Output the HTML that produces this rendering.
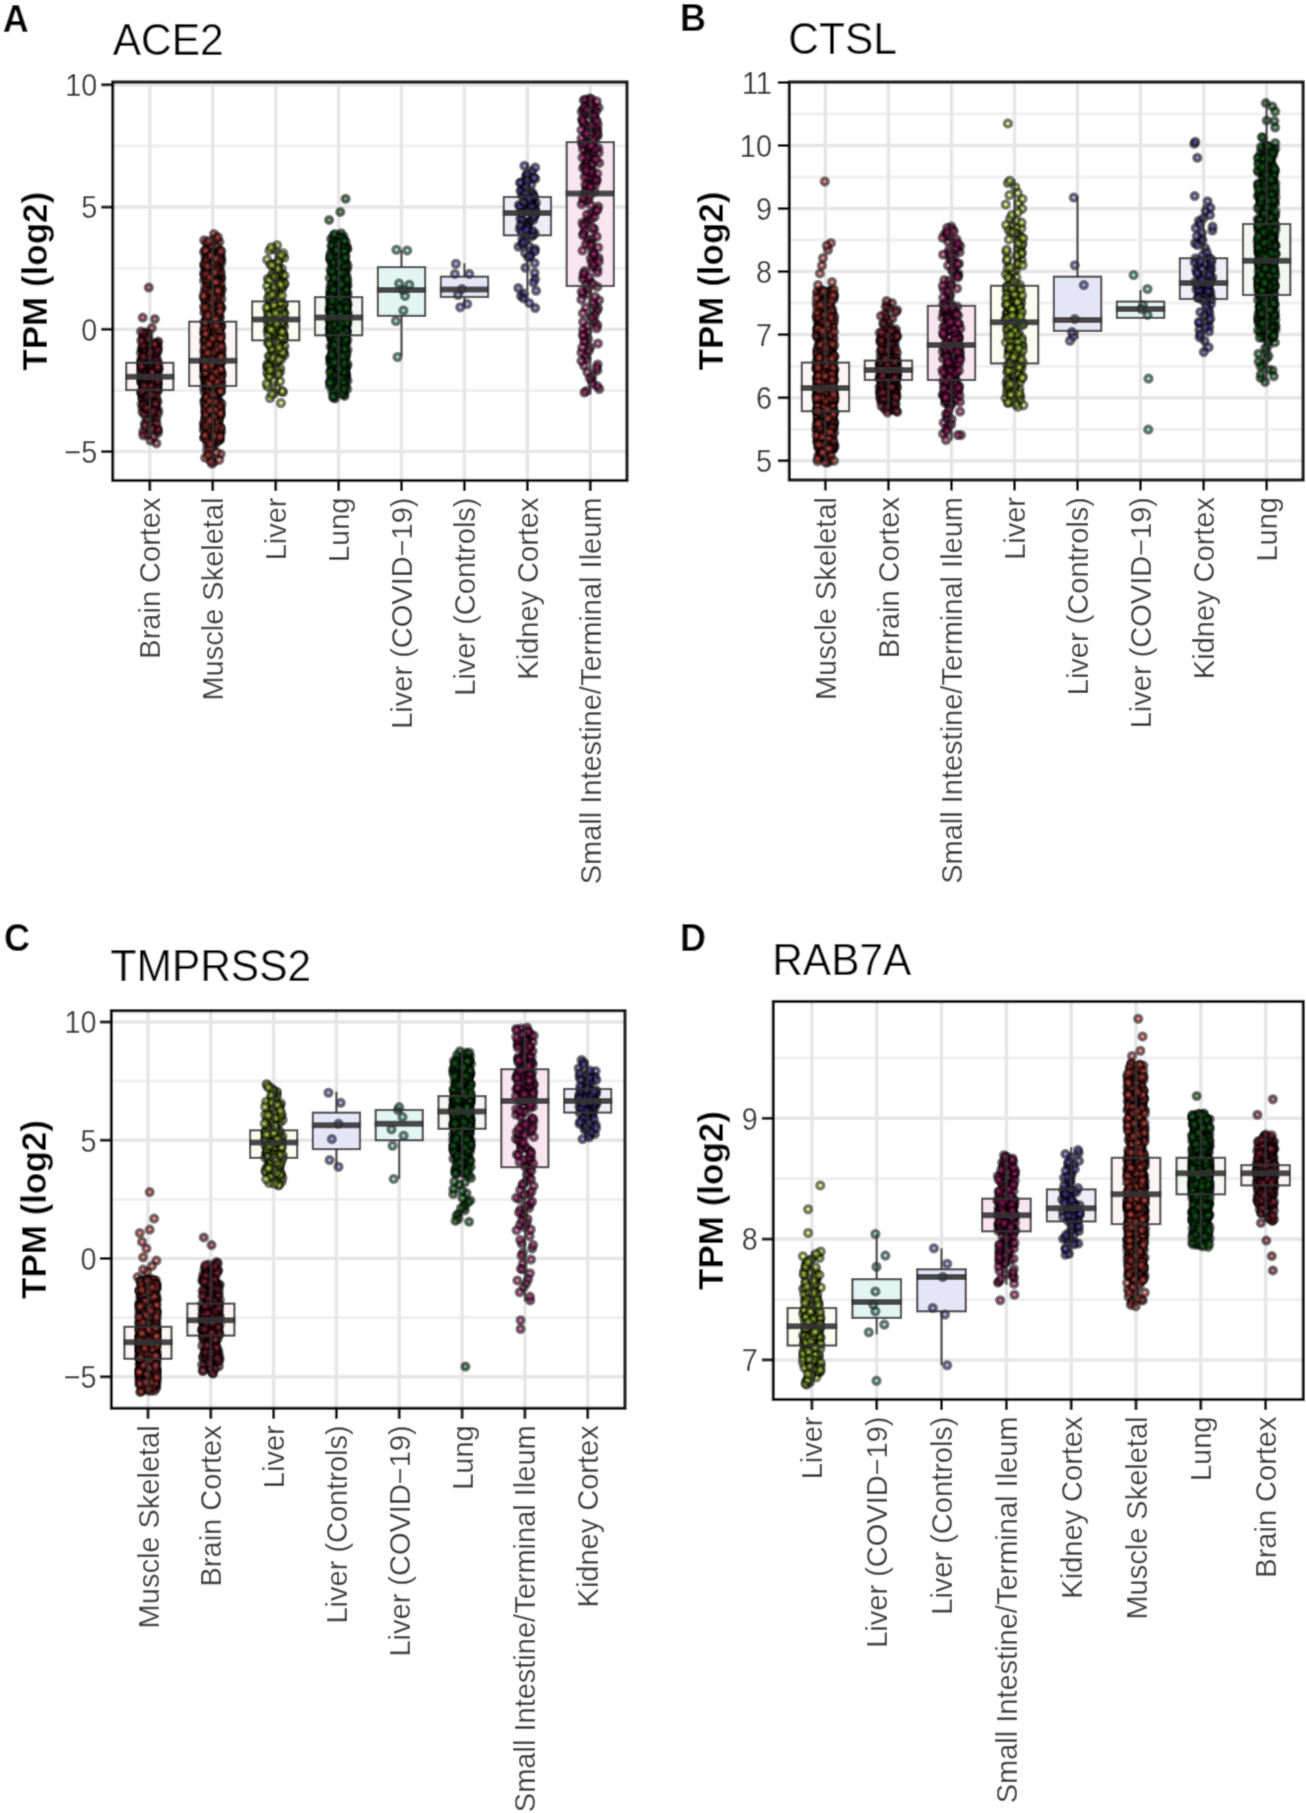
<!DOCTYPE html><html><head><meta charset="utf-8"><style>html,body{margin:0;padding:0;background:#fff;overflow:hidden}svg{display:block}text{font-family:"Liberation Sans",sans-serif}.p circle{r:3.50px;stroke:#000;stroke-width:3.50px;fill-opacity:0.62;stroke-opacity:0.50}</style></head><body><svg width="1306" height="1813" viewBox="0 0 1306 1813"><defs><filter id="bl" x="0" y="0" width="1306" height="1813" filterUnits="userSpaceOnUse"><feConvolveMatrix order="3" kernelMatrix="0.0277 0.1110 0.0277 0.1110 0.4452 0.1110 0.0277 0.1110 0.0277" edgeMode="duplicate" preserveAlpha="true"/></filter></defs><g filter="url(#bl)"><rect width="1306" height="1813" fill="#fff"/><text transform="translate(2.8 31.6) scale(0.95 1)" font-size="38" font-weight="bold" fill="#000">A</text><text transform="translate(112.8 54.5) scale(0.965 1)" font-size="44" fill="#000">ACE2</text><g stroke="#e6e6e6" stroke-width="3.5"><line x1="112.7" x2="627" y1="145.9" y2="145.9" stroke-width="3" stroke="#f0f0f0"/><line x1="112.7" x2="627" y1="268.2" y2="268.2" stroke-width="3" stroke="#f0f0f0"/><line x1="112.7" x2="627" y1="390.4" y2="390.4" stroke-width="3" stroke="#f0f0f0"/><line x1="112.7" x2="627" y1="84.8" y2="84.8"/><line x1="112.7" x2="627" y1="207.1" y2="207.1"/><line x1="112.7" x2="627" y1="329.3" y2="329.3"/><line x1="112.7" x2="627" y1="451.6" y2="451.6"/><line x1="149.8" x2="149.8" y1="82" y2="480.5"/><line x1="212.7" x2="212.7" y1="82" y2="480.5"/><line x1="275.7" x2="275.7" y1="82" y2="480.5"/><line x1="338.6" x2="338.6" y1="82" y2="480.5"/><line x1="401.5" x2="401.5" y1="82" y2="480.5"/><line x1="464.4" x2="464.4" y1="82" y2="480.5"/><line x1="527.4" x2="527.4" y1="82" y2="480.5"/><line x1="590.3" x2="590.3" y1="82" y2="480.5"/></g><rect x="126.2" y="362.8" width="47.2" height="27.2" fill="#fbf4f5"/><rect x="189.1" y="321.7" width="47.2" height="64.3" fill="#fdf4f4"/><rect x="252.1" y="301.4" width="47.2" height="38.9" fill="#fbfdf0"/><rect x="315" y="297.1" width="47.2" height="38.2" fill="#f3f7f3"/><rect x="377.9" y="267.1" width="47.2" height="48.8" fill="#e2f5f2"/><rect x="440.9" y="276.7" width="47.2" height="20.3" fill="#e5e5f8"/><rect x="503.8" y="197" width="47.2" height="38.3" fill="#eeecf6"/><rect x="566.7" y="142.1" width="47.2" height="143.9" fill="#f8e5f0"/><g class="p" fill="#9a2a3c"><circle cx="147.2" cy="411"/><circle cx="154.6" cy="351.1"/><circle cx="151.1" cy="363.9"/><circle cx="146.6" cy="355.8"/><circle cx="150.5" cy="357.1"/><circle cx="147.4" cy="402.5"/><circle cx="146.7" cy="373.8"/><circle cx="144.8" cy="392.6"/><circle cx="144.7" cy="346.7"/><circle cx="157" cy="378.4"/><circle cx="147.9" cy="374.2"/><circle cx="143.4" cy="395.4"/><circle cx="152.3" cy="387.6"/><circle cx="155.1" cy="421.7"/><circle cx="146.6" cy="434.5"/><circle cx="144.2" cy="361.2"/><circle cx="141.4" cy="361"/><circle cx="149.4" cy="359.9"/><circle cx="157.6" cy="384"/><circle cx="141.2" cy="365.5"/><circle cx="146.9" cy="419.6"/><circle cx="145.6" cy="369.3"/><circle cx="150.4" cy="409"/><circle cx="145" cy="382.6"/><circle cx="154.9" cy="369"/><circle cx="149" cy="377.8"/><circle cx="152.1" cy="360.7"/><circle cx="151.4" cy="365.2"/><circle cx="155.6" cy="346.1"/><circle cx="141.5" cy="363.6"/><circle cx="145" cy="381.5"/><circle cx="141.6" cy="404"/><circle cx="142.6" cy="393.3"/><circle cx="145.7" cy="401.2"/><circle cx="147.5" cy="388.3"/><circle cx="142.4" cy="407.5"/><circle cx="142.5" cy="412"/><circle cx="153.4" cy="375.3"/><circle cx="153.5" cy="375.6"/><circle cx="142.7" cy="383.6"/><circle cx="142.3" cy="362.7"/><circle cx="143.9" cy="335.7"/><circle cx="141.6" cy="382.3"/><circle cx="149.5" cy="350.2"/><circle cx="152.5" cy="398.7"/><circle cx="144" cy="355"/><circle cx="158.5" cy="369.5"/><circle cx="144.1" cy="353.1"/><circle cx="153" cy="414.8"/><circle cx="151" cy="405.1"/><circle cx="143.7" cy="375.5"/><circle cx="141.3" cy="393"/><circle cx="156" cy="362.1"/><circle cx="149.9" cy="389.3"/><circle cx="152.1" cy="371.9"/><circle cx="155" cy="373.6"/><circle cx="143.2" cy="378.6"/><circle cx="151.8" cy="350.6"/><circle cx="153.5" cy="379.8"/><circle cx="156.6" cy="354.4"/><circle cx="149.8" cy="381.8"/><circle cx="146.7" cy="354.6"/><circle cx="152" cy="356.2"/><circle cx="148" cy="359.3"/><circle cx="147.1" cy="412"/><circle cx="151.5" cy="379.4"/><circle cx="148" cy="372.7"/><circle cx="146.7" cy="357"/><circle cx="154.7" cy="349.7"/><circle cx="143.6" cy="394"/><circle cx="154.1" cy="427.6"/><circle cx="150.1" cy="363.2"/><circle cx="154.1" cy="376.5"/><circle cx="149.9" cy="353.5"/><circle cx="157.4" cy="386.1"/><circle cx="155.5" cy="365.8"/><circle cx="144.9" cy="423.5"/><circle cx="157.9" cy="432.9"/><circle cx="140.9" cy="352.7"/><circle cx="146.8" cy="384.3"/><circle cx="152.4" cy="390.2"/><circle cx="142.2" cy="349.1"/><circle cx="143.6" cy="376.8"/><circle cx="156.2" cy="382.1"/><circle cx="151.8" cy="373.9"/><circle cx="144.2" cy="340.1"/><circle cx="156.5" cy="443.2"/><circle cx="146.9" cy="380.4"/><circle cx="158.2" cy="341.5"/><circle cx="154.9" cy="406.6"/><circle cx="157.2" cy="382.5"/><circle cx="144.8" cy="367.4"/><circle cx="150.9" cy="369.2"/><circle cx="147.4" cy="357.9"/><circle cx="158.1" cy="430.3"/><circle cx="151.2" cy="383"/><circle cx="146.6" cy="406.3"/><circle cx="153.8" cy="372.1"/><circle cx="152.5" cy="370.1"/><circle cx="142" cy="358.5"/><circle cx="141.7" cy="348.7"/><circle cx="146.4" cy="381"/><circle cx="148" cy="370.7"/><circle cx="141.1" cy="368.9"/><circle cx="151.9" cy="328"/><circle cx="152.4" cy="417.6"/><circle cx="152.6" cy="364.7"/><circle cx="144.1" cy="361.4"/><circle cx="156.2" cy="409.5"/><circle cx="150.1" cy="383.4"/><circle cx="148.6" cy="403.8"/><circle cx="155" cy="353.9"/><circle cx="143.4" cy="384.9"/><circle cx="157.2" cy="370.6"/><circle cx="147.4" cy="397.4"/><circle cx="152.9" cy="357.5"/><circle cx="153.9" cy="371.3"/><circle cx="146.6" cy="398.3"/><circle cx="157.4" cy="368.3"/><circle cx="151" cy="371.2"/><circle cx="142.7" cy="389"/><circle cx="148.7" cy="381.2"/><circle cx="154" cy="368.6"/><circle cx="154.1" cy="383.8"/><circle cx="142.5" cy="373"/><circle cx="142.7" cy="317.6"/><circle cx="146.5" cy="375.9"/><circle cx="149.4" cy="397.1"/><circle cx="157.8" cy="390.9"/><circle cx="151" cy="366.4"/><circle cx="144.1" cy="401.6"/><circle cx="148.6" cy="334.5"/><circle cx="145.8" cy="387.7"/><circle cx="147.8" cy="376.2"/><circle cx="142.2" cy="397.7"/><circle cx="156.7" cy="345.2"/><circle cx="157.8" cy="428.9"/><circle cx="154" cy="407.1"/><circle cx="144.6" cy="384.2"/><circle cx="154.6" cy="402.5"/><circle cx="155.7" cy="375.8"/><circle cx="143.8" cy="347.6"/><circle cx="150.4" cy="440.5"/><circle cx="143.2" cy="431.4"/><circle cx="151.4" cy="347.1"/><circle cx="155.3" cy="383.8"/><circle cx="147.7" cy="371.6"/><circle cx="154.6" cy="378"/><circle cx="143.6" cy="348.5"/><circle cx="153.9" cy="374.6"/><circle cx="148.9" cy="388.9"/><circle cx="150.8" cy="388.1"/><circle cx="144.6" cy="390.1"/><circle cx="144.7" cy="367.1"/><circle cx="151.3" cy="413.5"/><circle cx="144.1" cy="386.5"/><circle cx="150.3" cy="364.4"/><circle cx="143" cy="399.3"/><circle cx="142.4" cy="337.8"/><circle cx="143.2" cy="387.2"/><circle cx="151.4" cy="389.2"/><circle cx="155.1" cy="408.7"/><circle cx="151.1" cy="410.4"/><circle cx="145.6" cy="399"/><circle cx="158.1" cy="347.4"/><circle cx="152.3" cy="368.6"/><circle cx="145" cy="425.8"/><circle cx="145" cy="363"/><circle cx="147.2" cy="336.6"/><circle cx="146.9" cy="409.3"/><circle cx="141.3" cy="360"/><circle cx="143.9" cy="386.3"/><circle cx="150.2" cy="364.8"/><circle cx="146.5" cy="377.4"/><circle cx="157.9" cy="350.9"/><circle cx="151.4" cy="400.4"/><circle cx="153.1" cy="381.6"/><circle cx="141.4" cy="382.8"/><circle cx="151.1" cy="374.8"/><circle cx="147.9" cy="376.1"/><circle cx="158" cy="410"/><circle cx="150.1" cy="355.3"/><circle cx="157.8" cy="389.6"/><circle cx="151.4" cy="386.6"/><circle cx="141" cy="378.7"/><circle cx="143.7" cy="384.4"/><circle cx="156.5" cy="417.9"/><circle cx="148.3" cy="354.3"/><circle cx="157.7" cy="342.9"/><circle cx="146.1" cy="388.5"/><circle cx="143.8" cy="351.6"/><circle cx="143.2" cy="435.2"/><circle cx="143.5" cy="339.1"/><circle cx="145" cy="352.1"/><circle cx="155.5" cy="411.4"/><circle cx="149.6" cy="379.2"/><circle cx="152.9" cy="388"/><circle cx="147.9" cy="377.9"/><circle cx="150.2" cy="345.7"/><circle cx="153.6" cy="436.7"/><circle cx="158.2" cy="413"/><circle cx="141.1" cy="373.4"/><circle cx="145.3" cy="373.3"/><circle cx="144.9" cy="348.1"/><circle cx="147.4" cy="385.8"/><circle cx="143.7" cy="365.4"/><circle cx="156.2" cy="364.3"/><circle cx="145" cy="346.4"/><circle cx="148" cy="374.5"/><circle cx="155.4" cy="382.8"/><circle cx="147.2" cy="395.9"/><circle cx="150.8" cy="347"/><circle cx="148.8" cy="287.5"/><circle cx="148.4" cy="370.9"/><circle cx="155.2" cy="366.3"/><circle cx="157" cy="361.7"/><circle cx="142.7" cy="397.9"/><circle cx="145.5" cy="391.6"/><circle cx="150.8" cy="351.5"/><circle cx="153" cy="349.8"/><circle cx="143.5" cy="365"/><circle cx="146.6" cy="379.6"/><circle cx="157.6" cy="402.1"/><circle cx="146.2" cy="391.9"/><circle cx="158" cy="383.2"/><circle cx="146.2" cy="332.5"/><circle cx="144.9" cy="379.1"/><circle cx="153.3" cy="372.5"/><circle cx="146.8" cy="400.9"/><circle cx="141.2" cy="381.1"/><circle cx="142.1" cy="393.6"/><circle cx="148.7" cy="412.6"/><circle cx="146.5" cy="405.1"/><circle cx="155.3" cy="387.4"/><circle cx="155.8" cy="348.1"/><circle cx="147.5" cy="369.7"/><circle cx="151.1" cy="358.2"/><circle cx="149.8" cy="367.3"/><circle cx="146.2" cy="362.1"/><circle cx="144.3" cy="414.2"/><circle cx="143.7" cy="334"/><circle cx="147" cy="408.3"/><circle cx="157" cy="399.8"/><circle cx="143.1" cy="380.2"/><circle cx="146.9" cy="363.5"/><circle cx="152.6" cy="375.1"/><circle cx="144.3" cy="333"/><circle cx="145.3" cy="371"/><circle cx="150.6" cy="403.1"/><circle cx="150.6" cy="406"/><circle cx="157.7" cy="372.2"/><circle cx="156.7" cy="423.4"/><circle cx="155.4" cy="389.9"/><circle cx="156.1" cy="395.1"/><circle cx="142.8" cy="366.6"/><circle cx="157.3" cy="370.3"/><circle cx="146" cy="352.2"/><circle cx="153.4" cy="385.6"/><circle cx="141.3" cy="370.3"/><circle cx="148.1" cy="400.1"/><circle cx="141" cy="392.3"/><circle cx="157.7" cy="385.5"/><circle cx="153.7" cy="387"/><circle cx="150.8" cy="368.4"/><circle cx="144.1" cy="379.6"/><circle cx="153.6" cy="358.7"/><circle cx="152.5" cy="380.7"/><circle cx="150.7" cy="384.7"/><circle cx="141" cy="363.1"/><circle cx="151.9" cy="429"/><circle cx="153.6" cy="388.8"/><circle cx="156.4" cy="365.7"/><circle cx="143.2" cy="384.9"/><circle cx="154.2" cy="358.9"/><circle cx="145.6" cy="359.5"/><circle cx="149.8" cy="375"/><circle cx="141.6" cy="366.2"/><circle cx="148.2" cy="355.5"/><circle cx="148.2" cy="338.6"/><circle cx="147.8" cy="396.3"/><circle cx="143.7" cy="376.9"/><circle cx="143.3" cy="385.2"/><circle cx="154.2" cy="367.6"/><circle cx="152" cy="376.6"/><circle cx="155.2" cy="353.4"/><circle cx="152.1" cy="350.3"/><circle cx="147" cy="396.4"/><circle cx="154.1" cy="345.6"/><circle cx="142.6" cy="344.7"/><circle cx="151.4" cy="388.3"/><circle cx="143" cy="387.1"/><circle cx="145.9" cy="374.1"/><circle cx="154.4" cy="380"/><circle cx="151.4" cy="367.8"/><circle cx="143.5" cy="363.7"/><circle cx="157.4" cy="349.4"/><circle cx="141.2" cy="340.6"/><circle cx="152.7" cy="369.9"/><circle cx="152.7" cy="380.3"/><circle cx="154.2" cy="342.9"/><circle cx="143.6" cy="404.4"/><circle cx="152.8" cy="413.3"/><circle cx="157.2" cy="377.1"/><circle cx="141" cy="331.4"/><circle cx="154.9" cy="319.1"/><circle cx="142.6" cy="390.8"/><circle cx="150.9" cy="372.9"/><circle cx="152.3" cy="371.7"/><circle cx="154.7" cy="344.5"/><circle cx="157.2" cy="389.6"/><circle cx="155.8" cy="405.6"/><circle cx="149.3" cy="394.3"/><circle cx="158.7" cy="368"/><circle cx="153.2" cy="378.2"/><circle cx="157.4" cy="360.3"/><circle cx="152.1" cy="372.5"/><circle cx="145.5" cy="357.8"/><circle cx="149.1" cy="355.9"/><circle cx="157.9" cy="380.8"/><circle cx="155.4" cy="403.5"/><circle cx="158.4" cy="364.1"/><circle cx="141.5" cy="362.6"/><circle cx="143.2" cy="356.5"/><circle cx="142.5" cy="366.9"/><circle cx="148.2" cy="386.8"/><circle cx="141.1" cy="366"/><circle cx="150.8" cy="385.4"/><circle cx="150.2" cy="352.6"/><circle cx="144.3" cy="381.9"/><circle cx="157.7" cy="367"/><circle cx="145" cy="378.9"/><circle cx="152.2" cy="394.8"/><circle cx="145.2" cy="377.5"/><circle cx="146.6" cy="407.7"/><circle cx="144.4" cy="386"/><circle cx="153.2" cy="410.7"/><circle cx="146.4" cy="377.2"/></g><g class="p" fill="#d44a46"><circle cx="221.4" cy="278.1"/><circle cx="217.9" cy="316.4"/><circle cx="212.5" cy="330.1"/><circle cx="206.3" cy="260.6"/><circle cx="203.9" cy="375.9"/><circle cx="213.3" cy="337"/><circle cx="206.9" cy="348.2"/><circle cx="219.1" cy="317.7"/><circle cx="213.5" cy="280.2"/><circle cx="207.2" cy="243.7"/><circle cx="203.8" cy="430"/><circle cx="221.2" cy="372.3"/><circle cx="213.7" cy="301.5"/><circle cx="204.2" cy="388.5"/><circle cx="213.7" cy="338.6"/><circle cx="218.1" cy="387.6"/><circle cx="221.2" cy="431.7"/><circle cx="216.7" cy="317.4"/><circle cx="209.8" cy="390.8"/><circle cx="221.3" cy="357"/><circle cx="212.8" cy="345.8"/><circle cx="216.9" cy="344.8"/><circle cx="208.9" cy="365.6"/><circle cx="216.6" cy="345.8"/><circle cx="212.5" cy="404.4"/><circle cx="206.7" cy="347.9"/><circle cx="217.3" cy="363.4"/><circle cx="206.7" cy="378.4"/><circle cx="210.8" cy="433.1"/><circle cx="212" cy="311.8"/><circle cx="206.1" cy="320"/><circle cx="218.1" cy="330.6"/><circle cx="221.2" cy="324.9"/><circle cx="204.5" cy="400.3"/><circle cx="205.8" cy="412.5"/><circle cx="220.4" cy="342.7"/><circle cx="208.9" cy="333.2"/><circle cx="211.4" cy="389.5"/><circle cx="209.1" cy="340.2"/><circle cx="215.1" cy="380.6"/><circle cx="209.3" cy="440"/><circle cx="209.5" cy="252"/><circle cx="209.3" cy="331.9"/><circle cx="204.6" cy="291.7"/><circle cx="204.6" cy="275.2"/><circle cx="213.2" cy="342"/><circle cx="211.8" cy="365.5"/><circle cx="209.6" cy="343.1"/><circle cx="213.5" cy="284.6"/><circle cx="211.7" cy="247.2"/><circle cx="216.4" cy="301.7"/><circle cx="214.2" cy="446.2"/><circle cx="211.9" cy="349.7"/><circle cx="210.7" cy="430.4"/><circle cx="218.5" cy="326.3"/><circle cx="208.1" cy="394.9"/><circle cx="205" cy="332.8"/><circle cx="209.1" cy="305.4"/><circle cx="219.7" cy="391.9"/><circle cx="215.2" cy="352.6"/><circle cx="220.2" cy="250.5"/><circle cx="208.4" cy="398.5"/><circle cx="211.1" cy="395.6"/><circle cx="204" cy="306.8"/><circle cx="207.2" cy="326.8"/><circle cx="216.1" cy="377.1"/><circle cx="219.3" cy="384.3"/><circle cx="218.9" cy="404.4"/><circle cx="213" cy="251.4"/><circle cx="218.2" cy="413.8"/><circle cx="206.1" cy="379.7"/><circle cx="217.2" cy="434.4"/><circle cx="215" cy="410.5"/><circle cx="206.9" cy="264.6"/><circle cx="206.9" cy="389.9"/><circle cx="212.6" cy="324.3"/><circle cx="208.4" cy="270.1"/><circle cx="213.4" cy="361.9"/><circle cx="206.8" cy="408.8"/><circle cx="209.3" cy="364.4"/><circle cx="216.7" cy="294.2"/><circle cx="219.2" cy="278.5"/><circle cx="207.2" cy="403.6"/><circle cx="212.7" cy="314.6"/><circle cx="215.9" cy="434.7"/><circle cx="220.6" cy="415.9"/><circle cx="217.1" cy="406.1"/><circle cx="207.4" cy="257.1"/><circle cx="204.4" cy="351.6"/><circle cx="209.5" cy="374.4"/><circle cx="205.2" cy="269.1"/><circle cx="204.6" cy="328.6"/><circle cx="212.1" cy="364.6"/><circle cx="212.8" cy="392.6"/><circle cx="205" cy="412"/><circle cx="215.4" cy="362.4"/><circle cx="209.3" cy="376.5"/><circle cx="208.8" cy="385.7"/><circle cx="214.9" cy="430.1"/><circle cx="207.1" cy="348.8"/><circle cx="221.2" cy="258.5"/><circle cx="215.5" cy="261.9"/><circle cx="216.3" cy="423.7"/><circle cx="208.5" cy="289.9"/><circle cx="216.2" cy="397"/><circle cx="219.8" cy="383.7"/><circle cx="209.8" cy="361.5"/><circle cx="215.7" cy="318.4"/><circle cx="215.1" cy="393.2"/><circle cx="207.4" cy="316.6"/><circle cx="206.1" cy="346.8"/><circle cx="206.4" cy="331.7"/><circle cx="207.6" cy="433.8"/><circle cx="206.4" cy="266.9"/><circle cx="211.8" cy="447.8"/><circle cx="216.2" cy="376.1"/><circle cx="208.2" cy="347.8"/><circle cx="212.2" cy="366.1"/><circle cx="220.9" cy="277.6"/><circle cx="220.4" cy="373.7"/><circle cx="214.1" cy="341"/><circle cx="221.6" cy="373.5"/><circle cx="211.1" cy="421.8"/><circle cx="208.5" cy="305.1"/><circle cx="217.5" cy="337.9"/><circle cx="210.3" cy="276.3"/><circle cx="221.5" cy="362.3"/><circle cx="206.8" cy="327.6"/><circle cx="209.4" cy="376.8"/><circle cx="212.8" cy="398.1"/><circle cx="207.5" cy="313.6"/><circle cx="219.1" cy="370.9"/><circle cx="218.4" cy="322.5"/><circle cx="211.8" cy="362.5"/><circle cx="207.4" cy="286.1"/><circle cx="207.5" cy="270.7"/><circle cx="208.4" cy="376.8"/><circle cx="218.7" cy="383.1"/><circle cx="220.3" cy="405.5"/><circle cx="215.1" cy="360.4"/><circle cx="206.5" cy="319.3"/><circle cx="205.4" cy="258"/><circle cx="217.1" cy="356.4"/><circle cx="218.9" cy="382.5"/><circle cx="218.9" cy="326.5"/><circle cx="208.2" cy="385.3"/><circle cx="211.6" cy="337.3"/><circle cx="207.6" cy="412.7"/><circle cx="208.3" cy="359.9"/><circle cx="211.2" cy="303.7"/><circle cx="216.3" cy="349.9"/><circle cx="206.9" cy="390.2"/><circle cx="220.7" cy="454.1"/><circle cx="216.2" cy="401.3"/><circle cx="205.8" cy="371.4"/><circle cx="207.6" cy="288.6"/><circle cx="217.3" cy="407.8"/><circle cx="211.1" cy="358.1"/><circle cx="204.2" cy="366.6"/><circle cx="211.1" cy="369.8"/><circle cx="215.7" cy="361.8"/><circle cx="208" cy="389.2"/><circle cx="206" cy="253.5"/><circle cx="219" cy="327.9"/><circle cx="208.4" cy="265.2"/><circle cx="211.7" cy="314.2"/><circle cx="204.9" cy="332.1"/><circle cx="220.2" cy="292.7"/><circle cx="211.2" cy="271.7"/><circle cx="204.8" cy="383.5"/><circle cx="209.3" cy="360.3"/><circle cx="216.8" cy="402.9"/><circle cx="210.6" cy="377.2"/><circle cx="211.1" cy="456.4"/><circle cx="211" cy="359.7"/><circle cx="216.8" cy="404.9"/><circle cx="205.6" cy="275.5"/><circle cx="204.8" cy="339.6"/><circle cx="215.2" cy="411.3"/><circle cx="212.4" cy="345.2"/><circle cx="217.3" cy="385.2"/><circle cx="206.3" cy="425.2"/><circle cx="214.1" cy="323.9"/><circle cx="209.4" cy="383.3"/><circle cx="209.1" cy="354.4"/><circle cx="207.2" cy="444.7"/><circle cx="219.8" cy="402.2"/><circle cx="208.8" cy="296.9"/><circle cx="215.7" cy="378.1"/><circle cx="204.2" cy="240.3"/><circle cx="209.5" cy="328.3"/><circle cx="215.4" cy="378.2"/><circle cx="213.1" cy="320.4"/><circle cx="206.3" cy="360.6"/><circle cx="215.9" cy="253.9"/><circle cx="210.7" cy="420.6"/><circle cx="221.3" cy="288.2"/><circle cx="205.8" cy="379.5"/><circle cx="214.4" cy="382"/><circle cx="204" cy="423.9"/><circle cx="209.2" cy="356.1"/><circle cx="209.6" cy="373.6"/><circle cx="204" cy="437.9"/><circle cx="219.7" cy="356.8"/><circle cx="206.1" cy="327.1"/><circle cx="211.4" cy="333.9"/><circle cx="211.7" cy="289.1"/><circle cx="208" cy="382.8"/><circle cx="213.5" cy="368.2"/><circle cx="215.8" cy="267.1"/><circle cx="207.1" cy="296.2"/><circle cx="211.3" cy="287.3"/><circle cx="213.4" cy="462.4"/><circle cx="205.3" cy="346.8"/><circle cx="204.7" cy="371.2"/><circle cx="210.2" cy="288.3"/><circle cx="205.4" cy="365.4"/><circle cx="214" cy="441.9"/><circle cx="217.4" cy="391.1"/><circle cx="207.7" cy="417.8"/><circle cx="213.3" cy="362.1"/><circle cx="213.6" cy="379.3"/><circle cx="219.5" cy="439.4"/><circle cx="215.1" cy="371.6"/><circle cx="206.2" cy="371.3"/><circle cx="207.7" cy="408.7"/><circle cx="207.7" cy="382.8"/><circle cx="209.1" cy="252.6"/><circle cx="219.4" cy="270.8"/><circle cx="218.4" cy="376.3"/><circle cx="212.7" cy="265.5"/><circle cx="214" cy="324.1"/><circle cx="208" cy="437.4"/><circle cx="214.6" cy="414.5"/><circle cx="220.8" cy="345.4"/><circle cx="214.1" cy="416"/><circle cx="213.1" cy="293.4"/><circle cx="209.4" cy="328.5"/><circle cx="204.4" cy="312.8"/><circle cx="208" cy="284.4"/><circle cx="216.1" cy="422.3"/><circle cx="204.8" cy="400.9"/><circle cx="219.4" cy="363.7"/><circle cx="206.3" cy="263"/><circle cx="214.2" cy="355.8"/><circle cx="210.9" cy="409.3"/><circle cx="219.6" cy="365.1"/><circle cx="214.1" cy="341.8"/><circle cx="204" cy="252.1"/><circle cx="207.8" cy="396.7"/><circle cx="204.3" cy="339.8"/><circle cx="213.9" cy="276"/><circle cx="214.2" cy="377"/><circle cx="211.9" cy="369.3"/><circle cx="214.2" cy="322"/><circle cx="209.2" cy="319"/><circle cx="211" cy="331.2"/><circle cx="207.4" cy="369.5"/><circle cx="215.9" cy="311"/><circle cx="217.9" cy="303.3"/><circle cx="217" cy="427.4"/><circle cx="218.6" cy="368.8"/><circle cx="209.1" cy="346.1"/><circle cx="214.8" cy="394"/><circle cx="208.7" cy="413.6"/><circle cx="208.8" cy="429.2"/><circle cx="214.8" cy="432.3"/><circle cx="208.6" cy="379.8"/><circle cx="217.4" cy="249.5"/><circle cx="208.2" cy="358.8"/><circle cx="209.1" cy="325.1"/><circle cx="220" cy="317.1"/><circle cx="209" cy="323.4"/><circle cx="204.5" cy="350.5"/><circle cx="206.3" cy="382.2"/><circle cx="211.7" cy="268.5"/><circle cx="208.9" cy="361.1"/><circle cx="207.5" cy="432.7"/><circle cx="210.6" cy="295.3"/><circle cx="205.7" cy="333.8"/><circle cx="215.6" cy="356.3"/><circle cx="204.3" cy="370.7"/><circle cx="204.2" cy="370.1"/><circle cx="215.9" cy="348.1"/><circle cx="208.9" cy="341.6"/><circle cx="208" cy="344.9"/><circle cx="212.3" cy="381.2"/><circle cx="211.5" cy="297.8"/><circle cx="209.2" cy="454.6"/><circle cx="215" cy="360.6"/><circle cx="210.1" cy="381.7"/><circle cx="216.1" cy="411.6"/><circle cx="212.2" cy="392.9"/><circle cx="215.4" cy="370.2"/><circle cx="208.2" cy="308.3"/><circle cx="213.2" cy="440.1"/><circle cx="219" cy="354.1"/><circle cx="216.5" cy="377.3"/><circle cx="219.3" cy="433.5"/><circle cx="217.6" cy="286.4"/><circle cx="212.7" cy="432"/><circle cx="211.5" cy="280.7"/><circle cx="206.4" cy="278.8"/><circle cx="217" cy="245.6"/><circle cx="213.1" cy="321.6"/><circle cx="216.2" cy="357.9"/><circle cx="221" cy="376.2"/><circle cx="206.1" cy="342.3"/><circle cx="209.2" cy="246.2"/><circle cx="211.3" cy="286"/><circle cx="218.6" cy="422.9"/><circle cx="216.3" cy="441"/><circle cx="216.7" cy="358.2"/><circle cx="212.4" cy="380.9"/><circle cx="210.7" cy="336.2"/><circle cx="215.1" cy="383.6"/><circle cx="221.7" cy="289.8"/><circle cx="205.1" cy="417.4"/><circle cx="217.5" cy="367.6"/><circle cx="217.5" cy="314.6"/><circle cx="219.4" cy="241.7"/><circle cx="212.9" cy="430.7"/><circle cx="219" cy="404.1"/><circle cx="207.7" cy="375.5"/><circle cx="215.9" cy="369.9"/><circle cx="214.6" cy="326.1"/><circle cx="213.3" cy="372.9"/><circle cx="209.9" cy="375.6"/><circle cx="211.7" cy="368.2"/><circle cx="212.1" cy="350.3"/><circle cx="207.2" cy="384.8"/><circle cx="205.9" cy="353.1"/><circle cx="220.6" cy="293.7"/><circle cx="209.7" cy="377.6"/><circle cx="204" cy="426"/><circle cx="218.2" cy="378.7"/><circle cx="211.1" cy="395.3"/><circle cx="215.6" cy="334.7"/><circle cx="219.6" cy="432.9"/><circle cx="217.3" cy="344"/><circle cx="221.3" cy="381.6"/><circle cx="211.1" cy="281.2"/><circle cx="216.4" cy="374.2"/><circle cx="205.1" cy="405.8"/><circle cx="209.5" cy="388.4"/><circle cx="213.8" cy="286.7"/><circle cx="207.6" cy="428.3"/><circle cx="219.4" cy="368"/><circle cx="214.9" cy="405.3"/><circle cx="204.8" cy="392.4"/><circle cx="212.1" cy="344.5"/><circle cx="204.8" cy="378.5"/><circle cx="214.3" cy="285.2"/><circle cx="207.1" cy="450.1"/><circle cx="212.2" cy="367.4"/><circle cx="218.4" cy="275.8"/><circle cx="206.6" cy="242.7"/><circle cx="218.1" cy="399.5"/><circle cx="219.8" cy="376.7"/><circle cx="214.2" cy="358.3"/><circle cx="204.8" cy="377.7"/><circle cx="209.3" cy="305.8"/><circle cx="213.5" cy="257.7"/><circle cx="218.9" cy="419.9"/><circle cx="210.9" cy="337.7"/><circle cx="220.4" cy="382.3"/><circle cx="204.1" cy="333.6"/><circle cx="215.3" cy="256.2"/><circle cx="211.2" cy="279.5"/><circle cx="212.6" cy="342.5"/><circle cx="213.5" cy="327.4"/><circle cx="218.5" cy="355.6"/><circle cx="211.4" cy="434.1"/><circle cx="210.2" cy="294.6"/><circle cx="207.6" cy="382.4"/><circle cx="218.8" cy="380"/><circle cx="206.9" cy="296.4"/><circle cx="209.2" cy="366.2"/><circle cx="219.1" cy="336.5"/><circle cx="217.9" cy="387.1"/><circle cx="219.3" cy="329.4"/><circle cx="205" cy="341.2"/><circle cx="205.1" cy="323.1"/><circle cx="208.2" cy="422.7"/><circle cx="205.9" cy="366.3"/><circle cx="216" cy="413.2"/><circle cx="205.3" cy="436.2"/><circle cx="214" cy="378.9"/><circle cx="213.9" cy="282.8"/><circle cx="220.7" cy="428"/><circle cx="218.1" cy="382.7"/><circle cx="204" cy="280.6"/><circle cx="220.5" cy="273.9"/><circle cx="208.5" cy="393.8"/><circle cx="215.1" cy="381"/><circle cx="217.1" cy="281.9"/><circle cx="207.8" cy="379.2"/><circle cx="219.5" cy="251.6"/><circle cx="206.2" cy="332.5"/><circle cx="206.7" cy="374.8"/><circle cx="216.4" cy="353"/><circle cx="208.9" cy="327"/><circle cx="204.9" cy="380.1"/><circle cx="209.4" cy="353.6"/><circle cx="207" cy="419.2"/><circle cx="204.6" cy="298.5"/><circle cx="208.5" cy="360.9"/><circle cx="221" cy="307.4"/><circle cx="212.5" cy="403.2"/><circle cx="213.3" cy="339.5"/><circle cx="216.9" cy="294.4"/><circle cx="216.4" cy="398.2"/><circle cx="209.7" cy="332.5"/><circle cx="217.1" cy="362.7"/><circle cx="217.6" cy="375.4"/><circle cx="210.1" cy="333.1"/><circle cx="213.3" cy="352.3"/><circle cx="212.4" cy="309.1"/><circle cx="220.8" cy="255.1"/><circle cx="213.6" cy="400.6"/><circle cx="215.4" cy="339.4"/><circle cx="216.6" cy="319.7"/><circle cx="211.4" cy="256.6"/><circle cx="205.4" cy="359.4"/><circle cx="209.7" cy="348.5"/><circle cx="209.9" cy="353.4"/><circle cx="208.3" cy="424.7"/><circle cx="216.3" cy="350.9"/><circle cx="211.5" cy="378.5"/><circle cx="207.5" cy="304.9"/><circle cx="214.8" cy="367.2"/><circle cx="208.3" cy="399.1"/><circle cx="218.4" cy="281.4"/><circle cx="217.6" cy="433.3"/><circle cx="218.8" cy="283"/><circle cx="216.3" cy="254.6"/><circle cx="216.3" cy="353.7"/><circle cx="215.1" cy="310.2"/><circle cx="209.4" cy="362.9"/><circle cx="206.2" cy="372.4"/><circle cx="211.4" cy="370.6"/><circle cx="210.3" cy="289.3"/><circle cx="219.7" cy="287.4"/><circle cx="208.1" cy="364.7"/><circle cx="205.5" cy="372.2"/><circle cx="218.4" cy="255.9"/><circle cx="210.8" cy="276.6"/><circle cx="204.5" cy="367"/><circle cx="215.2" cy="237.8"/><circle cx="207.4" cy="342.6"/><circle cx="217.9" cy="347.1"/><circle cx="204.3" cy="361.4"/><circle cx="220.6" cy="354"/><circle cx="204.1" cy="264.5"/><circle cx="221" cy="413.1"/><circle cx="214.2" cy="388.8"/><circle cx="207.2" cy="263.7"/><circle cx="209.7" cy="323.6"/><circle cx="208.8" cy="292.4"/><circle cx="219.8" cy="372.8"/><circle cx="213.6" cy="284.9"/><circle cx="211.5" cy="426.8"/><circle cx="215.2" cy="370.8"/><circle cx="214" cy="234"/><circle cx="219.9" cy="439"/><circle cx="217.7" cy="323.1"/><circle cx="211.8" cy="300.6"/><circle cx="207.7" cy="352.4"/><circle cx="216.6" cy="374.9"/><circle cx="217.7" cy="385.5"/><circle cx="215" cy="436.6"/><circle cx="207.4" cy="372.6"/><circle cx="204.4" cy="343"/><circle cx="206.7" cy="268.6"/><circle cx="205" cy="401.9"/><circle cx="204.7" cy="359.6"/><circle cx="215.1" cy="276.9"/><circle cx="217.5" cy="285.7"/><circle cx="204" cy="273.2"/><circle cx="206.3" cy="424.2"/><circle cx="210.8" cy="330.3"/><circle cx="215.2" cy="364.3"/><circle cx="221.3" cy="262.8"/><circle cx="217.9" cy="364.9"/><circle cx="215.8" cy="352"/><circle cx="212.1" cy="399.8"/><circle cx="208.6" cy="389"/><circle cx="212" cy="463.5"/><circle cx="214.7" cy="268.1"/><circle cx="211" cy="440.7"/><circle cx="211.5" cy="351.1"/><circle cx="218.9" cy="369.3"/><circle cx="211" cy="269.8"/><circle cx="213.6" cy="373.1"/><circle cx="215.4" cy="368.1"/><circle cx="213.3" cy="396.3"/><circle cx="216.6" cy="380.4"/><circle cx="207.5" cy="435.7"/><circle cx="205.7" cy="301"/><circle cx="219" cy="435.9"/><circle cx="212.1" cy="335.7"/><circle cx="207.5" cy="383.2"/><circle cx="213" cy="384"/><circle cx="219.6" cy="360.1"/><circle cx="209" cy="343.4"/><circle cx="220" cy="415.2"/><circle cx="208.1" cy="340.4"/><circle cx="208.6" cy="322.9"/><circle cx="218.5" cy="261.9"/><circle cx="206.5" cy="362"/><circle cx="207.5" cy="283.6"/><circle cx="213.7" cy="324.2"/><circle cx="204.5" cy="266.1"/><circle cx="219.1" cy="407.4"/><circle cx="208.3" cy="348.4"/><circle cx="220" cy="267.7"/><circle cx="212.3" cy="341.5"/><circle cx="220.3" cy="324.6"/><circle cx="206.8" cy="380.8"/><circle cx="210.5" cy="439.3"/><circle cx="204.9" cy="369"/><circle cx="217.2" cy="408.1"/><circle cx="208" cy="355.4"/><circle cx="209.4" cy="336.4"/><circle cx="208.8" cy="347.2"/><circle cx="208.7" cy="371"/><circle cx="218.5" cy="273.4"/><circle cx="220" cy="370"/><circle cx="207.2" cy="269.4"/><circle cx="218.3" cy="272.1"/><circle cx="219.7" cy="368.5"/><circle cx="211" cy="264.9"/><circle cx="214.2" cy="338.2"/><circle cx="217.5" cy="306.3"/><circle cx="213.9" cy="373"/><circle cx="213.7" cy="417"/><circle cx="212.7" cy="259.3"/><circle cx="207.9" cy="324.5"/><circle cx="210" cy="441.4"/><circle cx="207.4" cy="377.4"/><circle cx="219.6" cy="376.6"/><circle cx="215.4" cy="377.7"/><circle cx="219.7" cy="354.8"/><circle cx="211.4" cy="315.8"/><circle cx="210.9" cy="399.4"/><circle cx="216.2" cy="389.7"/><circle cx="205" cy="287.9"/><circle cx="210.6" cy="385.8"/><circle cx="216.4" cy="368.9"/><circle cx="208.3" cy="358.9"/><circle cx="219" cy="339.9"/><circle cx="207" cy="381.1"/><circle cx="216.3" cy="314.9"/><circle cx="209" cy="371.5"/><circle cx="205" cy="365.5"/><circle cx="205.2" cy="278.2"/><circle cx="219.8" cy="365.8"/><circle cx="220.7" cy="407.6"/><circle cx="215.5" cy="394.6"/><circle cx="211" cy="376.3"/><circle cx="221.6" cy="403.8"/><circle cx="215.4" cy="328.8"/><circle cx="213.9" cy="272.7"/><circle cx="215.7" cy="421.6"/><circle cx="209.7" cy="290.8"/><circle cx="206.5" cy="420.3"/><circle cx="219.2" cy="374.4"/><circle cx="210.3" cy="425.4"/><circle cx="217.6" cy="313"/><circle cx="206" cy="415.6"/><circle cx="205.7" cy="339.1"/><circle cx="221.3" cy="259.9"/><circle cx="207.2" cy="290.8"/><circle cx="217" cy="401.5"/><circle cx="209.2" cy="420.9"/><circle cx="205.1" cy="250.2"/><circle cx="214.8" cy="346.2"/><circle cx="220.2" cy="385.9"/><circle cx="216.4" cy="361.6"/><circle cx="208.3" cy="383.1"/><circle cx="204.6" cy="403.4"/><circle cx="210.8" cy="359.1"/><circle cx="218.5" cy="316.9"/><circle cx="219.4" cy="426.5"/><circle cx="213.3" cy="419.6"/><circle cx="219.9" cy="439.6"/><circle cx="211.3" cy="291.7"/><circle cx="209.4" cy="329.1"/><circle cx="213.7" cy="263.4"/><circle cx="218.8" cy="297.6"/><circle cx="208.2" cy="304.6"/><circle cx="216.8" cy="333.4"/><circle cx="219" cy="418"/><circle cx="210.4" cy="279.7"/><circle cx="210.9" cy="350"/><circle cx="208.1" cy="351.2"/><circle cx="207.2" cy="426.6"/><circle cx="211.2" cy="418.4"/><circle cx="209.7" cy="363.2"/><circle cx="215.4" cy="351.3"/><circle cx="206.6" cy="364.8"/><circle cx="206.9" cy="365.9"/><circle cx="218.8" cy="431.3"/><circle cx="217.5" cy="303.9"/><circle cx="205" cy="300.1"/><circle cx="206.3" cy="387.8"/><circle cx="207.5" cy="261.1"/><circle cx="214.6" cy="416.4"/><circle cx="217.8" cy="266.7"/><circle cx="203.8" cy="297.2"/><circle cx="215.7" cy="437.6"/><circle cx="218.6" cy="311.6"/><circle cx="207.1" cy="347.5"/><circle cx="212.5" cy="353.5"/><circle cx="216.5" cy="238.9"/><circle cx="216.1" cy="341.3"/><circle cx="210" cy="375.2"/><circle cx="210.2" cy="303"/><circle cx="217.4" cy="334.8"/><circle cx="214.1" cy="385"/><circle cx="210.9" cy="312.2"/><circle cx="214" cy="417"/><circle cx="219.7" cy="432.5"/><circle cx="210.7" cy="430.8"/><circle cx="210.1" cy="384.5"/><circle cx="206.2" cy="384.6"/><circle cx="215.8" cy="357.3"/><circle cx="214.1" cy="340.7"/><circle cx="218.9" cy="384.5"/><circle cx="208.3" cy="381.9"/><circle cx="217.8" cy="340.8"/><circle cx="218.9" cy="372"/><circle cx="217.1" cy="315.5"/><circle cx="208.7" cy="304.3"/><circle cx="218.1" cy="381.8"/><circle cx="210.3" cy="320.9"/><circle cx="214.7" cy="331"/><circle cx="207.7" cy="279.4"/><circle cx="220.9" cy="390.6"/><circle cx="216.6" cy="380"/><circle cx="205.6" cy="407.2"/><circle cx="216.4" cy="452.6"/><circle cx="216.4" cy="406.9"/><circle cx="212.3" cy="417.7"/><circle cx="209.7" cy="335.4"/><circle cx="209" cy="274.9"/><circle cx="213.5" cy="377.9"/><circle cx="214.8" cy="434.8"/><circle cx="208" cy="421.3"/><circle cx="204.6" cy="264"/><circle cx="221.3" cy="326.6"/><circle cx="212.1" cy="322.6"/><circle cx="214.6" cy="326.2"/><circle cx="215.4" cy="260"/><circle cx="220.7" cy="272.3"/><circle cx="212.3" cy="400.1"/><circle cx="204.8" cy="367.8"/><circle cx="209.7" cy="323.5"/><circle cx="219.6" cy="336"/><circle cx="219.3" cy="325.4"/><circle cx="218.5" cy="328.9"/><circle cx="209.3" cy="384.7"/><circle cx="218.5" cy="367.5"/><circle cx="205.1" cy="379.2"/><circle cx="218.8" cy="409.2"/><circle cx="214.1" cy="402.4"/><circle cx="220.9" cy="388"/><circle cx="213.5" cy="296.6"/><circle cx="209.1" cy="334.6"/><circle cx="221.6" cy="375.7"/><circle cx="209.5" cy="336.7"/><circle cx="208.8" cy="335.2"/><circle cx="220.8" cy="327.3"/><circle cx="211.9" cy="299.2"/><circle cx="216" cy="337.9"/><circle cx="208.7" cy="325"/><circle cx="207" cy="322.2"/><circle cx="211.1" cy="438.1"/><circle cx="214.1" cy="380.2"/><circle cx="217" cy="368.7"/><circle cx="210.5" cy="386.3"/><circle cx="217.3" cy="363.5"/><circle cx="218" cy="261.5"/><circle cx="209" cy="241"/><circle cx="206.4" cy="396.4"/><circle cx="209.2" cy="327.8"/><circle cx="207.8" cy="363.1"/><circle cx="221.7" cy="349.6"/><circle cx="214.8" cy="299.7"/><circle cx="207.4" cy="329.8"/><circle cx="204.5" cy="364.1"/><circle cx="210.1" cy="367.4"/><circle cx="204.8" cy="429"/><circle cx="218" cy="342.1"/><circle cx="213.5" cy="321.2"/><circle cx="217.1" cy="343.8"/><circle cx="211.1" cy="366.8"/><circle cx="217.7" cy="441.3"/><circle cx="204.2" cy="364.3"/><circle cx="208.7" cy="385.5"/><circle cx="210.5" cy="460.9"/><circle cx="207.5" cy="411.2"/><circle cx="217.8" cy="348.8"/><circle cx="215.7" cy="375.9"/><circle cx="210" cy="378.7"/><circle cx="206.5" cy="380.7"/><circle cx="206.9" cy="363.6"/><circle cx="214.8" cy="396.1"/><circle cx="210" cy="368.4"/><circle cx="221.5" cy="307.8"/><circle cx="213.7" cy="318.2"/><circle cx="217.8" cy="387.2"/><circle cx="208.5" cy="381.3"/><circle cx="207.7" cy="418.7"/><circle cx="216" cy="283.9"/><circle cx="216.9" cy="267.5"/><circle cx="218.5" cy="372.2"/><circle cx="217.9" cy="411.7"/><circle cx="205.2" cy="419.3"/><circle cx="214.9" cy="349.3"/><circle cx="219" cy="253.2"/><circle cx="209.7" cy="308"/><circle cx="216.2" cy="330.7"/><circle cx="214.8" cy="329.9"/><circle cx="210.5" cy="292.3"/><circle cx="219.6" cy="340.2"/><circle cx="213.2" cy="441.7"/><circle cx="216.5" cy="429.7"/><circle cx="217.1" cy="343.3"/><circle cx="221.2" cy="350.2"/><circle cx="214.5" cy="373.8"/><circle cx="207.1" cy="384.1"/><circle cx="205.2" cy="457.7"/><circle cx="204.4" cy="437.2"/><circle cx="206.8" cy="332.8"/><circle cx="204.8" cy="356.6"/><circle cx="208.8" cy="330.4"/><circle cx="206.9" cy="397.6"/><circle cx="209.3" cy="252.8"/><circle cx="204.1" cy="362.7"/><circle cx="208.2" cy="374.1"/><circle cx="219.9" cy="260.8"/><circle cx="216.8" cy="350.7"/><circle cx="216" cy="437"/><circle cx="215.8" cy="309.5"/><circle cx="212.8" cy="293.1"/><circle cx="218.1" cy="438.6"/><circle cx="207.3" cy="397.7"/><circle cx="214.9" cy="355"/><circle cx="204.4" cy="332.2"/><circle cx="219.9" cy="254.2"/><circle cx="217.3" cy="335.9"/><circle cx="206.5" cy="259.7"/><circle cx="217.5" cy="271.4"/><circle cx="219.8" cy="302.4"/><circle cx="214.1" cy="379"/><circle cx="211.6" cy="429.3"/><circle cx="205.4" cy="410.1"/><circle cx="221.4" cy="298.8"/><circle cx="220.6" cy="427.7"/><circle cx="210.7" cy="254.4"/><circle cx="216.6" cy="299.4"/><circle cx="216.6" cy="415.2"/><circle cx="204.7" cy="361"/><circle cx="204.4" cy="321.8"/><circle cx="208.8" cy="364.9"/><circle cx="204.8" cy="357.7"/><circle cx="218.9" cy="345.2"/><circle cx="220.8" cy="409.8"/><circle cx="219.8" cy="357.3"/><circle cx="211.1" cy="386.5"/><circle cx="220.6" cy="344.3"/><circle cx="207.4" cy="371.7"/><circle cx="221.5" cy="354.3"/><circle cx="212.7" cy="370.4"/><circle cx="218.7" cy="418.7"/><circle cx="208.3" cy="369.6"/><circle cx="204.6" cy="328.2"/><circle cx="220.1" cy="355.9"/><circle cx="214.4" cy="308.8"/><circle cx="214.3" cy="331.2"/><circle cx="204.9" cy="354.9"/><circle cx="218" cy="295.2"/><circle cx="213.9" cy="335.5"/><circle cx="217.9" cy="343.7"/><circle cx="217.9" cy="237.1"/><circle cx="209.3" cy="375.1"/><circle cx="219.3" cy="365.7"/><circle cx="219" cy="291.4"/><circle cx="204.6" cy="274.5"/><circle cx="215.7" cy="319.3"/><circle cx="211.9" cy="358.5"/><circle cx="203.9" cy="423.2"/><circle cx="212.5" cy="406.4"/><circle cx="218" cy="259"/><circle cx="206.6" cy="367.2"/><circle cx="206" cy="250.8"/><circle cx="211.4" cy="355.5"/><circle cx="206.1" cy="414.5"/><circle cx="221.3" cy="251.1"/><circle cx="217" cy="325.6"/><circle cx="210.7" cy="428.2"/><circle cx="210" cy="448.5"/><circle cx="208" cy="385.4"/><circle cx="208.8" cy="373.9"/><circle cx="215.7" cy="372.9"/><circle cx="220.9" cy="283.5"/><circle cx="218.3" cy="383.6"/><circle cx="216.8" cy="367.9"/><circle cx="207.1" cy="274.2"/><circle cx="208.3" cy="393.6"/><circle cx="207.2" cy="351.5"/><circle cx="210.8" cy="380.4"/><circle cx="208.5" cy="386.9"/><circle cx="211.9" cy="359.3"/><circle cx="214.1" cy="374.2"/><circle cx="217" cy="282.4"/><circle cx="212.1" cy="424.3"/><circle cx="213.4" cy="366"/><circle cx="218.6" cy="414.9"/><circle cx="213.8" cy="366.5"/><circle cx="213.2" cy="363.3"/><circle cx="212.4" cy="312.5"/><circle cx="209" cy="363.9"/><circle cx="220.7" cy="363"/><circle cx="214.4" cy="391.4"/><circle cx="209.8" cy="300.5"/><circle cx="211.3" cy="374.5"/><circle cx="207.1" cy="440.4"/><circle cx="207.5" cy="266"/><circle cx="203.7" cy="295.6"/><circle cx="205.3" cy="310.5"/><circle cx="219.6" cy="338.8"/><circle cx="216.1" cy="334.3"/><circle cx="215.4" cy="281.9"/><circle cx="216.7" cy="363.9"/><circle cx="209.4" cy="393.1"/><circle cx="210.1" cy="309.8"/><circle cx="212.5" cy="338.4"/><circle cx="205.7" cy="334"/><circle cx="213.5" cy="337.2"/><circle cx="216.4" cy="410.8"/><circle cx="205.5" cy="425.6"/><circle cx="213.9" cy="262.3"/><circle cx="210.3" cy="302.2"/><circle cx="209" cy="378.1"/><circle cx="209.7" cy="374.8"/><circle cx="208.9" cy="431.1"/><circle cx="215.6" cy="331.4"/><circle cx="221" cy="337.5"/><circle cx="213.8" cy="438.4"/><circle cx="220.4" cy="379.6"/><circle cx="210.1" cy="277.3"/><circle cx="212.7" cy="384.9"/><circle cx="221.2" cy="334.4"/><circle cx="210.8" cy="346.5"/><circle cx="211.9" cy="302.6"/><circle cx="208.5" cy="427.2"/><circle cx="211.9" cy="349.4"/><circle cx="207" cy="405.2"/><circle cx="207.9" cy="313.6"/><circle cx="208.2" cy="361.7"/><circle cx="219.1" cy="406.6"/><circle cx="208.6" cy="379.5"/><circle cx="204.8" cy="347.4"/><circle cx="216.7" cy="344.4"/><circle cx="213.7" cy="371.9"/><circle cx="220" cy="370.3"/><circle cx="204" cy="361.1"/><circle cx="215.6" cy="428.8"/><circle cx="219.6" cy="362.2"/><circle cx="205.1" cy="435.2"/><circle cx="208.5" cy="257.3"/><circle cx="208" cy="455"/><circle cx="216.9" cy="425"/><circle cx="206" cy="320.7"/><circle cx="212.2" cy="352.1"/><circle cx="211.2" cy="255.3"/><circle cx="215.7" cy="270.2"/><circle cx="216.4" cy="375.3"/><circle cx="211.2" cy="255.7"/><circle cx="210.7" cy="364.1"/><circle cx="221.1" cy="391.7"/><circle cx="219.9" cy="357.5"/><circle cx="207" cy="382.9"/><circle cx="214.5" cy="435.5"/><circle cx="214.4" cy="335.1"/><circle cx="213" cy="361.2"/><circle cx="219.8" cy="331.7"/><circle cx="215.2" cy="329.2"/><circle cx="220.5" cy="414.1"/><circle cx="221.6" cy="386.1"/><circle cx="215.4" cy="421.1"/><circle cx="213.7" cy="395.9"/><circle cx="207.6" cy="373.3"/><circle cx="215.9" cy="336.9"/><circle cx="210.7" cy="374.7"/><circle cx="211.3" cy="354.7"/><circle cx="214.1" cy="351.8"/><circle cx="213.1" cy="325.5"/><circle cx="217.8" cy="290.2"/><circle cx="211" cy="422.1"/><circle cx="217.4" cy="345.5"/><circle cx="215.6" cy="258.3"/><circle cx="214.5" cy="398.7"/><circle cx="210.3" cy="383.9"/><circle cx="212.4" cy="408.3"/><circle cx="207.8" cy="352.8"/><circle cx="207.9" cy="382.1"/><circle cx="221.4" cy="357"/><circle cx="219.3" cy="369.1"/><circle cx="205.3" cy="322.4"/><circle cx="216.9" cy="381.4"/><circle cx="211.6" cy="373.3"/><circle cx="209.4" cy="384.2"/><circle cx="214.8" cy="394.7"/><circle cx="220.2" cy="412.8"/><circle cx="206" cy="426"/><circle cx="210.2" cy="443.7"/><circle cx="207.1" cy="370.6"/><circle cx="220.8" cy="369.5"/><circle cx="213.6" cy="416.6"/><circle cx="205.3" cy="372.5"/><circle cx="214.4" cy="272.7"/><circle cx="219.9" cy="309.4"/><circle cx="220" cy="306.4"/><circle cx="205.2" cy="307.1"/><circle cx="220.5" cy="338.3"/><circle cx="215.2" cy="409.7"/><circle cx="219.2" cy="459.9"/><circle cx="215.5" cy="371.8"/><circle cx="212.1" cy="377.9"/><circle cx="215" cy="402.1"/><circle cx="206.6" cy="397.3"/><circle cx="217.7" cy="349"/><circle cx="213" cy="298.2"/><circle cx="207.7" cy="423.3"/><circle cx="205.5" cy="366.9"/><circle cx="218.7" cy="329.5"/><circle cx="212.1" cy="338.9"/><circle cx="209.9" cy="401"/><circle cx="220.1" cy="311.3"/><circle cx="210.5" cy="368.6"/><circle cx="220.3" cy="391.3"/><circle cx="211.1" cy="365.2"/><circle cx="209.9" cy="420.2"/><circle cx="220.3" cy="436.4"/><circle cx="209" cy="344.1"/><circle cx="205.5" cy="366.7"/><circle cx="216.6" cy="325.9"/><circle cx="210.1" cy="410.3"/><circle cx="212.6" cy="394.3"/><circle cx="207.8" cy="315.9"/><circle cx="221.5" cy="346.4"/></g><g class="p" fill="#c4ec48"><circle cx="271.9" cy="364.4"/><circle cx="279.2" cy="323.3"/><circle cx="283" cy="392"/><circle cx="270.7" cy="346.7"/><circle cx="279.1" cy="279.3"/><circle cx="267.6" cy="364"/><circle cx="279.8" cy="300.5"/><circle cx="281.5" cy="359"/><circle cx="277.9" cy="322.3"/><circle cx="282.6" cy="278"/><circle cx="274.7" cy="249.4"/><circle cx="281.7" cy="268.8"/><circle cx="276.2" cy="350.7"/><circle cx="280.3" cy="332.4"/><circle cx="274.9" cy="328.6"/><circle cx="267.9" cy="342.7"/><circle cx="272.3" cy="353.9"/><circle cx="272.4" cy="337.5"/><circle cx="274.2" cy="362.9"/><circle cx="275.5" cy="291.8"/><circle cx="267.8" cy="278.7"/><circle cx="268.7" cy="329.2"/><circle cx="276.6" cy="363.4"/><circle cx="279.4" cy="308.9"/><circle cx="277" cy="311.3"/><circle cx="267.6" cy="386.4"/><circle cx="272.2" cy="293.1"/><circle cx="267.9" cy="317.7"/><circle cx="274.3" cy="348.3"/><circle cx="271.1" cy="345.1"/><circle cx="282.1" cy="288.4"/><circle cx="274.4" cy="334.2"/><circle cx="274.8" cy="392.9"/><circle cx="270" cy="398"/><circle cx="277.1" cy="245.3"/><circle cx="284.5" cy="346.1"/><circle cx="267.9" cy="310.1"/><circle cx="269.7" cy="302.4"/><circle cx="272.7" cy="332.9"/><circle cx="279.6" cy="301.9"/><circle cx="278.1" cy="270.8"/><circle cx="280.1" cy="371.8"/><circle cx="269.2" cy="366.2"/><circle cx="275.2" cy="263.4"/><circle cx="267.9" cy="313"/><circle cx="270.5" cy="301.6"/><circle cx="276.3" cy="328.5"/><circle cx="278" cy="330.2"/><circle cx="279" cy="318.5"/><circle cx="267.2" cy="367.7"/><circle cx="266.8" cy="320"/><circle cx="279.8" cy="258.7"/><circle cx="281.4" cy="303.4"/><circle cx="281.1" cy="320.9"/><circle cx="279.1" cy="317.3"/><circle cx="280.1" cy="351.5"/><circle cx="274.2" cy="310.4"/><circle cx="276.1" cy="330.4"/><circle cx="271.2" cy="324"/><circle cx="283.6" cy="311.8"/><circle cx="268.4" cy="375"/><circle cx="272.2" cy="335.7"/><circle cx="276.2" cy="266.5"/><circle cx="273.6" cy="332.1"/><circle cx="269.5" cy="250.4"/><circle cx="271.2" cy="247.3"/><circle cx="284.2" cy="284.3"/><circle cx="281.9" cy="304.2"/><circle cx="270.7" cy="371.4"/><circle cx="282.5" cy="324.7"/><circle cx="280" cy="327.4"/><circle cx="281.9" cy="336.6"/><circle cx="284.1" cy="326.4"/><circle cx="271.4" cy="301.5"/><circle cx="284.5" cy="354.7"/><circle cx="277.2" cy="321.9"/><circle cx="279.3" cy="308.5"/><circle cx="282.3" cy="339.7"/><circle cx="276" cy="306.8"/><circle cx="275.5" cy="304.4"/><circle cx="271" cy="327.6"/><circle cx="280.1" cy="381.2"/><circle cx="282.5" cy="312.1"/><circle cx="273.9" cy="379.7"/><circle cx="275.4" cy="318.2"/><circle cx="267.2" cy="259.8"/><circle cx="275.1" cy="357.2"/><circle cx="270.2" cy="264.2"/><circle cx="276.7" cy="308"/><circle cx="275.9" cy="305.9"/><circle cx="277.7" cy="307.4"/><circle cx="282.2" cy="323.6"/><circle cx="274.5" cy="309.5"/><circle cx="268.8" cy="356.1"/><circle cx="278.3" cy="274.8"/><circle cx="274.4" cy="361"/><circle cx="278.6" cy="333.5"/><circle cx="282.5" cy="336.2"/><circle cx="277.5" cy="315.5"/><circle cx="284.2" cy="257.6"/><circle cx="271.8" cy="349.1"/><circle cx="272.7" cy="314.2"/><circle cx="282" cy="274"/><circle cx="282.6" cy="286.4"/><circle cx="267.2" cy="365.7"/><circle cx="283.2" cy="253.3"/><circle cx="270.8" cy="324.9"/><circle cx="271.2" cy="334.8"/><circle cx="269.2" cy="340.8"/><circle cx="283.7" cy="334.5"/><circle cx="271.8" cy="275.8"/><circle cx="283.5" cy="305.2"/><circle cx="278.2" cy="264.9"/><circle cx="277.5" cy="308.4"/><circle cx="275" cy="316.1"/><circle cx="270.1" cy="356.9"/><circle cx="276.9" cy="310.7"/><circle cx="280.1" cy="368.3"/><circle cx="274.9" cy="304.8"/><circle cx="282.7" cy="324.3"/><circle cx="283.2" cy="338.5"/><circle cx="272.7" cy="288.9"/><circle cx="275.7" cy="267.3"/><circle cx="284.6" cy="313.6"/><circle cx="276.2" cy="337.2"/><circle cx="274.6" cy="306.3"/><circle cx="272.6" cy="360.3"/><circle cx="272.6" cy="299.4"/><circle cx="272.9" cy="320.8"/><circle cx="278.4" cy="340.3"/><circle cx="269.2" cy="343.9"/><circle cx="280.4" cy="340"/><circle cx="282.9" cy="306.1"/><circle cx="274.5" cy="355.6"/><circle cx="279" cy="339.1"/><circle cx="271.5" cy="316.6"/><circle cx="278" cy="293.8"/><circle cx="273.1" cy="272.3"/><circle cx="284.5" cy="275.6"/><circle cx="273.6" cy="372.7"/><circle cx="279.2" cy="317.9"/><circle cx="279.1" cy="316.9"/><circle cx="268.3" cy="325.7"/><circle cx="281.1" cy="281.3"/><circle cx="284.4" cy="283.4"/><circle cx="268.6" cy="307"/><circle cx="278.4" cy="282.1"/><circle cx="279" cy="326.7"/><circle cx="276.6" cy="312.4"/><circle cx="273.9" cy="369.1"/><circle cx="281.5" cy="319.2"/><circle cx="281" cy="403"/><circle cx="276.3" cy="361.5"/><circle cx="274.3" cy="292.8"/><circle cx="284.2" cy="319.4"/><circle cx="283.9" cy="338.7"/><circle cx="276.2" cy="313.8"/><circle cx="273" cy="317.1"/><circle cx="275.3" cy="320.2"/><circle cx="280.1" cy="303.6"/><circle cx="267.6" cy="331"/><circle cx="279.9" cy="283"/><circle cx="282.4" cy="333.9"/><circle cx="283" cy="332.7"/><circle cx="283.5" cy="352.9"/><circle cx="283.7" cy="304.1"/><circle cx="283.2" cy="349.9"/><circle cx="278.8" cy="350.9"/><circle cx="279.8" cy="342.9"/><circle cx="281.1" cy="309.3"/><circle cx="273.2" cy="357.9"/><circle cx="270.1" cy="298.8"/><circle cx="277.4" cy="325.3"/><circle cx="269.3" cy="280.5"/><circle cx="275" cy="309.8"/><circle cx="283.7" cy="335.9"/><circle cx="269.2" cy="329.5"/><circle cx="266.7" cy="307.5"/><circle cx="283.5" cy="338.2"/><circle cx="282" cy="391.1"/><circle cx="278.9" cy="272.8"/><circle cx="276.2" cy="388.2"/><circle cx="276.2" cy="271.5"/><circle cx="281.4" cy="322.3"/><circle cx="275.6" cy="312.5"/><circle cx="273.7" cy="302.6"/><circle cx="282.4" cy="352.4"/><circle cx="268.2" cy="335"/><circle cx="266.7" cy="383.7"/><circle cx="277.8" cy="318.9"/><circle cx="274.4" cy="290.3"/><circle cx="280.5" cy="337.7"/><circle cx="267.1" cy="286.1"/><circle cx="273" cy="331.2"/><circle cx="269.2" cy="291"/><circle cx="276.5" cy="344.8"/><circle cx="280.9" cy="255.5"/><circle cx="267.3" cy="373.1"/><circle cx="276.4" cy="341.9"/><circle cx="275.1" cy="326.2"/><circle cx="280.6" cy="285.1"/><circle cx="268.1" cy="298"/><circle cx="278.3" cy="269.9"/><circle cx="269.3" cy="366.5"/><circle cx="269.6" cy="328"/><circle cx="279" cy="347.6"/><circle cx="271.1" cy="329.7"/><circle cx="277.5" cy="315.1"/><circle cx="275.2" cy="276.8"/><circle cx="282.8" cy="314.5"/><circle cx="277.9" cy="261.8"/><circle cx="276.6" cy="370"/><circle cx="280.2" cy="303"/><circle cx="274" cy="305.4"/><circle cx="274.5" cy="287.2"/><circle cx="278.2" cy="311.1"/><circle cx="269.7" cy="315"/><circle cx="270.9" cy="321.3"/><circle cx="269.4" cy="376.4"/><circle cx="277.3" cy="268.2"/><circle cx="282.1" cy="331.7"/><circle cx="269.5" cy="296.3"/><circle cx="278.1" cy="374"/><circle cx="279.5" cy="297.7"/><circle cx="276.9" cy="323"/><circle cx="272.2" cy="265.2"/><circle cx="282" cy="295.7"/><circle cx="271.9" cy="394"/><circle cx="278.9" cy="315.7"/><circle cx="278.8" cy="359.6"/><circle cx="272.4" cy="294.6"/><circle cx="275.4" cy="313.3"/><circle cx="270.2" cy="370.3"/></g><g class="p" fill="#167020"><circle cx="339.7" cy="315.1"/><circle cx="332.8" cy="307.6"/><circle cx="331.7" cy="299.2"/><circle cx="335.4" cy="317.2"/><circle cx="342.7" cy="272.2"/><circle cx="340.1" cy="347.8"/><circle cx="344.1" cy="359"/><circle cx="340.9" cy="299.8"/><circle cx="340.2" cy="282.9"/><circle cx="340.6" cy="340.8"/><circle cx="333.3" cy="257"/><circle cx="341.9" cy="308.9"/><circle cx="332.8" cy="366.3"/><circle cx="335.8" cy="277.5"/><circle cx="331" cy="356.5"/><circle cx="343.2" cy="256"/><circle cx="335.5" cy="312.7"/><circle cx="343.8" cy="240"/><circle cx="343.4" cy="319.7"/><circle cx="343.3" cy="343.5"/><circle cx="340.5" cy="320.8"/><circle cx="334.6" cy="252.1"/><circle cx="345.7" cy="311.5"/><circle cx="332.1" cy="378.3"/><circle cx="341.2" cy="367"/><circle cx="332.4" cy="314.6"/><circle cx="331.1" cy="238.9"/><circle cx="341.4" cy="266.8"/><circle cx="344.6" cy="395.9"/><circle cx="340.8" cy="325.9"/><circle cx="335.8" cy="279.6"/><circle cx="333.2" cy="255"/><circle cx="332.3" cy="391.4"/><circle cx="336.8" cy="332.1"/><circle cx="339.4" cy="330.7"/><circle cx="346.8" cy="320.1"/><circle cx="342.5" cy="313.8"/><circle cx="346.4" cy="320.3"/><circle cx="336.3" cy="262.3"/><circle cx="345.7" cy="312.9"/><circle cx="335.2" cy="280.2"/><circle cx="341.1" cy="350.9"/><circle cx="339.9" cy="384.1"/><circle cx="334.1" cy="326.2"/><circle cx="335.2" cy="311.9"/><circle cx="335.1" cy="398.3"/><circle cx="334.1" cy="270.6"/><circle cx="345.7" cy="303.1"/><circle cx="330.5" cy="309.8"/><circle cx="339.9" cy="318"/><circle cx="339.3" cy="366.5"/><circle cx="344.8" cy="263.4"/><circle cx="342.1" cy="370.7"/><circle cx="332.7" cy="261.2"/><circle cx="341.2" cy="331.4"/><circle cx="334.4" cy="309.3"/><circle cx="339.1" cy="373.8"/><circle cx="345.8" cy="357.8"/><circle cx="343.4" cy="310.3"/><circle cx="339.9" cy="343"/><circle cx="334.7" cy="295.7"/><circle cx="345" cy="285.2"/><circle cx="337.2" cy="362.4"/><circle cx="340.8" cy="313.5"/><circle cx="340.8" cy="253"/><circle cx="338" cy="319.5"/><circle cx="332.7" cy="329.3"/><circle cx="343.6" cy="236.5"/><circle cx="344" cy="316"/><circle cx="337.5" cy="334.7"/><circle cx="341" cy="313.3"/><circle cx="337.4" cy="317.8"/><circle cx="341.7" cy="299.7"/><circle cx="335.5" cy="367.7"/><circle cx="331.1" cy="339.3"/><circle cx="330.8" cy="321.7"/><circle cx="336.6" cy="284.3"/><circle cx="334.4" cy="276.5"/><circle cx="345.8" cy="303"/><circle cx="336.3" cy="253.5"/><circle cx="346.9" cy="246.7"/><circle cx="330" cy="381.8"/><circle cx="344.5" cy="282.1"/><circle cx="342.7" cy="321.6"/><circle cx="331.2" cy="271.7"/><circle cx="341.5" cy="303.5"/><circle cx="337.2" cy="330.7"/><circle cx="339.5" cy="333"/><circle cx="334.4" cy="316"/><circle cx="336.3" cy="300.4"/><circle cx="341.1" cy="370.9"/><circle cx="338.5" cy="355.3"/><circle cx="333.5" cy="276.1"/><circle cx="341.3" cy="382.6"/><circle cx="335.6" cy="260.4"/><circle cx="339.2" cy="319.1"/><circle cx="333.6" cy="279.3"/><circle cx="340.9" cy="333.9"/><circle cx="331.2" cy="318.9"/><circle cx="341" cy="335.3"/><circle cx="331.7" cy="308.4"/><circle cx="330.9" cy="370.1"/><circle cx="334.9" cy="322"/><circle cx="345.7" cy="266.3"/><circle cx="334.6" cy="314.7"/><circle cx="334.4" cy="316.4"/><circle cx="343.9" cy="281.2"/><circle cx="334.8" cy="287.5"/><circle cx="346.3" cy="325.9"/><circle cx="330" cy="334.1"/><circle cx="341.5" cy="363.4"/><circle cx="334.1" cy="299"/><circle cx="342.2" cy="330.3"/><circle cx="337.6" cy="309.6"/><circle cx="335.4" cy="356.7"/><circle cx="346.5" cy="322.2"/><circle cx="339.5" cy="249.6"/><circle cx="333" cy="323.2"/><circle cx="338.9" cy="374.3"/><circle cx="337.6" cy="371.6"/><circle cx="337.3" cy="329.9"/><circle cx="332.9" cy="327.1"/><circle cx="342.1" cy="369.8"/><circle cx="345.6" cy="367.2"/><circle cx="329.9" cy="258.7"/><circle cx="342.8" cy="326.8"/><circle cx="343.1" cy="292.4"/><circle cx="329.6" cy="278.1"/><circle cx="341.5" cy="269.9"/><circle cx="332.6" cy="303.7"/><circle cx="333.2" cy="361.9"/><circle cx="337.1" cy="327.9"/><circle cx="334.8" cy="319.3"/><circle cx="338.2" cy="368.2"/><circle cx="342.4" cy="328.8"/><circle cx="338" cy="348.6"/><circle cx="333.8" cy="331.5"/><circle cx="346" cy="368"/><circle cx="335.6" cy="320.7"/><circle cx="338.6" cy="300.1"/><circle cx="338.1" cy="334.8"/><circle cx="337.5" cy="331.7"/><circle cx="344.2" cy="392.1"/><circle cx="345.4" cy="315.4"/><circle cx="340.8" cy="342.6"/><circle cx="342" cy="305.1"/><circle cx="339.6" cy="312.3"/><circle cx="342.1" cy="304.4"/><circle cx="343.5" cy="328.2"/><circle cx="343.8" cy="394.4"/><circle cx="339" cy="319.8"/><circle cx="346.3" cy="325.5"/><circle cx="343.8" cy="309"/><circle cx="341.1" cy="341.2"/><circle cx="338.4" cy="278.3"/><circle cx="335.9" cy="304"/><circle cx="339.8" cy="312.6"/><circle cx="347.2" cy="365.7"/><circle cx="336.9" cy="270.4"/><circle cx="338.1" cy="311.7"/><circle cx="347.5" cy="292.7"/><circle cx="334.2" cy="319.2"/><circle cx="339.6" cy="351.5"/><circle cx="338.7" cy="306.6"/><circle cx="338.8" cy="353.5"/><circle cx="336.8" cy="337.9"/><circle cx="333.9" cy="306.6"/><circle cx="329.6" cy="310.5"/><circle cx="330.5" cy="319.9"/><circle cx="330.5" cy="324.3"/><circle cx="346.3" cy="262.9"/><circle cx="338.5" cy="247.4"/><circle cx="335.6" cy="308.5"/><circle cx="334" cy="341.9"/><circle cx="346.8" cy="315.9"/><circle cx="330.8" cy="293.1"/><circle cx="332" cy="331.2"/><circle cx="335.4" cy="328.5"/><circle cx="347.4" cy="248.9"/><circle cx="341.9" cy="309.1"/><circle cx="343.4" cy="284.8"/><circle cx="342.8" cy="258.2"/><circle cx="331.9" cy="319.4"/><circle cx="334.8" cy="306.2"/><circle cx="342.1" cy="334.6"/><circle cx="341.2" cy="320"/><circle cx="336.4" cy="305.8"/><circle cx="341.1" cy="301.8"/><circle cx="341.2" cy="352.5"/><circle cx="347" cy="306.8"/><circle cx="337.2" cy="328.9"/><circle cx="336.7" cy="351.7"/><circle cx="345.8" cy="286.5"/><circle cx="340" cy="247.1"/><circle cx="342.4" cy="315.2"/><circle cx="330.1" cy="293.3"/><circle cx="345.8" cy="289.3"/><circle cx="330.6" cy="285.6"/><circle cx="346.5" cy="330"/><circle cx="337.1" cy="251.1"/><circle cx="341.7" cy="306.3"/><circle cx="344.4" cy="325.6"/><circle cx="340.1" cy="374.7"/><circle cx="332.6" cy="321.3"/><circle cx="344.6" cy="315.6"/><circle cx="343.4" cy="379.6"/><circle cx="347.1" cy="331.6"/><circle cx="344.2" cy="245.2"/><circle cx="342.1" cy="307.3"/><circle cx="342.5" cy="373.4"/><circle cx="346" cy="355.4"/><circle cx="346.4" cy="332.7"/><circle cx="340.4" cy="380.7"/><circle cx="339.2" cy="246.3"/><circle cx="347.3" cy="313.8"/><circle cx="334.4" cy="332.9"/><circle cx="339.2" cy="337.1"/><circle cx="334.1" cy="252.6"/><circle cx="339.4" cy="317.4"/><circle cx="339" cy="301"/><circle cx="346" cy="268"/><circle cx="331" cy="294.2"/><circle cx="338.6" cy="335"/><circle cx="344.5" cy="282.4"/><circle cx="330" cy="297.9"/><circle cx="339.5" cy="330.2"/><circle cx="334.3" cy="332"/><circle cx="342.7" cy="298.2"/><circle cx="343.6" cy="333.2"/><circle cx="346.1" cy="374"/><circle cx="347.3" cy="319"/><circle cx="338.1" cy="330.5"/><circle cx="331.3" cy="261"/><circle cx="330.1" cy="314"/><circle cx="347.1" cy="286.2"/><circle cx="334.6" cy="297.2"/><circle cx="341.6" cy="326"/><circle cx="344.2" cy="356.2"/><circle cx="344.5" cy="326.5"/><circle cx="333.1" cy="318.3"/><circle cx="339.8" cy="318.1"/><circle cx="347.1" cy="268.8"/><circle cx="336.1" cy="327"/><circle cx="333.4" cy="377.6"/><circle cx="347.1" cy="302"/><circle cx="338.1" cy="310"/><circle cx="347.4" cy="364"/><circle cx="336.2" cy="322"/><circle cx="345.2" cy="375.4"/><circle cx="332.9" cy="376.7"/><circle cx="340.2" cy="328.1"/><circle cx="337" cy="324.6"/><circle cx="340.4" cy="291.9"/><circle cx="334.6" cy="332.5"/><circle cx="341.7" cy="298.8"/><circle cx="331.1" cy="321.4"/><circle cx="334.5" cy="329.3"/><circle cx="332.3" cy="376.1"/><circle cx="346.1" cy="323.9"/><circle cx="331.6" cy="360.1"/><circle cx="334.5" cy="345.2"/><circle cx="343.2" cy="295"/><circle cx="346.6" cy="376.6"/><circle cx="345.3" cy="343.7"/><circle cx="341.1" cy="299.3"/><circle cx="341.2" cy="233.2"/><circle cx="342.1" cy="322.9"/><circle cx="333" cy="264.4"/><circle cx="333.2" cy="239.8"/><circle cx="346.4" cy="343.3"/><circle cx="339.6" cy="302.4"/><circle cx="336" cy="274"/><circle cx="342.5" cy="248.8"/><circle cx="343.6" cy="348.2"/><circle cx="334.4" cy="325.4"/><circle cx="336.1" cy="316.2"/><circle cx="331.8" cy="283.4"/><circle cx="336.5" cy="267.2"/><circle cx="343.2" cy="327.3"/><circle cx="330.4" cy="309.2"/><circle cx="343.3" cy="350.2"/><circle cx="333.4" cy="334.2"/><circle cx="331.6" cy="251.4"/><circle cx="343.1" cy="259.6"/><circle cx="334.9" cy="255"/><circle cx="337.2" cy="336.1"/><circle cx="332" cy="302.8"/><circle cx="334.9" cy="391"/><circle cx="339.2" cy="253.8"/><circle cx="334.9" cy="328.6"/><circle cx="342.2" cy="302.3"/><circle cx="334.9" cy="352.8"/><circle cx="338.5" cy="277"/><circle cx="332.4" cy="381.2"/><circle cx="338" cy="331.8"/><circle cx="332" cy="317"/><circle cx="345.6" cy="324.1"/><circle cx="338.9" cy="290.9"/><circle cx="345.1" cy="265.3"/><circle cx="345.3" cy="323.4"/><circle cx="331.4" cy="246"/><circle cx="338.9" cy="326.4"/><circle cx="335.9" cy="275"/><circle cx="336.9" cy="329.1"/><circle cx="341.7" cy="393.2"/><circle cx="331.5" cy="369.5"/><circle cx="331.7" cy="314"/><circle cx="333.5" cy="325.7"/><circle cx="345.5" cy="326.2"/><circle cx="347.5" cy="349.8"/><circle cx="340" cy="327.4"/><circle cx="341.6" cy="303.5"/><circle cx="345" cy="310.4"/><circle cx="332.8" cy="312.1"/><circle cx="340.3" cy="355"/><circle cx="338.7" cy="298.6"/><circle cx="341.6" cy="348.5"/><circle cx="343.3" cy="325.7"/><circle cx="334.9" cy="324.5"/><circle cx="343.3" cy="263.4"/><circle cx="329.9" cy="309.5"/><circle cx="343.5" cy="302.2"/><circle cx="341" cy="369.2"/><circle cx="330.6" cy="333.6"/><circle cx="342.9" cy="264.4"/><circle cx="330.1" cy="289.5"/><circle cx="329.7" cy="306.5"/><circle cx="338.5" cy="236.2"/><circle cx="330.4" cy="332.6"/><circle cx="340" cy="301.5"/><circle cx="331.3" cy="318.3"/><circle cx="331.3" cy="336.7"/><circle cx="339.7" cy="330.9"/><circle cx="332.5" cy="327.2"/><circle cx="334.3" cy="352.9"/><circle cx="333.9" cy="378.7"/><circle cx="331.3" cy="325"/><circle cx="342.9" cy="297.7"/><circle cx="334.9" cy="298.1"/><circle cx="335.4" cy="312.8"/><circle cx="345.5" cy="341.1"/><circle cx="344.3" cy="365.2"/><circle cx="346" cy="335.2"/><circle cx="338.7" cy="267.4"/><circle cx="331.3" cy="360.8"/><circle cx="347.2" cy="280.9"/><circle cx="342.7" cy="310.1"/><circle cx="338.9" cy="371.8"/><circle cx="337.2" cy="325"/><circle cx="339.3" cy="288.4"/><circle cx="347.3" cy="311.5"/><circle cx="335.1" cy="345.6"/><circle cx="341.9" cy="330.5"/><circle cx="331.9" cy="346.9"/><circle cx="338" cy="301.2"/><circle cx="346.5" cy="307.9"/><circle cx="341.5" cy="238"/><circle cx="334.5" cy="326.9"/><circle cx="335.8" cy="364.9"/><circle cx="340.3" cy="272.9"/><circle cx="342.9" cy="346.2"/><circle cx="343.2" cy="333.3"/><circle cx="345.9" cy="374.9"/><circle cx="341.2" cy="259"/><circle cx="329.7" cy="329.1"/><circle cx="345.4" cy="323.1"/><circle cx="333.9" cy="269.2"/><circle cx="340.2" cy="357.1"/><circle cx="339.9" cy="354"/><circle cx="334.4" cy="299.5"/><circle cx="334.4" cy="364.4"/><circle cx="332.2" cy="337.7"/><circle cx="335.6" cy="307.8"/><circle cx="330.1" cy="361.7"/><circle cx="340.3" cy="317.6"/><circle cx="345" cy="308.7"/><circle cx="347" cy="305.3"/><circle cx="343.4" cy="383.7"/><circle cx="344.8" cy="304.2"/><circle cx="346.5" cy="298.3"/><circle cx="346.1" cy="313.5"/><circle cx="343.3" cy="337.3"/><circle cx="340.6" cy="244.2"/><circle cx="329.8" cy="297.4"/><circle cx="344.5" cy="301.9"/><circle cx="345.6" cy="372.8"/><circle cx="342.3" cy="381.4"/><circle cx="346.5" cy="275.5"/><circle cx="347.3" cy="295.3"/><circle cx="345.4" cy="255.4"/><circle cx="341.8" cy="333.5"/><circle cx="335.4" cy="307.2"/><circle cx="344.9" cy="272.5"/><circle cx="337.9" cy="305.6"/><circle cx="343.9" cy="318"/><circle cx="331.2" cy="318.7"/><circle cx="338.6" cy="334.4"/><circle cx="344.3" cy="320.4"/><circle cx="346" cy="283.8"/><circle cx="330.5" cy="346.4"/><circle cx="337.9" cy="289"/><circle cx="346.9" cy="248.5"/><circle cx="336.2" cy="359.2"/><circle cx="336.9" cy="270.9"/><circle cx="347.3" cy="321.2"/><circle cx="336.5" cy="314.5"/><circle cx="346.1" cy="351.3"/><circle cx="333.5" cy="397.7"/><circle cx="334.8" cy="358.6"/><circle cx="347.5" cy="265.5"/><circle cx="332.1" cy="353.5"/><circle cx="338.5" cy="298.4"/><circle cx="339.9" cy="250.6"/><circle cx="342.2" cy="249.4"/><circle cx="334" cy="315.7"/><circle cx="339.1" cy="341.6"/><circle cx="330.8" cy="377.1"/><circle cx="342.1" cy="317.5"/><circle cx="343.3" cy="258.3"/><circle cx="335.2" cy="242.5"/><circle cx="334.3" cy="313.7"/><circle cx="336.8" cy="359.8"/><circle cx="338.2" cy="244"/><circle cx="339.6" cy="372.5"/><circle cx="334.1" cy="321.2"/><circle cx="329.1" cy="219.9"/><circle cx="345.3" cy="339.6"/><circle cx="333.2" cy="302.8"/><circle cx="331.3" cy="331.9"/><circle cx="339.6" cy="287"/><circle cx="332.9" cy="396.2"/><circle cx="334.6" cy="316.8"/><circle cx="332.6" cy="344.8"/><circle cx="331.9" cy="311.2"/><circle cx="335.8" cy="298.6"/><circle cx="347.5" cy="285"/><circle cx="342.2" cy="376"/><circle cx="338.6" cy="322.7"/><circle cx="339.9" cy="335.8"/><circle cx="344.8" cy="384.4"/><circle cx="337" cy="299.6"/><circle cx="336" cy="324.3"/><circle cx="331.4" cy="307.4"/><circle cx="342.3" cy="312"/><circle cx="342.1" cy="311.1"/><circle cx="339.9" cy="267.7"/><circle cx="346.3" cy="304.1"/><circle cx="336.8" cy="335.1"/><circle cx="345.3" cy="311.3"/><circle cx="334.2" cy="320.6"/><circle cx="333.5" cy="235.4"/><circle cx="330.2" cy="358.2"/><circle cx="347.4" cy="339.9"/><circle cx="337.5" cy="323.7"/><circle cx="329.9" cy="358.1"/><circle cx="331.1" cy="305.5"/><circle cx="339.1" cy="383.9"/><circle cx="343.1" cy="305.3"/><circle cx="346.4" cy="354.2"/><circle cx="334.1" cy="247.7"/><circle cx="341.8" cy="296.3"/><circle cx="330.7" cy="320.3"/><circle cx="334.7" cy="314.9"/><circle cx="330.5" cy="269.5"/><circle cx="347.1" cy="316.7"/><circle cx="345.7" cy="241.7"/><circle cx="343.7" cy="370.4"/><circle cx="341.6" cy="323.7"/><circle cx="335.5" cy="268.5"/><circle cx="347.5" cy="380.9"/><circle cx="347.2" cy="389"/><circle cx="344.8" cy="259.3"/><circle cx="338.6" cy="344.2"/><circle cx="345.6" cy="371.1"/><circle cx="329.8" cy="327.7"/><circle cx="337.4" cy="362.8"/><circle cx="345.8" cy="334.6"/><circle cx="338.2" cy="332.4"/><circle cx="335.6" cy="255.8"/><circle cx="332.5" cy="340.1"/><circle cx="343.6" cy="274.5"/><circle cx="330.3" cy="301.7"/><circle cx="342.2" cy="335.2"/><circle cx="337.4" cy="296.7"/><circle cx="344.2" cy="240.8"/><circle cx="331.7" cy="300.5"/><circle cx="346" cy="338.2"/><circle cx="346.1" cy="291.9"/><circle cx="337.5" cy="262.7"/><circle cx="331.8" cy="264"/><circle cx="332.3" cy="245.6"/><circle cx="333.5" cy="313.1"/><circle cx="339.2" cy="281.3"/><circle cx="344.4" cy="368.5"/><circle cx="337.5" cy="303.4"/><circle cx="332" cy="360.3"/><circle cx="336.4" cy="365.9"/><circle cx="339.1" cy="332.8"/><circle cx="342.8" cy="365.4"/><circle cx="335.9" cy="305"/><circle cx="336.3" cy="315.5"/><circle cx="335.5" cy="314.8"/><circle cx="341.6" cy="299.4"/><circle cx="334.5" cy="264.9"/><circle cx="341.7" cy="309.7"/><circle cx="345.9" cy="380.3"/><circle cx="339.7" cy="329.5"/><circle cx="334.8" cy="309.9"/><circle cx="344.1" cy="293.6"/><circle cx="342.5" cy="279.7"/><circle cx="330.1" cy="327.6"/><circle cx="336.5" cy="304.8"/><circle cx="332.9" cy="308.1"/><circle cx="336.9" cy="378.1"/><circle cx="330.6" cy="364.1"/><circle cx="336.8" cy="303.7"/><circle cx="336.4" cy="321.5"/><circle cx="342.5" cy="306.9"/><circle cx="332.3" cy="336.4"/><circle cx="346.5" cy="324.4"/><circle cx="347.2" cy="315.1"/><circle cx="343.4" cy="373.1"/><circle cx="345.5" cy="386.1"/><circle cx="335.5" cy="346"/><circle cx="339.2" cy="295.9"/><circle cx="345.6" cy="198.8"/><circle cx="332.9" cy="291.6"/><circle cx="334.2" cy="308.2"/><circle cx="333.4" cy="332.3"/><circle cx="340.3" cy="211.9"/><circle cx="344.5" cy="318.8"/><circle cx="338.2" cy="308.8"/><circle cx="339" cy="368.7"/><circle cx="337.3" cy="245.7"/><circle cx="335.9" cy="323.6"/><circle cx="335.1" cy="257.9"/><circle cx="340.9" cy="325.2"/><circle cx="342.5" cy="298.9"/><circle cx="333.9" cy="266.5"/><circle cx="342.2" cy="329.7"/><circle cx="330.3" cy="254.5"/><circle cx="341.8" cy="332"/><circle cx="338.8" cy="328.3"/><circle cx="330" cy="372.3"/><circle cx="347.3" cy="314.2"/><circle cx="341" cy="321"/><circle cx="338.6" cy="327.2"/><circle cx="334.4" cy="338.6"/><circle cx="344.8" cy="342.3"/><circle cx="346" cy="288.2"/><circle cx="336.6" cy="275.3"/><circle cx="336.8" cy="300.8"/><circle cx="338.3" cy="317.7"/><circle cx="346.5" cy="302.6"/><circle cx="343.7" cy="266"/><circle cx="343.5" cy="359.7"/><circle cx="332.5" cy="328.8"/><circle cx="341.7" cy="254.3"/><circle cx="345.6" cy="282.7"/><circle cx="336.4" cy="250.4"/><circle cx="341.9" cy="331"/><circle cx="344.2" cy="300.6"/><circle cx="338.6" cy="297.5"/><circle cx="329.8" cy="385.9"/><circle cx="336.1" cy="375.6"/><circle cx="330.6" cy="259.9"/><circle cx="336.7" cy="310.9"/><circle cx="341.8" cy="253.2"/><circle cx="343.9" cy="248"/><circle cx="347.3" cy="305"/><circle cx="334.4" cy="297"/><circle cx="342.5" cy="323.2"/><circle cx="340.6" cy="275.9"/><circle cx="333.9" cy="319.6"/><circle cx="338.8" cy="352.2"/><circle cx="333.7" cy="261.8"/><circle cx="336" cy="361.1"/><circle cx="333.9" cy="329.6"/><circle cx="335.8" cy="304.7"/><circle cx="340.2" cy="334"/><circle cx="341.5" cy="291.3"/><circle cx="332" cy="333.1"/><circle cx="346.5" cy="318.5"/><circle cx="339.5" cy="287.3"/><circle cx="343" cy="317.7"/><circle cx="343.3" cy="322.4"/><circle cx="346.5" cy="322.5"/><circle cx="330.5" cy="311.8"/><circle cx="333.5" cy="357.2"/><circle cx="339.6" cy="329.9"/><circle cx="334.7" cy="234"/><circle cx="338.5" cy="312.4"/><circle cx="338.9" cy="384.8"/><circle cx="336.4" cy="306"/><circle cx="333.4" cy="347.5"/><circle cx="335.6" cy="382.1"/><circle cx="344.4" cy="348.9"/><circle cx="343.5" cy="306.1"/><circle cx="337.2" cy="333.8"/><circle cx="341.2" cy="314.3"/><circle cx="333.8" cy="310.9"/><circle cx="331.7" cy="293.9"/><circle cx="345.8" cy="338.9"/><circle cx="344.2" cy="363.1"/><circle cx="334.5" cy="326.5"/><circle cx="329.9" cy="321.1"/><circle cx="333.8" cy="316.3"/><circle cx="345" cy="281.6"/><circle cx="341.8" cy="273.7"/><circle cx="333.8" cy="318.6"/><circle cx="340.3" cy="379.2"/><circle cx="342.3" cy="260.7"/><circle cx="339.5" cy="377.5"/><circle cx="329.7" cy="320.5"/><circle cx="334.9" cy="349.9"/><circle cx="346.6" cy="330.3"/><circle cx="336.1" cy="344.3"/><circle cx="339.9" cy="290.3"/><circle cx="329.7" cy="334.4"/><circle cx="344.4" cy="273.3"/><circle cx="330.7" cy="316.5"/><circle cx="334.3" cy="304.4"/><circle cx="347.1" cy="278.9"/><circle cx="332.7" cy="310.6"/><circle cx="343.7" cy="379.8"/><circle cx="337.3" cy="340.3"/><circle cx="333.5" cy="316.9"/><circle cx="344.1" cy="300"/><circle cx="343.2" cy="321.8"/><circle cx="340.5" cy="312.4"/><circle cx="331.6" cy="310.8"/><circle cx="330.8" cy="297.2"/><circle cx="345.9" cy="290"/><circle cx="337" cy="250"/><circle cx="339.5" cy="280.5"/><circle cx="340.7" cy="285.8"/><circle cx="344.3" cy="256.5"/><circle cx="333" cy="325.2"/><circle cx="346.6" cy="317.1"/><circle cx="340" cy="300.2"/><circle cx="340.3" cy="297.6"/><circle cx="332.8" cy="361.2"/><circle cx="337.6" cy="322.9"/><circle cx="347.3" cy="323.5"/><circle cx="345.5" cy="333.4"/><circle cx="336.1" cy="322.5"/><circle cx="332" cy="307.1"/><circle cx="342.4" cy="251.9"/><circle cx="339.7" cy="262"/><circle cx="332" cy="288"/><circle cx="337.4" cy="387.6"/><circle cx="345.5" cy="307.4"/><circle cx="347.4" cy="303.9"/><circle cx="332.2" cy="349.4"/><circle cx="341.5" cy="378.9"/><circle cx="330.5" cy="322.3"/><circle cx="330.9" cy="328"/><circle cx="342.6" cy="301.3"/><circle cx="344.7" cy="301.6"/><circle cx="334.9" cy="277.1"/><circle cx="336.8" cy="270"/><circle cx="337.3" cy="350.7"/><circle cx="334.6" cy="362.6"/><circle cx="341.1" cy="300.3"/><circle cx="334.7" cy="274.2"/><circle cx="330.8" cy="302.5"/><circle cx="330.2" cy="330.8"/><circle cx="330.8" cy="383.4"/><circle cx="337.3" cy="347.3"/><circle cx="331.6" cy="305.9"/><circle cx="330.9" cy="326.7"/><circle cx="330.9" cy="324.8"/><circle cx="341.2" cy="284"/><circle cx="331" cy="327.8"/><circle cx="343.3" cy="383.1"/><circle cx="341.1" cy="294.6"/><circle cx="343.6" cy="389"/><circle cx="345.7" cy="331.2"/><circle cx="335.4" cy="329.7"/><circle cx="331.6" cy="354.6"/><circle cx="333.5" cy="289.8"/><circle cx="336.5" cy="303"/><circle cx="331.7" cy="271.4"/><circle cx="334.5" cy="345.1"/><circle cx="335.2" cy="324.8"/><circle cx="334.2" cy="278"/><circle cx="336.2" cy="304.5"/><circle cx="344.5" cy="251.5"/><circle cx="337" cy="301.1"/><circle cx="346.2" cy="322.7"/><circle cx="341.2" cy="324"/><circle cx="340.2" cy="297.9"/><circle cx="339.3" cy="328.4"/><circle cx="330.2" cy="256.9"/><circle cx="332.2" cy="300.8"/><circle cx="345.4" cy="257.4"/><circle cx="342.8" cy="355.9"/><circle cx="329.8" cy="382.3"/><circle cx="346.4" cy="308.3"/><circle cx="339.4" cy="307.8"/><circle cx="340.7" cy="272.7"/><circle cx="332.1" cy="313"/><circle cx="342" cy="333.7"/></g><g class="p" fill="#62bcaa"><circle cx="407.2" cy="250.4"/><circle cx="402.9" cy="290"/><circle cx="403.4" cy="310.4"/><circle cx="405" cy="295.9"/><circle cx="396.4" cy="249.8"/><circle cx="409.3" cy="284.7"/><circle cx="395.9" cy="321.1"/><circle cx="399.1" cy="283.6"/><circle cx="397.5" cy="357"/></g><g class="p" fill="#7474d0"><circle cx="455.9" cy="263.8"/><circle cx="462" cy="289"/><circle cx="467.2" cy="304"/><circle cx="454.9" cy="273.9"/><circle cx="458" cy="295"/><circle cx="469.3" cy="273.9"/><circle cx="460.2" cy="307.2"/></g><g class="p" fill="#5446a8"><circle cx="532.6" cy="193"/><circle cx="526.5" cy="200.1"/><circle cx="534.4" cy="210.2"/><circle cx="522.8" cy="207.5"/><circle cx="536" cy="202.7"/><circle cx="535.1" cy="214.8"/><circle cx="532.4" cy="216.6"/><circle cx="518.9" cy="204.9"/><circle cx="527.3" cy="222.7"/><circle cx="534.4" cy="205.5"/><circle cx="522.3" cy="239.2"/><circle cx="520.3" cy="218.7"/><circle cx="534.9" cy="214.4"/><circle cx="524.4" cy="165.7"/><circle cx="529.9" cy="221.3"/><circle cx="531" cy="208.6"/><circle cx="526.2" cy="184"/><circle cx="522.1" cy="195.8"/><circle cx="521" cy="296"/><circle cx="533.6" cy="197.6"/><circle cx="519.7" cy="229"/><circle cx="524.3" cy="293.4"/><circle cx="534.6" cy="272.8"/><circle cx="535.2" cy="308"/><circle cx="526.1" cy="176.9"/><circle cx="531.6" cy="204.2"/><circle cx="523.9" cy="188.2"/><circle cx="526.1" cy="224.1"/><circle cx="523.8" cy="223.4"/><circle cx="523.6" cy="298.3"/><circle cx="527.6" cy="226.5"/><circle cx="521.2" cy="182.4"/><circle cx="528.8" cy="245.8"/><circle cx="518.5" cy="246.8"/><circle cx="518.3" cy="288"/><circle cx="533.4" cy="235.1"/><circle cx="532.5" cy="194.2"/><circle cx="520.1" cy="206.7"/><circle cx="533.3" cy="219.7"/><circle cx="528.2" cy="257.4"/><circle cx="525.4" cy="240.7"/><circle cx="525.5" cy="211.2"/><circle cx="521.5" cy="190"/><circle cx="535.1" cy="209"/><circle cx="535" cy="249"/><circle cx="534.7" cy="263.1"/><circle cx="528.6" cy="210.8"/><circle cx="521.9" cy="231.7"/><circle cx="530.5" cy="199.5"/><circle cx="521.7" cy="213.3"/><circle cx="525.1" cy="253.1"/><circle cx="531.7" cy="233.5"/><circle cx="529.3" cy="303"/><circle cx="522.2" cy="244.3"/><circle cx="531.2" cy="185.1"/><circle cx="526.3" cy="175.1"/><circle cx="532.1" cy="170.9"/><circle cx="527.4" cy="173.9"/><circle cx="530.5" cy="255.1"/><circle cx="530.4" cy="203.3"/><circle cx="531.6" cy="206.3"/><circle cx="525.4" cy="267.8"/><circle cx="523.5" cy="242.5"/><circle cx="529.3" cy="200.9"/><circle cx="535.2" cy="167.4"/><circle cx="534.7" cy="233.2"/><circle cx="531.6" cy="236.2"/><circle cx="526.9" cy="180.9"/><circle cx="520.6" cy="191.1"/><circle cx="522.2" cy="220"/><circle cx="532.4" cy="230.6"/><circle cx="535.3" cy="178.7"/><circle cx="536.1" cy="290.8"/><circle cx="524.1" cy="201.9"/><circle cx="536" cy="212.4"/><circle cx="520.5" cy="225.2"/><circle cx="524.9" cy="192.4"/><circle cx="520" cy="182.8"/><circle cx="534" cy="216.7"/><circle cx="535.1" cy="279.1"/><circle cx="527.6" cy="228.2"/><circle cx="525.7" cy="186.9"/><circle cx="534.1" cy="177.4"/><circle cx="526.2" cy="230"/><circle cx="534.9" cy="251.2"/><circle cx="534.2" cy="196.8"/><circle cx="529.2" cy="198.5"/><circle cx="529.8" cy="256.2"/><circle cx="533.5" cy="282.5"/></g><g class="p" fill="#b02070"><circle cx="583.7" cy="276"/><circle cx="593.4" cy="117.7"/><circle cx="589.9" cy="281.8"/><circle cx="592.7" cy="251.8"/><circle cx="586.3" cy="193.6"/><circle cx="590.7" cy="258.3"/><circle cx="592.3" cy="375.9"/><circle cx="588.1" cy="338.7"/><circle cx="592" cy="105.3"/><circle cx="583.7" cy="100.3"/><circle cx="592.5" cy="267.1"/><circle cx="591.8" cy="128.9"/><circle cx="583" cy="149.2"/><circle cx="583.6" cy="201"/><circle cx="586.5" cy="358.9"/><circle cx="592.3" cy="238.6"/><circle cx="587.6" cy="294.3"/><circle cx="583.1" cy="322"/><circle cx="598.1" cy="308.3"/><circle cx="591" cy="166.1"/><circle cx="582.2" cy="143"/><circle cx="585.5" cy="192.7"/><circle cx="598.3" cy="206.6"/><circle cx="589.3" cy="189.2"/><circle cx="593.5" cy="159.1"/><circle cx="585.4" cy="355.5"/><circle cx="586.6" cy="186.1"/><circle cx="583.2" cy="122.5"/><circle cx="581.7" cy="204.2"/><circle cx="598.6" cy="107.6"/><circle cx="583.5" cy="233.7"/><circle cx="594.2" cy="229.2"/><circle cx="596.8" cy="236.6"/><circle cx="587.6" cy="331.5"/><circle cx="592.8" cy="175.3"/><circle cx="589.5" cy="156.1"/><circle cx="599.3" cy="389"/><circle cx="594.2" cy="116.4"/><circle cx="596.8" cy="180.2"/><circle cx="584.3" cy="165.7"/><circle cx="585.3" cy="340.9"/><circle cx="589.3" cy="151"/><circle cx="598.4" cy="148.1"/><circle cx="586.3" cy="390.9"/><circle cx="597.4" cy="386.1"/><circle cx="597.1" cy="131.3"/><circle cx="591.6" cy="262.2"/><circle cx="585.5" cy="132.1"/><circle cx="597.4" cy="269.1"/><circle cx="586.4" cy="161.2"/><circle cx="588.8" cy="153.7"/><circle cx="586.9" cy="162.5"/><circle cx="583" cy="293.7"/><circle cx="583.2" cy="329.6"/><circle cx="587.1" cy="113.5"/><circle cx="585.6" cy="154.9"/><circle cx="588.2" cy="114.2"/><circle cx="581.4" cy="352.5"/><circle cx="591" cy="213.7"/><circle cx="590.6" cy="139.4"/><circle cx="588.1" cy="219.4"/><circle cx="587.1" cy="157.3"/><circle cx="584.3" cy="123.8"/><circle cx="597.5" cy="129.3"/><circle cx="584.1" cy="365.8"/><circle cx="599.2" cy="162.9"/><circle cx="582.5" cy="222.7"/><circle cx="594.5" cy="321.2"/><circle cx="593.6" cy="151.7"/><circle cx="593.9" cy="264.4"/><circle cx="596.8" cy="310.9"/><circle cx="586.2" cy="223.3"/><circle cx="582.6" cy="250.6"/><circle cx="590.1" cy="347.6"/><circle cx="598.2" cy="247.5"/><circle cx="590.6" cy="204.9"/><circle cx="598.7" cy="152.6"/><circle cx="588.2" cy="240.4"/><circle cx="581.6" cy="291.8"/><circle cx="593" cy="181.5"/><circle cx="583.5" cy="225.6"/><circle cx="591.9" cy="380.5"/><circle cx="581.7" cy="111.5"/><circle cx="596.2" cy="111.2"/><circle cx="594.6" cy="127.5"/><circle cx="589.1" cy="183"/><circle cx="586.9" cy="174.4"/><circle cx="596" cy="210.6"/><circle cx="584.5" cy="392.5"/><circle cx="591.6" cy="102.9"/><circle cx="593.7" cy="178.5"/><circle cx="589.8" cy="378.3"/><circle cx="590.9" cy="315.9"/><circle cx="588.7" cy="190.1"/><circle cx="589.1" cy="109.4"/><circle cx="591.8" cy="164.3"/><circle cx="599.1" cy="300.2"/><circle cx="582.5" cy="144.9"/><circle cx="583" cy="278.9"/><circle cx="587.3" cy="372.2"/><circle cx="594.9" cy="119.9"/><circle cx="594.5" cy="107.9"/><circle cx="591.8" cy="106.2"/><circle cx="598.6" cy="258"/><circle cx="593.1" cy="141"/><circle cx="585.7" cy="307.5"/><circle cx="594.7" cy="191.9"/><circle cx="591.4" cy="218.7"/><circle cx="597.4" cy="370.4"/><circle cx="588.4" cy="177.6"/><circle cx="582" cy="118.9"/><circle cx="582.6" cy="121.1"/><circle cx="595.4" cy="184.2"/><circle cx="594.2" cy="305.5"/><circle cx="597.7" cy="364.4"/><circle cx="589" cy="103.1"/><circle cx="597.4" cy="272.4"/><circle cx="597.6" cy="136"/><circle cx="594.8" cy="315.1"/><circle cx="591.3" cy="243.4"/><circle cx="588.9" cy="188.1"/><circle cx="583.6" cy="335.4"/><circle cx="582.8" cy="313.2"/><circle cx="584.8" cy="270.9"/><circle cx="585.7" cy="191"/><circle cx="586" cy="244"/><circle cx="586.6" cy="135.7"/><circle cx="584.6" cy="176.9"/><circle cx="588.2" cy="199.8"/><circle cx="583.1" cy="168"/><circle cx="583.2" cy="109.1"/><circle cx="597.7" cy="134.3"/><circle cx="581.4" cy="130.1"/><circle cx="589.6" cy="98.6"/><circle cx="588.9" cy="350.6"/><circle cx="588.3" cy="103.7"/><circle cx="587.3" cy="169.1"/><circle cx="592.4" cy="384"/><circle cx="588.6" cy="101.8"/><circle cx="589.4" cy="277.3"/><circle cx="596.3" cy="179.9"/><circle cx="581.4" cy="138.5"/><circle cx="584.1" cy="341.2"/><circle cx="585" cy="112"/><circle cx="595.1" cy="137.8"/><circle cx="590.6" cy="245.5"/><circle cx="596.6" cy="367.8"/><circle cx="587.8" cy="326.3"/><circle cx="589.7" cy="195.9"/><circle cx="597.7" cy="124.4"/><circle cx="586" cy="144"/><circle cx="594.1" cy="254.9"/><circle cx="583.1" cy="198.1"/><circle cx="582.5" cy="157.5"/><circle cx="592.9" cy="140.1"/><circle cx="589" cy="126.9"/><circle cx="597.9" cy="343.5"/><circle cx="596.3" cy="159.6"/><circle cx="597.4" cy="324.9"/><circle cx="589.9" cy="146.8"/><circle cx="582.8" cy="335"/><circle cx="585.5" cy="99.4"/><circle cx="594.5" cy="216.9"/><circle cx="581.4" cy="299.5"/><circle cx="591.4" cy="98.9"/><circle cx="596.7" cy="328.3"/><circle cx="586.9" cy="214.6"/><circle cx="586.6" cy="133.3"/><circle cx="592.7" cy="227.7"/><circle cx="593.6" cy="253.9"/><circle cx="584.8" cy="231.1"/><circle cx="592.6" cy="302.5"/><circle cx="597.3" cy="286.7"/><circle cx="597.4" cy="210.1"/><circle cx="581.4" cy="360.9"/><circle cx="590.8" cy="104.5"/><circle cx="597.3" cy="173.6"/><circle cx="591.8" cy="317.8"/><circle cx="584.9" cy="106.9"/><circle cx="588.1" cy="288.6"/><circle cx="594.5" cy="116"/><circle cx="587.4" cy="110.1"/><circle cx="582.2" cy="347.4"/><circle cx="595.1" cy="148.7"/><circle cx="592.4" cy="171.1"/><circle cx="583" cy="235"/><circle cx="585.4" cy="184.5"/><circle cx="591.7" cy="125.1"/><circle cx="583.7" cy="273.4"/><circle cx="586.4" cy="167.3"/><circle cx="596.9" cy="120.7"/><circle cx="595.1" cy="296.8"/><circle cx="592.7" cy="283.9"/><circle cx="590.6" cy="172.1"/><circle cx="591.3" cy="145.5"/><circle cx="596.7" cy="101.3"/><circle cx="590.5" cy="186.7"/><circle cx="586.2" cy="170.6"/><circle cx="598.8" cy="261.4"/><circle cx="586.2" cy="284.9"/></g><g stroke="#333" stroke-width="2.2" fill="none" stroke-opacity="0.9"><line x1="149.8" x2="149.8" y1="331" y2="362.8"/><line x1="149.8" x2="149.8" y1="390" y2="437"/><rect x="126.2" y="362.8" width="47.2" height="27.2"/><line x1="212.7" x2="212.7" y1="237" y2="321.7"/><line x1="212.7" x2="212.7" y1="386" y2="462"/><rect x="189.1" y="321.7" width="47.2" height="64.3"/><line x1="275.7" x2="275.7" y1="244" y2="301.4"/><line x1="275.7" x2="275.7" y1="340.3" y2="396"/><rect x="252.1" y="301.4" width="47.2" height="38.9"/><line x1="338.6" x2="338.6" y1="240" y2="297.1"/><line x1="338.6" x2="338.6" y1="335.3" y2="392"/><rect x="315" y="297.1" width="47.2" height="38.2"/><line x1="401.5" x2="401.5" y1="250.2" y2="267.1"/><line x1="401.5" x2="401.5" y1="315.9" y2="355.7"/><rect x="377.9" y="267.1" width="47.2" height="48.8"/><line x1="464.4" x2="464.4" y1="263.2" y2="276.7"/><line x1="464.4" x2="464.4" y1="297" y2="306"/><rect x="440.9" y="276.7" width="47.2" height="20.3"/><line x1="527.4" x2="527.4" y1="162.6" y2="197"/><line x1="527.4" x2="527.4" y1="235.3" y2="290"/><rect x="503.8" y="197" width="47.2" height="38.3"/><line x1="590.3" x2="590.3" y1="98.9" y2="142.1"/><line x1="590.3" x2="590.3" y1="286" y2="394.6"/><rect x="566.7" y="142.1" width="47.2" height="143.9"/></g><g stroke="#333" stroke-width="6" stroke-opacity="0.9"><line x1="125.1" x2="174.5" y1="376.7" y2="376.7"/><line x1="188" x2="237.4" y1="360.8" y2="360.8"/><line x1="251" x2="300.4" y1="319.4" y2="319.4"/><line x1="313.9" x2="363.3" y1="317.4" y2="317.4"/><line x1="376.8" x2="426.2" y1="290" y2="290"/><line x1="439.8" x2="489.1" y1="289.5" y2="289.5"/><line x1="502.7" x2="552.1" y1="213" y2="213"/><line x1="565.6" x2="615" y1="193.5" y2="193.5"/></g><rect x="112.7" y="82" width="514.3" height="398.5" fill="none" stroke="#111" stroke-width="3.2"/><g stroke="#111" stroke-width="3"><line x1="101.2" x2="112.7" y1="84.8" y2="84.8"/><line x1="101.2" x2="112.7" y1="207.1" y2="207.1"/><line x1="101.2" x2="112.7" y1="329.3" y2="329.3"/><line x1="101.2" x2="112.7" y1="451.6" y2="451.6"/><line x1="149.8" x2="149.8" y1="480.5" y2="491"/><line x1="212.7" x2="212.7" y1="480.5" y2="491"/><line x1="275.7" x2="275.7" y1="480.5" y2="491"/><line x1="338.6" x2="338.6" y1="480.5" y2="491"/><line x1="401.5" x2="401.5" y1="480.5" y2="491"/><line x1="464.4" x2="464.4" y1="480.5" y2="491"/><line x1="527.4" x2="527.4" y1="480.5" y2="491"/><line x1="590.3" x2="590.3" y1="480.5" y2="491"/></g><g font-size="32" fill="#363636" text-anchor="end"><text transform="translate(97.2 96) scale(0.9 1)">10</text><text transform="translate(97.2 218.2) scale(0.9 1)">5</text><text transform="translate(97.2 340.5) scale(0.9 1)">0</text><text transform="translate(97.2 462.8) scale(0.9 1)">−5</text></g><g font-size="29" fill="#363636" text-anchor="end"><text transform="translate(160.3 497.5) rotate(-90)">Brain Cortex</text><text transform="translate(223.2 497.5) rotate(-90)">Muscle Skeletal</text><text transform="translate(286.2 497.5) rotate(-90)">Liver</text><text transform="translate(349.1 497.5) rotate(-90)">Lung</text><text transform="translate(412 497.5) rotate(-90)">Liver (COVID−19)</text><text transform="translate(474.9 497.5) rotate(-90)">Liver (Controls)</text><text transform="translate(537.9 497.5) rotate(-90)">Kidney Cortex</text><text transform="translate(600.8 497.5) rotate(-90)">Small Intestine/Terminal Ileum</text></g><text transform="translate(46.5 281.2) rotate(-90)" font-size="35" font-weight="bold" text-anchor="middle" fill="#000">TPM (log2)</text><text transform="translate(680 31.3) scale(0.95 1)" font-size="38" font-weight="bold" fill="#000">B</text><text transform="translate(788.3 54.3) scale(0.965 1)" font-size="44" fill="#000">CTSL</text><g stroke="#e6e6e6" stroke-width="3.5"><line x1="789.3" x2="1303.1" y1="114" y2="114" stroke-width="3" stroke="#f0f0f0"/><line x1="789.3" x2="1303.1" y1="177" y2="177" stroke-width="3" stroke="#f0f0f0"/><line x1="789.3" x2="1303.1" y1="240.1" y2="240.1" stroke-width="3" stroke="#f0f0f0"/><line x1="789.3" x2="1303.1" y1="303.1" y2="303.1" stroke-width="3" stroke="#f0f0f0"/><line x1="789.3" x2="1303.1" y1="366.2" y2="366.2" stroke-width="3" stroke="#f0f0f0"/><line x1="789.3" x2="1303.1" y1="429.2" y2="429.2" stroke-width="3" stroke="#f0f0f0"/><line x1="789.3" x2="1303.1" y1="82.5" y2="82.5"/><line x1="789.3" x2="1303.1" y1="145.5" y2="145.5"/><line x1="789.3" x2="1303.1" y1="208.6" y2="208.6"/><line x1="789.3" x2="1303.1" y1="271.6" y2="271.6"/><line x1="789.3" x2="1303.1" y1="334.6" y2="334.6"/><line x1="789.3" x2="1303.1" y1="397.7" y2="397.7"/><line x1="789.3" x2="1303.1" y1="460.7" y2="460.7"/><line x1="825.4" x2="825.4" y1="82" y2="480"/><line x1="888.4" x2="888.4" y1="82" y2="480"/><line x1="951.5" x2="951.5" y1="82" y2="480"/><line x1="1014.5" x2="1014.5" y1="82" y2="480"/><line x1="1077.5" x2="1077.5" y1="82" y2="480"/><line x1="1140.5" x2="1140.5" y1="82" y2="480"/><line x1="1203.6" x2="1203.6" y1="82" y2="480"/><line x1="1266.6" x2="1266.6" y1="82" y2="480"/></g><rect x="801.8" y="362.6" width="47.3" height="48.6" fill="#fdf4f4"/><rect x="864.8" y="360.6" width="47.3" height="19.4" fill="#fbf4f5"/><rect x="927.8" y="305.9" width="47.3" height="74.1" fill="#f8e5f0"/><rect x="990.9" y="285.8" width="47.3" height="77.6" fill="#fbfdf0"/><rect x="1053.9" y="276.7" width="47.3" height="54.2" fill="#e5e5f8"/><rect x="1116.9" y="301.6" width="47.3" height="16.3" fill="#e2f5f2"/><rect x="1179.9" y="258.2" width="47.3" height="40.8" fill="#eeecf6"/><rect x="1243" y="224" width="47.3" height="71" fill="#f3f7f3"/><g class="p" fill="#d44a46"><circle cx="823.8" cy="439.7"/><circle cx="824.5" cy="362.9"/><circle cx="823.8" cy="410.3"/><circle cx="832.2" cy="350.2"/><circle cx="834.2" cy="296.6"/><circle cx="828.9" cy="363"/><circle cx="830.8" cy="309.5"/><circle cx="827.8" cy="429.1"/><circle cx="827.6" cy="429.5"/><circle cx="832.6" cy="379.2"/><circle cx="821.1" cy="372.2"/><circle cx="821.4" cy="307.1"/><circle cx="823.6" cy="301.9"/><circle cx="833.6" cy="401.8"/><circle cx="829.3" cy="396.6"/><circle cx="831.7" cy="446.3"/><circle cx="818.6" cy="366.6"/><circle cx="827.3" cy="325.9"/><circle cx="829.9" cy="290.4"/><circle cx="832.7" cy="428.3"/><circle cx="821.1" cy="425"/><circle cx="832.1" cy="313.4"/><circle cx="832" cy="426.2"/><circle cx="824.2" cy="325.5"/><circle cx="832.2" cy="403.4"/><circle cx="817.7" cy="441.1"/><circle cx="820.5" cy="316.1"/><circle cx="829.3" cy="335.7"/><circle cx="818.1" cy="430.9"/><circle cx="831.9" cy="367"/><circle cx="825.1" cy="312.9"/><circle cx="824.5" cy="390"/><circle cx="822.4" cy="434.5"/><circle cx="823.3" cy="364.5"/><circle cx="820.8" cy="392.5"/><circle cx="826.2" cy="379.6"/><circle cx="828.7" cy="389"/><circle cx="831" cy="393.8"/><circle cx="819" cy="364"/><circle cx="829.5" cy="326.5"/><circle cx="828.8" cy="440.5"/><circle cx="821.9" cy="448"/><circle cx="826.6" cy="405.3"/><circle cx="822.8" cy="342"/><circle cx="824.3" cy="410.4"/><circle cx="829.4" cy="386.2"/><circle cx="825" cy="357.9"/><circle cx="832.6" cy="403.9"/><circle cx="819.9" cy="273.4"/><circle cx="818.6" cy="420.6"/><circle cx="817.2" cy="396.2"/><circle cx="817.6" cy="421.4"/><circle cx="822.2" cy="361.6"/><circle cx="829.9" cy="441.3"/><circle cx="831.8" cy="416.3"/><circle cx="831.2" cy="445.1"/><circle cx="830.7" cy="407.9"/><circle cx="831.3" cy="443"/><circle cx="816.8" cy="411.6"/><circle cx="822.1" cy="444.1"/><circle cx="832.9" cy="409.6"/><circle cx="820.2" cy="390.7"/><circle cx="818.8" cy="417.2"/><circle cx="818.1" cy="368"/><circle cx="834.1" cy="294.8"/><circle cx="823.1" cy="412.7"/><circle cx="832.4" cy="339.6"/><circle cx="825.2" cy="295.6"/><circle cx="829.5" cy="387.1"/><circle cx="829.2" cy="377"/><circle cx="831.8" cy="343.1"/><circle cx="832.9" cy="375.1"/><circle cx="821.4" cy="388.5"/><circle cx="830.2" cy="387.7"/><circle cx="827.1" cy="397.2"/><circle cx="831.8" cy="387.6"/><circle cx="817.3" cy="293.8"/><circle cx="823.5" cy="399.9"/><circle cx="817.9" cy="358.9"/><circle cx="822.8" cy="403.4"/><circle cx="832.1" cy="346.1"/><circle cx="822.7" cy="344.2"/><circle cx="821.2" cy="440.8"/><circle cx="819.1" cy="387.9"/><circle cx="829.9" cy="385.3"/><circle cx="817.5" cy="392.7"/><circle cx="820.3" cy="332.2"/><circle cx="826.2" cy="372.9"/><circle cx="823.5" cy="316.6"/><circle cx="821.6" cy="405.1"/><circle cx="830.2" cy="293.6"/><circle cx="822.9" cy="433.4"/><circle cx="826.9" cy="418.2"/><circle cx="826.3" cy="313.6"/><circle cx="824.1" cy="420.5"/><circle cx="831.3" cy="354"/><circle cx="830.4" cy="330.3"/><circle cx="824.2" cy="391.7"/><circle cx="823.8" cy="298.1"/><circle cx="827.3" cy="363.6"/><circle cx="829.2" cy="434.8"/><circle cx="831.8" cy="433.5"/><circle cx="821" cy="396.5"/><circle cx="830.5" cy="396.7"/><circle cx="831.5" cy="353.5"/><circle cx="824.4" cy="310.2"/><circle cx="820.3" cy="383"/><circle cx="834.1" cy="394.5"/><circle cx="827.7" cy="462.6"/><circle cx="819" cy="336"/><circle cx="832.4" cy="437.3"/><circle cx="820.3" cy="365.7"/><circle cx="829.6" cy="404.4"/><circle cx="820.4" cy="396"/><circle cx="827.2" cy="365.5"/><circle cx="833.4" cy="374.4"/><circle cx="833.6" cy="414.5"/><circle cx="817.7" cy="412.8"/><circle cx="829.3" cy="404.1"/><circle cx="820.6" cy="343.8"/><circle cx="828.4" cy="382.7"/><circle cx="831.9" cy="363.7"/><circle cx="823" cy="396.8"/><circle cx="832.6" cy="383.5"/><circle cx="824.4" cy="386.4"/><circle cx="831.1" cy="392"/><circle cx="824.5" cy="384.7"/><circle cx="832.2" cy="366.2"/><circle cx="820.1" cy="369.4"/><circle cx="823.9" cy="410.8"/><circle cx="820.2" cy="379.1"/><circle cx="816.8" cy="336.5"/><circle cx="825" cy="380"/><circle cx="828.8" cy="395.6"/><circle cx="818.3" cy="373.4"/><circle cx="825.7" cy="302.4"/><circle cx="833.4" cy="387.7"/><circle cx="819.5" cy="318.8"/><circle cx="818.5" cy="406.6"/><circle cx="823.7" cy="364.3"/><circle cx="830.5" cy="363.8"/><circle cx="822.1" cy="401.3"/><circle cx="832.6" cy="327.4"/><circle cx="831" cy="298.8"/><circle cx="832.9" cy="417"/><circle cx="825" cy="372.5"/><circle cx="826.7" cy="389.6"/><circle cx="827.5" cy="458.9"/><circle cx="833.6" cy="363.4"/><circle cx="832.2" cy="333.2"/><circle cx="829.3" cy="415.5"/><circle cx="822.4" cy="385.9"/><circle cx="827.4" cy="300.7"/><circle cx="824.9" cy="405.2"/><circle cx="826.6" cy="407.7"/><circle cx="823" cy="364.1"/><circle cx="818.2" cy="440.1"/><circle cx="820.2" cy="376"/><circle cx="821" cy="449.4"/><circle cx="821.3" cy="420.3"/><circle cx="818" cy="394.3"/><circle cx="833.6" cy="448.8"/><circle cx="820.9" cy="323.1"/><circle cx="833.1" cy="347.4"/><circle cx="822.7" cy="421.8"/><circle cx="817.5" cy="362.8"/><circle cx="830.7" cy="386.7"/><circle cx="817.6" cy="438.2"/><circle cx="819.2" cy="366"/><circle cx="817.6" cy="318.4"/><circle cx="827.3" cy="372"/><circle cx="817.8" cy="393.1"/><circle cx="827.3" cy="382.4"/><circle cx="830.2" cy="317.9"/><circle cx="826.1" cy="370.2"/><circle cx="817.3" cy="355.4"/><circle cx="819.8" cy="421.7"/><circle cx="829.2" cy="298.4"/><circle cx="822.6" cy="383.7"/><circle cx="833.1" cy="381.1"/><circle cx="819.2" cy="441.1"/><circle cx="818.9" cy="387.4"/><circle cx="818.5" cy="433"/><circle cx="818.5" cy="432.6"/><circle cx="823.1" cy="299.2"/><circle cx="824.7" cy="324"/><circle cx="825.4" cy="387.2"/><circle cx="826.2" cy="374.2"/><circle cx="824.9" cy="378.2"/><circle cx="826.7" cy="426.9"/><circle cx="830.1" cy="388.8"/><circle cx="824.7" cy="350.9"/><circle cx="825.1" cy="395.4"/><circle cx="817.4" cy="392.3"/><circle cx="830.3" cy="408.2"/><circle cx="820.6" cy="352.9"/><circle cx="827.5" cy="399.5"/><circle cx="817.6" cy="378.6"/><circle cx="834.1" cy="412.3"/><circle cx="825.8" cy="411.2"/><circle cx="821" cy="408.5"/><circle cx="820.5" cy="430.3"/><circle cx="831.4" cy="442.3"/><circle cx="831.1" cy="320.8"/><circle cx="818.2" cy="338.8"/><circle cx="834.2" cy="369.9"/><circle cx="830.8" cy="406.8"/><circle cx="825.8" cy="394.1"/><circle cx="830.1" cy="401.1"/><circle cx="824.6" cy="400.1"/><circle cx="821.1" cy="436.1"/><circle cx="819.4" cy="403.6"/><circle cx="830.2" cy="395.9"/><circle cx="824.7" cy="414.9"/><circle cx="826.5" cy="373.9"/><circle cx="819.6" cy="372.6"/><circle cx="822.1" cy="435.7"/><circle cx="827.5" cy="373.6"/><circle cx="828.8" cy="410.5"/><circle cx="832.9" cy="403.9"/><circle cx="818" cy="332.2"/><circle cx="831.2" cy="415.7"/><circle cx="819.5" cy="388.7"/><circle cx="828.8" cy="449.1"/><circle cx="819.8" cy="403"/><circle cx="823.3" cy="385"/><circle cx="831.9" cy="380.9"/><circle cx="830.2" cy="341.6"/><circle cx="831.6" cy="418.9"/><circle cx="830" cy="407.6"/><circle cx="825.4" cy="300.8"/><circle cx="833" cy="417.4"/><circle cx="817.7" cy="402.1"/><circle cx="832.4" cy="353.6"/><circle cx="817.3" cy="351.8"/><circle cx="826.2" cy="420.8"/><circle cx="830.2" cy="460.2"/><circle cx="823.6" cy="399.3"/><circle cx="824.6" cy="367"/><circle cx="818.5" cy="431.5"/><circle cx="822.9" cy="415.8"/><circle cx="819.7" cy="384.1"/><circle cx="830.7" cy="417.8"/><circle cx="819.6" cy="381.9"/><circle cx="828.1" cy="386.4"/><circle cx="817.9" cy="422.9"/><circle cx="816.5" cy="428.7"/><circle cx="820.7" cy="403.8"/><circle cx="830.1" cy="426.9"/><circle cx="826.4" cy="305.9"/><circle cx="833.4" cy="400.8"/><circle cx="831.6" cy="383.9"/><circle cx="831.6" cy="297.5"/><circle cx="823" cy="375.7"/><circle cx="824.6" cy="373.5"/><circle cx="822.9" cy="403.1"/><circle cx="830.3" cy="384.2"/><circle cx="828.5" cy="378.1"/><circle cx="817.3" cy="329"/><circle cx="824.9" cy="365.8"/><circle cx="823.5" cy="340.3"/><circle cx="823.2" cy="411.1"/><circle cx="828.6" cy="346.7"/><circle cx="818.6" cy="383"/><circle cx="830.1" cy="378"/><circle cx="827.9" cy="359.7"/><circle cx="827.3" cy="354.9"/><circle cx="821.1" cy="315.5"/><circle cx="827.9" cy="447.5"/><circle cx="831.7" cy="380.1"/><circle cx="827.9" cy="296.1"/><circle cx="828" cy="388.1"/><circle cx="830.7" cy="389.4"/><circle cx="827" cy="424.4"/><circle cx="830.3" cy="411.3"/><circle cx="833.9" cy="321.9"/><circle cx="821.9" cy="398.8"/><circle cx="828.2" cy="357.5"/><circle cx="829" cy="369.5"/><circle cx="822" cy="395.1"/><circle cx="826.9" cy="319.3"/><circle cx="821.9" cy="304.1"/><circle cx="817.9" cy="402"/><circle cx="828.5" cy="337.8"/><circle cx="826.4" cy="323"/><circle cx="822.8" cy="443.6"/><circle cx="834" cy="423.4"/><circle cx="820.1" cy="348.2"/><circle cx="823.9" cy="408.9"/><circle cx="827.9" cy="380.4"/><circle cx="828" cy="405.8"/><circle cx="833.7" cy="389.2"/><circle cx="823" cy="404.7"/><circle cx="829.7" cy="297.3"/><circle cx="828.1" cy="318.4"/><circle cx="823.4" cy="314.1"/><circle cx="832.6" cy="368.7"/><circle cx="821.9" cy="384.8"/><circle cx="824.5" cy="410"/><circle cx="829.3" cy="350.1"/><circle cx="829.3" cy="333.6"/><circle cx="832.2" cy="337.4"/><circle cx="817.1" cy="442"/><circle cx="830.6" cy="436.4"/><circle cx="830.1" cy="450.5"/><circle cx="816.5" cy="369.3"/><circle cx="834.3" cy="422.7"/><circle cx="830.2" cy="365.4"/><circle cx="833.2" cy="445.6"/><circle cx="818.4" cy="384.5"/><circle cx="818.8" cy="430.6"/><circle cx="825.4" cy="307"/><circle cx="820.6" cy="410.6"/><circle cx="822.3" cy="346.5"/><circle cx="828.5" cy="400.5"/><circle cx="818.8" cy="369.5"/><circle cx="820.7" cy="310"/><circle cx="820.9" cy="302.7"/><circle cx="817.6" cy="403.3"/><circle cx="831.7" cy="378.9"/><circle cx="817.9" cy="405.9"/><circle cx="828" cy="439.1"/><circle cx="831.5" cy="348.7"/><circle cx="832.5" cy="372"/><circle cx="823.3" cy="382.6"/><circle cx="826.9" cy="362.3"/><circle cx="827.4" cy="376.4"/><circle cx="821.1" cy="308.7"/><circle cx="831.4" cy="333.9"/><circle cx="817.9" cy="447.1"/><circle cx="817.8" cy="399"/><circle cx="832.2" cy="405.6"/><circle cx="819.7" cy="307.9"/><circle cx="825.7" cy="377.6"/><circle cx="816.5" cy="368.5"/><circle cx="817.3" cy="419.2"/><circle cx="817.2" cy="291.5"/><circle cx="820" cy="324.6"/><circle cx="829.8" cy="437.4"/><circle cx="828.8" cy="438"/><circle cx="816.6" cy="424.5"/><circle cx="821.4" cy="371.4"/><circle cx="822.4" cy="370.9"/><circle cx="820.6" cy="404.8"/><circle cx="829.1" cy="436.3"/><circle cx="818.5" cy="386.8"/><circle cx="822.9" cy="378"/><circle cx="828" cy="250"/><circle cx="824.9" cy="435.5"/><circle cx="826.7" cy="329.7"/><circle cx="825" cy="433.8"/><circle cx="833" cy="385.5"/><circle cx="817.7" cy="321.4"/><circle cx="833.9" cy="378.4"/><circle cx="817.3" cy="349.1"/><circle cx="827.6" cy="380.7"/><circle cx="822.6" cy="370.5"/><circle cx="828.8" cy="377.4"/><circle cx="826.8" cy="380.5"/><circle cx="816.9" cy="389.1"/><circle cx="819.4" cy="326.9"/><circle cx="829.5" cy="432.1"/><circle cx="826.1" cy="412"/><circle cx="819.9" cy="394.6"/><circle cx="832.9" cy="374.6"/><circle cx="833.5" cy="426.5"/><circle cx="819.6" cy="391.6"/><circle cx="818.1" cy="418.6"/><circle cx="822.9" cy="373.7"/><circle cx="820.3" cy="361.8"/><circle cx="825.3" cy="402.3"/><circle cx="820.8" cy="449.2"/><circle cx="827.9" cy="426.1"/><circle cx="822.5" cy="371.3"/><circle cx="818.5" cy="423.9"/><circle cx="822.8" cy="368.5"/><circle cx="826.8" cy="386"/><circle cx="822.4" cy="366.7"/><circle cx="821.9" cy="430.1"/><circle cx="821.1" cy="347.7"/><circle cx="818.3" cy="402.9"/><circle cx="828.1" cy="407"/><circle cx="819.3" cy="312"/><circle cx="816.7" cy="366.1"/><circle cx="831.3" cy="374"/><circle cx="820.8" cy="392.9"/><circle cx="829.1" cy="407.2"/><circle cx="830.3" cy="397.1"/><circle cx="823.2" cy="353"/><circle cx="819" cy="397.4"/><circle cx="821.5" cy="367.5"/><circle cx="828.9" cy="349"/><circle cx="821" cy="409"/><circle cx="817" cy="383.8"/><circle cx="834.2" cy="380.3"/><circle cx="826.4" cy="387.3"/><circle cx="822.4" cy="362.6"/><circle cx="824.1" cy="303.5"/><circle cx="826.8" cy="301.2"/><circle cx="819.2" cy="324.9"/><circle cx="823" cy="337.2"/><circle cx="827.3" cy="401.2"/><circle cx="824.8" cy="181.5"/><circle cx="825.4" cy="299.9"/><circle cx="834.4" cy="446.8"/><circle cx="832.9" cy="314.3"/><circle cx="823.2" cy="439.7"/><circle cx="820.9" cy="418.2"/><circle cx="824.6" cy="442.7"/><circle cx="832.9" cy="370.4"/><circle cx="818.1" cy="354.6"/><circle cx="823.6" cy="374.8"/><circle cx="826.7" cy="379.3"/><circle cx="829.2" cy="395.3"/><circle cx="830.5" cy="413"/><circle cx="828.9" cy="420"/><circle cx="833.6" cy="427.4"/><circle cx="820.4" cy="340.6"/><circle cx="818.6" cy="390.9"/><circle cx="823" cy="441.6"/><circle cx="820.1" cy="383.3"/><circle cx="819.4" cy="428.1"/><circle cx="827.5" cy="381.6"/><circle cx="824.7" cy="403.1"/><circle cx="823.8" cy="438.8"/><circle cx="834.2" cy="394.4"/><circle cx="816.6" cy="390.1"/><circle cx="828.4" cy="314.5"/><circle cx="826.4" cy="368.3"/><circle cx="827.2" cy="393.3"/><circle cx="817.4" cy="414.1"/><circle cx="823" cy="425.1"/><circle cx="824" cy="366.7"/><circle cx="830.9" cy="292.3"/><circle cx="820.2" cy="370.1"/><circle cx="820.4" cy="371"/><circle cx="816.8" cy="396.3"/><circle cx="834.3" cy="444.7"/><circle cx="824" cy="447.2"/><circle cx="817.9" cy="382.4"/><circle cx="822.6" cy="393.3"/><circle cx="822.2" cy="434.9"/><circle cx="824.3" cy="322.5"/><circle cx="826.6" cy="389.5"/><circle cx="817.5" cy="376.8"/><circle cx="821.3" cy="416.3"/><circle cx="828.4" cy="392.1"/><circle cx="827.6" cy="399.5"/><circle cx="824.2" cy="398.5"/><circle cx="824.5" cy="405"/><circle cx="820.8" cy="408.2"/><circle cx="833" cy="448.7"/><circle cx="821.2" cy="339.5"/><circle cx="833.8" cy="338.6"/><circle cx="827" cy="402.7"/><circle cx="829.9" cy="390.5"/><circle cx="825.4" cy="379.4"/><circle cx="824.6" cy="324.5"/><circle cx="829.9" cy="407.1"/><circle cx="831.4" cy="445.4"/><circle cx="819.6" cy="400.2"/><circle cx="818.1" cy="314.9"/><circle cx="819.5" cy="431.1"/><circle cx="818.9" cy="436.5"/><circle cx="825.7" cy="446.6"/><circle cx="823.5" cy="305.8"/><circle cx="821.6" cy="290"/><circle cx="816.7" cy="378.4"/><circle cx="822.5" cy="402.6"/><circle cx="828.3" cy="376.6"/><circle cx="829" cy="340.9"/><circle cx="827.2" cy="398.9"/><circle cx="826" cy="399.8"/><circle cx="824.4" cy="415"/><circle cx="820.7" cy="394"/><circle cx="833.4" cy="419.6"/><circle cx="825.5" cy="394.8"/><circle cx="831.2" cy="421.5"/><circle cx="831.5" cy="425.4"/><circle cx="823.6" cy="450.8"/><circle cx="816.5" cy="335"/><circle cx="822.1" cy="395.8"/><circle cx="832.5" cy="401.6"/><circle cx="831.2" cy="364.2"/><circle cx="822.8" cy="371.9"/><circle cx="826.4" cy="409.7"/><circle cx="828.6" cy="350.7"/><circle cx="829.5" cy="398.8"/><circle cx="817.2" cy="402.2"/><circle cx="833.4" cy="407.4"/><circle cx="820" cy="383.6"/><circle cx="829.1" cy="444.1"/><circle cx="832.4" cy="370.2"/><circle cx="829" cy="375.8"/><circle cx="820.6" cy="329.1"/><circle cx="816.7" cy="317.5"/><circle cx="834.4" cy="356.6"/><circle cx="825.9" cy="305.2"/><circle cx="831" cy="449.7"/><circle cx="824.7" cy="323.3"/><circle cx="831.5" cy="290.8"/><circle cx="824.1" cy="338"/><circle cx="831.3" cy="392.9"/><circle cx="829.6" cy="382.5"/><circle cx="829.9" cy="396"/><circle cx="830.4" cy="378.8"/><circle cx="818" cy="325.5"/><circle cx="820.5" cy="374.3"/><circle cx="827.4" cy="355.1"/><circle cx="832" cy="282"/><circle cx="823" cy="424.1"/><circle cx="831.9" cy="401"/><circle cx="824.2" cy="377.8"/><circle cx="832.9" cy="418.5"/><circle cx="826" cy="409.8"/><circle cx="816.7" cy="315.9"/><circle cx="819" cy="366.5"/><circle cx="818.2" cy="327"/><circle cx="817.7" cy="396.4"/><circle cx="832.7" cy="375.5"/><circle cx="830.3" cy="431.6"/><circle cx="820.2" cy="416.8"/><circle cx="825.1" cy="339.1"/><circle cx="824.7" cy="346.9"/><circle cx="820.7" cy="437.8"/><circle cx="823.6" cy="352.6"/><circle cx="825.3" cy="381.3"/><circle cx="834.3" cy="368.9"/><circle cx="817.1" cy="387"/><circle cx="824" cy="390.2"/><circle cx="834.3" cy="316.7"/><circle cx="820.7" cy="421"/><circle cx="832.3" cy="423.9"/><circle cx="832.2" cy="360.8"/><circle cx="819.4" cy="317.5"/><circle cx="821.4" cy="413.8"/><circle cx="817.9" cy="439.9"/><circle cx="820.7" cy="389.8"/><circle cx="818.6" cy="419.7"/><circle cx="822.7" cy="388.4"/><circle cx="827.7" cy="400.7"/><circle cx="823.1" cy="291.4"/><circle cx="827.1" cy="349.4"/><circle cx="824.9" cy="409.3"/><circle cx="832.3" cy="388.2"/><circle cx="819.3" cy="405.5"/><circle cx="825.4" cy="396.9"/><circle cx="818.5" cy="345"/><circle cx="818" cy="362.7"/><circle cx="834.1" cy="356.1"/><circle cx="831.6" cy="363.9"/><circle cx="827.8" cy="299.6"/><circle cx="824.1" cy="376.6"/><circle cx="826.9" cy="358.3"/><circle cx="821.6" cy="376.9"/><circle cx="819.5" cy="311.6"/><circle cx="833.6" cy="445.9"/><circle cx="827.7" cy="367.4"/><circle cx="818.3" cy="367.8"/><circle cx="832.1" cy="439.3"/><circle cx="829.7" cy="366.9"/><circle cx="827.1" cy="397.7"/><circle cx="833.4" cy="424.7"/><circle cx="821.7" cy="351.7"/><circle cx="824" cy="389.3"/><circle cx="829.4" cy="398.1"/><circle cx="822.8" cy="383.1"/><circle cx="823.4" cy="402.5"/><circle cx="820.3" cy="408.3"/><circle cx="833.6" cy="397.6"/><circle cx="818.2" cy="374.7"/><circle cx="833.6" cy="372.2"/><circle cx="820.7" cy="370.7"/><circle cx="831.6" cy="401.9"/><circle cx="825.6" cy="457.6"/><circle cx="821.4" cy="406.9"/><circle cx="829.3" cy="457.4"/><circle cx="820.5" cy="395.5"/><circle cx="830.8" cy="382.1"/><circle cx="821.1" cy="448.1"/><circle cx="830.5" cy="401.4"/><circle cx="825.4" cy="462.3"/><circle cx="827.6" cy="332.5"/><circle cx="827.7" cy="364.5"/><circle cx="825.1" cy="402.4"/><circle cx="826.2" cy="381.7"/><circle cx="829.1" cy="363.2"/><circle cx="820.1" cy="429.2"/><circle cx="821.8" cy="427.2"/><circle cx="821.3" cy="367.2"/><circle cx="822.2" cy="417.6"/><circle cx="817.4" cy="369"/><circle cx="830.5" cy="363.2"/><circle cx="824.4" cy="335.5"/><circle cx="830.5" cy="305.5"/><circle cx="833.2" cy="359.3"/><circle cx="818.4" cy="455.1"/><circle cx="826.9" cy="385.4"/><circle cx="821.3" cy="308.3"/><circle cx="823.4" cy="441.8"/><circle cx="828.2" cy="376.3"/><circle cx="820.4" cy="309.1"/><circle cx="823" cy="413.7"/><circle cx="827.5" cy="292.7"/><circle cx="832.3" cy="406.5"/><circle cx="825.9" cy="413.5"/><circle cx="827.5" cy="407.1"/><circle cx="818.8" cy="422.3"/><circle cx="833.7" cy="390.4"/><circle cx="827.7" cy="405.4"/><circle cx="830" cy="392"/><circle cx="822.5" cy="331.4"/><circle cx="830.8" cy="320.3"/><circle cx="820.8" cy="414.3"/><circle cx="822" cy="301.5"/><circle cx="818.1" cy="374.1"/><circle cx="819.6" cy="307.7"/><circle cx="823.3" cy="407.9"/><circle cx="820.8" cy="308.5"/><circle cx="820" cy="428.4"/><circle cx="826.6" cy="394.9"/><circle cx="821.4" cy="373.2"/><circle cx="818.1" cy="381"/><circle cx="832.3" cy="365.1"/><circle cx="829" cy="369"/><circle cx="830.6" cy="388.8"/><circle cx="816.6" cy="361.1"/><circle cx="831.5" cy="310.9"/><circle cx="826.3" cy="377.5"/><circle cx="829" cy="393.9"/><circle cx="825.1" cy="408.5"/><circle cx="827" cy="426"/><circle cx="834.3" cy="398.2"/><circle cx="830.6" cy="388.9"/><circle cx="825.8" cy="400.6"/><circle cx="822.7" cy="408.7"/><circle cx="825.9" cy="319.7"/><circle cx="827.1" cy="330.9"/><circle cx="826.8" cy="373"/><circle cx="828.9" cy="443.8"/><circle cx="832.4" cy="309.6"/><circle cx="828.4" cy="304.1"/><circle cx="828.9" cy="342.7"/><circle cx="817.5" cy="351.3"/><circle cx="820.3" cy="294.3"/><circle cx="820.1" cy="404.6"/><circle cx="827.8" cy="365.2"/><circle cx="816.5" cy="429.8"/><circle cx="818.4" cy="363.4"/><circle cx="818.6" cy="394.8"/><circle cx="833.1" cy="388"/><circle cx="816.8" cy="409.2"/><circle cx="831.5" cy="384.8"/><circle cx="823.1" cy="386.2"/><circle cx="820.3" cy="384"/><circle cx="822" cy="391.3"/><circle cx="830" cy="377.7"/><circle cx="818.9" cy="329.6"/><circle cx="818.9" cy="345.5"/><circle cx="823.8" cy="455.9"/><circle cx="833" cy="370.6"/><circle cx="823.7" cy="357.1"/><circle cx="818.9" cy="446.7"/><circle cx="823.8" cy="438.6"/><circle cx="827.4" cy="369.7"/><circle cx="824.5" cy="392.6"/><circle cx="827.7" cy="392.6"/><circle cx="826.6" cy="386.6"/><circle cx="832.3" cy="296.9"/><circle cx="817.7" cy="354.5"/><circle cx="821" cy="423.2"/><circle cx="829.9" cy="397.4"/><circle cx="816.6" cy="395.2"/><circle cx="822.5" cy="391.5"/><circle cx="829.7" cy="416.5"/><circle cx="821" cy="404.2"/><circle cx="834" cy="422.1"/><circle cx="823.2" cy="406.3"/><circle cx="825" cy="389.8"/><circle cx="830.6" cy="386"/><circle cx="820.4" cy="404.9"/><circle cx="825.2" cy="409.9"/><circle cx="821.8" cy="426.7"/><circle cx="823.8" cy="397.3"/><circle cx="825.7" cy="442.7"/><circle cx="829.9" cy="304.6"/><circle cx="821.8" cy="443.2"/><circle cx="825.2" cy="430"/><circle cx="821.9" cy="265.5"/><circle cx="818.4" cy="361.3"/><circle cx="829.5" cy="340"/><circle cx="817.6" cy="461.3"/><circle cx="816.8" cy="388.5"/><circle cx="826.4" cy="447.8"/><circle cx="823.3" cy="379.6"/><circle cx="826.5" cy="380.1"/><circle cx="826.6" cy="365.6"/><circle cx="821.4" cy="420.1"/><circle cx="827.8" cy="319.4"/><circle cx="820.1" cy="452"/><circle cx="831.9" cy="410.3"/><circle cx="820.6" cy="434.1"/><circle cx="833.1" cy="326.4"/><circle cx="829.9" cy="293"/><circle cx="830.3" cy="435.9"/><circle cx="831" cy="425.5"/><circle cx="832.9" cy="393.4"/><circle cx="825.2" cy="391.3"/><circle cx="827.9" cy="379"/><circle cx="821.8" cy="416"/><circle cx="832.9" cy="375.4"/><circle cx="831.6" cy="369.6"/><circle cx="829.7" cy="429.6"/><circle cx="832.2" cy="391"/><circle cx="823.5" cy="401.5"/><circle cx="828.6" cy="371.2"/><circle cx="831.1" cy="454.6"/><circle cx="819.6" cy="398.3"/><circle cx="826.5" cy="312"/><circle cx="830.3" cy="440.7"/><circle cx="831.3" cy="367.6"/><circle cx="824.2" cy="334.2"/><circle cx="823.1" cy="336.9"/><circle cx="823" cy="258"/><circle cx="817.7" cy="404"/><circle cx="828.8" cy="374.9"/><circle cx="826.3" cy="429"/><circle cx="823.9" cy="427.8"/><circle cx="819.7" cy="425.8"/><circle cx="821.4" cy="364.9"/><circle cx="829.5" cy="404.6"/><circle cx="825.7" cy="294.9"/><circle cx="821.2" cy="410.1"/><circle cx="826.8" cy="382"/><circle cx="816.6" cy="303.1"/><circle cx="824.5" cy="378.6"/><circle cx="819.1" cy="381.7"/><circle cx="826.1" cy="372.4"/><circle cx="823.8" cy="359.7"/><circle cx="820.5" cy="456.5"/><circle cx="826.4" cy="430.8"/><circle cx="819.2" cy="369.8"/><circle cx="821.6" cy="410.7"/><circle cx="825.6" cy="445.3"/><circle cx="831" cy="385.7"/><circle cx="821.2" cy="345.7"/><circle cx="831.3" cy="421.1"/><circle cx="834.2" cy="400.9"/><circle cx="833.3" cy="443.4"/><circle cx="826.1" cy="391.1"/><circle cx="832.1" cy="416.7"/><circle cx="832" cy="427.6"/><circle cx="832.3" cy="371.6"/><circle cx="822.6" cy="446.1"/><circle cx="818.6" cy="442.2"/><circle cx="817" cy="312.3"/><circle cx="828.4" cy="328.2"/><circle cx="818.4" cy="367.7"/><circle cx="830.7" cy="291.9"/><circle cx="829.5" cy="383.2"/><circle cx="820.6" cy="393"/><circle cx="832.4" cy="375.2"/><circle cx="817.1" cy="331.1"/><circle cx="833.6" cy="320.1"/><circle cx="823.5" cy="341.3"/><circle cx="834.1" cy="356"/><circle cx="818.4" cy="390.8"/><circle cx="824" cy="422.6"/><circle cx="822.6" cy="349.7"/><circle cx="819.9" cy="444.4"/><circle cx="825.9" cy="365.9"/><circle cx="825.3" cy="433.3"/><circle cx="832.1" cy="443.9"/><circle cx="822.4" cy="453.2"/><circle cx="826.7" cy="419.3"/><circle cx="816.9" cy="393.7"/><circle cx="826.1" cy="342.4"/><circle cx="826.8" cy="311.3"/><circle cx="822.2" cy="293.1"/><circle cx="830.9" cy="439.4"/><circle cx="826.4" cy="371.7"/><circle cx="820.8" cy="377.1"/><circle cx="821.4" cy="408.8"/><circle cx="827.2" cy="399.6"/><circle cx="830.7" cy="310.7"/><circle cx="832.7" cy="400"/><circle cx="830.5" cy="334.7"/><circle cx="834.2" cy="432.4"/><circle cx="822.6" cy="370.9"/><circle cx="829.7" cy="434"/><circle cx="828.6" cy="442.4"/><circle cx="825.5" cy="404.3"/><circle cx="830" cy="395.7"/><circle cx="832.8" cy="406.2"/><circle cx="821.7" cy="396.9"/><circle cx="832.8" cy="385"/><circle cx="819.9" cy="356.8"/><circle cx="823.1" cy="301.6"/><circle cx="829.4" cy="390.6"/><circle cx="822.6" cy="321.5"/><circle cx="822" cy="446.2"/><circle cx="826.7" cy="419.1"/><circle cx="816.9" cy="328.6"/><circle cx="819" cy="372.9"/><circle cx="827.5" cy="377.3"/><circle cx="833.7" cy="399.2"/><circle cx="827.6" cy="367.3"/><circle cx="831.3" cy="364.7"/><circle cx="822" cy="371.2"/><circle cx="831.2" cy="447.7"/><circle cx="832.5" cy="405.7"/><circle cx="833.7" cy="392.3"/><circle cx="830.6" cy="321"/><circle cx="826.7" cy="449.9"/><circle cx="819.8" cy="432.9"/><circle cx="824.2" cy="388.1"/><circle cx="830.9" cy="413.3"/><circle cx="827.5" cy="402.7"/><circle cx="818.8" cy="366.4"/><circle cx="821.8" cy="423.2"/><circle cx="828.7" cy="382.8"/><circle cx="820.6" cy="379.8"/><circle cx="817.3" cy="415.4"/><circle cx="833.7" cy="299.1"/><circle cx="834.3" cy="345.3"/><circle cx="823.9" cy="291.2"/><circle cx="824.2" cy="368.3"/><circle cx="827.3" cy="313"/><circle cx="826.5" cy="409.6"/><circle cx="831.2" cy="296.4"/><circle cx="827.9" cy="398.4"/><circle cx="832.8" cy="294.3"/><circle cx="818.4" cy="327.7"/><circle cx="818.5" cy="434.6"/><circle cx="826.2" cy="393.6"/><circle cx="831.9" cy="428.8"/><circle cx="830.7" cy="317.1"/><circle cx="833.4" cy="440.4"/><circle cx="819.4" cy="431.4"/><circle cx="824.4" cy="373.2"/><circle cx="822.3" cy="406"/><circle cx="818.6" cy="328.4"/><circle cx="830.5" cy="432.7"/><circle cx="834.3" cy="412.4"/><circle cx="832.6" cy="399.1"/><circle cx="823.6" cy="336.4"/><circle cx="818.3" cy="393.6"/><circle cx="819.4" cy="422.3"/><circle cx="831.7" cy="300.2"/><circle cx="823.4" cy="414.8"/><circle cx="821.3" cy="376.2"/><circle cx="825.3" cy="371.5"/><circle cx="822.3" cy="409.3"/><circle cx="825" cy="407.5"/><circle cx="819.3" cy="395"/><circle cx="828.3" cy="343.3"/><circle cx="824.5" cy="322.3"/><circle cx="819.8" cy="401.6"/><circle cx="820.9" cy="449.6"/><circle cx="832.4" cy="411.6"/><circle cx="816.7" cy="411"/><circle cx="823.2" cy="438.7"/><circle cx="834.1" cy="331.8"/><circle cx="832.8" cy="390.3"/><circle cx="819" cy="368.6"/><circle cx="824.2" cy="436.9"/><circle cx="826.7" cy="365.1"/><circle cx="816.4" cy="398.6"/><circle cx="818" cy="285"/><circle cx="817.5" cy="425.3"/><circle cx="821.6" cy="400.3"/><circle cx="825.7" cy="352.3"/><circle cx="829.4" cy="375.9"/><circle cx="821.9" cy="406.6"/><circle cx="829.8" cy="372.7"/><circle cx="817.7" cy="458.6"/><circle cx="817.1" cy="306.6"/><circle cx="820.1" cy="391.7"/><circle cx="833.3" cy="414.5"/><circle cx="829.5" cy="380.6"/><circle cx="818.5" cy="360.6"/><circle cx="832.8" cy="434.2"/><circle cx="824.7" cy="315.1"/><circle cx="824.3" cy="342"/><circle cx="828.2" cy="417.9"/><circle cx="823.2" cy="373.6"/><circle cx="832" cy="399.8"/><circle cx="826.7" cy="384.3"/><circle cx="830.4" cy="448.4"/><circle cx="829.7" cy="438.4"/><circle cx="817.6" cy="408"/><circle cx="819.8" cy="427.6"/><circle cx="822.1" cy="453.8"/><circle cx="823" cy="334.4"/><circle cx="825.1" cy="403.6"/><circle cx="828.1" cy="437.6"/><circle cx="832.5" cy="344.1"/><circle cx="823.5" cy="406.4"/><circle cx="820.2" cy="435.4"/><circle cx="816.7" cy="297.9"/><circle cx="831" cy="243"/><circle cx="818.1" cy="437.2"/><circle cx="820.6" cy="413.2"/><circle cx="820.5" cy="344.7"/><circle cx="834.4" cy="398"/><circle cx="833.8" cy="289.4"/><circle cx="817.4" cy="408.8"/><circle cx="826.4" cy="360.1"/><circle cx="817.7" cy="406.1"/><circle cx="816.5" cy="435.2"/><circle cx="824.5" cy="384.4"/><circle cx="831.7" cy="358.7"/><circle cx="817" cy="365"/><circle cx="817.3" cy="381.3"/><circle cx="824.5" cy="407.7"/><circle cx="822.6" cy="303.3"/><circle cx="817.3" cy="377.2"/><circle cx="823" cy="332.8"/><circle cx="833.3" cy="368.2"/><circle cx="829.9" cy="398.1"/><circle cx="822.4" cy="436.7"/><circle cx="829.8" cy="386.9"/><circle cx="821.2" cy="382.2"/><circle cx="827.2" cy="323.9"/><circle cx="821.8" cy="445"/><circle cx="822.6" cy="452.3"/><circle cx="827.1" cy="431.8"/><circle cx="818.4" cy="380.8"/><circle cx="827.5" cy="409.5"/><circle cx="817.8" cy="364.6"/><circle cx="828" cy="375.2"/><circle cx="828.8" cy="385.7"/><circle cx="818.6" cy="375.6"/><circle cx="831" cy="381.4"/><circle cx="818.3" cy="444.6"/><circle cx="823.5" cy="306.5"/><circle cx="832.2" cy="391.8"/><circle cx="826.8" cy="245.6"/><circle cx="832.8" cy="385.2"/><circle cx="830" cy="432"/><circle cx="819.1" cy="412"/><circle cx="833.3" cy="295.3"/><circle cx="833.8" cy="394.4"/><circle cx="821.9" cy="391.2"/><circle cx="825.2" cy="400.4"/><circle cx="818.3" cy="423.6"/><circle cx="828.5" cy="448.5"/><circle cx="821.3" cy="397.7"/><circle cx="817.9" cy="368.1"/><circle cx="817.3" cy="410.9"/><circle cx="832.2" cy="374.6"/><circle cx="820.2" cy="304.7"/><circle cx="818.6" cy="389.9"/><circle cx="834" cy="460.8"/><circle cx="825.7" cy="347.9"/><circle cx="822.3" cy="330.5"/><circle cx="824.9" cy="376.2"/><circle cx="832.5" cy="379.8"/><circle cx="819.2" cy="357.7"/><circle cx="817.3" cy="397.9"/></g><g class="p" fill="#9a2a3c"><circle cx="887.7" cy="334.5"/><circle cx="890.3" cy="362.6"/><circle cx="894.4" cy="372.1"/><circle cx="880.5" cy="364.5"/><circle cx="879.8" cy="375.3"/><circle cx="886.9" cy="399"/><circle cx="890.4" cy="374.8"/><circle cx="891.6" cy="381.1"/><circle cx="892.8" cy="370.6"/><circle cx="885.1" cy="313.7"/><circle cx="884.6" cy="395.4"/><circle cx="879.7" cy="367.6"/><circle cx="885.9" cy="394.7"/><circle cx="895.8" cy="329.3"/><circle cx="884.6" cy="361.6"/><circle cx="896.8" cy="366.4"/><circle cx="891.9" cy="346.8"/><circle cx="886.6" cy="371.4"/><circle cx="880.9" cy="370.3"/><circle cx="896.2" cy="379.1"/><circle cx="897.2" cy="411.9"/><circle cx="883.9" cy="350.6"/><circle cx="895.2" cy="354.7"/><circle cx="894.4" cy="381.4"/><circle cx="891.5" cy="374.4"/><circle cx="880.3" cy="370.2"/><circle cx="891.1" cy="380.7"/><circle cx="881.2" cy="372.2"/><circle cx="895.3" cy="388.9"/><circle cx="887.2" cy="375.5"/><circle cx="880.1" cy="378.2"/><circle cx="885.4" cy="355.4"/><circle cx="881.7" cy="365.9"/><circle cx="882.6" cy="391.2"/><circle cx="879.7" cy="378.7"/><circle cx="895.9" cy="332.1"/><circle cx="895.2" cy="377.7"/><circle cx="890.7" cy="347.5"/><circle cx="885.6" cy="399.5"/><circle cx="891" cy="376"/><circle cx="885.9" cy="317.3"/><circle cx="891" cy="409.9"/><circle cx="892.2" cy="382.2"/><circle cx="886.1" cy="395.2"/><circle cx="896.8" cy="386.7"/><circle cx="879.9" cy="363.5"/><circle cx="882.8" cy="366.1"/><circle cx="887.1" cy="371.2"/><circle cx="894.5" cy="371.3"/><circle cx="883.9" cy="379.7"/><circle cx="889.3" cy="398.8"/><circle cx="881.4" cy="400"/><circle cx="892.2" cy="400.7"/><circle cx="886.2" cy="381.8"/><circle cx="889.3" cy="407.3"/><circle cx="887.7" cy="372"/><circle cx="880" cy="397.7"/><circle cx="887.4" cy="374.4"/><circle cx="893.3" cy="409.6"/><circle cx="885.4" cy="343.1"/><circle cx="889.1" cy="365.1"/><circle cx="896.6" cy="361.2"/><circle cx="891" cy="347.1"/><circle cx="896.2" cy="361.8"/><circle cx="888.7" cy="359.7"/><circle cx="895.4" cy="334.1"/><circle cx="885.3" cy="368.5"/><circle cx="887.5" cy="305.4"/><circle cx="890.9" cy="373.3"/><circle cx="893.2" cy="396"/><circle cx="884" cy="368.5"/><circle cx="896.3" cy="394.6"/><circle cx="890.4" cy="390.8"/><circle cx="880.3" cy="339.9"/><circle cx="887.2" cy="353.9"/><circle cx="892.2" cy="396.9"/><circle cx="887.5" cy="344.9"/><circle cx="880.9" cy="316"/><circle cx="888.5" cy="376.4"/><circle cx="881.5" cy="372.9"/><circle cx="888.6" cy="375.9"/><circle cx="882.9" cy="365.7"/><circle cx="883.8" cy="366.8"/><circle cx="879.4" cy="386.9"/><circle cx="884.8" cy="376.7"/><circle cx="896.8" cy="387.7"/><circle cx="880.8" cy="362.1"/><circle cx="887.2" cy="349.4"/><circle cx="883.2" cy="384.5"/><circle cx="890.7" cy="357.5"/><circle cx="888.4" cy="390.7"/><circle cx="888.1" cy="371.6"/><circle cx="888" cy="382.9"/><circle cx="888.2" cy="363"/><circle cx="888.4" cy="333.1"/><circle cx="890.7" cy="360.9"/><circle cx="892.8" cy="379.5"/><circle cx="891.9" cy="383.2"/><circle cx="887" cy="360.6"/><circle cx="882.6" cy="360.9"/><circle cx="884.7" cy="369.4"/><circle cx="890.5" cy="331.4"/><circle cx="890.4" cy="366.4"/><circle cx="895.7" cy="382.6"/><circle cx="896.1" cy="374.8"/><circle cx="894.7" cy="405.9"/><circle cx="894.8" cy="367.1"/><circle cx="893.2" cy="383.9"/><circle cx="886.5" cy="371.9"/><circle cx="887.2" cy="388.8"/><circle cx="881.1" cy="388.2"/><circle cx="885.3" cy="365.2"/><circle cx="896.1" cy="384.3"/><circle cx="885" cy="374.7"/><circle cx="882.9" cy="366.6"/><circle cx="891.1" cy="355"/><circle cx="890.2" cy="360.7"/><circle cx="887.4" cy="362.9"/><circle cx="882.1" cy="366.9"/><circle cx="892" cy="302.9"/><circle cx="896.5" cy="362.2"/><circle cx="883.5" cy="341"/><circle cx="895.5" cy="392.9"/><circle cx="879.7" cy="332.6"/><circle cx="891.9" cy="353.5"/><circle cx="882.7" cy="350.8"/><circle cx="883.8" cy="345.9"/><circle cx="895.8" cy="377"/><circle cx="896.1" cy="377.9"/><circle cx="886.5" cy="365"/><circle cx="891.3" cy="356.9"/><circle cx="894.8" cy="343.5"/><circle cx="881.2" cy="401.5"/><circle cx="894.6" cy="364.7"/><circle cx="883.6" cy="390"/><circle cx="889.6" cy="370.9"/><circle cx="885" cy="379.1"/><circle cx="889.4" cy="380.2"/><circle cx="894.4" cy="338.3"/><circle cx="889.5" cy="376.2"/><circle cx="880.9" cy="367.8"/><circle cx="887.1" cy="339.2"/><circle cx="890.2" cy="378.6"/><circle cx="888.5" cy="379.3"/><circle cx="894.1" cy="374.1"/><circle cx="880.6" cy="370.6"/><circle cx="887.9" cy="375.6"/><circle cx="879.8" cy="392"/><circle cx="896.3" cy="378.6"/><circle cx="885.4" cy="403"/><circle cx="893.8" cy="385.3"/><circle cx="889.4" cy="373.7"/><circle cx="880.8" cy="377.3"/><circle cx="896.6" cy="410.8"/><circle cx="896" cy="337.8"/><circle cx="889" cy="321"/><circle cx="883.8" cy="370.4"/><circle cx="888.2" cy="405"/><circle cx="880.2" cy="367.6"/><circle cx="893" cy="343.8"/><circle cx="890.1" cy="367.9"/><circle cx="885.8" cy="363.3"/><circle cx="882" cy="362.6"/><circle cx="883.8" cy="389.7"/><circle cx="888.7" cy="352.2"/><circle cx="889.8" cy="381"/><circle cx="896.6" cy="362.8"/><circle cx="889" cy="393.6"/><circle cx="888.7" cy="308.6"/><circle cx="885.2" cy="387.8"/><circle cx="886.6" cy="377.4"/><circle cx="897" cy="375.7"/><circle cx="886.4" cy="361.5"/><circle cx="883.1" cy="361.1"/><circle cx="890.9" cy="373.5"/><circle cx="881.1" cy="337.4"/><circle cx="892.3" cy="364.5"/><circle cx="888" cy="338.7"/><circle cx="893.6" cy="348"/><circle cx="879.6" cy="364.1"/><circle cx="884.7" cy="409"/><circle cx="880.1" cy="368.8"/><circle cx="897.1" cy="374.1"/><circle cx="892.4" cy="369.4"/><circle cx="887.6" cy="393.8"/><circle cx="891.3" cy="368.2"/><circle cx="887.8" cy="379.4"/><circle cx="894.3" cy="372.7"/><circle cx="887.1" cy="356.1"/><circle cx="883.3" cy="323.4"/><circle cx="897.2" cy="365.9"/><circle cx="886.1" cy="346.4"/><circle cx="881.5" cy="368.2"/><circle cx="889.5" cy="341.7"/><circle cx="881" cy="391.4"/><circle cx="891" cy="328.1"/><circle cx="892.6" cy="373.6"/><circle cx="881.1" cy="385.3"/><circle cx="886.5" cy="373"/><circle cx="892.4" cy="318.6"/><circle cx="891.6" cy="368.9"/><circle cx="883" cy="369.6"/><circle cx="886.8" cy="365.3"/><circle cx="890.3" cy="368"/><circle cx="882.7" cy="340.4"/><circle cx="886.9" cy="367.4"/><circle cx="887.7" cy="361.1"/><circle cx="882.7" cy="386.4"/><circle cx="883.9" cy="324.2"/><circle cx="880.6" cy="356.5"/><circle cx="885.7" cy="306.4"/><circle cx="889.5" cy="373.1"/><circle cx="884" cy="335.7"/><circle cx="892.3" cy="388.3"/><circle cx="893.1" cy="377.4"/><circle cx="894.2" cy="369"/><circle cx="881.1" cy="360.1"/><circle cx="894" cy="365.6"/><circle cx="880.9" cy="395.7"/><circle cx="882.1" cy="376.6"/><circle cx="892.5" cy="333.8"/><circle cx="882.8" cy="366.2"/><circle cx="894.9" cy="361.4"/><circle cx="881.5" cy="406"/><circle cx="896.1" cy="392.9"/><circle cx="895.7" cy="348.7"/><circle cx="885.3" cy="366.5"/><circle cx="896.6" cy="371"/><circle cx="886.7" cy="327.2"/><circle cx="894.1" cy="364.8"/><circle cx="888" cy="330.4"/><circle cx="880.3" cy="364.3"/><circle cx="891.6" cy="344.2"/><circle cx="883.2" cy="369.9"/><circle cx="880.5" cy="351.5"/><circle cx="889.6" cy="359.1"/><circle cx="895.7" cy="404.1"/><circle cx="891.1" cy="399.7"/><circle cx="882.8" cy="369.8"/><circle cx="881.6" cy="384.8"/><circle cx="897.2" cy="310.2"/><circle cx="884.4" cy="353.2"/><circle cx="884.2" cy="363.4"/><circle cx="880.3" cy="364.2"/><circle cx="895.3" cy="396.3"/><circle cx="891.5" cy="363.2"/><circle cx="889.9" cy="378.9"/><circle cx="893.4" cy="389.3"/><circle cx="891.8" cy="386.2"/><circle cx="882.8" cy="370.1"/><circle cx="880.1" cy="391.7"/><circle cx="887.9" cy="382.9"/><circle cx="893" cy="369.1"/><circle cx="892.1" cy="378.1"/><circle cx="882" cy="363.9"/><circle cx="895.4" cy="373.8"/><circle cx="894.7" cy="363.1"/><circle cx="882" cy="369.7"/><circle cx="886.1" cy="365.5"/><circle cx="897" cy="352.8"/><circle cx="888.6" cy="345.2"/><circle cx="880.2" cy="342"/><circle cx="896" cy="397.8"/><circle cx="884.9" cy="373.3"/><circle cx="887.6" cy="398.2"/><circle cx="892.7" cy="367.3"/><circle cx="882.1" cy="379.9"/><circle cx="881.9" cy="390.3"/><circle cx="897.3" cy="375.1"/><circle cx="887.6" cy="376.4"/><circle cx="885.2" cy="368.7"/><circle cx="883.5" cy="398.6"/><circle cx="892.2" cy="367.3"/><circle cx="888.7" cy="362.3"/><circle cx="886.6" cy="408.1"/><circle cx="881.2" cy="374.5"/><circle cx="882.3" cy="351.9"/><circle cx="892.5" cy="362.5"/><circle cx="880.1" cy="393.2"/><circle cx="888.4" cy="363.6"/><circle cx="891.6" cy="383.7"/><circle cx="893.3" cy="368.4"/><circle cx="896.6" cy="377.6"/><circle cx="891" cy="377.8"/><circle cx="886.5" cy="300.9"/><circle cx="897.1" cy="371.7"/><circle cx="895.5" cy="394.2"/><circle cx="881.3" cy="349.2"/><circle cx="887.5" cy="412.5"/><circle cx="881.8" cy="342.4"/><circle cx="887.9" cy="372.8"/><circle cx="891.9" cy="336.7"/><circle cx="886" cy="335.2"/><circle cx="894" cy="380"/><circle cx="890.9" cy="363.8"/><circle cx="890.6" cy="385.8"/><circle cx="890.1" cy="365.3"/><circle cx="896.9" cy="372.5"/><circle cx="887.6" cy="350"/><circle cx="894.7" cy="370.8"/><circle cx="894.4" cy="396.6"/><circle cx="896.3" cy="358.2"/><circle cx="884.7" cy="357.8"/><circle cx="879.7" cy="378.4"/><circle cx="895.2" cy="367"/><circle cx="891.2" cy="330.8"/><circle cx="892.5" cy="375"/><circle cx="888.4" cy="379.7"/><circle cx="883" cy="392.5"/><circle cx="895.2" cy="361.7"/><circle cx="896.7" cy="336.9"/><circle cx="881.4" cy="376.1"/><circle cx="891.9" cy="387.3"/><circle cx="892.9" cy="371.7"/><circle cx="890.3" cy="372.4"/><circle cx="894.8" cy="402"/><circle cx="892.4" cy="376.9"/><circle cx="881.1" cy="340"/><circle cx="895" cy="374"/><circle cx="887.2" cy="364"/><circle cx="897.3" cy="336"/><circle cx="895.9" cy="377"/><circle cx="881.8" cy="332.5"/><circle cx="880.9" cy="369.2"/><circle cx="896.4" cy="397.2"/><circle cx="885.4" cy="358.8"/><circle cx="882.8" cy="375.4"/><circle cx="895.8" cy="312"/><circle cx="894.5" cy="362"/><circle cx="894.5" cy="378.3"/></g><g class="p" fill="#b02070"><circle cx="945.4" cy="401"/><circle cx="954.5" cy="267.5"/><circle cx="953.3" cy="327.2"/><circle cx="943" cy="433.8"/><circle cx="957.1" cy="288.4"/><circle cx="953.4" cy="271.9"/><circle cx="950.4" cy="302.5"/><circle cx="959.3" cy="386.1"/><circle cx="949.8" cy="258.4"/><circle cx="948" cy="241.5"/><circle cx="948.1" cy="265.5"/><circle cx="947" cy="343.1"/><circle cx="949" cy="296.1"/><circle cx="951.3" cy="226.5"/><circle cx="943.6" cy="334.7"/><circle cx="949" cy="376.2"/><circle cx="946.4" cy="367.5"/><circle cx="949.2" cy="331"/><circle cx="942.8" cy="351.4"/><circle cx="951.4" cy="366.5"/><circle cx="948.1" cy="352.8"/><circle cx="942.7" cy="395"/><circle cx="944.3" cy="280"/><circle cx="947.5" cy="374.6"/><circle cx="959.7" cy="252.1"/><circle cx="944.6" cy="233.9"/><circle cx="946.1" cy="355"/><circle cx="949.4" cy="330.1"/><circle cx="958.1" cy="315.4"/><circle cx="946" cy="440"/><circle cx="955.4" cy="378.6"/><circle cx="948.1" cy="390.5"/><circle cx="947.3" cy="325.9"/><circle cx="959" cy="356.1"/><circle cx="943.6" cy="422.6"/><circle cx="949" cy="249.7"/><circle cx="946.1" cy="349.7"/><circle cx="950.5" cy="330.6"/><circle cx="947" cy="417.9"/><circle cx="942.6" cy="317.5"/><circle cx="955.5" cy="361.7"/><circle cx="956.5" cy="331.9"/><circle cx="949.1" cy="356.7"/><circle cx="956.7" cy="360.1"/><circle cx="945.9" cy="414"/><circle cx="948.8" cy="398.8"/><circle cx="960.3" cy="328.5"/><circle cx="959.8" cy="352.3"/><circle cx="944.2" cy="383.8"/><circle cx="954.8" cy="310.9"/><circle cx="957.3" cy="306.6"/><circle cx="957.2" cy="391.6"/><circle cx="953.8" cy="360.6"/><circle cx="948.1" cy="368.3"/><circle cx="948.1" cy="426.5"/><circle cx="943.9" cy="347"/><circle cx="956.4" cy="341.4"/><circle cx="959" cy="337.2"/><circle cx="953.5" cy="368.9"/><circle cx="948.4" cy="337.4"/><circle cx="951" cy="376.5"/><circle cx="953.6" cy="321.6"/><circle cx="958.3" cy="273.4"/><circle cx="943.4" cy="312.8"/><circle cx="947.3" cy="364.9"/><circle cx="952.3" cy="366"/><circle cx="943.8" cy="289.8"/><circle cx="953.9" cy="310.1"/><circle cx="958.8" cy="390.3"/><circle cx="958.5" cy="336.3"/><circle cx="959.2" cy="324"/><circle cx="952.4" cy="229.8"/><circle cx="945" cy="312.1"/><circle cx="950.3" cy="295.2"/><circle cx="946.1" cy="429.2"/><circle cx="946.4" cy="373.7"/><circle cx="955.8" cy="333.9"/><circle cx="943.8" cy="335"/><circle cx="948.3" cy="367"/><circle cx="942.5" cy="369.9"/><circle cx="951.4" cy="350.5"/><circle cx="949.3" cy="405.8"/><circle cx="954.6" cy="242.6"/><circle cx="956.4" cy="239.2"/><circle cx="960.1" cy="357.8"/><circle cx="954.3" cy="257"/><circle cx="959" cy="263.5"/><circle cx="943.2" cy="394.1"/><circle cx="956.7" cy="393.1"/><circle cx="960.2" cy="246.1"/><circle cx="956.4" cy="399.7"/><circle cx="948.6" cy="314.7"/><circle cx="958.4" cy="276.1"/><circle cx="943.4" cy="326.9"/><circle cx="947.8" cy="413.5"/><circle cx="942.8" cy="285.8"/><circle cx="952" cy="260.3"/><circle cx="961" cy="435"/><circle cx="949.3" cy="398.2"/><circle cx="947.1" cy="313.4"/><circle cx="946.8" cy="300.8"/><circle cx="960" cy="401.9"/><circle cx="947.4" cy="383.4"/><circle cx="949.1" cy="253"/><circle cx="951" cy="283.5"/><circle cx="948.7" cy="236.3"/><circle cx="942.7" cy="237.8"/><circle cx="949.1" cy="293.8"/><circle cx="947.9" cy="375.8"/><circle cx="946.2" cy="342.1"/><circle cx="947.2" cy="227.8"/><circle cx="947.4" cy="319.6"/><circle cx="954.8" cy="385.4"/><circle cx="946" cy="354.7"/><circle cx="951.7" cy="419.2"/><circle cx="943.2" cy="304.2"/><circle cx="951" cy="403.5"/><circle cx="950.2" cy="309.8"/><circle cx="944.2" cy="308.8"/><circle cx="954.2" cy="328.8"/><circle cx="957.6" cy="264.3"/><circle cx="956.4" cy="372"/><circle cx="954.2" cy="340.9"/><circle cx="946" cy="344.4"/><circle cx="946.1" cy="348.9"/><circle cx="959.8" cy="353.8"/><circle cx="950.8" cy="371"/><circle cx="956.4" cy="274.8"/><circle cx="955.5" cy="380.4"/><circle cx="956.1" cy="382.4"/><circle cx="948.9" cy="316.5"/><circle cx="947.5" cy="234.8"/><circle cx="953.9" cy="231.3"/><circle cx="956.8" cy="249"/><circle cx="951.6" cy="379.6"/><circle cx="953.7" cy="345.5"/><circle cx="942.9" cy="332.9"/><circle cx="944.6" cy="386.7"/><circle cx="951.1" cy="424.4"/><circle cx="960.1" cy="411.6"/><circle cx="959" cy="346.2"/><circle cx="951.3" cy="404.5"/><circle cx="957.9" cy="323"/><circle cx="950.4" cy="348.1"/><circle cx="949" cy="320.2"/><circle cx="949.4" cy="379.3"/><circle cx="943" cy="358.6"/><circle cx="945" cy="402.7"/><circle cx="958.6" cy="338.9"/><circle cx="952.1" cy="270.2"/><circle cx="956.6" cy="362.8"/><circle cx="949.4" cy="363.6"/><circle cx="947.5" cy="317.8"/><circle cx="943.1" cy="372.8"/><circle cx="955.7" cy="247.4"/><circle cx="945.1" cy="304"/><circle cx="959" cy="364.1"/><circle cx="955.8" cy="393.7"/><circle cx="952.7" cy="307"/><circle cx="949.1" cy="280.5"/><circle cx="955.9" cy="373.1"/><circle cx="949.4" cy="403.8"/><circle cx="948.6" cy="319.2"/><circle cx="943.3" cy="380.9"/><circle cx="946.1" cy="400.4"/><circle cx="951" cy="387.9"/><circle cx="944.4" cy="396.7"/><circle cx="958" cy="243.6"/><circle cx="946.7" cy="357.2"/><circle cx="943.1" cy="254.5"/><circle cx="959.8" cy="347.4"/><circle cx="949.1" cy="409.2"/><circle cx="959.6" cy="395.6"/><circle cx="957.7" cy="435.1"/><circle cx="950.9" cy="285.2"/><circle cx="945.3" cy="325.5"/><circle cx="958.7" cy="338.7"/><circle cx="958.1" cy="344.2"/><circle cx="948.1" cy="392.1"/><circle cx="948.5" cy="323.3"/><circle cx="957.6" cy="351.3"/><circle cx="945.9" cy="307.8"/><circle cx="948" cy="362"/><circle cx="960.2" cy="359.6"/><circle cx="946.5" cy="396.6"/><circle cx="950.6" cy="321.7"/><circle cx="955.8" cy="384.7"/><circle cx="945.6" cy="397.4"/><circle cx="954.9" cy="340"/><circle cx="946.7" cy="381.6"/><circle cx="957.8" cy="277.3"/><circle cx="943.8" cy="388.7"/><circle cx="955.8" cy="389.6"/><circle cx="947.2" cy="231.9"/><circle cx="947.9" cy="291.2"/><circle cx="943.2" cy="297.6"/><circle cx="950.6" cy="255.7"/><circle cx="956.6" cy="314.3"/><circle cx="959" cy="370.5"/><circle cx="947.1" cy="431.3"/><circle cx="958.7" cy="387.4"/><circle cx="949.5" cy="377.4"/></g><g class="p" fill="#c4ec48"><circle cx="1012.5" cy="292.8"/><circle cx="1011.8" cy="272.4"/><circle cx="1011.2" cy="279.6"/><circle cx="1005.8" cy="204.4"/><circle cx="1021.1" cy="321.4"/><circle cx="1018.5" cy="343.2"/><circle cx="1013.3" cy="297.3"/><circle cx="1005.6" cy="398.3"/><circle cx="1008.8" cy="351.6"/><circle cx="1010.3" cy="326.8"/><circle cx="1010" cy="218.6"/><circle cx="1006.8" cy="260.8"/><circle cx="1008" cy="403"/><circle cx="1006.5" cy="252.1"/><circle cx="1018.4" cy="307.8"/><circle cx="1009.4" cy="195.1"/><circle cx="1006.5" cy="383.2"/><circle cx="1015.3" cy="187.2"/><circle cx="1017.5" cy="369.3"/><circle cx="1006.6" cy="289.9"/><circle cx="1008.2" cy="331.3"/><circle cx="1018.3" cy="344.2"/><circle cx="1006.8" cy="312.8"/><circle cx="1011.6" cy="283"/><circle cx="1017" cy="355.4"/><circle cx="1013.7" cy="297.7"/><circle cx="1008.3" cy="328.1"/><circle cx="1019.3" cy="361.3"/><circle cx="1016.6" cy="381.4"/><circle cx="1020.4" cy="396"/><circle cx="1013.6" cy="379.3"/><circle cx="1012.7" cy="226.1"/><circle cx="1007.1" cy="393.1"/><circle cx="1009.6" cy="371.4"/><circle cx="1008.7" cy="349.7"/><circle cx="1015.6" cy="320.9"/><circle cx="1013.5" cy="391.3"/><circle cx="1015.6" cy="366.7"/><circle cx="1010.5" cy="391.2"/><circle cx="1016.7" cy="296.1"/><circle cx="1012.2" cy="301.8"/><circle cx="1018.8" cy="332.9"/><circle cx="1009.4" cy="336.9"/><circle cx="1008.6" cy="321.6"/><circle cx="1007.3" cy="379.9"/><circle cx="1019.8" cy="285"/><circle cx="1022.6" cy="345.4"/><circle cx="1010.7" cy="322.7"/><circle cx="1018.5" cy="203.3"/><circle cx="1019.3" cy="287.9"/><circle cx="1017.1" cy="357.4"/><circle cx="1017.9" cy="248.7"/><circle cx="1018.3" cy="362.1"/><circle cx="1021.2" cy="303"/><circle cx="1006.8" cy="313.7"/><circle cx="1010.6" cy="359.3"/><circle cx="1013.1" cy="327.4"/><circle cx="1007.9" cy="123.4"/><circle cx="1022.5" cy="198.9"/><circle cx="1014.4" cy="388.3"/><circle cx="1005.9" cy="304.6"/><circle cx="1006.1" cy="225"/><circle cx="1023" cy="324.8"/><circle cx="1020.8" cy="354.1"/><circle cx="1015.2" cy="346.1"/><circle cx="1010.9" cy="299.5"/><circle cx="1019.6" cy="236.4"/><circle cx="1014.7" cy="317"/><circle cx="1014.7" cy="301.1"/><circle cx="1023.4" cy="405.3"/><circle cx="1010.5" cy="293.3"/><circle cx="1009" cy="275.4"/><circle cx="1011" cy="360.4"/><circle cx="1016" cy="289"/><circle cx="1020.1" cy="399.4"/><circle cx="1012.5" cy="310.9"/><circle cx="1007" cy="318.2"/><circle cx="1015.6" cy="319.2"/><circle cx="1013.6" cy="380.8"/><circle cx="1020.3" cy="312.5"/><circle cx="1012.7" cy="391.9"/><circle cx="1020.3" cy="378.3"/><circle cx="1019.5" cy="389.3"/><circle cx="1020.1" cy="306.7"/><circle cx="1009" cy="333.1"/><circle cx="1008.7" cy="230.3"/><circle cx="1013.8" cy="291.6"/><circle cx="1007.8" cy="314.4"/><circle cx="1005.9" cy="274.3"/><circle cx="1021.8" cy="338.1"/><circle cx="1020.7" cy="299.3"/><circle cx="1007.5" cy="296.7"/><circle cx="1014.4" cy="290.6"/><circle cx="1006.9" cy="286.2"/><circle cx="1007.3" cy="365"/><circle cx="1012.2" cy="337.4"/><circle cx="1007.1" cy="372.2"/><circle cx="1021.8" cy="245.3"/><circle cx="1007.2" cy="293.8"/><circle cx="1017.9" cy="366"/><circle cx="1021.4" cy="228.3"/><circle cx="1020.3" cy="377.3"/><circle cx="1016.2" cy="375.7"/><circle cx="1021" cy="247"/><circle cx="1007.5" cy="325.8"/><circle cx="1021.7" cy="260.1"/><circle cx="1014.4" cy="386.9"/><circle cx="1017.8" cy="406.7"/><circle cx="1008.9" cy="239.4"/><circle cx="1022.1" cy="208.7"/><circle cx="1021.6" cy="368.2"/><circle cx="1010.2" cy="351.1"/><circle cx="1005.9" cy="318.4"/><circle cx="1007.6" cy="268.2"/><circle cx="1012" cy="394.5"/><circle cx="1008.3" cy="368.9"/><circle cx="1019.2" cy="364.3"/><circle cx="1019.6" cy="307.2"/><circle cx="1007" cy="329.8"/><circle cx="1011.5" cy="315"/><circle cx="1012.9" cy="323.7"/><circle cx="1016.6" cy="234.1"/><circle cx="1012.4" cy="291.9"/><circle cx="1007.2" cy="388.9"/><circle cx="1016.6" cy="227.5"/><circle cx="1009.4" cy="387.4"/><circle cx="1008.4" cy="384.9"/><circle cx="1006.6" cy="249.8"/><circle cx="1014.3" cy="375.1"/><circle cx="1014.4" cy="329.1"/><circle cx="1010.4" cy="303.4"/><circle cx="1007.4" cy="286.9"/><circle cx="1020.2" cy="365.5"/><circle cx="1015.8" cy="374"/><circle cx="1005.7" cy="319.9"/><circle cx="1010.7" cy="352.5"/><circle cx="1007.8" cy="183.1"/><circle cx="1021.3" cy="237.8"/><circle cx="1013.8" cy="374.3"/><circle cx="1022.7" cy="362.7"/><circle cx="1014.5" cy="335.9"/><circle cx="1005.9" cy="342.3"/><circle cx="1016.6" cy="221.1"/><circle cx="1021.8" cy="340.4"/><circle cx="1018.3" cy="373.2"/><circle cx="1012.7" cy="354.6"/><circle cx="1011.2" cy="344.4"/><circle cx="1007.6" cy="305.2"/><circle cx="1015.8" cy="270.4"/><circle cx="1013.3" cy="271.6"/><circle cx="1011.9" cy="308.3"/><circle cx="1011.9" cy="215"/><circle cx="1012.3" cy="370.6"/><circle cx="1014" cy="339.5"/><circle cx="1018.2" cy="396.6"/><circle cx="1020" cy="382.3"/><circle cx="1008.1" cy="355.9"/><circle cx="1012.1" cy="341.2"/><circle cx="1022.1" cy="346.6"/><circle cx="1018.2" cy="241"/><circle cx="1009.9" cy="347.7"/><circle cx="1022.1" cy="252.7"/><circle cx="1008.6" cy="370.7"/><circle cx="1017.5" cy="257.3"/><circle cx="1012.1" cy="400.8"/><circle cx="1017.9" cy="212.2"/><circle cx="1011.6" cy="310.5"/><circle cx="1014.7" cy="390.2"/><circle cx="1022.5" cy="243.9"/><circle cx="1011.3" cy="232.3"/><circle cx="1019.3" cy="393.3"/><circle cx="1020.8" cy="290"/><circle cx="1008.3" cy="306.3"/><circle cx="1018.4" cy="349.1"/><circle cx="1012.8" cy="358.1"/><circle cx="1013.5" cy="400.1"/><circle cx="1015.2" cy="331.8"/><circle cx="1017.9" cy="342"/><circle cx="1021.5" cy="222.6"/><circle cx="1015.4" cy="404.1"/><circle cx="1006.1" cy="298.4"/><circle cx="1010.7" cy="285.1"/><circle cx="1018" cy="263.4"/><circle cx="1018.3" cy="243.4"/><circle cx="1010.7" cy="394.7"/><circle cx="1022.7" cy="376.5"/><circle cx="1018.6" cy="264.1"/><circle cx="1011.8" cy="309.6"/><circle cx="1010.4" cy="267.4"/><circle cx="1015.9" cy="353"/><circle cx="1022.6" cy="265.2"/><circle cx="1016.4" cy="277.5"/><circle cx="1008.6" cy="382.1"/><circle cx="1009.1" cy="339.2"/><circle cx="1022.5" cy="378.1"/><circle cx="1017" cy="300.4"/><circle cx="1010.3" cy="363.4"/><circle cx="1021.9" cy="312"/><circle cx="1008.4" cy="386.1"/><circle cx="1016.6" cy="333.9"/><circle cx="1013.9" cy="357"/><circle cx="1023.2" cy="238.2"/><circle cx="1017.8" cy="192.9"/><circle cx="1021.5" cy="359.5"/><circle cx="1014.2" cy="330.4"/><circle cx="1022.1" cy="295.6"/><circle cx="1021" cy="253.6"/><circle cx="1022.7" cy="350.4"/><circle cx="1014.1" cy="385.3"/><circle cx="1007.7" cy="335.6"/><circle cx="1009.8" cy="180.8"/><circle cx="1011.1" cy="334.7"/><circle cx="1016.4" cy="255.4"/><circle cx="1023.2" cy="323.5"/><circle cx="1008.3" cy="278"/><circle cx="1014.3" cy="281.7"/><circle cx="1008.6" cy="317.4"/><circle cx="1008.3" cy="402"/><circle cx="1014.7" cy="294.4"/><circle cx="1010.3" cy="383.9"/><circle cx="1019.2" cy="367.6"/><circle cx="1006.7" cy="304.1"/><circle cx="1010.4" cy="325.9"/><circle cx="1020.5" cy="316.4"/><circle cx="1018.7" cy="348.2"/><circle cx="1012.3" cy="309.5"/><circle cx="1012.3" cy="315.6"/><circle cx="1013.7" cy="231.9"/><circle cx="1017.6" cy="302.3"/><circle cx="1012.1" cy="288.3"/><circle cx="1007.1" cy="259.2"/></g><g class="p" fill="#7474d0"><circle cx="1074.8" cy="265.2"/><circle cx="1073.8" cy="197.5"/><circle cx="1083.8" cy="285.1"/><circle cx="1072.8" cy="336.8"/><circle cx="1069.9" cy="340.8"/><circle cx="1071.9" cy="331.9"/><circle cx="1074.8" cy="318.9"/></g><g class="p" fill="#62bcaa"><circle cx="1147.5" cy="314.9"/><circle cx="1148.3" cy="429.6"/><circle cx="1148.5" cy="378.6"/><circle cx="1147.5" cy="289"/><circle cx="1133.6" cy="275.1"/><circle cx="1143" cy="305"/><circle cx="1141.5" cy="309"/></g><g class="p" fill="#5446a8"><circle cx="1208.2" cy="292.7"/><circle cx="1201.3" cy="238.3"/><circle cx="1204.7" cy="340.9"/><circle cx="1205.3" cy="265"/><circle cx="1206.4" cy="296.3"/><circle cx="1196.1" cy="270"/><circle cx="1199.5" cy="293.9"/><circle cx="1194.3" cy="143.7"/><circle cx="1212.4" cy="230.6"/><circle cx="1195" cy="243.2"/><circle cx="1209.5" cy="313.1"/><circle cx="1200.9" cy="287.4"/><circle cx="1210.9" cy="304.2"/><circle cx="1202.4" cy="240.3"/><circle cx="1208.7" cy="347.3"/><circle cx="1209.7" cy="267.1"/><circle cx="1201.8" cy="268.4"/><circle cx="1197.3" cy="157.7"/><circle cx="1208.9" cy="288.8"/><circle cx="1208.6" cy="310"/><circle cx="1195.7" cy="227.9"/><circle cx="1209.1" cy="326.8"/><circle cx="1198.8" cy="220.7"/><circle cx="1211.5" cy="299.2"/><circle cx="1196.5" cy="289.5"/><circle cx="1197.8" cy="297.3"/><circle cx="1207.5" cy="285.8"/><circle cx="1203.3" cy="276.3"/><circle cx="1194.7" cy="196.1"/><circle cx="1199.1" cy="323.1"/><circle cx="1197.5" cy="245.1"/><circle cx="1209" cy="331.6"/><circle cx="1198.3" cy="263.8"/><circle cx="1202.9" cy="300.3"/><circle cx="1209" cy="320.6"/><circle cx="1206.1" cy="302.8"/><circle cx="1199.6" cy="337.3"/><circle cx="1212.3" cy="277.4"/><circle cx="1202.1" cy="233.1"/><circle cx="1211.2" cy="269"/><circle cx="1207.2" cy="288.1"/><circle cx="1208.8" cy="257.4"/><circle cx="1211.1" cy="280.4"/><circle cx="1203.3" cy="218.2"/><circle cx="1203.8" cy="352"/><circle cx="1211.2" cy="262.8"/><circle cx="1200" cy="224"/><circle cx="1200.2" cy="312.1"/><circle cx="1206.5" cy="306.8"/><circle cx="1210" cy="271.7"/><circle cx="1199.1" cy="284"/><circle cx="1209.5" cy="283.5"/><circle cx="1210.4" cy="295"/><circle cx="1205.6" cy="210.9"/><circle cx="1200.2" cy="295.5"/><circle cx="1204.3" cy="315.6"/><circle cx="1207.6" cy="201.2"/><circle cx="1198.9" cy="321.9"/><circle cx="1199.4" cy="329.6"/><circle cx="1198.9" cy="290.2"/><circle cx="1206.8" cy="294.5"/><circle cx="1210.3" cy="291.8"/><circle cx="1209.3" cy="274.9"/><circle cx="1195.3" cy="141.7"/><circle cx="1197.7" cy="273.6"/><circle cx="1198.2" cy="298"/><circle cx="1195.6" cy="258.2"/><circle cx="1207.4" cy="287"/><circle cx="1208.1" cy="291"/><circle cx="1210" cy="215.1"/><circle cx="1200.2" cy="278.6"/><circle cx="1200.1" cy="334.3"/><circle cx="1210.4" cy="207.8"/><circle cx="1195" cy="282.1"/><circle cx="1194.7" cy="262.4"/><circle cx="1212.6" cy="226.6"/><circle cx="1210.3" cy="318.5"/><circle cx="1200.2" cy="261"/><circle cx="1202.5" cy="280.1"/><circle cx="1205.4" cy="327.3"/><circle cx="1196.8" cy="236.1"/><circle cx="1205.2" cy="248"/><circle cx="1202.9" cy="254.9"/><circle cx="1208.7" cy="284.8"/><circle cx="1197" cy="273.1"/><circle cx="1211.6" cy="259.6"/><circle cx="1206.9" cy="252.5"/><circle cx="1196.9" cy="285"/></g><g class="p" fill="#167020"><circle cx="1271.9" cy="312.3"/><circle cx="1262.5" cy="337.5"/><circle cx="1260.8" cy="234.1"/><circle cx="1264.2" cy="280.9"/><circle cx="1259.1" cy="279.1"/><circle cx="1260.2" cy="272.5"/><circle cx="1265.6" cy="154.2"/><circle cx="1269.8" cy="212.3"/><circle cx="1259.9" cy="280.6"/><circle cx="1271.6" cy="158.2"/><circle cx="1271.4" cy="227.5"/><circle cx="1259.9" cy="260.1"/><circle cx="1259.5" cy="324.5"/><circle cx="1268.9" cy="311.7"/><circle cx="1264.4" cy="190.1"/><circle cx="1259" cy="289.4"/><circle cx="1261.8" cy="287.5"/><circle cx="1262.1" cy="240.9"/><circle cx="1264.5" cy="164.1"/><circle cx="1272.8" cy="221.5"/><circle cx="1271.2" cy="252.2"/><circle cx="1264.6" cy="180.6"/><circle cx="1274.7" cy="304.7"/><circle cx="1266.4" cy="260.8"/><circle cx="1267.4" cy="233.4"/><circle cx="1261.8" cy="302.3"/><circle cx="1262.2" cy="329.3"/><circle cx="1271.4" cy="279.6"/><circle cx="1266.9" cy="249.2"/><circle cx="1274.5" cy="286.3"/><circle cx="1271.2" cy="291.6"/><circle cx="1263.4" cy="154.8"/><circle cx="1275.4" cy="253.2"/><circle cx="1266.4" cy="326"/><circle cx="1261.4" cy="227"/><circle cx="1267.9" cy="305.7"/><circle cx="1269.8" cy="300.5"/><circle cx="1266.1" cy="333"/><circle cx="1257.8" cy="196.2"/><circle cx="1268.6" cy="302.4"/><circle cx="1258.4" cy="238.4"/><circle cx="1268.1" cy="155.4"/><circle cx="1266.8" cy="235.7"/><circle cx="1270.6" cy="232.1"/><circle cx="1268.4" cy="151.5"/><circle cx="1275.1" cy="203.5"/><circle cx="1267.7" cy="293.5"/><circle cx="1259.9" cy="269.8"/><circle cx="1275.2" cy="326.4"/><circle cx="1258.4" cy="320.7"/><circle cx="1271.5" cy="316.4"/><circle cx="1273.3" cy="223.6"/><circle cx="1269.3" cy="267"/><circle cx="1274.9" cy="310.7"/><circle cx="1265.3" cy="289.9"/><circle cx="1267.5" cy="261.4"/><circle cx="1271.2" cy="308.7"/><circle cx="1259.9" cy="304.4"/><circle cx="1267" cy="333.5"/><circle cx="1275.4" cy="254.4"/><circle cx="1275.2" cy="142.9"/><circle cx="1272.3" cy="189.3"/><circle cx="1264" cy="271"/><circle cx="1258.6" cy="318.5"/><circle cx="1262.4" cy="288.4"/><circle cx="1268.3" cy="307.9"/><circle cx="1265.2" cy="241.4"/><circle cx="1271.9" cy="338"/><circle cx="1259.4" cy="193.7"/><circle cx="1268.1" cy="345.6"/><circle cx="1275.3" cy="183.1"/><circle cx="1261.4" cy="231.4"/><circle cx="1265.8" cy="228.1"/><circle cx="1273.6" cy="259.4"/><circle cx="1264.6" cy="159.8"/><circle cx="1262" cy="283.7"/><circle cx="1258.5" cy="281.2"/><circle cx="1258.8" cy="285.2"/><circle cx="1275.1" cy="214.3"/><circle cx="1262.3" cy="317.2"/><circle cx="1262.1" cy="269.1"/><circle cx="1259.3" cy="237.9"/><circle cx="1275.1" cy="127.5"/><circle cx="1272.5" cy="265.1"/><circle cx="1272.6" cy="256.1"/><circle cx="1272.5" cy="370.3"/><circle cx="1262.3" cy="321.4"/><circle cx="1273.1" cy="334.9"/><circle cx="1262.9" cy="215.5"/><circle cx="1261.7" cy="250.9"/><circle cx="1268.3" cy="287.3"/><circle cx="1272.4" cy="106.4"/><circle cx="1262.2" cy="363.9"/><circle cx="1259.7" cy="268"/><circle cx="1273.5" cy="179.6"/><circle cx="1269.3" cy="263.8"/><circle cx="1266.8" cy="331.7"/><circle cx="1263.3" cy="322.5"/><circle cx="1271.4" cy="298.9"/><circle cx="1273.7" cy="298.8"/><circle cx="1260.4" cy="262.2"/><circle cx="1263.4" cy="281.5"/><circle cx="1275.1" cy="315.2"/><circle cx="1274.1" cy="151"/><circle cx="1270.1" cy="274.5"/><circle cx="1265.4" cy="264.2"/><circle cx="1264.1" cy="186"/><circle cx="1271.4" cy="320.1"/><circle cx="1260.7" cy="240"/><circle cx="1265.7" cy="280.1"/><circle cx="1271" cy="198.7"/><circle cx="1263.1" cy="299.2"/><circle cx="1275.3" cy="148.4"/><circle cx="1268.5" cy="293.1"/><circle cx="1275.6" cy="197.3"/><circle cx="1265.1" cy="382"/><circle cx="1268.5" cy="328.2"/><circle cx="1262.9" cy="243.4"/><circle cx="1264" cy="225.6"/><circle cx="1260.3" cy="203.7"/><circle cx="1258.6" cy="245.9"/><circle cx="1262.3" cy="230.3"/><circle cx="1270.9" cy="330.6"/><circle cx="1265" cy="173.1"/><circle cx="1261.7" cy="267.5"/><circle cx="1270.9" cy="307.5"/><circle cx="1263.3" cy="152.4"/><circle cx="1274.3" cy="278.9"/><circle cx="1273.1" cy="272.1"/><circle cx="1271.3" cy="161.6"/><circle cx="1258.1" cy="284.9"/><circle cx="1259.2" cy="290.8"/><circle cx="1271.8" cy="331.1"/><circle cx="1263.9" cy="240.4"/><circle cx="1265.8" cy="213"/><circle cx="1269.4" cy="289.6"/><circle cx="1264" cy="205.9"/><circle cx="1272" cy="229.6"/><circle cx="1263.7" cy="301.5"/><circle cx="1273" cy="255.8"/><circle cx="1260.9" cy="297.6"/><circle cx="1270.9" cy="236.5"/><circle cx="1258.4" cy="172.1"/><circle cx="1262.8" cy="290.3"/><circle cx="1262.5" cy="178.3"/><circle cx="1259.3" cy="307.2"/><circle cx="1261.3" cy="322.6"/><circle cx="1260" cy="293.8"/><circle cx="1274" cy="173.5"/><circle cx="1258.4" cy="322.2"/><circle cx="1265.8" cy="294.2"/><circle cx="1259.7" cy="210.4"/><circle cx="1265.7" cy="311.4"/><circle cx="1268.6" cy="270.6"/><circle cx="1272.2" cy="288"/><circle cx="1270.1" cy="227.9"/><circle cx="1263.4" cy="232.7"/><circle cx="1260.1" cy="197.9"/><circle cx="1261.6" cy="275.2"/><circle cx="1258.9" cy="231.6"/><circle cx="1274.3" cy="315.9"/><circle cx="1270.6" cy="327.5"/><circle cx="1275.5" cy="245.4"/><circle cx="1270.9" cy="217.5"/><circle cx="1266" cy="301.6"/><circle cx="1264.8" cy="212"/><circle cx="1263.6" cy="235.3"/><circle cx="1260.8" cy="185.4"/><circle cx="1270.7" cy="173.9"/><circle cx="1267.9" cy="272.8"/><circle cx="1269.9" cy="254.2"/><circle cx="1273" cy="325.4"/><circle cx="1267" cy="249.5"/><circle cx="1271.7" cy="303.5"/><circle cx="1265.1" cy="327.2"/><circle cx="1272" cy="180.1"/><circle cx="1265.1" cy="214.8"/><circle cx="1268.3" cy="283.8"/><circle cx="1273.9" cy="231.2"/><circle cx="1261" cy="186.8"/><circle cx="1263.8" cy="261.8"/><circle cx="1265.8" cy="103.1"/><circle cx="1264.2" cy="176.5"/><circle cx="1265" cy="261.3"/><circle cx="1262.8" cy="276.6"/><circle cx="1262.5" cy="294"/><circle cx="1267.9" cy="286.7"/><circle cx="1269.6" cy="153.3"/><circle cx="1261.5" cy="195.4"/><circle cx="1260" cy="296.1"/><circle cx="1261.6" cy="171.5"/><circle cx="1257.7" cy="170.4"/><circle cx="1269.2" cy="210.1"/><circle cx="1265" cy="207.5"/><circle cx="1269.4" cy="291.4"/><circle cx="1273.8" cy="268.1"/><circle cx="1271.5" cy="285.6"/><circle cx="1265.6" cy="181.8"/><circle cx="1267.6" cy="296"/><circle cx="1258.6" cy="162.4"/><circle cx="1258.1" cy="183.7"/><circle cx="1273.8" cy="238.1"/><circle cx="1273.6" cy="184.1"/><circle cx="1265.4" cy="257.9"/><circle cx="1260" cy="306"/><circle cx="1262.5" cy="270.4"/><circle cx="1269.8" cy="332.9"/><circle cx="1273.3" cy="154.4"/><circle cx="1259" cy="277.2"/><circle cx="1259.9" cy="312.2"/><circle cx="1262.5" cy="257.8"/><circle cx="1269.9" cy="182.3"/><circle cx="1267.4" cy="165.4"/><circle cx="1260.6" cy="310.2"/><circle cx="1262.4" cy="295.7"/><circle cx="1266.4" cy="264.6"/><circle cx="1275" cy="171.3"/><circle cx="1259.1" cy="247.9"/><circle cx="1258.2" cy="251.2"/><circle cx="1261" cy="297.4"/><circle cx="1273.4" cy="292.5"/><circle cx="1274.4" cy="234.8"/><circle cx="1260.1" cy="332.2"/><circle cx="1263.8" cy="283.4"/><circle cx="1273.2" cy="193.3"/><circle cx="1270.2" cy="250.7"/><circle cx="1271.2" cy="163.5"/><circle cx="1267" cy="204.8"/><circle cx="1274.7" cy="201.7"/><circle cx="1262.6" cy="280.4"/><circle cx="1263.2" cy="313.5"/><circle cx="1265.6" cy="250.6"/><circle cx="1265.6" cy="290.9"/><circle cx="1263.3" cy="163.1"/><circle cx="1258" cy="317.4"/><circle cx="1263.9" cy="160.1"/><circle cx="1272.7" cy="179.2"/><circle cx="1271.3" cy="169.5"/><circle cx="1272.6" cy="150.1"/><circle cx="1267.2" cy="174.6"/><circle cx="1273.6" cy="218.6"/><circle cx="1271.2" cy="316.7"/><circle cx="1259.3" cy="228.3"/><circle cx="1261.7" cy="309.8"/><circle cx="1266.5" cy="323.9"/><circle cx="1260.3" cy="191.2"/><circle cx="1270.5" cy="166.7"/><circle cx="1273.6" cy="167.9"/><circle cx="1264.4" cy="269.3"/><circle cx="1270.9" cy="246.1"/><circle cx="1267.4" cy="160.9"/><circle cx="1265.3" cy="337.1"/><circle cx="1268.9" cy="244.5"/><circle cx="1258.9" cy="156.9"/><circle cx="1267.2" cy="320.9"/><circle cx="1264.5" cy="243.3"/><circle cx="1269.1" cy="323.8"/><circle cx="1269.7" cy="227.6"/><circle cx="1268.4" cy="334.1"/><circle cx="1272.3" cy="272.6"/><circle cx="1258.5" cy="229.9"/><circle cx="1263.7" cy="188.2"/><circle cx="1258" cy="299.8"/><circle cx="1266.9" cy="260.3"/><circle cx="1262.7" cy="232.4"/><circle cx="1266.7" cy="265.4"/><circle cx="1267.6" cy="192.8"/><circle cx="1272" cy="291.9"/><circle cx="1267.6" cy="239.2"/><circle cx="1268.9" cy="278.5"/><circle cx="1263.7" cy="287.1"/><circle cx="1265.5" cy="213.8"/><circle cx="1265.8" cy="249"/><circle cx="1268.5" cy="356.2"/><circle cx="1268.4" cy="236"/><circle cx="1269.8" cy="165.9"/><circle cx="1270.3" cy="156.4"/><circle cx="1263.9" cy="241.1"/><circle cx="1275.1" cy="192.4"/><circle cx="1274.2" cy="293.4"/><circle cx="1273.1" cy="265.1"/><circle cx="1264.4" cy="290.2"/><circle cx="1273" cy="264.8"/><circle cx="1273.4" cy="240"/><circle cx="1263.2" cy="224.7"/><circle cx="1272.7" cy="282.7"/><circle cx="1268" cy="288.8"/><circle cx="1265.6" cy="251.5"/><circle cx="1268.6" cy="255.6"/><circle cx="1261.7" cy="224.5"/><circle cx="1268.9" cy="297.9"/><circle cx="1262.2" cy="277.3"/><circle cx="1270.3" cy="225.9"/><circle cx="1274.6" cy="284.2"/><circle cx="1275.2" cy="246.2"/><circle cx="1271" cy="269.9"/><circle cx="1262.5" cy="316.9"/><circle cx="1261.7" cy="292.4"/><circle cx="1272.3" cy="259"/><circle cx="1267.3" cy="222.8"/><circle cx="1275.5" cy="329.9"/><circle cx="1269" cy="168.4"/><circle cx="1273.2" cy="331.4"/><circle cx="1260.7" cy="152.2"/><circle cx="1258.6" cy="263.2"/><circle cx="1260" cy="295"/><circle cx="1261.4" cy="320"/><circle cx="1267.6" cy="230.8"/><circle cx="1267.7" cy="150.8"/><circle cx="1262.9" cy="292.7"/><circle cx="1263.8" cy="208.8"/><circle cx="1270.2" cy="177"/><circle cx="1258.5" cy="291.9"/><circle cx="1266.3" cy="351.4"/><circle cx="1263.5" cy="294.5"/><circle cx="1257.8" cy="158"/><circle cx="1260.7" cy="366.4"/><circle cx="1266.5" cy="265.8"/><circle cx="1273.5" cy="269.6"/><circle cx="1265.2" cy="254"/><circle cx="1260.7" cy="332.6"/><circle cx="1259.3" cy="255.5"/><circle cx="1262.9" cy="256.6"/><circle cx="1272.1" cy="305.3"/><circle cx="1264" cy="177.9"/><circle cx="1267.5" cy="260.5"/><circle cx="1263.6" cy="274.8"/><circle cx="1266.4" cy="286.1"/><circle cx="1271.9" cy="300"/><circle cx="1271.3" cy="271.8"/><circle cx="1263.3" cy="242.8"/><circle cx="1259.1" cy="242"/><circle cx="1263.3" cy="211.1"/><circle cx="1273.9" cy="249.9"/><circle cx="1264.9" cy="162"/><circle cx="1264.6" cy="246.9"/><circle cx="1266.3" cy="204.5"/><circle cx="1258.9" cy="266.8"/><circle cx="1263.8" cy="271.4"/><circle cx="1272.8" cy="336"/><circle cx="1273.9" cy="244.2"/><circle cx="1268.1" cy="319.1"/><circle cx="1269" cy="228.8"/><circle cx="1271.3" cy="318.4"/><circle cx="1257.7" cy="278.7"/><circle cx="1265.3" cy="330.8"/><circle cx="1273.5" cy="237"/><circle cx="1262.3" cy="309.7"/><circle cx="1271.4" cy="249.8"/><circle cx="1274.4" cy="170.8"/><circle cx="1263.1" cy="137.9"/><circle cx="1258.4" cy="353.8"/><circle cx="1272.4" cy="195.9"/><circle cx="1261.6" cy="279.2"/><circle cx="1266.3" cy="285.3"/><circle cx="1264.3" cy="280.3"/><circle cx="1270.3" cy="263.6"/><circle cx="1272" cy="202.7"/><circle cx="1269.2" cy="181.9"/><circle cx="1266.1" cy="335.2"/><circle cx="1260.6" cy="312.5"/><circle cx="1258.6" cy="313"/><circle cx="1275.4" cy="226.5"/><circle cx="1264.4" cy="147.5"/><circle cx="1262.4" cy="324.9"/><circle cx="1275.1" cy="190.4"/><circle cx="1257.7" cy="219.3"/><circle cx="1261.1" cy="312.9"/><circle cx="1263.2" cy="323.2"/><circle cx="1268.6" cy="303.1"/><circle cx="1268" cy="226.1"/><circle cx="1275.1" cy="216.3"/><circle cx="1273.6" cy="258.8"/><circle cx="1264.4" cy="293.7"/><circle cx="1262.2" cy="291.2"/><circle cx="1268.4" cy="282.2"/><circle cx="1263.9" cy="334.7"/><circle cx="1268.3" cy="369.4"/><circle cx="1270.3" cy="320.5"/><circle cx="1272.4" cy="309"/><circle cx="1266.7" cy="219.7"/><circle cx="1264.5" cy="265.5"/><circle cx="1270.4" cy="191.6"/><circle cx="1269.3" cy="215.7"/><circle cx="1270.6" cy="273.9"/><circle cx="1273.9" cy="299.6"/><circle cx="1274.5" cy="287.9"/><circle cx="1272.9" cy="302.8"/><circle cx="1260.5" cy="248.1"/><circle cx="1265" cy="172.7"/><circle cx="1265.6" cy="286.5"/><circle cx="1258.1" cy="260.9"/><circle cx="1260.4" cy="308.3"/><circle cx="1258.3" cy="186.5"/><circle cx="1264.5" cy="253.2"/><circle cx="1268.4" cy="336.9"/><circle cx="1271.2" cy="235.9"/><circle cx="1260.1" cy="273.5"/><circle cx="1269.5" cy="229.3"/><circle cx="1260.7" cy="283"/><circle cx="1272.7" cy="264.1"/><circle cx="1273.3" cy="221.8"/><circle cx="1273" cy="175.4"/><circle cx="1267.9" cy="199.1"/><circle cx="1271.5" cy="321.8"/><circle cx="1266.6" cy="209.1"/><circle cx="1268.5" cy="247.5"/><circle cx="1270.5" cy="224.1"/><circle cx="1267.7" cy="294.7"/><circle cx="1271.3" cy="187.5"/><circle cx="1264.3" cy="157.3"/><circle cx="1271.8" cy="329"/><circle cx="1258.7" cy="263"/><circle cx="1272.1" cy="328.5"/><circle cx="1260.6" cy="267.2"/><circle cx="1271.8" cy="194.5"/><circle cx="1268.5" cy="255.1"/><circle cx="1267.1" cy="327.3"/><circle cx="1263.8" cy="272.9"/><circle cx="1259.9" cy="199.6"/><circle cx="1259.4" cy="224.9"/><circle cx="1263.6" cy="217.2"/><circle cx="1262.6" cy="238.9"/><circle cx="1262" cy="279.6"/><circle cx="1267" cy="225.3"/><circle cx="1268.9" cy="245.6"/><circle cx="1262.7" cy="247.8"/><circle cx="1270" cy="273.6"/><circle cx="1260.5" cy="221"/><circle cx="1275.2" cy="111.5"/><circle cx="1268.9" cy="230.5"/><circle cx="1269" cy="235.1"/><circle cx="1266.7" cy="120.6"/><circle cx="1262.3" cy="276"/><circle cx="1267.2" cy="206.2"/><circle cx="1263.3" cy="230.6"/><circle cx="1265.8" cy="256.3"/><circle cx="1272.2" cy="277.8"/><circle cx="1266.6" cy="314.3"/><circle cx="1263.6" cy="159.3"/><circle cx="1273.8" cy="376.2"/><circle cx="1267.1" cy="258.3"/><circle cx="1268.4" cy="237.2"/><circle cx="1261.8" cy="288.3"/><circle cx="1265.9" cy="318.2"/><circle cx="1267.5" cy="222.2"/><circle cx="1265.1" cy="296.6"/><circle cx="1261.7" cy="245.2"/><circle cx="1274.9" cy="272.2"/><circle cx="1263.3" cy="206.6"/><circle cx="1268.6" cy="177.3"/><circle cx="1270.8" cy="233.8"/><circle cx="1259.7" cy="254.8"/><circle cx="1265.3" cy="319.4"/><circle cx="1261.7" cy="267.3"/><circle cx="1260.8" cy="306.6"/><circle cx="1275.4" cy="325.8"/><circle cx="1263.4" cy="191.9"/><circle cx="1258.3" cy="252.7"/><circle cx="1271.3" cy="313.9"/><circle cx="1265.4" cy="304.9"/><circle cx="1273.1" cy="276.8"/><circle cx="1264.2" cy="292.2"/><circle cx="1260" cy="253.6"/><circle cx="1267.9" cy="146.6"/><circle cx="1262.4" cy="168.8"/><circle cx="1273.9" cy="243"/><circle cx="1273" cy="166.3"/><circle cx="1263.5" cy="266.3"/><circle cx="1261.6" cy="294.9"/><circle cx="1264.2" cy="298.1"/><circle cx="1271.8" cy="263.4"/><circle cx="1273" cy="237.4"/><circle cx="1258.2" cy="225.8"/><circle cx="1274" cy="175.6"/><circle cx="1258.1" cy="284"/><circle cx="1264.4" cy="317.8"/><circle cx="1267.8" cy="282.1"/><circle cx="1269.9" cy="267.7"/><circle cx="1272.5" cy="181"/><circle cx="1272.2" cy="201.8"/><circle cx="1274.5" cy="268.5"/><circle cx="1265.4" cy="323.5"/><circle cx="1267.5" cy="289.3"/><circle cx="1265.1" cy="296.5"/><circle cx="1259.1" cy="226.4"/><circle cx="1258.6" cy="220.2"/><circle cx="1264.9" cy="149.9"/><circle cx="1264.3" cy="315.4"/><circle cx="1262.2" cy="311.1"/><circle cx="1268.6" cy="161.1"/><circle cx="1271.5" cy="325.2"/><circle cx="1267.1" cy="305.4"/><circle cx="1271.7" cy="209.3"/><circle cx="1265" cy="229.2"/><circle cx="1263.3" cy="184.6"/><circle cx="1267.2" cy="270.9"/><circle cx="1264.5" cy="224.2"/><circle cx="1265.5" cy="314.5"/><circle cx="1265.4" cy="250.1"/><circle cx="1275.2" cy="187.3"/><circle cx="1269.7" cy="234.5"/><circle cx="1269.1" cy="216.5"/><circle cx="1274.2" cy="316.1"/><circle cx="1271.5" cy="327.8"/><circle cx="1268.6" cy="231.8"/><circle cx="1265.6" cy="234.3"/><circle cx="1263.2" cy="258.1"/><circle cx="1263.4" cy="281.7"/><circle cx="1260.5" cy="248.2"/><circle cx="1267.4" cy="148.7"/><circle cx="1259.3" cy="205.1"/><circle cx="1275.4" cy="319.8"/><circle cx="1269.5" cy="234.6"/><circle cx="1258" cy="184.7"/><circle cx="1268.6" cy="251.7"/><circle cx="1271.5" cy="297.1"/><circle cx="1265.7" cy="249.3"/><circle cx="1262.2" cy="241.6"/><circle cx="1260" cy="219.9"/><circle cx="1270.2" cy="266.1"/><circle cx="1270.6" cy="257.2"/><circle cx="1271.3" cy="218.1"/><circle cx="1265" cy="274.5"/><circle cx="1258.9" cy="262.8"/><circle cx="1274.8" cy="169.1"/><circle cx="1265.1" cy="348.1"/><circle cx="1267" cy="324.4"/><circle cx="1263.1" cy="188.9"/><circle cx="1274.2" cy="274.1"/><circle cx="1268.7" cy="335.8"/><circle cx="1260" cy="266"/><circle cx="1261.2" cy="307"/><circle cx="1262.8" cy="244.1"/><circle cx="1266.1" cy="336.3"/><circle cx="1265.6" cy="282.4"/><circle cx="1264.7" cy="300.2"/><circle cx="1269.5" cy="333.5"/><circle cx="1265.9" cy="326.1"/><circle cx="1259" cy="252.1"/><circle cx="1262.8" cy="302"/><circle cx="1271.4" cy="319"/><circle cx="1266.4" cy="233.5"/><circle cx="1268.7" cy="311.3"/><circle cx="1261.6" cy="252"/><circle cx="1264.9" cy="236.7"/><circle cx="1275" cy="285.9"/><circle cx="1260.1" cy="273.3"/><circle cx="1262.4" cy="306.4"/><circle cx="1258.8" cy="194.7"/><circle cx="1262.5" cy="284.6"/><circle cx="1267.7" cy="246.6"/><circle cx="1271.8" cy="237.5"/><circle cx="1260" cy="307.6"/><circle cx="1273.3" cy="262.7"/><circle cx="1263" cy="235.4"/><circle cx="1271.2" cy="286.9"/><circle cx="1258.2" cy="287.7"/><circle cx="1262" cy="196.8"/><circle cx="1271.7" cy="300.8"/><circle cx="1266.2" cy="358.9"/><circle cx="1274.6" cy="243.7"/><circle cx="1265" cy="308.4"/><circle cx="1268.4" cy="288.6"/><circle cx="1263.9" cy="268.8"/><circle cx="1273.1" cy="281.5"/><circle cx="1271.8" cy="237.7"/><circle cx="1270.6" cy="334.4"/><circle cx="1272.2" cy="250.4"/><circle cx="1267.6" cy="240.7"/><circle cx="1274.9" cy="223.5"/><circle cx="1265.3" cy="252.4"/><circle cx="1262.7" cy="147.9"/><circle cx="1264.2" cy="213.3"/><circle cx="1269.1" cy="333.9"/><circle cx="1266.5" cy="321.8"/><circle cx="1270.5" cy="258.5"/><circle cx="1271.7" cy="262"/><circle cx="1274.2" cy="314.9"/><circle cx="1268.2" cy="285.7"/><circle cx="1262.3" cy="329.4"/><circle cx="1263.1" cy="328.7"/><circle cx="1267" cy="259.8"/><circle cx="1257.7" cy="208.1"/><circle cx="1264.3" cy="289.1"/><circle cx="1265.3" cy="242.4"/><circle cx="1260.9" cy="146.9"/><circle cx="1260.6" cy="377.9"/><circle cx="1263" cy="293"/><circle cx="1264.4" cy="284.4"/><circle cx="1258" cy="246.9"/><circle cx="1264.9" cy="271.3"/><circle cx="1262.1" cy="330"/><circle cx="1264.9" cy="270.5"/><circle cx="1270.6" cy="178.9"/><circle cx="1270.7" cy="277.7"/><circle cx="1258" cy="226.9"/><circle cx="1267.3" cy="261.2"/><circle cx="1265.3" cy="257.6"/><circle cx="1265.4" cy="266.5"/><circle cx="1274.7" cy="304.2"/><circle cx="1264.8" cy="276.7"/><circle cx="1267.3" cy="207.1"/><circle cx="1265.4" cy="261.6"/><circle cx="1273.1" cy="303.4"/><circle cx="1262.1" cy="298.3"/><circle cx="1263" cy="295.4"/><circle cx="1271.6" cy="254.6"/><circle cx="1266.5" cy="174.8"/><circle cx="1267.1" cy="239.4"/><circle cx="1272.9" cy="228.9"/><circle cx="1257.8" cy="242.2"/><circle cx="1260.6" cy="275.5"/><circle cx="1258.6" cy="361.6"/><circle cx="1273.1" cy="264.4"/><circle cx="1267.2" cy="315.7"/><circle cx="1263.1" cy="278.2"/><circle cx="1260.9" cy="276.1"/><circle cx="1263.1" cy="282.5"/><circle cx="1273.9" cy="259.6"/><circle cx="1262.8" cy="290"/><circle cx="1275.4" cy="230"/><circle cx="1271.3" cy="273.9"/><circle cx="1258.4" cy="279.8"/><circle cx="1269.1" cy="332"/><circle cx="1271.7" cy="256.6"/><circle cx="1258.6" cy="189.5"/><circle cx="1258.5" cy="271.7"/><circle cx="1267.9" cy="341.3"/><circle cx="1263.5" cy="284.7"/><circle cx="1274.9" cy="342.4"/><circle cx="1258.5" cy="164.6"/><circle cx="1273.1" cy="336.7"/><circle cx="1261.5" cy="313.7"/><circle cx="1266.6" cy="278"/><circle cx="1271" cy="310.5"/><circle cx="1269.7" cy="155.7"/><circle cx="1268.1" cy="232.5"/><circle cx="1260.3" cy="239.1"/><circle cx="1275.4" cy="211.2"/><circle cx="1265.1" cy="277.4"/><circle cx="1270" cy="149.1"/><circle cx="1273.8" cy="262.4"/><circle cx="1266.6" cy="248.7"/><circle cx="1275.2" cy="275.4"/><circle cx="1264.3" cy="301.1"/><circle cx="1261" cy="200.6"/><circle cx="1269.4" cy="309.5"/><circle cx="1268.1" cy="228.4"/><circle cx="1263.6" cy="248.5"/><circle cx="1271.4" cy="243.8"/><circle cx="1266.6" cy="145.7"/><circle cx="1268.3" cy="240.5"/><circle cx="1274.4" cy="120.9"/><circle cx="1262.9" cy="259.2"/><circle cx="1260.8" cy="257.1"/><circle cx="1263.3" cy="255.3"/><circle cx="1273.2" cy="200.3"/><circle cx="1261.6" cy="227.2"/><circle cx="1265.4" cy="244.8"/><circle cx="1260.9" cy="374.3"/><circle cx="1272.5" cy="153.6"/><circle cx="1262.6" cy="326.7"/><circle cx="1265.4" cy="164.8"/><circle cx="1257.7" cy="239.7"/><circle cx="1270.9" cy="238.6"/><circle cx="1274.9" cy="246.3"/><circle cx="1265.3" cy="233.1"/><circle cx="1269.1" cy="268.9"/><circle cx="1264.3" cy="276.3"/><circle cx="1269.1" cy="244.9"/><circle cx="1264.8" cy="231"/><circle cx="1262.5" cy="323"/><circle cx="1258.7" cy="247.3"/><circle cx="1258" cy="330.4"/><circle cx="1261.4" cy="275"/><circle cx="1268.2" cy="201"/><circle cx="1262.1" cy="167.1"/><circle cx="1261" cy="202.2"/><circle cx="1261.8" cy="290.6"/><circle cx="1269.2" cy="275.7"/><circle cx="1273.9" cy="335.6"/><circle cx="1261.8" cy="136.9"/><circle cx="1275.5" cy="253.7"/><circle cx="1264" cy="281.1"/><circle cx="1269.7" cy="158.9"/><circle cx="1273.7" cy="270"/><circle cx="1270.9" cy="252.9"/><circle cx="1265.9" cy="256.9"/><circle cx="1265.1" cy="304"/><circle cx="1267.6" cy="241.8"/><circle cx="1262.4" cy="232.9"/><circle cx="1259.7" cy="337.8"/><circle cx="1264.8" cy="283.1"/><circle cx="1265.5" cy="268.3"/><circle cx="1268.3" cy="146"/><circle cx="1258.3" cy="236.3"/><circle cx="1264" cy="242.6"/><circle cx="1261.8" cy="198"/><circle cx="1258.8" cy="225.2"/></g><g stroke="#333" stroke-width="2.2" fill="none" stroke-opacity="0.9"><line x1="825.4" x2="825.4" y1="290" y2="362.6"/><line x1="825.4" x2="825.4" y1="411.2" y2="462"/><rect x="801.8" y="362.6" width="47.3" height="48.6"/><line x1="888.4" x2="888.4" y1="332" y2="360.6"/><line x1="888.4" x2="888.4" y1="380" y2="409"/><rect x="864.8" y="360.6" width="47.3" height="19.4"/><line x1="951.5" x2="951.5" y1="226" y2="305.9"/><line x1="951.5" x2="951.5" y1="380" y2="440.7"/><rect x="927.8" y="305.9" width="47.3" height="74.1"/><line x1="1014.5" x2="1014.5" y1="179" y2="285.8"/><line x1="1014.5" x2="1014.5" y1="363.4" y2="406.8"/><rect x="990.9" y="285.8" width="47.3" height="77.6"/><line x1="1077.5" x2="1077.5" y1="196.5" y2="276.7"/><line x1="1077.5" x2="1077.5" y1="330.9" y2="338.8"/><rect x="1053.9" y="276.7" width="47.3" height="54.2"/><line x1="1140.5" x2="1140.5" y1="290" y2="301.6"/><line x1="1140.5" x2="1140.5" y1="317.9" y2="318"/><rect x="1116.9" y="301.6" width="47.3" height="16.3"/><line x1="1203.6" x2="1203.6" y1="204.4" y2="258.2"/><line x1="1203.6" x2="1203.6" y1="299" y2="351.8"/><rect x="1179.9" y="258.2" width="47.3" height="40.8"/><line x1="1266.6" x2="1266.6" y1="98.9" y2="224"/><line x1="1266.6" x2="1266.6" y1="295" y2="382.6"/><rect x="1243" y="224" width="47.3" height="71"/></g><g stroke="#333" stroke-width="6" stroke-opacity="0.9"><line x1="800.7" x2="850.1" y1="387.9" y2="387.9"/><line x1="863.7" x2="913.2" y1="370" y2="370"/><line x1="926.7" x2="976.2" y1="345.1" y2="345.1"/><line x1="989.8" x2="1039.2" y1="322.2" y2="322.2"/><line x1="1052.8" x2="1102.3" y1="319.9" y2="319.9"/><line x1="1115.8" x2="1165.3" y1="309" y2="309"/><line x1="1178.8" x2="1228.3" y1="283.1" y2="283.1"/><line x1="1241.9" x2="1291.3" y1="260.8" y2="260.8"/></g><rect x="789.3" y="82" width="513.8" height="398" fill="none" stroke="#111" stroke-width="3.2"/><g stroke="#111" stroke-width="3"><line x1="777.8" x2="789.3" y1="82.5" y2="82.5"/><line x1="777.8" x2="789.3" y1="145.5" y2="145.5"/><line x1="777.8" x2="789.3" y1="208.6" y2="208.6"/><line x1="777.8" x2="789.3" y1="271.6" y2="271.6"/><line x1="777.8" x2="789.3" y1="334.6" y2="334.6"/><line x1="777.8" x2="789.3" y1="397.7" y2="397.7"/><line x1="777.8" x2="789.3" y1="460.7" y2="460.7"/><line x1="825.4" x2="825.4" y1="480" y2="490.5"/><line x1="888.4" x2="888.4" y1="480" y2="490.5"/><line x1="951.5" x2="951.5" y1="480" y2="490.5"/><line x1="1014.5" x2="1014.5" y1="480" y2="490.5"/><line x1="1077.5" x2="1077.5" y1="480" y2="490.5"/><line x1="1140.5" x2="1140.5" y1="480" y2="490.5"/><line x1="1203.6" x2="1203.6" y1="480" y2="490.5"/><line x1="1266.6" x2="1266.6" y1="480" y2="490.5"/></g><g font-size="32" fill="#363636" text-anchor="end"><text transform="translate(771.9 93.7) scale(0.9 1)">11</text><text transform="translate(771.9 156.7) scale(0.9 1)">10</text><text transform="translate(771.9 219.8) scale(0.9 1)">9</text><text transform="translate(771.9 282.8) scale(0.9 1)">8</text><text transform="translate(771.9 345.8) scale(0.9 1)">7</text><text transform="translate(771.9 408.9) scale(0.9 1)">6</text><text transform="translate(771.9 471.9) scale(0.9 1)">5</text></g><g font-size="29" fill="#363636" text-anchor="end"><text transform="translate(835.9 497) rotate(-90)">Muscle Skeletal</text><text transform="translate(898.9 497) rotate(-90)">Brain Cortex</text><text transform="translate(962 497) rotate(-90)">Small Intestine/Terminal Ileum</text><text transform="translate(1025 497) rotate(-90)">Liver</text><text transform="translate(1088 497) rotate(-90)">Liver (Controls)</text><text transform="translate(1151 497) rotate(-90)">Liver (COVID−19)</text><text transform="translate(1214.1 497) rotate(-90)">Kidney Cortex</text><text transform="translate(1277.1 497) rotate(-90)">Lung</text></g><text transform="translate(723.1 281) rotate(-90)" font-size="35" font-weight="bold" text-anchor="middle" fill="#000">TPM (log2)</text><text transform="translate(4 951) scale(0.95 1)" font-size="38" font-weight="bold" fill="#000">C</text><text transform="translate(110.6 980.5) scale(0.965 1)" font-size="44" fill="#000">TMPRSS2</text><g stroke="#e6e6e6" stroke-width="3.5"><line x1="111.4" x2="625" y1="1081.1" y2="1081.1" stroke-width="3" stroke="#f0f0f0"/><line x1="111.4" x2="625" y1="1199.4" y2="1199.4" stroke-width="3" stroke="#f0f0f0"/><line x1="111.4" x2="625" y1="1317.6" y2="1317.6" stroke-width="3" stroke="#f0f0f0"/><line x1="111.4" x2="625" y1="1022" y2="1022"/><line x1="111.4" x2="625" y1="1140.2" y2="1140.2"/><line x1="111.4" x2="625" y1="1258.5" y2="1258.5"/><line x1="111.4" x2="625" y1="1376.8" y2="1376.8"/><line x1="148" x2="148" y1="1010.7" y2="1408.3"/><line x1="210.8" x2="210.8" y1="1010.7" y2="1408.3"/><line x1="273.6" x2="273.6" y1="1010.7" y2="1408.3"/><line x1="336.4" x2="336.4" y1="1010.7" y2="1408.3"/><line x1="399.2" x2="399.2" y1="1010.7" y2="1408.3"/><line x1="462.1" x2="462.1" y1="1010.7" y2="1408.3"/><line x1="524.9" x2="524.9" y1="1010.7" y2="1408.3"/><line x1="587.7" x2="587.7" y1="1010.7" y2="1408.3"/></g><rect x="124.4" y="1326.8" width="47.1" height="32" fill="#fdf4f4"/><rect x="187.3" y="1303.6" width="47.1" height="32" fill="#fbf4f5"/><rect x="250.1" y="1130.3" width="47.1" height="27.6" fill="#fbfdf0"/><rect x="312.9" y="1112.7" width="47.1" height="36.4" fill="#e5e5f8"/><rect x="375.7" y="1110" width="47.1" height="30.2" fill="#e2f5f2"/><rect x="438.5" y="1096.1" width="47.1" height="32.7" fill="#f3f7f3"/><rect x="501.3" y="1069.2" width="47.1" height="98" fill="#f8e5f0"/><rect x="564.1" y="1089" width="47.1" height="23.6" fill="#eeecf6"/><g class="p" fill="#d44a46"><circle cx="149.5" cy="1349.4"/><circle cx="145.9" cy="1335"/><circle cx="148.9" cy="1342.9"/><circle cx="153.7" cy="1308.3"/><circle cx="147.3" cy="1334"/><circle cx="147.9" cy="1281.7"/><circle cx="154.9" cy="1371.5"/><circle cx="147.8" cy="1340.9"/><circle cx="143.4" cy="1370.5"/><circle cx="142.4" cy="1336.8"/><circle cx="145.9" cy="1331.9"/><circle cx="139.4" cy="1339.9"/><circle cx="149.9" cy="1325.5"/><circle cx="148.9" cy="1350.8"/><circle cx="139.4" cy="1330.6"/><circle cx="145" cy="1375.1"/><circle cx="150.3" cy="1375.6"/><circle cx="147.6" cy="1322.4"/><circle cx="144.8" cy="1353.2"/><circle cx="150.9" cy="1365"/><circle cx="145" cy="1293.3"/><circle cx="151.3" cy="1282.9"/><circle cx="147.8" cy="1342"/><circle cx="155.5" cy="1374.1"/><circle cx="139.2" cy="1357"/><circle cx="139.8" cy="1375.4"/><circle cx="145.1" cy="1335.9"/><circle cx="153.2" cy="1326.5"/><circle cx="146.1" cy="1362.2"/><circle cx="154.2" cy="1355.2"/><circle cx="149.5" cy="1279.1"/><circle cx="153.6" cy="1320.3"/><circle cx="152.4" cy="1376.8"/><circle cx="154.7" cy="1280.6"/><circle cx="140" cy="1328.3"/><circle cx="152.1" cy="1338.2"/><circle cx="155.9" cy="1388.2"/><circle cx="156.4" cy="1285.5"/><circle cx="154.4" cy="1345.2"/><circle cx="148.4" cy="1334.4"/><circle cx="152.1" cy="1310.3"/><circle cx="149.6" cy="1342.4"/><circle cx="153.1" cy="1288.9"/><circle cx="146.9" cy="1351.7"/><circle cx="150.8" cy="1291.2"/><circle cx="143.6" cy="1287.1"/><circle cx="141.6" cy="1329.1"/><circle cx="152.9" cy="1339.8"/><circle cx="140.4" cy="1329.6"/><circle cx="151" cy="1385"/><circle cx="147.8" cy="1309.1"/><circle cx="141.2" cy="1346.2"/><circle cx="142.8" cy="1300.7"/><circle cx="145.4" cy="1316"/><circle cx="149.4" cy="1331.6"/><circle cx="143.5" cy="1342.1"/><circle cx="144" cy="1374.5"/><circle cx="148.9" cy="1389.4"/><circle cx="143.6" cy="1361.2"/><circle cx="153.3" cy="1346.4"/><circle cx="152.4" cy="1308"/><circle cx="153.7" cy="1319.9"/><circle cx="144.8" cy="1373.3"/><circle cx="142.9" cy="1334.7"/><circle cx="151.4" cy="1336.4"/><circle cx="145.6" cy="1363.1"/><circle cx="139.4" cy="1384.4"/><circle cx="155.1" cy="1351.1"/><circle cx="148.9" cy="1360"/><circle cx="143.7" cy="1346.7"/><circle cx="152.6" cy="1333.2"/><circle cx="142.4" cy="1363.5"/><circle cx="145.9" cy="1362.9"/><circle cx="152.8" cy="1335.2"/><circle cx="150.9" cy="1382.2"/><circle cx="139.2" cy="1335.6"/><circle cx="137.6" cy="1277.1"/><circle cx="149.9" cy="1335.9"/><circle cx="146.9" cy="1346.9"/><circle cx="142.9" cy="1310.5"/><circle cx="146.7" cy="1333.1"/><circle cx="149" cy="1350.4"/><circle cx="147.3" cy="1356.1"/><circle cx="147.1" cy="1307.5"/><circle cx="147" cy="1330.9"/><circle cx="156.4" cy="1322.9"/><circle cx="146.2" cy="1375.5"/><circle cx="145.7" cy="1328.2"/><circle cx="155.6" cy="1344.3"/><circle cx="144.6" cy="1353"/><circle cx="146.5" cy="1328.7"/><circle cx="147.7" cy="1330.6"/><circle cx="142.7" cy="1332.8"/><circle cx="154.6" cy="1376.7"/><circle cx="152" cy="1378"/><circle cx="143" cy="1304.1"/><circle cx="148.2" cy="1327.5"/><circle cx="149.8" cy="1361.5"/><circle cx="146.9" cy="1335.6"/><circle cx="148.9" cy="1299.8"/><circle cx="143.8" cy="1352.8"/><circle cx="140.4" cy="1298.1"/><circle cx="156.2" cy="1377.2"/><circle cx="156.8" cy="1288.3"/><circle cx="144.8" cy="1353"/><circle cx="153.2" cy="1329.7"/><circle cx="140.3" cy="1377.3"/><circle cx="143.5" cy="1377.4"/><circle cx="146.6" cy="1366.3"/><circle cx="142.9" cy="1316.8"/><circle cx="145.8" cy="1284.9"/><circle cx="139.4" cy="1374.4"/><circle cx="148.1" cy="1338.9"/><circle cx="150.9" cy="1336.1"/><circle cx="156.4" cy="1359.8"/><circle cx="150.4" cy="1312.2"/><circle cx="141.4" cy="1361.7"/><circle cx="147.9" cy="1356.5"/><circle cx="152.9" cy="1289.2"/><circle cx="147" cy="1306.9"/><circle cx="154.6" cy="1331.5"/><circle cx="153.1" cy="1297"/><circle cx="149.7" cy="1358.7"/><circle cx="146.5" cy="1336.6"/><circle cx="143.2" cy="1358.2"/><circle cx="144" cy="1298.7"/><circle cx="155.8" cy="1340.1"/><circle cx="146.9" cy="1376.2"/><circle cx="154.4" cy="1349"/><circle cx="147.6" cy="1354.2"/><circle cx="152.9" cy="1337.5"/><circle cx="154.3" cy="1370.4"/><circle cx="145.4" cy="1363.2"/><circle cx="142.5" cy="1366"/><circle cx="140.4" cy="1329.4"/><circle cx="156" cy="1330"/><circle cx="144.7" cy="1381.4"/><circle cx="149" cy="1301.4"/><circle cx="147.8" cy="1313"/><circle cx="154.2" cy="1360.3"/><circle cx="153.9" cy="1346"/><circle cx="147.3" cy="1328.5"/><circle cx="141.3" cy="1375.6"/><circle cx="139.3" cy="1370.6"/><circle cx="142.3" cy="1353.1"/><circle cx="145.2" cy="1351.6"/><circle cx="143.1" cy="1302.2"/><circle cx="144.9" cy="1374.7"/><circle cx="147.8" cy="1374.2"/><circle cx="156.3" cy="1309.3"/><circle cx="140.9" cy="1350.1"/><circle cx="147.8" cy="1347.2"/><circle cx="156.4" cy="1355.5"/><circle cx="154.4" cy="1297.6"/><circle cx="153.5" cy="1381.5"/><circle cx="144.9" cy="1347.6"/><circle cx="155.8" cy="1347.1"/><circle cx="155.8" cy="1383.3"/><circle cx="146.2" cy="1346.1"/><circle cx="155" cy="1347.8"/><circle cx="149.7" cy="1326.4"/><circle cx="147.3" cy="1333.3"/><circle cx="146.9" cy="1333.4"/><circle cx="150.1" cy="1348"/><circle cx="147" cy="1319.2"/><circle cx="149.3" cy="1353"/><circle cx="151.3" cy="1373.2"/><circle cx="148" cy="1345.4"/><circle cx="156.6" cy="1330.2"/><circle cx="153.6" cy="1376.1"/><circle cx="139.3" cy="1337.9"/><circle cx="155.1" cy="1341"/><circle cx="148.2" cy="1348.6"/><circle cx="144" cy="1339.4"/><circle cx="143" cy="1301.8"/><circle cx="148.5" cy="1349.9"/><circle cx="152.6" cy="1378.5"/><circle cx="153.2" cy="1328.1"/><circle cx="142.5" cy="1341.2"/><circle cx="140.8" cy="1335.3"/><circle cx="147.5" cy="1369.8"/><circle cx="149.2" cy="1382.9"/><circle cx="153.8" cy="1334.3"/><circle cx="148.5" cy="1332"/><circle cx="146.8" cy="1340.7"/><circle cx="141.9" cy="1369.6"/><circle cx="153.6" cy="1351.4"/><circle cx="143" cy="1282"/><circle cx="141.7" cy="1358.4"/><circle cx="143.1" cy="1370.4"/><circle cx="142.1" cy="1353.3"/><circle cx="152.3" cy="1337.7"/><circle cx="145.4" cy="1341.2"/><circle cx="145.7" cy="1279.9"/><circle cx="146.8" cy="1360.2"/><circle cx="141.8" cy="1353.4"/><circle cx="142.2" cy="1314.4"/><circle cx="156.2" cy="1329.3"/><circle cx="144.4" cy="1292.8"/><circle cx="142" cy="1378.9"/><circle cx="150.9" cy="1298.5"/><circle cx="142" cy="1378.6"/><circle cx="139.7" cy="1322.8"/><circle cx="146.9" cy="1331.8"/><circle cx="141.6" cy="1378.2"/><circle cx="144" cy="1343.6"/><circle cx="142.9" cy="1382.5"/><circle cx="143.6" cy="1353.7"/><circle cx="145.6" cy="1331.6"/><circle cx="156.4" cy="1386.5"/><circle cx="150.5" cy="1321.7"/><circle cx="152.2" cy="1357.3"/><circle cx="143.4" cy="1331.3"/><circle cx="144.7" cy="1329"/><circle cx="139.4" cy="1349.7"/><circle cx="148" cy="1299.5"/><circle cx="147.2" cy="1360.6"/><circle cx="149.6" cy="1352.5"/><circle cx="149.9" cy="1350.9"/><circle cx="140.9" cy="1384"/><circle cx="151.1" cy="1320.6"/><circle cx="145.5" cy="1373.7"/><circle cx="154.8" cy="1340"/><circle cx="141.2" cy="1378.3"/><circle cx="141.4" cy="1280.1"/><circle cx="140.3" cy="1363.9"/><circle cx="152.6" cy="1355.2"/><circle cx="147.6" cy="1332.9"/><circle cx="149.9" cy="1342.8"/><circle cx="149.1" cy="1360.9"/><circle cx="142.6" cy="1360.7"/><circle cx="139.1" cy="1310.1"/><circle cx="151.9" cy="1294.5"/><circle cx="145.7" cy="1344.2"/><circle cx="150" cy="1375.8"/><circle cx="147.1" cy="1352"/><circle cx="143" cy="1387.3"/><circle cx="155.9" cy="1364.2"/><circle cx="144.5" cy="1326.9"/><circle cx="142.4" cy="1341.6"/><circle cx="155.7" cy="1342.9"/><circle cx="142.1" cy="1334.6"/><circle cx="147.1" cy="1293.8"/><circle cx="152.1" cy="1364.7"/><circle cx="143.3" cy="1390.4"/><circle cx="143" cy="1332.1"/><circle cx="148.1" cy="1369.1"/><circle cx="155.1" cy="1338.6"/><circle cx="155.4" cy="1335.2"/><circle cx="144.3" cy="1344.5"/><circle cx="141.7" cy="1321"/><circle cx="143.8" cy="1349.9"/><circle cx="143.7" cy="1285.3"/><circle cx="139" cy="1345.1"/><circle cx="139.6" cy="1341.1"/><circle cx="149.5" cy="1296.9"/><circle cx="147.1" cy="1336.5"/><circle cx="149.4" cy="1362.3"/><circle cx="142.6" cy="1331.7"/><circle cx="154" cy="1359.7"/><circle cx="155.9" cy="1325.3"/><circle cx="151.6" cy="1354.4"/><circle cx="143.1" cy="1386.6"/><circle cx="155.7" cy="1351"/><circle cx="145.7" cy="1341.7"/><circle cx="157" cy="1311.3"/><circle cx="142.7" cy="1352.7"/><circle cx="145.2" cy="1350.2"/><circle cx="145.7" cy="1337.2"/><circle cx="145.9" cy="1319.8"/><circle cx="150.1" cy="1286.9"/><circle cx="140.1" cy="1344.1"/><circle cx="146.4" cy="1248.4"/><circle cx="141.4" cy="1313.7"/><circle cx="150" cy="1355.5"/><circle cx="145.3" cy="1288.8"/><circle cx="156.9" cy="1334.9"/><circle cx="154.4" cy="1382.4"/><circle cx="150.1" cy="1316.4"/><circle cx="154.1" cy="1382"/><circle cx="139" cy="1322.7"/><circle cx="155.2" cy="1345.3"/><circle cx="148" cy="1331.4"/><circle cx="155.7" cy="1280.2"/><circle cx="147.8" cy="1294.9"/><circle cx="154.6" cy="1373.4"/><circle cx="155" cy="1328.3"/><circle cx="151.7" cy="1286.5"/><circle cx="156.8" cy="1298.5"/><circle cx="147.3" cy="1357.5"/><circle cx="155.3" cy="1338.7"/><circle cx="155.8" cy="1357.1"/><circle cx="148.3" cy="1297.8"/><circle cx="140.2" cy="1391.9"/><circle cx="149.4" cy="1350.8"/><circle cx="149.7" cy="1327.2"/><circle cx="140.2" cy="1332.3"/><circle cx="149.7" cy="1346.6"/><circle cx="150.7" cy="1285.2"/><circle cx="145.4" cy="1379.6"/><circle cx="152.3" cy="1389.5"/><circle cx="150.9" cy="1302.6"/><circle cx="140.1" cy="1352.8"/><circle cx="141.2" cy="1340.6"/><circle cx="141.6" cy="1356.7"/><circle cx="145" cy="1333"/><circle cx="139.2" cy="1303.2"/><circle cx="151.4" cy="1374.3"/><circle cx="139.3" cy="1338.6"/><circle cx="146.3" cy="1299"/><circle cx="154.2" cy="1218.6"/><circle cx="143.9" cy="1383.1"/><circle cx="153.2" cy="1323.4"/><circle cx="148.7" cy="1335.7"/><circle cx="140.7" cy="1295.7"/><circle cx="143.2" cy="1312.8"/><circle cx="156.8" cy="1371.8"/><circle cx="155.3" cy="1352.1"/><circle cx="150.2" cy="1327.8"/><circle cx="139.6" cy="1347.1"/><circle cx="139.9" cy="1305.6"/><circle cx="150.9" cy="1354.9"/><circle cx="152.3" cy="1279.7"/><circle cx="139.1" cy="1358.3"/><circle cx="139.1" cy="1305"/><circle cx="141.1" cy="1329.2"/><circle cx="155.4" cy="1355.3"/><circle cx="140.4" cy="1326.8"/><circle cx="144.9" cy="1345.5"/><circle cx="143.8" cy="1365.9"/><circle cx="152.9" cy="1380.3"/><circle cx="139.5" cy="1343.4"/><circle cx="155.4" cy="1349.5"/><circle cx="139.4" cy="1314.6"/><circle cx="139.7" cy="1359.1"/><circle cx="152" cy="1328.2"/><circle cx="144.9" cy="1319.3"/><circle cx="156.4" cy="1260.6"/><circle cx="152.3" cy="1327.6"/><circle cx="155.7" cy="1372.7"/><circle cx="149.6" cy="1294.5"/><circle cx="139.3" cy="1349.6"/><circle cx="154.1" cy="1283.1"/><circle cx="149.9" cy="1308.5"/><circle cx="141.5" cy="1376.3"/><circle cx="140.4" cy="1337.3"/><circle cx="147" cy="1342.3"/><circle cx="141.9" cy="1361"/><circle cx="152.4" cy="1379.5"/><circle cx="140.2" cy="1291.6"/><circle cx="141.3" cy="1376"/><circle cx="145.5" cy="1347.3"/><circle cx="151.6" cy="1375"/><circle cx="142.6" cy="1301.7"/><circle cx="151.2" cy="1381.2"/><circle cx="143.5" cy="1302.5"/><circle cx="143.7" cy="1347.4"/><circle cx="150.9" cy="1297.2"/><circle cx="155.6" cy="1325.8"/><circle cx="139.1" cy="1377.7"/><circle cx="146.9" cy="1364.9"/><circle cx="148.1" cy="1297.4"/><circle cx="146.2" cy="1308.7"/><circle cx="156" cy="1347.3"/><circle cx="146.2" cy="1327.2"/><circle cx="151.7" cy="1343.8"/><circle cx="156.1" cy="1328.6"/><circle cx="148.4" cy="1290"/><circle cx="154.3" cy="1328"/><circle cx="151.4" cy="1332.5"/><circle cx="144.1" cy="1324.9"/><circle cx="154.7" cy="1318.9"/><circle cx="145.9" cy="1367.5"/><circle cx="153.6" cy="1303.4"/><circle cx="151.7" cy="1317.4"/><circle cx="148.7" cy="1354.7"/><circle cx="151" cy="1347.9"/><circle cx="141.7" cy="1390"/><circle cx="145.2" cy="1347.6"/><circle cx="146.9" cy="1366.6"/><circle cx="142" cy="1314.7"/><circle cx="140.8" cy="1295.3"/><circle cx="155.5" cy="1342.8"/><circle cx="149.8" cy="1358.6"/><circle cx="141.4" cy="1335.8"/><circle cx="156.5" cy="1336.1"/><circle cx="147.3" cy="1336.9"/><circle cx="139.3" cy="1351.9"/><circle cx="147" cy="1306"/><circle cx="140" cy="1362.7"/><circle cx="153" cy="1328.8"/><circle cx="139.4" cy="1348.9"/><circle cx="151.5" cy="1341.6"/><circle cx="152.5" cy="1381"/><circle cx="156.2" cy="1331.9"/><circle cx="152.6" cy="1335.4"/><circle cx="145.1" cy="1358"/><circle cx="151" cy="1379.3"/><circle cx="151.4" cy="1340.2"/><circle cx="150.5" cy="1366.7"/><circle cx="153.7" cy="1347.7"/><circle cx="152" cy="1266"/><circle cx="142.1" cy="1376.6"/><circle cx="144.9" cy="1339"/><circle cx="149.8" cy="1318.8"/><circle cx="148.7" cy="1372.1"/><circle cx="141.7" cy="1337.1"/><circle cx="140.8" cy="1362"/><circle cx="154.9" cy="1291.9"/><circle cx="149.5" cy="1292.3"/><circle cx="143.4" cy="1287.5"/><circle cx="141.7" cy="1352.3"/><circle cx="140.9" cy="1348.1"/><circle cx="140.7" cy="1380.2"/><circle cx="142" cy="1332.6"/><circle cx="156.5" cy="1344.9"/><circle cx="142" cy="1340.5"/><circle cx="143.3" cy="1368.1"/><circle cx="153.6" cy="1372.9"/><circle cx="145.7" cy="1337"/><circle cx="149.4" cy="1341.4"/><circle cx="143.1" cy="1257.2"/><circle cx="141" cy="1281.3"/><circle cx="141.4" cy="1333.4"/><circle cx="143.4" cy="1371"/><circle cx="143.4" cy="1308.9"/><circle cx="145" cy="1286.1"/><circle cx="142.2" cy="1307.8"/><circle cx="141.6" cy="1310.9"/><circle cx="139.8" cy="1339.2"/><circle cx="151.1" cy="1342.6"/><circle cx="146.6" cy="1382.6"/><circle cx="152.4" cy="1358.9"/><circle cx="141.9" cy="1283.8"/><circle cx="156.4" cy="1380.7"/><circle cx="147.1" cy="1354"/><circle cx="146.8" cy="1296.3"/><circle cx="151.2" cy="1329.5"/><circle cx="140.1" cy="1348.2"/><circle cx="147" cy="1272"/><circle cx="142.3" cy="1293.5"/><circle cx="147.8" cy="1354.3"/><circle cx="155.8" cy="1347"/><circle cx="143" cy="1331.2"/><circle cx="146.5" cy="1372.3"/><circle cx="148.5" cy="1313.9"/><circle cx="140.4" cy="1381.1"/><circle cx="148.3" cy="1294.2"/><circle cx="143.9" cy="1351.5"/><circle cx="142.8" cy="1344.6"/><circle cx="144.2" cy="1343.5"/><circle cx="139.9" cy="1364.3"/><circle cx="157" cy="1330.1"/><circle cx="156.8" cy="1284.2"/><circle cx="149.6" cy="1358.2"/><circle cx="145.7" cy="1311.6"/><circle cx="152.6" cy="1366.3"/><circle cx="154.8" cy="1320.2"/><circle cx="150" cy="1304.7"/><circle cx="143" cy="1315.8"/><circle cx="143.2" cy="1335.5"/><circle cx="147.1" cy="1306.3"/><circle cx="148.3" cy="1289.3"/><circle cx="149.5" cy="1354.6"/><circle cx="142.4" cy="1360.8"/><circle cx="146.6" cy="1358.1"/><circle cx="139.8" cy="1319.5"/><circle cx="141.9" cy="1351.4"/><circle cx="156.1" cy="1328.4"/><circle cx="146.5" cy="1384.7"/><circle cx="141.4" cy="1350.6"/><circle cx="152.8" cy="1318.2"/><circle cx="143.2" cy="1317.9"/><circle cx="147.1" cy="1384.6"/><circle cx="148.2" cy="1340.6"/><circle cx="147.6" cy="1363.6"/><circle cx="153.3" cy="1286.8"/><circle cx="145.3" cy="1379.2"/><circle cx="142.2" cy="1368.6"/><circle cx="147.5" cy="1332.1"/><circle cx="146.2" cy="1361.9"/><circle cx="144.7" cy="1327.1"/><circle cx="145.9" cy="1354.1"/><circle cx="142.2" cy="1345.3"/><circle cx="156.4" cy="1379.8"/><circle cx="152.5" cy="1380.1"/><circle cx="149.3" cy="1328"/><circle cx="149.4" cy="1344"/><circle cx="151.8" cy="1332.5"/><circle cx="156.1" cy="1288.3"/><circle cx="139.4" cy="1290.8"/><circle cx="141.7" cy="1296.2"/><circle cx="154.5" cy="1354.8"/><circle cx="143.4" cy="1342.7"/><circle cx="146.4" cy="1333.5"/><circle cx="139.8" cy="1350.5"/><circle cx="141.6" cy="1355.9"/><circle cx="145.1" cy="1368.3"/><circle cx="156.9" cy="1372.6"/><circle cx="145.8" cy="1314.1"/><circle cx="154.6" cy="1353.4"/><circle cx="141.5" cy="1300.9"/><circle cx="143.2" cy="1369.3"/><circle cx="147.7" cy="1305.9"/><circle cx="140.2" cy="1333.7"/><circle cx="141.9" cy="1379.5"/><circle cx="146.9" cy="1293.3"/><circle cx="141.7" cy="1356"/><circle cx="148.2" cy="1352.7"/><circle cx="147.3" cy="1380.3"/><circle cx="156.6" cy="1332.9"/><circle cx="151.7" cy="1307.8"/><circle cx="154.1" cy="1363.7"/><circle cx="147.8" cy="1321.5"/><circle cx="139.7" cy="1364.6"/><circle cx="140.4" cy="1356.9"/><circle cx="142.4" cy="1382.8"/><circle cx="156.5" cy="1374.8"/><circle cx="144.7" cy="1309.5"/><circle cx="141.3" cy="1326"/><circle cx="157" cy="1352.6"/><circle cx="153.4" cy="1327.4"/><circle cx="152.7" cy="1346.5"/><circle cx="146.2" cy="1367.1"/><circle cx="143.1" cy="1269.4"/><circle cx="145.3" cy="1344.8"/><circle cx="152.2" cy="1346.8"/><circle cx="152.8" cy="1317.8"/><circle cx="147.3" cy="1357.9"/><circle cx="147" cy="1368.5"/><circle cx="147.7" cy="1385.3"/><circle cx="153.6" cy="1345"/><circle cx="142.2" cy="1355.8"/><circle cx="142.7" cy="1341.5"/><circle cx="139.2" cy="1372.2"/><circle cx="151.2" cy="1370.1"/><circle cx="141.1" cy="1294"/><circle cx="144.7" cy="1363"/><circle cx="156.5" cy="1383.2"/><circle cx="148.3" cy="1348.5"/><circle cx="144" cy="1345.6"/><circle cx="140.7" cy="1372.9"/><circle cx="150.4" cy="1363.9"/><circle cx="153.4" cy="1338.1"/><circle cx="144.5" cy="1334.1"/><circle cx="153.5" cy="1315.5"/><circle cx="156.6" cy="1327.4"/><circle cx="145.6" cy="1287.8"/><circle cx="140.8" cy="1327.1"/><circle cx="155.2" cy="1384.2"/><circle cx="156.7" cy="1300"/><circle cx="144.3" cy="1331.8"/><circle cx="149.3" cy="1334.8"/><circle cx="156.6" cy="1318.5"/><circle cx="145.4" cy="1366.5"/><circle cx="151.6" cy="1351"/><circle cx="143.6" cy="1299.6"/><circle cx="139.6" cy="1341.5"/><circle cx="142.9" cy="1380.6"/><circle cx="140.9" cy="1341.9"/><circle cx="149" cy="1332.3"/><circle cx="151" cy="1342.1"/><circle cx="149.9" cy="1351.7"/><circle cx="143.3" cy="1334.4"/><circle cx="149.7" cy="1192.1"/><circle cx="141.6" cy="1337.5"/><circle cx="149.8" cy="1322"/><circle cx="146.7" cy="1354.8"/><circle cx="154.6" cy="1332.4"/><circle cx="156" cy="1347.5"/><circle cx="148" cy="1370.9"/><circle cx="157" cy="1342"/><circle cx="154" cy="1339.8"/><circle cx="149.7" cy="1331.1"/><circle cx="149.6" cy="1290.6"/><circle cx="142" cy="1353.6"/><circle cx="153.9" cy="1332.9"/><circle cx="148.4" cy="1282.1"/><circle cx="147.1" cy="1330.7"/><circle cx="156" cy="1312.5"/><circle cx="156.6" cy="1312.4"/><circle cx="148.2" cy="1343.3"/><circle cx="142.3" cy="1354.4"/><circle cx="154.4" cy="1390.7"/><circle cx="141.9" cy="1337.5"/><circle cx="152.8" cy="1377.8"/><circle cx="150.5" cy="1378.1"/><circle cx="153" cy="1328.6"/><circle cx="150.3" cy="1384.4"/><circle cx="139.8" cy="1233"/><circle cx="156.3" cy="1288.5"/><circle cx="142.3" cy="1376.9"/><circle cx="140.9" cy="1334.5"/><circle cx="140.6" cy="1303.6"/><circle cx="143.3" cy="1324.7"/><circle cx="144.3" cy="1387.6"/><circle cx="148.1" cy="1357.7"/><circle cx="155.1" cy="1300.3"/><circle cx="142" cy="1375.2"/><circle cx="139.6" cy="1359.3"/><circle cx="144.7" cy="1336"/><circle cx="144.2" cy="1357.6"/><circle cx="146.7" cy="1352.4"/><circle cx="144" cy="1355"/><circle cx="148.4" cy="1346.7"/><circle cx="143.1" cy="1379"/><circle cx="150.3" cy="1301.1"/><circle cx="141" cy="1303.1"/><circle cx="140" cy="1292.4"/><circle cx="153.1" cy="1359.5"/><circle cx="153.6" cy="1377.9"/><circle cx="146.5" cy="1388.6"/><circle cx="152.7" cy="1299.2"/><circle cx="156.4" cy="1378.9"/><circle cx="143.9" cy="1314.9"/><circle cx="139.2" cy="1371.3"/><circle cx="146" cy="1292.6"/><circle cx="139.6" cy="1342.3"/><circle cx="149.3" cy="1336.3"/><circle cx="149.8" cy="1391"/><circle cx="139.7" cy="1371.1"/><circle cx="146.6" cy="1282.5"/><circle cx="155.9" cy="1348.8"/><circle cx="145.1" cy="1289.8"/><circle cx="151" cy="1353.9"/><circle cx="142.7" cy="1323.3"/><circle cx="148.2" cy="1326.8"/><circle cx="156.8" cy="1357.2"/><circle cx="139.1" cy="1337.2"/><circle cx="154.2" cy="1364.4"/><circle cx="151.4" cy="1327.7"/><circle cx="156.8" cy="1369.5"/><circle cx="154.6" cy="1302.9"/><circle cx="139.9" cy="1346.4"/><circle cx="146.2" cy="1333.8"/><circle cx="144" cy="1311.9"/><circle cx="148" cy="1351.2"/><circle cx="143.5" cy="1339.6"/><circle cx="142.4" cy="1303.8"/><circle cx="144.7" cy="1383.8"/><circle cx="155.6" cy="1320.7"/><circle cx="144.3" cy="1345.9"/><circle cx="142.9" cy="1318.4"/><circle cx="149" cy="1357.8"/><circle cx="152.7" cy="1304.4"/><circle cx="141.6" cy="1339"/><circle cx="154.2" cy="1349.3"/><circle cx="139.5" cy="1354.6"/><circle cx="147.7" cy="1279.2"/><circle cx="141.7" cy="1328.7"/><circle cx="150.7" cy="1329.2"/><circle cx="149.2" cy="1353.6"/><circle cx="145.3" cy="1291.4"/><circle cx="142.8" cy="1349.6"/><circle cx="152.3" cy="1341.8"/><circle cx="149" cy="1369.7"/><circle cx="153.1" cy="1348.3"/><circle cx="139.5" cy="1381.6"/><circle cx="156.2" cy="1295.2"/><circle cx="147.6" cy="1383.8"/><circle cx="149.8" cy="1370.8"/><circle cx="150.1" cy="1283.6"/><circle cx="141.6" cy="1332.2"/><circle cx="140.2" cy="1380.6"/><circle cx="155.4" cy="1337"/><circle cx="149.2" cy="1330.8"/><circle cx="139.6" cy="1357.5"/><circle cx="153.8" cy="1367.2"/><circle cx="145.2" cy="1334.7"/><circle cx="142" cy="1370.2"/><circle cx="148.8" cy="1349.2"/><circle cx="147.9" cy="1351.2"/><circle cx="147.4" cy="1330.8"/><circle cx="145.7" cy="1361.8"/><circle cx="148.6" cy="1367.5"/><circle cx="139.5" cy="1343.1"/><circle cx="142.2" cy="1330.3"/><circle cx="149.6" cy="1339.6"/><circle cx="150.9" cy="1361.4"/><circle cx="139.6" cy="1307.1"/><circle cx="144.9" cy="1302"/><circle cx="148.9" cy="1352.1"/><circle cx="140.4" cy="1349.1"/><circle cx="156" cy="1309.9"/><circle cx="150.4" cy="1358.5"/><circle cx="154.9" cy="1350.7"/><circle cx="144.5" cy="1379.9"/><circle cx="140.1" cy="1367.8"/><circle cx="151.1" cy="1356.8"/><circle cx="141.1" cy="1350"/><circle cx="152.6" cy="1385.8"/><circle cx="148.6" cy="1339.1"/><circle cx="143.9" cy="1321.3"/><circle cx="149.4" cy="1337.7"/><circle cx="153.9" cy="1285.9"/><circle cx="146.2" cy="1360.4"/><circle cx="145.6" cy="1356.4"/><circle cx="139.8" cy="1358.8"/><circle cx="141.2" cy="1340.9"/><circle cx="152.7" cy="1312.7"/><circle cx="142.2" cy="1333.9"/><circle cx="150.4" cy="1356.1"/><circle cx="140.8" cy="1326.1"/><circle cx="140.7" cy="1333.5"/><circle cx="145.1" cy="1364.8"/><circle cx="153.9" cy="1362.5"/><circle cx="144.4" cy="1351.3"/><circle cx="154.2" cy="1291.8"/><circle cx="145" cy="1350.3"/><circle cx="145.8" cy="1367.7"/><circle cx="141.8" cy="1343.9"/><circle cx="145" cy="1372.5"/><circle cx="150.3" cy="1343"/><circle cx="154.7" cy="1296.1"/><circle cx="148.6" cy="1333.7"/><circle cx="148.9" cy="1332.6"/><circle cx="154.6" cy="1368.7"/><circle cx="146.5" cy="1300.5"/><circle cx="146.5" cy="1336.7"/><circle cx="143.2" cy="1380.9"/><circle cx="150.8" cy="1323.7"/><circle cx="147" cy="1376.4"/><circle cx="142.6" cy="1343.3"/><circle cx="143.1" cy="1348.7"/><circle cx="155.5" cy="1284.5"/><circle cx="150" cy="1349.4"/><circle cx="139.6" cy="1340.8"/><circle cx="142.9" cy="1373.6"/><circle cx="150.7" cy="1281.6"/><circle cx="140.8" cy="1304.8"/><circle cx="155.9" cy="1324.3"/><circle cx="151.8" cy="1343.6"/><circle cx="148.1" cy="1336.6"/><circle cx="153.1" cy="1335.4"/><circle cx="142.7" cy="1338.3"/><circle cx="144" cy="1329.8"/><circle cx="142.2" cy="1294.7"/><circle cx="150.4" cy="1355.6"/><circle cx="147" cy="1340.7"/><circle cx="156.8" cy="1369"/><circle cx="144.2" cy="1371.7"/><circle cx="140.5" cy="1321.2"/><circle cx="145" cy="1338.8"/><circle cx="141.6" cy="1356.7"/><circle cx="144.6" cy="1309.8"/><circle cx="150.8" cy="1377.1"/><circle cx="148.3" cy="1348.9"/><circle cx="155.3" cy="1337.4"/><circle cx="144.3" cy="1315.3"/><circle cx="151" cy="1344.4"/><circle cx="152.6" cy="1279.6"/><circle cx="154.9" cy="1330.9"/><circle cx="145.2" cy="1334.2"/><circle cx="146.1" cy="1356.2"/><circle cx="152" cy="1358"/><circle cx="148.7" cy="1367"/><circle cx="144" cy="1385.4"/><circle cx="156.3" cy="1338"/><circle cx="155.5" cy="1335.1"/><circle cx="143.7" cy="1317.6"/><circle cx="153.7" cy="1365.6"/><circle cx="143.4" cy="1323.9"/><circle cx="149.9" cy="1338.6"/><circle cx="140.6" cy="1355"/><circle cx="142.2" cy="1371.4"/><circle cx="139.1" cy="1369.9"/><circle cx="144.4" cy="1331.2"/><circle cx="148.7" cy="1283.9"/><circle cx="154.1" cy="1349.2"/><circle cx="142.5" cy="1290.3"/><circle cx="144.6" cy="1325"/><circle cx="154.4" cy="1346.3"/><circle cx="139.5" cy="1340.1"/><circle cx="141.8" cy="1372"/><circle cx="148.8" cy="1341.1"/><circle cx="152.4" cy="1367.3"/><circle cx="150.8" cy="1283.3"/><circle cx="146.9" cy="1344.8"/><circle cx="146.4" cy="1354.5"/><circle cx="139.9" cy="1334.7"/><circle cx="149.6" cy="1328.8"/><circle cx="153.5" cy="1347.9"/><circle cx="143" cy="1348.4"/><circle cx="148.9" cy="1351.8"/><circle cx="144.9" cy="1301.2"/><circle cx="151.1" cy="1357.6"/><circle cx="151.8" cy="1346.2"/><circle cx="153.6" cy="1358.6"/><circle cx="141.7" cy="1311.1"/><circle cx="142" cy="1241.8"/><circle cx="144.9" cy="1329.6"/><circle cx="151.9" cy="1345.6"/><circle cx="156.1" cy="1365.2"/><circle cx="154.1" cy="1353.8"/><circle cx="155.2" cy="1383.6"/><circle cx="148" cy="1329.8"/><circle cx="147.5" cy="1374.6"/><circle cx="151.1" cy="1349.8"/><circle cx="150.6" cy="1381.9"/><circle cx="155.6" cy="1284.4"/><circle cx="147.4" cy="1325.3"/><circle cx="139.7" cy="1356.8"/><circle cx="156.2" cy="1304.3"/><circle cx="156.1" cy="1335"/><circle cx="143.1" cy="1359.9"/><circle cx="142.9" cy="1339.2"/><circle cx="148.8" cy="1330.5"/><circle cx="148" cy="1324.2"/><circle cx="141.9" cy="1331.3"/><circle cx="139.7" cy="1329"/><circle cx="144.5" cy="1311.5"/><circle cx="147.2" cy="1280.8"/><circle cx="155.1" cy="1368"/><circle cx="139.3" cy="1373.1"/><circle cx="146.2" cy="1338.2"/><circle cx="145.2" cy="1383.4"/><circle cx="139" cy="1343.2"/><circle cx="144.2" cy="1327"/><circle cx="155.1" cy="1352.2"/><circle cx="141" cy="1350.5"/><circle cx="152.2" cy="1378.7"/><circle cx="142" cy="1339.7"/><circle cx="142.5" cy="1305.5"/><circle cx="149.7" cy="1229.6"/><circle cx="153.7" cy="1357.4"/><circle cx="139.4" cy="1336.3"/><circle cx="142.4" cy="1327.8"/><circle cx="153.2" cy="1344.7"/><circle cx="156.7" cy="1362.7"/><circle cx="140.4" cy="1281"/><circle cx="143.7" cy="1316.1"/><circle cx="140.4" cy="1354"/><circle cx="149.8" cy="1365.3"/><circle cx="151.4" cy="1343.9"/><circle cx="139.1" cy="1290.1"/><circle cx="153.4" cy="1356.6"/><circle cx="140.6" cy="1282.4"/><circle cx="142.5" cy="1345.4"/><circle cx="141.8" cy="1329.1"/><circle cx="144.8" cy="1313.6"/><circle cx="140.4" cy="1335.7"/><circle cx="140.4" cy="1356.3"/><circle cx="150.3" cy="1341.8"/><circle cx="144" cy="1355.6"/><circle cx="156.4" cy="1330"/><circle cx="154.2" cy="1345"/><circle cx="143.1" cy="1338.5"/><circle cx="142.5" cy="1365.7"/><circle cx="156.9" cy="1313.4"/><circle cx="139.7" cy="1323.6"/><circle cx="156.7" cy="1355.9"/><circle cx="141.2" cy="1285.8"/><circle cx="144.2" cy="1357.1"/><circle cx="151.9" cy="1366.1"/><circle cx="154.1" cy="1369.2"/><circle cx="145.5" cy="1364.1"/><circle cx="144.1" cy="1327.6"/><circle cx="151.4" cy="1306.4"/><circle cx="148.2" cy="1330.4"/><circle cx="151.1" cy="1282.8"/><circle cx="156.8" cy="1339.5"/><circle cx="149.2" cy="1359"/><circle cx="144.4" cy="1343"/><circle cx="147" cy="1342.4"/><circle cx="153.8" cy="1336.5"/><circle cx="145.6" cy="1345.8"/><circle cx="149.2" cy="1329.5"/><circle cx="152.6" cy="1387.1"/><circle cx="153.3" cy="1342.5"/><circle cx="139.3" cy="1350.2"/><circle cx="149.9" cy="1339.5"/><circle cx="144.9" cy="1384.9"/><circle cx="156.2" cy="1373.8"/><circle cx="145.7" cy="1361.3"/><circle cx="148.4" cy="1388.8"/><circle cx="140.8" cy="1344.4"/><circle cx="148" cy="1286.4"/><circle cx="142.2" cy="1341.4"/><circle cx="147.2" cy="1346.8"/><circle cx="156.3" cy="1347.8"/><circle cx="149.7" cy="1338.4"/><circle cx="154" cy="1350"/><circle cx="156.5" cy="1305.3"/><circle cx="153.9" cy="1327.3"/><circle cx="152.5" cy="1295.8"/><circle cx="156.4" cy="1317"/><circle cx="151.6" cy="1352.4"/><circle cx="141" cy="1391.4"/><circle cx="146.7" cy="1359.4"/><circle cx="142.9" cy="1322.1"/><circle cx="140.7" cy="1352"/><circle cx="140.6" cy="1332.7"/><circle cx="152.3" cy="1340.2"/><circle cx="150.7" cy="1355.7"/><circle cx="139.3" cy="1371.9"/><circle cx="155.2" cy="1383.3"/><circle cx="149.9" cy="1366.8"/><circle cx="147.3" cy="1374"/><circle cx="152" cy="1368.9"/><circle cx="145.7" cy="1337.8"/><circle cx="155.3" cy="1337.6"/><circle cx="144.9" cy="1344.3"/><circle cx="147.5" cy="1280.9"/><circle cx="154.8" cy="1363.3"/><circle cx="149.9" cy="1360.4"/><circle cx="153.2" cy="1338"/><circle cx="156.2" cy="1284.7"/><circle cx="155.2" cy="1368.4"/><circle cx="155.8" cy="1333.8"/><circle cx="149.5" cy="1307.2"/><circle cx="147.4" cy="1348.5"/><circle cx="142.6" cy="1334.1"/><circle cx="141.4" cy="1353.9"/><circle cx="147.7" cy="1345.7"/><circle cx="141.2" cy="1356.3"/><circle cx="151.6" cy="1297.9"/><circle cx="155.8" cy="1340.4"/><circle cx="144.9" cy="1362.4"/><circle cx="144.7" cy="1293"/><circle cx="149.1" cy="1316.4"/><circle cx="140" cy="1381.7"/><circle cx="147.8" cy="1353.5"/><circle cx="142" cy="1289.7"/><circle cx="154.6" cy="1296.5"/><circle cx="149.3" cy="1290.9"/><circle cx="152.2" cy="1355.1"/><circle cx="146.4" cy="1315.2"/><circle cx="150.7" cy="1310.8"/><circle cx="143.7" cy="1365.4"/><circle cx="151.9" cy="1338.8"/><circle cx="141.9" cy="1330.3"/><circle cx="139.1" cy="1317.1"/><circle cx="150.4" cy="1340.4"/><circle cx="139.3" cy="1330.2"/><circle cx="155.5" cy="1327.9"/><circle cx="150.8" cy="1382.3"/><circle cx="152.3" cy="1333.6"/><circle cx="148.2" cy="1329.9"/><circle cx="156.4" cy="1345.9"/><circle cx="153.4" cy="1338.4"/><circle cx="140.1" cy="1339.3"/><circle cx="140.1" cy="1384.1"/><circle cx="140" cy="1358.5"/><circle cx="156.8" cy="1357.2"/><circle cx="155.5" cy="1355.4"/><circle cx="142.2" cy="1331"/><circle cx="149.2" cy="1367.9"/><circle cx="152.3" cy="1348.7"/><circle cx="156.6" cy="1336.8"/><circle cx="155.6" cy="1288"/><circle cx="139.8" cy="1306.6"/><circle cx="156.9" cy="1377.4"/><circle cx="148.4" cy="1340.3"/><circle cx="145.1" cy="1344.2"/><circle cx="144.8" cy="1348.2"/><circle cx="155.8" cy="1365.5"/><circle cx="156.6" cy="1336.2"/><circle cx="143.3" cy="1334.3"/><circle cx="151" cy="1343.7"/><circle cx="145.8" cy="1381.9"/><circle cx="141.6" cy="1333.2"/><circle cx="151.9" cy="1287.3"/></g><g class="p" fill="#9a2a3c"><circle cx="219.7" cy="1334.6"/><circle cx="203.5" cy="1319.5"/><circle cx="219.2" cy="1355.9"/><circle cx="216.1" cy="1348.9"/><circle cx="204" cy="1316.8"/><circle cx="218.4" cy="1328.1"/><circle cx="208.1" cy="1301.4"/><circle cx="218.4" cy="1351"/><circle cx="216.3" cy="1296.2"/><circle cx="212.3" cy="1337.6"/><circle cx="202.4" cy="1314.4"/><circle cx="218.2" cy="1325.9"/><circle cx="212.1" cy="1275.6"/><circle cx="208.5" cy="1275.9"/><circle cx="205.6" cy="1282.4"/><circle cx="212.4" cy="1325.6"/><circle cx="210.2" cy="1286.6"/><circle cx="215.9" cy="1313.7"/><circle cx="217.8" cy="1308.4"/><circle cx="208.5" cy="1356.7"/><circle cx="203.6" cy="1291.8"/><circle cx="215.7" cy="1361.4"/><circle cx="217.5" cy="1306.9"/><circle cx="218.8" cy="1285.2"/><circle cx="213.3" cy="1310"/><circle cx="214.1" cy="1367.7"/><circle cx="211.6" cy="1306.7"/><circle cx="208.5" cy="1309.1"/><circle cx="210.3" cy="1347.8"/><circle cx="216.5" cy="1262"/><circle cx="203.4" cy="1325"/><circle cx="216.6" cy="1324"/><circle cx="206.3" cy="1320"/><circle cx="208.2" cy="1326.6"/><circle cx="216.2" cy="1338"/><circle cx="217.4" cy="1306.2"/><circle cx="215.5" cy="1354.9"/><circle cx="203.3" cy="1317.2"/><circle cx="208.9" cy="1350.5"/><circle cx="219.8" cy="1299.4"/><circle cx="207.8" cy="1309.8"/><circle cx="214.5" cy="1302.4"/><circle cx="212.3" cy="1372.2"/><circle cx="212.9" cy="1337.3"/><circle cx="202.5" cy="1281.2"/><circle cx="215" cy="1318"/><circle cx="214.9" cy="1309.2"/><circle cx="208.1" cy="1290.9"/><circle cx="209.5" cy="1311.9"/><circle cx="211.4" cy="1341.1"/><circle cx="214.4" cy="1341.6"/><circle cx="214.6" cy="1323.5"/><circle cx="208.9" cy="1327.4"/><circle cx="215" cy="1335.7"/><circle cx="210.9" cy="1311.1"/><circle cx="203.2" cy="1321.9"/><circle cx="214.1" cy="1287.5"/><circle cx="214.9" cy="1359.3"/><circle cx="214.6" cy="1343.9"/><circle cx="212.7" cy="1372.8"/><circle cx="213.4" cy="1342.8"/><circle cx="209.2" cy="1369.2"/><circle cx="211.8" cy="1269.1"/><circle cx="214.9" cy="1302.5"/><circle cx="219.7" cy="1284.6"/><circle cx="204.5" cy="1352.6"/><circle cx="206.2" cy="1310.2"/><circle cx="212.4" cy="1326.5"/><circle cx="215.3" cy="1340.7"/><circle cx="204.8" cy="1348.6"/><circle cx="218.1" cy="1270.1"/><circle cx="209.5" cy="1297.8"/><circle cx="209.5" cy="1304"/><circle cx="219.1" cy="1360.1"/><circle cx="208.1" cy="1341.9"/><circle cx="204.5" cy="1278.5"/><circle cx="206.9" cy="1312.8"/><circle cx="203.8" cy="1297.5"/><circle cx="218.9" cy="1366.3"/><circle cx="213.1" cy="1328.9"/><circle cx="215.8" cy="1342.2"/><circle cx="217.4" cy="1304.4"/><circle cx="204.9" cy="1277.1"/><circle cx="204" cy="1327.5"/><circle cx="202.4" cy="1320.3"/><circle cx="205.9" cy="1272.7"/><circle cx="204.6" cy="1269"/><circle cx="216.4" cy="1283.5"/><circle cx="203.4" cy="1340"/><circle cx="210.3" cy="1338.5"/><circle cx="216.5" cy="1263.7"/><circle cx="202.9" cy="1357.5"/><circle cx="211.7" cy="1347.2"/><circle cx="208.3" cy="1349.9"/><circle cx="214.2" cy="1294"/><circle cx="218.6" cy="1329.8"/><circle cx="211.1" cy="1294.7"/><circle cx="204.2" cy="1311.4"/><circle cx="202.1" cy="1364.7"/><circle cx="213.4" cy="1346.2"/><circle cx="207.4" cy="1276.8"/><circle cx="214.1" cy="1272.1"/><circle cx="219.5" cy="1359"/><circle cx="213.5" cy="1300"/><circle cx="205.4" cy="1314.1"/><circle cx="207.2" cy="1333.3"/><circle cx="212.7" cy="1309.5"/><circle cx="218.8" cy="1293.7"/><circle cx="216.9" cy="1296.6"/><circle cx="209.7" cy="1286.3"/><circle cx="207.7" cy="1307.4"/><circle cx="209.2" cy="1343.4"/><circle cx="217.6" cy="1324.2"/><circle cx="218.8" cy="1304.8"/><circle cx="214.5" cy="1329.2"/><circle cx="204.7" cy="1288.4"/><circle cx="216.6" cy="1326.9"/><circle cx="203.2" cy="1356.1"/><circle cx="213.1" cy="1279.3"/><circle cx="212.8" cy="1306.1"/><circle cx="218.3" cy="1332.5"/><circle cx="212.3" cy="1268"/><circle cx="207.7" cy="1305.3"/><circle cx="202.9" cy="1335.5"/><circle cx="202.6" cy="1308.5"/><circle cx="211.5" cy="1245.1"/><circle cx="212.3" cy="1328"/><circle cx="213.4" cy="1355.5"/><circle cx="212.4" cy="1295.4"/><circle cx="203.7" cy="1330.7"/><circle cx="211.6" cy="1342.9"/><circle cx="215.9" cy="1346.6"/><circle cx="204.7" cy="1320.4"/><circle cx="206.7" cy="1307.2"/><circle cx="204.5" cy="1321.2"/><circle cx="215.9" cy="1288.2"/><circle cx="202.6" cy="1328.6"/><circle cx="208.5" cy="1284.8"/><circle cx="212.6" cy="1355"/><circle cx="206.6" cy="1349.4"/><circle cx="202.4" cy="1330.5"/><circle cx="217.9" cy="1353.3"/><circle cx="208.5" cy="1354.3"/><circle cx="216.1" cy="1322.9"/><circle cx="203.4" cy="1280.1"/><circle cx="211.4" cy="1304.5"/><circle cx="205.7" cy="1291.5"/><circle cx="213.3" cy="1321.1"/><circle cx="213.1" cy="1373.5"/><circle cx="208" cy="1293.4"/><circle cx="207.8" cy="1299.8"/><circle cx="210.6" cy="1363.3"/><circle cx="207.6" cy="1344.5"/><circle cx="212.6" cy="1334"/><circle cx="215.1" cy="1368.6"/><circle cx="209.1" cy="1303.2"/><circle cx="204.1" cy="1336.5"/><circle cx="206.2" cy="1353.8"/><circle cx="206" cy="1324.8"/><circle cx="202.4" cy="1320.6"/><circle cx="209.7" cy="1327"/><circle cx="219" cy="1305.1"/><circle cx="215.3" cy="1278.1"/><circle cx="210.4" cy="1322.6"/><circle cx="217.8" cy="1263.2"/><circle cx="210" cy="1277.7"/><circle cx="206.8" cy="1319.9"/><circle cx="205.7" cy="1351.5"/><circle cx="206.2" cy="1292.3"/><circle cx="213.7" cy="1325.7"/><circle cx="204.9" cy="1364.4"/><circle cx="213.3" cy="1303.6"/><circle cx="219.3" cy="1315.4"/><circle cx="207" cy="1352.1"/><circle cx="211.3" cy="1334"/><circle cx="208.9" cy="1331.5"/><circle cx="202.3" cy="1345.8"/><circle cx="212.3" cy="1335.3"/><circle cx="211.2" cy="1334.8"/><circle cx="213.3" cy="1331.1"/><circle cx="219.6" cy="1324.6"/><circle cx="213.5" cy="1340.5"/><circle cx="208" cy="1317.1"/><circle cx="208.7" cy="1359.6"/><circle cx="207.9" cy="1322.7"/><circle cx="209.5" cy="1326.2"/><circle cx="205.9" cy="1323.6"/><circle cx="203.7" cy="1310.6"/><circle cx="218" cy="1270.8"/><circle cx="207.6" cy="1319.3"/><circle cx="215.8" cy="1325.1"/><circle cx="215.9" cy="1282.6"/><circle cx="212.2" cy="1329.5"/><circle cx="202.8" cy="1336.9"/><circle cx="203.2" cy="1274.7"/><circle cx="213.4" cy="1333.2"/><circle cx="210.7" cy="1343.7"/><circle cx="212.5" cy="1334.5"/><circle cx="214.6" cy="1299"/><circle cx="203.8" cy="1237.4"/><circle cx="216.5" cy="1313.3"/><circle cx="216.5" cy="1331.6"/><circle cx="216.6" cy="1312.3"/><circle cx="205.3" cy="1267"/><circle cx="211.2" cy="1317.5"/><circle cx="218.3" cy="1313.9"/><circle cx="216.5" cy="1318.4"/><circle cx="218.1" cy="1318.4"/><circle cx="216.5" cy="1350.7"/><circle cx="202.3" cy="1303.8"/><circle cx="212.5" cy="1322"/><circle cx="209.8" cy="1331.4"/><circle cx="205.2" cy="1354.1"/><circle cx="201.9" cy="1330.3"/><circle cx="208.9" cy="1280.7"/><circle cx="207.8" cy="1314.7"/><circle cx="203.3" cy="1310.8"/><circle cx="210.6" cy="1322.1"/><circle cx="205.2" cy="1312.5"/><circle cx="207.7" cy="1321.5"/><circle cx="210.7" cy="1297.3"/><circle cx="215.2" cy="1307.8"/><circle cx="209.5" cy="1315.9"/><circle cx="202.6" cy="1278.8"/><circle cx="204.9" cy="1335.9"/><circle cx="213.5" cy="1289.6"/><circle cx="212.5" cy="1333.5"/><circle cx="213.2" cy="1348.2"/><circle cx="203.4" cy="1330.2"/><circle cx="202.8" cy="1328.7"/><circle cx="216.5" cy="1329.9"/><circle cx="209.5" cy="1367"/><circle cx="207.1" cy="1323.8"/><circle cx="215.6" cy="1283.4"/><circle cx="206.2" cy="1358.6"/><circle cx="216.3" cy="1286"/><circle cx="215.9" cy="1325.3"/><circle cx="212.3" cy="1318.8"/><circle cx="202.8" cy="1318.6"/><circle cx="208.5" cy="1357"/><circle cx="219.1" cy="1304.2"/><circle cx="209.3" cy="1308"/><circle cx="215.6" cy="1307.7"/><circle cx="202.7" cy="1371"/><circle cx="205.3" cy="1308.8"/><circle cx="207.6" cy="1327.7"/><circle cx="218.9" cy="1311.2"/><circle cx="209.1" cy="1344.7"/><circle cx="218.7" cy="1361"/><circle cx="209.1" cy="1335.1"/><circle cx="216.9" cy="1273.3"/><circle cx="210.6" cy="1358.3"/><circle cx="206.6" cy="1306.9"/><circle cx="214.7" cy="1266.2"/><circle cx="216.8" cy="1305.2"/><circle cx="218" cy="1295"/><circle cx="217.6" cy="1339.1"/><circle cx="205.8" cy="1316.3"/><circle cx="219.6" cy="1317.8"/><circle cx="214.7" cy="1300.7"/><circle cx="212.2" cy="1300.8"/><circle cx="209.5" cy="1326.3"/><circle cx="211.3" cy="1292.7"/><circle cx="215.3" cy="1331.9"/><circle cx="206.1" cy="1352"/><circle cx="210.2" cy="1316.1"/><circle cx="209.6" cy="1336.6"/><circle cx="207.8" cy="1334.2"/><circle cx="218.4" cy="1332"/><circle cx="208.7" cy="1328.4"/><circle cx="208.9" cy="1316.5"/><circle cx="214.8" cy="1345.3"/><circle cx="206.4" cy="1274.5"/><circle cx="206.1" cy="1312.1"/><circle cx="204.5" cy="1281.8"/><circle cx="206.2" cy="1306.3"/><circle cx="214.3" cy="1339.7"/><circle cx="218.9" cy="1289.2"/><circle cx="209.4" cy="1319.1"/><circle cx="215.2" cy="1332.2"/><circle cx="217.6" cy="1331"/><circle cx="208.7" cy="1319.7"/><circle cx="212.8" cy="1313.4"/><circle cx="214.9" cy="1312.6"/><circle cx="205.4" cy="1322.4"/><circle cx="206" cy="1315.1"/><circle cx="203.2" cy="1317.6"/><circle cx="208.6" cy="1301.7"/><circle cx="214.3" cy="1279.6"/><circle cx="215.9" cy="1288.7"/><circle cx="217.5" cy="1329.7"/><circle cx="206.8" cy="1345.6"/><circle cx="206.3" cy="1317"/><circle cx="218.8" cy="1333"/><circle cx="210.8" cy="1305.7"/><circle cx="208.6" cy="1264.4"/><circle cx="204.9" cy="1311.6"/><circle cx="210.8" cy="1323.4"/><circle cx="215.5" cy="1315.3"/><circle cx="203.1" cy="1370.3"/><circle cx="210.5" cy="1290.2"/><circle cx="213.1" cy="1332.5"/><circle cx="215.7" cy="1349.7"/><circle cx="211.8" cy="1314.9"/><circle cx="205.2" cy="1315.6"/><circle cx="204" cy="1314.2"/><circle cx="202.7" cy="1290.4"/><circle cx="205.4" cy="1320.9"/><circle cx="213.1" cy="1333.7"/><circle cx="212.2" cy="1287.3"/><circle cx="210.4" cy="1283.9"/><circle cx="215.1" cy="1309.5"/><circle cx="212.7" cy="1321.6"/><circle cx="211.3" cy="1332.7"/><circle cx="206.6" cy="1324.5"/><circle cx="216.9" cy="1347.4"/><circle cx="215.8" cy="1310.5"/><circle cx="217.2" cy="1357.8"/><circle cx="218.3" cy="1327.3"/><circle cx="212.5" cy="1323.2"/><circle cx="211" cy="1352.8"/><circle cx="219.1" cy="1308.3"/><circle cx="207.6" cy="1313"/><circle cx="205.1" cy="1305.9"/><circle cx="215.6" cy="1339.4"/><circle cx="205.6" cy="1276.2"/><circle cx="205.4" cy="1265.3"/><circle cx="204.3" cy="1281.6"/><circle cx="209.2" cy="1362.8"/><circle cx="204.6" cy="1329.1"/><circle cx="208.1" cy="1298.3"/><circle cx="202.6" cy="1295.8"/></g><g class="p" fill="#c4ec48"><circle cx="271.6" cy="1159.4"/><circle cx="275.5" cy="1149.8"/><circle cx="268.4" cy="1149.6"/><circle cx="277" cy="1128.9"/><circle cx="270.8" cy="1160.4"/><circle cx="277.7" cy="1164"/><circle cx="267.4" cy="1143.8"/><circle cx="271.6" cy="1138.9"/><circle cx="266.9" cy="1151.3"/><circle cx="277.8" cy="1169.2"/><circle cx="272.3" cy="1130.8"/><circle cx="276.6" cy="1148.4"/><circle cx="270.5" cy="1151.7"/><circle cx="277.4" cy="1132.2"/><circle cx="280" cy="1122.3"/><circle cx="265.5" cy="1132.4"/><circle cx="277.3" cy="1137.3"/><circle cx="274.8" cy="1180.4"/><circle cx="269.7" cy="1135.1"/><circle cx="276.3" cy="1150.6"/><circle cx="278.1" cy="1154.5"/><circle cx="277.3" cy="1156.6"/><circle cx="270.6" cy="1138.3"/><circle cx="268.6" cy="1139.8"/><circle cx="272.5" cy="1175.8"/><circle cx="278.4" cy="1138.2"/><circle cx="271.4" cy="1122"/><circle cx="269.2" cy="1104"/><circle cx="269.9" cy="1158.1"/><circle cx="272.9" cy="1100.9"/><circle cx="273.1" cy="1099.9"/><circle cx="270.3" cy="1123.7"/><circle cx="277.4" cy="1145.1"/><circle cx="265" cy="1139.1"/><circle cx="272.4" cy="1159.8"/><circle cx="274.2" cy="1146.7"/><circle cx="269.4" cy="1147.5"/><circle cx="267" cy="1119.1"/><circle cx="267.6" cy="1166.1"/><circle cx="279.8" cy="1106.1"/><circle cx="276" cy="1161.1"/><circle cx="266" cy="1171.6"/><circle cx="278.5" cy="1163.5"/><circle cx="272.8" cy="1143.3"/><circle cx="265.8" cy="1169.3"/><circle cx="281.7" cy="1139.5"/><circle cx="281.6" cy="1116.2"/><circle cx="276.8" cy="1134"/><circle cx="274.8" cy="1133.7"/><circle cx="276.2" cy="1147.1"/><circle cx="273.3" cy="1170.9"/><circle cx="281.8" cy="1142.7"/><circle cx="279.6" cy="1135.8"/><circle cx="278.8" cy="1153.1"/><circle cx="281.5" cy="1181.9"/><circle cx="269.7" cy="1141.3"/><circle cx="272.2" cy="1132.7"/><circle cx="280.4" cy="1144"/><circle cx="276.7" cy="1093.1"/><circle cx="278.9" cy="1168"/><circle cx="265.6" cy="1145.9"/><circle cx="275.3" cy="1109.8"/><circle cx="271.3" cy="1137.4"/><circle cx="277.3" cy="1179.7"/><circle cx="282.4" cy="1178"/><circle cx="276.6" cy="1148.3"/><circle cx="278.2" cy="1144.3"/><circle cx="276.8" cy="1091.7"/><circle cx="278.4" cy="1151.4"/><circle cx="282.6" cy="1120.1"/><circle cx="273.5" cy="1157.1"/><circle cx="273.4" cy="1136.9"/><circle cx="272.8" cy="1103.3"/><circle cx="269.9" cy="1149.2"/><circle cx="277.9" cy="1111.5"/><circle cx="274.4" cy="1111.7"/><circle cx="271.9" cy="1125.5"/><circle cx="282.5" cy="1156.7"/><circle cx="274" cy="1109.5"/><circle cx="281.3" cy="1174.5"/><circle cx="278.2" cy="1152.3"/><circle cx="273.2" cy="1089.9"/><circle cx="269.3" cy="1166.7"/><circle cx="271.7" cy="1120.3"/><circle cx="274.2" cy="1098.5"/><circle cx="271.5" cy="1141.8"/><circle cx="269.2" cy="1183"/><circle cx="280.9" cy="1103.5"/><circle cx="271.4" cy="1137.1"/><circle cx="279.6" cy="1150.9"/><circle cx="272.4" cy="1121.4"/><circle cx="279.8" cy="1152.1"/><circle cx="265.5" cy="1131.8"/><circle cx="274.3" cy="1140.2"/><circle cx="271.2" cy="1165.6"/><circle cx="275.9" cy="1131.9"/><circle cx="275.1" cy="1162.1"/><circle cx="276.7" cy="1140.4"/><circle cx="276.3" cy="1133"/><circle cx="279.4" cy="1117"/><circle cx="265.3" cy="1134.7"/><circle cx="268.7" cy="1160"/><circle cx="268.4" cy="1135.9"/><circle cx="275.4" cy="1172.1"/><circle cx="268.4" cy="1154"/><circle cx="276.9" cy="1096.5"/><circle cx="265.7" cy="1140.7"/><circle cx="271.2" cy="1137.8"/><circle cx="277.2" cy="1168.3"/><circle cx="265.6" cy="1171.5"/><circle cx="273.8" cy="1095.1"/><circle cx="280.5" cy="1173.9"/><circle cx="266.3" cy="1130.6"/><circle cx="265.3" cy="1157.7"/><circle cx="278.9" cy="1184.8"/><circle cx="279.9" cy="1105.8"/><circle cx="279.8" cy="1166.6"/><circle cx="278.6" cy="1108"/><circle cx="267.4" cy="1085.6"/><circle cx="275.3" cy="1135.6"/><circle cx="280.8" cy="1162.6"/><circle cx="272.9" cy="1108.8"/><circle cx="274" cy="1128.3"/><circle cx="265.5" cy="1131.2"/><circle cx="274.4" cy="1156"/><circle cx="275.2" cy="1142.3"/><circle cx="276.1" cy="1132.8"/><circle cx="274.6" cy="1099.2"/><circle cx="268.1" cy="1152.9"/><circle cx="273.8" cy="1143.4"/><circle cx="271" cy="1136.4"/><circle cx="268.6" cy="1140.1"/><circle cx="271.1" cy="1097.6"/><circle cx="278.9" cy="1118"/><circle cx="272.9" cy="1134.5"/><circle cx="271.2" cy="1161.6"/><circle cx="279.9" cy="1150.2"/><circle cx="277" cy="1155.4"/><circle cx="279.8" cy="1154.2"/><circle cx="271.2" cy="1087.9"/><circle cx="267.9" cy="1112.7"/><circle cx="275.3" cy="1144.8"/><circle cx="280" cy="1131.6"/><circle cx="271.2" cy="1170.4"/><circle cx="271.9" cy="1173.4"/><circle cx="272.8" cy="1091.2"/><circle cx="282.4" cy="1136.3"/><circle cx="269.8" cy="1155.9"/><circle cx="277.4" cy="1164.5"/><circle cx="271.5" cy="1094.9"/><circle cx="267.6" cy="1126.6"/><circle cx="275" cy="1164.8"/><circle cx="275.4" cy="1173.3"/><circle cx="266" cy="1153.5"/><circle cx="276.7" cy="1146.3"/><circle cx="279.4" cy="1142.1"/><circle cx="266.9" cy="1153.3"/><circle cx="275.5" cy="1127.8"/><circle cx="278" cy="1137.9"/><circle cx="274.8" cy="1113.1"/><circle cx="276.9" cy="1172.9"/><circle cx="266.2" cy="1101.8"/><circle cx="274.5" cy="1175"/><circle cx="271.9" cy="1102.4"/><circle cx="273.4" cy="1124.8"/><circle cx="273.4" cy="1136.7"/><circle cx="267.6" cy="1152.6"/><circle cx="277.8" cy="1133.3"/><circle cx="270.7" cy="1130.4"/><circle cx="267.7" cy="1157.3"/><circle cx="265.3" cy="1114.8"/><circle cx="269.1" cy="1149.4"/><circle cx="275.6" cy="1117.9"/><circle cx="270.6" cy="1129.3"/><circle cx="265.2" cy="1106.8"/><circle cx="279.5" cy="1170"/><circle cx="279.9" cy="1150.5"/><circle cx="276.8" cy="1144.5"/><circle cx="281.4" cy="1114.3"/><circle cx="278" cy="1167.3"/><circle cx="268.7" cy="1156.4"/><circle cx="270.5" cy="1176.6"/><circle cx="272.6" cy="1145.6"/><circle cx="265.8" cy="1139.6"/><circle cx="269.3" cy="1135.3"/><circle cx="266.7" cy="1084.3"/><circle cx="280" cy="1174.4"/><circle cx="277" cy="1140.9"/><circle cx="268.7" cy="1134.9"/><circle cx="281.5" cy="1148"/><circle cx="282.3" cy="1159"/><circle cx="280.3" cy="1163.8"/><circle cx="276.2" cy="1172.4"/><circle cx="267" cy="1148.7"/><circle cx="272.6" cy="1131.4"/><circle cx="268.5" cy="1087.6"/><circle cx="268.6" cy="1134.1"/><circle cx="274.2" cy="1147.6"/><circle cx="275.8" cy="1160.9"/><circle cx="282.5" cy="1154.6"/><circle cx="270.1" cy="1165.2"/><circle cx="266.2" cy="1179.3"/><circle cx="278.6" cy="1185.3"/><circle cx="270.4" cy="1163.3"/><circle cx="277.2" cy="1104.9"/><circle cx="280.2" cy="1138.5"/><circle cx="275.1" cy="1142.2"/><circle cx="275" cy="1130.9"/><circle cx="281.8" cy="1146.9"/><circle cx="273.1" cy="1169.6"/><circle cx="273.7" cy="1133.5"/><circle cx="266.2" cy="1134.4"/><circle cx="268.1" cy="1146.1"/><circle cx="279.3" cy="1155.3"/><circle cx="269.1" cy="1167.6"/><circle cx="273.7" cy="1155.1"/><circle cx="277.2" cy="1141.6"/><circle cx="270.4" cy="1145.4"/><circle cx="264.7" cy="1123.5"/><circle cx="275.1" cy="1126.1"/><circle cx="278.7" cy="1141.2"/><circle cx="276.8" cy="1162.4"/><circle cx="273.5" cy="1142.9"/><circle cx="277.2" cy="1139.2"/><circle cx="273.7" cy="1157.8"/><circle cx="280.5" cy="1110.8"/><circle cx="268.4" cy="1115.6"/><circle cx="275" cy="1158.7"/><circle cx="274.2" cy="1183.6"/><circle cx="268.4" cy="1168.5"/></g><g class="p" fill="#7474d0"><circle cx="338.5" cy="1123.7"/><circle cx="329.6" cy="1160.1"/><circle cx="328.5" cy="1092.8"/><circle cx="331.9" cy="1139.1"/><circle cx="340.7" cy="1102.7"/><circle cx="338.5" cy="1166.7"/></g><g class="p" fill="#62bcaa"><circle cx="392.6" cy="1145.8"/><circle cx="398" cy="1110"/><circle cx="403.6" cy="1135.8"/><circle cx="393.7" cy="1178.9"/><circle cx="402.5" cy="1117.1"/><circle cx="399.2" cy="1107.1"/><circle cx="391.5" cy="1129.2"/></g><g class="p" fill="#167020"><circle cx="460.5" cy="1093.3"/><circle cx="462.5" cy="1130.6"/><circle cx="456" cy="1127.3"/><circle cx="469.5" cy="1070.9"/><circle cx="461" cy="1141.5"/><circle cx="470.5" cy="1124.7"/><circle cx="470.1" cy="1144.9"/><circle cx="463.7" cy="1104"/><circle cx="453.1" cy="1072.7"/><circle cx="458.2" cy="1057.7"/><circle cx="463.2" cy="1100.3"/><circle cx="456.9" cy="1073.5"/><circle cx="461.7" cy="1087"/><circle cx="458.7" cy="1121.3"/><circle cx="468.5" cy="1096.7"/><circle cx="455.3" cy="1067.2"/><circle cx="465.3" cy="1095"/><circle cx="470.7" cy="1140.3"/><circle cx="463.3" cy="1089.8"/><circle cx="457.8" cy="1096.3"/><circle cx="469.3" cy="1146.9"/><circle cx="461.2" cy="1092.4"/><circle cx="465.5" cy="1115.7"/><circle cx="462.9" cy="1107.1"/><circle cx="469.3" cy="1106.6"/><circle cx="460.2" cy="1108"/><circle cx="467.2" cy="1116"/><circle cx="455.8" cy="1105.2"/><circle cx="463.9" cy="1117.9"/><circle cx="466.9" cy="1118.5"/><circle cx="456.2" cy="1154.6"/><circle cx="455.3" cy="1100.2"/><circle cx="470.7" cy="1146.3"/><circle cx="468.8" cy="1119.3"/><circle cx="454.5" cy="1137.9"/><circle cx="456.9" cy="1147.8"/><circle cx="468.1" cy="1140.5"/><circle cx="465.8" cy="1163.7"/><circle cx="465.5" cy="1055.8"/><circle cx="468.1" cy="1063.1"/><circle cx="467.8" cy="1144.3"/><circle cx="457.8" cy="1124.4"/><circle cx="456.2" cy="1083"/><circle cx="470" cy="1098.9"/><circle cx="464.1" cy="1156.2"/><circle cx="458.6" cy="1105.6"/><circle cx="453.2" cy="1148.3"/><circle cx="457.5" cy="1092.8"/><circle cx="465.7" cy="1088.5"/><circle cx="470" cy="1098.4"/><circle cx="461.1" cy="1118.8"/><circle cx="465.7" cy="1107.9"/><circle cx="469.9" cy="1106.4"/><circle cx="463.5" cy="1090.1"/><circle cx="464" cy="1079.9"/><circle cx="465.8" cy="1146"/><circle cx="468.1" cy="1078.6"/><circle cx="453.7" cy="1123.9"/><circle cx="457.8" cy="1101"/><circle cx="458.7" cy="1069.5"/><circle cx="463.6" cy="1068.4"/><circle cx="464.4" cy="1153.4"/><circle cx="467.2" cy="1093.9"/><circle cx="468" cy="1092"/><circle cx="454.5" cy="1124.6"/><circle cx="460.6" cy="1077.3"/><circle cx="467.2" cy="1074.4"/><circle cx="456.4" cy="1104.2"/><circle cx="453.8" cy="1108.2"/><circle cx="457.4" cy="1064.8"/><circle cx="459.8" cy="1166.1"/><circle cx="470.1" cy="1056.4"/><circle cx="454.1" cy="1152.3"/><circle cx="461.9" cy="1138.2"/><circle cx="460.9" cy="1062.7"/><circle cx="470.9" cy="1099.1"/><circle cx="459.1" cy="1120"/><circle cx="469.2" cy="1076.8"/><circle cx="464.7" cy="1203.7"/><circle cx="459.7" cy="1117.1"/><circle cx="464.7" cy="1159.8"/><circle cx="459.6" cy="1069.1"/><circle cx="462.9" cy="1130.3"/><circle cx="454.5" cy="1081.9"/><circle cx="457.5" cy="1150.9"/><circle cx="465.4" cy="1085.4"/><circle cx="454.2" cy="1112.1"/><circle cx="465.2" cy="1090.8"/><circle cx="467.5" cy="1156.8"/><circle cx="459" cy="1112.4"/><circle cx="468.1" cy="1103.5"/><circle cx="462.9" cy="1109.3"/><circle cx="461.4" cy="1110.4"/><circle cx="457.1" cy="1152.5"/><circle cx="454" cy="1109"/><circle cx="457.1" cy="1105.4"/><circle cx="468.9" cy="1157.6"/><circle cx="454.4" cy="1120.3"/><circle cx="460.6" cy="1094.5"/><circle cx="463.2" cy="1128.4"/><circle cx="462.8" cy="1147.9"/><circle cx="467.1" cy="1096.6"/><circle cx="458.7" cy="1124.3"/><circle cx="453.1" cy="1139.5"/><circle cx="461.5" cy="1123.7"/><circle cx="455.5" cy="1065.2"/><circle cx="470.3" cy="1200.4"/><circle cx="468.5" cy="1108.8"/><circle cx="467.1" cy="1113.2"/><circle cx="467.8" cy="1054.1"/><circle cx="453.1" cy="1069.3"/><circle cx="456.2" cy="1105"/><circle cx="464.1" cy="1078.1"/><circle cx="462" cy="1112.5"/><circle cx="467.2" cy="1097"/><circle cx="460.2" cy="1113"/><circle cx="464.5" cy="1149.3"/><circle cx="459.7" cy="1150.7"/><circle cx="462.8" cy="1094.2"/><circle cx="453.8" cy="1112.6"/><circle cx="457.3" cy="1136"/><circle cx="470" cy="1075"/><circle cx="454.7" cy="1112.7"/><circle cx="454" cy="1090.8"/><circle cx="459.9" cy="1122.2"/><circle cx="462.5" cy="1094.8"/><circle cx="457.1" cy="1161.3"/><circle cx="456.3" cy="1132.3"/><circle cx="460.4" cy="1105.2"/><circle cx="459" cy="1116.3"/><circle cx="470.3" cy="1095.4"/><circle cx="468.9" cy="1060.1"/><circle cx="470.5" cy="1123"/><circle cx="463.8" cy="1066.6"/><circle cx="469.9" cy="1074"/><circle cx="467.1" cy="1111.3"/><circle cx="462.9" cy="1126.1"/><circle cx="470.3" cy="1148.6"/><circle cx="458.6" cy="1097.2"/><circle cx="461.9" cy="1072.5"/><circle cx="456.1" cy="1086.2"/><circle cx="458.4" cy="1062.9"/><circle cx="459.9" cy="1051.2"/><circle cx="456.2" cy="1130.1"/><circle cx="470.4" cy="1097.7"/><circle cx="465.9" cy="1070.7"/><circle cx="463.6" cy="1123.3"/><circle cx="465.2" cy="1157.2"/><circle cx="455.7" cy="1120.6"/><circle cx="463.5" cy="1078"/><circle cx="454.8" cy="1106.3"/><circle cx="463.7" cy="1130.9"/><circle cx="470" cy="1103.7"/><circle cx="463.9" cy="1127.2"/><circle cx="457.2" cy="1077.2"/><circle cx="460.1" cy="1121"/><circle cx="468.3" cy="1123.5"/><circle cx="468.5" cy="1115.3"/><circle cx="461.7" cy="1064.4"/><circle cx="467.2" cy="1088"/><circle cx="464.8" cy="1095.6"/><circle cx="465.1" cy="1066.2"/><circle cx="463.6" cy="1106.2"/><circle cx="463.2" cy="1108.5"/><circle cx="459" cy="1113.7"/><circle cx="460.8" cy="1137.6"/><circle cx="470.4" cy="1142.6"/><circle cx="456.8" cy="1110.9"/><circle cx="461.1" cy="1061.1"/><circle cx="471" cy="1178"/><circle cx="465.6" cy="1141.6"/><circle cx="464.5" cy="1058.5"/><circle cx="466.3" cy="1099.7"/><circle cx="460.8" cy="1123.6"/><circle cx="461.5" cy="1129.3"/><circle cx="457.7" cy="1080.2"/><circle cx="457.3" cy="1097.3"/><circle cx="461.7" cy="1064.2"/><circle cx="453.3" cy="1109.9"/><circle cx="463.4" cy="1155.5"/><circle cx="469.1" cy="1104.5"/><circle cx="468.4" cy="1131.5"/><circle cx="466.9" cy="1096.7"/><circle cx="466.5" cy="1193.2"/><circle cx="469.8" cy="1159.9"/><circle cx="457" cy="1112.5"/><circle cx="459.3" cy="1152.9"/><circle cx="464.2" cy="1121.7"/><circle cx="457.5" cy="1082.1"/><circle cx="457.6" cy="1109.6"/><circle cx="469.3" cy="1115.4"/><circle cx="462.7" cy="1076.2"/><circle cx="457.1" cy="1106"/><circle cx="467.2" cy="1087.4"/><circle cx="461.9" cy="1082.5"/><circle cx="463.5" cy="1172.9"/><circle cx="464.9" cy="1152.7"/><circle cx="456.9" cy="1117.2"/><circle cx="468.7" cy="1163.3"/><circle cx="467.1" cy="1086.4"/><circle cx="467.2" cy="1128.7"/><circle cx="466.8" cy="1147.4"/><circle cx="457.2" cy="1146.7"/><circle cx="453.7" cy="1108.2"/><circle cx="465.4" cy="1137"/><circle cx="455.7" cy="1114.1"/><circle cx="467.3" cy="1064"/><circle cx="453.9" cy="1145.7"/><circle cx="457.4" cy="1117.5"/><circle cx="459.2" cy="1125.7"/><circle cx="455.1" cy="1127.1"/><circle cx="466.2" cy="1125.8"/><circle cx="468.9" cy="1138.3"/><circle cx="459.7" cy="1123.4"/><circle cx="467.4" cy="1143.7"/><circle cx="453.2" cy="1149.5"/><circle cx="457.3" cy="1126.3"/><circle cx="461.8" cy="1065.8"/><circle cx="467.3" cy="1118.2"/><circle cx="465.5" cy="1120.4"/><circle cx="462.1" cy="1154.5"/><circle cx="463.9" cy="1170.6"/><circle cx="470.3" cy="1103"/><circle cx="469.5" cy="1103.6"/><circle cx="460.6" cy="1153.3"/><circle cx="456.4" cy="1080.7"/><circle cx="463.8" cy="1116.4"/><circle cx="464.1" cy="1135.9"/><circle cx="466.8" cy="1086"/><circle cx="453.6" cy="1144.8"/><circle cx="464.2" cy="1060"/><circle cx="466.9" cy="1073.8"/><circle cx="468.8" cy="1117.8"/><circle cx="467.2" cy="1107.7"/><circle cx="471" cy="1063.7"/><circle cx="456.6" cy="1128.6"/><circle cx="459.2" cy="1101.7"/><circle cx="454.9" cy="1065"/><circle cx="455.6" cy="1062.2"/><circle cx="459.6" cy="1117.9"/><circle cx="465.2" cy="1151.2"/><circle cx="463.4" cy="1151.6"/><circle cx="453.1" cy="1112.9"/><circle cx="460.5" cy="1070"/><circle cx="463.5" cy="1103.4"/><circle cx="464.8" cy="1164.4"/><circle cx="466.4" cy="1112.8"/><circle cx="453.2" cy="1134.2"/><circle cx="468.2" cy="1066.8"/><circle cx="469.7" cy="1128.5"/><circle cx="463.7" cy="1091.2"/><circle cx="454.3" cy="1119.4"/><circle cx="463.1" cy="1122.4"/><circle cx="455.5" cy="1068.2"/><circle cx="463.9" cy="1114.6"/><circle cx="460.6" cy="1102.7"/><circle cx="465.8" cy="1135.5"/><circle cx="470.3" cy="1116.6"/><circle cx="464.2" cy="1116"/><circle cx="454.4" cy="1071.7"/><circle cx="454.3" cy="1125.2"/><circle cx="456.8" cy="1101.9"/><circle cx="463.9" cy="1080.8"/><circle cx="466.2" cy="1052.7"/><circle cx="456.4" cy="1134.6"/><circle cx="462.2" cy="1107.3"/><circle cx="462.6" cy="1101.7"/><circle cx="466.6" cy="1106.7"/><circle cx="453.4" cy="1108.3"/><circle cx="454.5" cy="1102.2"/><circle cx="456.6" cy="1153.7"/><circle cx="467.1" cy="1097.8"/><circle cx="470.1" cy="1126.1"/><circle cx="462.7" cy="1120.8"/><circle cx="469.6" cy="1119.2"/><circle cx="459.9" cy="1132"/><circle cx="461.8" cy="1099.7"/><circle cx="460" cy="1127.8"/><circle cx="454.1" cy="1067.9"/><circle cx="469.1" cy="1098.5"/><circle cx="460.7" cy="1069.6"/><circle cx="459.9" cy="1073.5"/><circle cx="465.4" cy="1102.4"/><circle cx="468.2" cy="1165.9"/><circle cx="461.9" cy="1111.7"/><circle cx="465.6" cy="1116.4"/><circle cx="460.4" cy="1099.3"/><circle cx="466.3" cy="1155.8"/><circle cx="465.9" cy="1063.2"/><circle cx="455" cy="1149.1"/><circle cx="460.6" cy="1079.3"/><circle cx="468.6" cy="1128.3"/><circle cx="466.8" cy="1138.8"/><circle cx="469.2" cy="1100.9"/><circle cx="454" cy="1060.8"/><circle cx="455.1" cy="1091.9"/><circle cx="458.4" cy="1111.3"/><circle cx="465.2" cy="1110.5"/><circle cx="455.2" cy="1121.9"/><circle cx="465.2" cy="1113.9"/><circle cx="459.8" cy="1136.9"/><circle cx="468.6" cy="1143.4"/><circle cx="462.7" cy="1108.4"/><circle cx="453.7" cy="1110.1"/><circle cx="455.5" cy="1168.7"/><circle cx="460.6" cy="1104"/><circle cx="453.9" cy="1091.6"/><circle cx="459.6" cy="1170.9"/><circle cx="468" cy="1068.8"/><circle cx="454.6" cy="1102"/><circle cx="464.1" cy="1122.5"/><circle cx="467.5" cy="1122.6"/><circle cx="457.4" cy="1173.6"/><circle cx="459" cy="1098.2"/><circle cx="460.8" cy="1089.5"/><circle cx="461" cy="1105.3"/><circle cx="466.2" cy="1103.9"/><circle cx="465" cy="1134.5"/><circle cx="459.7" cy="1093.7"/><circle cx="453.1" cy="1110.6"/><circle cx="458.5" cy="1158.2"/><circle cx="462.3" cy="1081.7"/><circle cx="467.6" cy="1117.7"/><circle cx="466.4" cy="1118.3"/><circle cx="457.4" cy="1142"/><circle cx="468" cy="1085.1"/><circle cx="453.2" cy="1194"/><circle cx="456.5" cy="1109.8"/><circle cx="467.2" cy="1137.6"/><circle cx="462.9" cy="1103.3"/><circle cx="458.1" cy="1101.1"/><circle cx="467.2" cy="1091.3"/><circle cx="461.4" cy="1125"/><circle cx="453.4" cy="1100"/><circle cx="468.5" cy="1140.7"/><circle cx="458.5" cy="1127.6"/><circle cx="469.9" cy="1111"/><circle cx="464.3" cy="1107.4"/><circle cx="454.9" cy="1133.6"/><circle cx="468.6" cy="1139.1"/><circle cx="458.1" cy="1122"/><circle cx="453.7" cy="1127.3"/><circle cx="458.7" cy="1154.3"/><circle cx="453.9" cy="1099"/><circle cx="461" cy="1167.5"/><circle cx="453.4" cy="1158.8"/><circle cx="470" cy="1101.9"/><circle cx="453.5" cy="1105"/><circle cx="465.9" cy="1102.6"/><circle cx="466.1" cy="1095.8"/><circle cx="469.4" cy="1121.5"/><circle cx="462.9" cy="1128"/><circle cx="457.6" cy="1145.2"/><circle cx="457.3" cy="1106.1"/><circle cx="460.6" cy="1066.4"/><circle cx="466.4" cy="1174.4"/><circle cx="466.3" cy="1119"/><circle cx="468.4" cy="1133.7"/><circle cx="456.3" cy="1105.4"/><circle cx="464.1" cy="1114.2"/><circle cx="456" cy="1094"/><circle cx="469.1" cy="1096.9"/><circle cx="466.3" cy="1104.6"/><circle cx="467.1" cy="1146.6"/><circle cx="461.9" cy="1071.9"/><circle cx="469.8" cy="1125.1"/><circle cx="459.8" cy="1113.3"/><circle cx="461.6" cy="1103.2"/><circle cx="464.4" cy="1108.6"/><circle cx="456.1" cy="1126.3"/><circle cx="465.3" cy="1075"/><circle cx="461.2" cy="1096.1"/><circle cx="454.8" cy="1117.4"/><circle cx="458.2" cy="1102.1"/><circle cx="469.6" cy="1133.3"/><circle cx="463.6" cy="1082.8"/><circle cx="457.6" cy="1103.8"/><circle cx="464.3" cy="1115.3"/><circle cx="470.8" cy="1097.5"/><circle cx="461.8" cy="1135"/><circle cx="456.1" cy="1071.1"/><circle cx="455" cy="1102.5"/><circle cx="456.1" cy="1111.5"/><circle cx="455.9" cy="1108.9"/><circle cx="470.5" cy="1094.7"/><circle cx="456.5" cy="1139.7"/><circle cx="470.1" cy="1114.7"/><circle cx="462.6" cy="1074.8"/><circle cx="470.8" cy="1101.5"/><circle cx="460.7" cy="1122.4"/><circle cx="464.6" cy="1126.6"/><circle cx="457.8" cy="1126.9"/><circle cx="456.2" cy="1156"/><circle cx="469.4" cy="1052.4"/><circle cx="459.4" cy="1136.4"/><circle cx="459.6" cy="1059.2"/><circle cx="460.9" cy="1144"/><circle cx="455.5" cy="1101.2"/><circle cx="469.8" cy="1097.4"/><circle cx="464.1" cy="1097.9"/><circle cx="465.2" cy="1115.5"/><circle cx="469.1" cy="1071.5"/><circle cx="469.3" cy="1102.6"/><circle cx="455.4" cy="1169.9"/><circle cx="454.5" cy="1103.4"/><circle cx="463.8" cy="1132.1"/><circle cx="456" cy="1123.2"/><circle cx="465.5" cy="1088.3"/><circle cx="458.5" cy="1157"/><circle cx="459.8" cy="1119.5"/><circle cx="458.2" cy="1213.8"/><circle cx="464.3" cy="1072.2"/><circle cx="467.2" cy="1121.8"/><circle cx="461.9" cy="1112.1"/><circle cx="454.9" cy="1097.1"/><circle cx="456.9" cy="1154.8"/><circle cx="466.3" cy="1107.9"/><circle cx="469.5" cy="1148.2"/><circle cx="458.8" cy="1100.5"/><circle cx="469.7" cy="1124.1"/><circle cx="458.7" cy="1153.8"/><circle cx="465.7" cy="1142.1"/><circle cx="470.1" cy="1128.7"/><circle cx="459.7" cy="1117.5"/><circle cx="460.3" cy="1155.2"/><circle cx="470.8" cy="1167"/><circle cx="463.3" cy="1079.2"/><circle cx="455.1" cy="1145.4"/><circle cx="465.3" cy="1136.6"/><circle cx="469.1" cy="1102.8"/><circle cx="470" cy="1132.9"/><circle cx="464" cy="1100.4"/><circle cx="453.7" cy="1104.2"/><circle cx="459" cy="1077.8"/><circle cx="461.7" cy="1126.4"/><circle cx="462.3" cy="1107.2"/><circle cx="466.4" cy="1081.4"/><circle cx="468.3" cy="1101.5"/><circle cx="462.6" cy="1116.8"/><circle cx="469.4" cy="1121.4"/><circle cx="470.5" cy="1102.3"/><circle cx="454.1" cy="1100.3"/><circle cx="468.7" cy="1124.8"/><circle cx="469.5" cy="1114.5"/><circle cx="460.7" cy="1122.9"/><circle cx="464.4" cy="1111.9"/><circle cx="454.3" cy="1093.2"/><circle cx="463.9" cy="1099.2"/><circle cx="457.5" cy="1104.8"/><circle cx="456.5" cy="1115.9"/><circle cx="469.2" cy="1175.2"/><circle cx="467.5" cy="1096.5"/><circle cx="457.1" cy="1055"/><circle cx="465.1" cy="1072.2"/><circle cx="458.7" cy="1115.1"/><circle cx="466.9" cy="1083.6"/><circle cx="470.6" cy="1160.9"/><circle cx="463.9" cy="1150"/><circle cx="464.6" cy="1106.4"/><circle cx="457.2" cy="1129.8"/><circle cx="467.5" cy="1076.6"/><circle cx="470.3" cy="1084"/><circle cx="468.8" cy="1115.6"/><circle cx="466.5" cy="1149.9"/><circle cx="457.5" cy="1157.8"/><circle cx="462.4" cy="1124.5"/><circle cx="467.1" cy="1087.8"/><circle cx="461.2" cy="1121"/><circle cx="469.7" cy="1099"/><circle cx="464" cy="1097.6"/><circle cx="466.3" cy="1113.7"/><circle cx="458.7" cy="1070.3"/><circle cx="467.1" cy="1116.7"/><circle cx="464.7" cy="1142.9"/><circle cx="460.9" cy="1118.9"/><circle cx="467.5" cy="1127.7"/><circle cx="461.5" cy="1140"/><circle cx="466.8" cy="1121.1"/><circle cx="469.9" cy="1152"/><circle cx="459.7" cy="1110.2"/><circle cx="454" cy="1151.4"/><circle cx="465.8" cy="1079.9"/><circle cx="455" cy="1172.2"/><circle cx="453.6" cy="1105.7"/><circle cx="470.5" cy="1127.6"/><circle cx="460.9" cy="1167.8"/><circle cx="456.2" cy="1110.7"/><circle cx="460" cy="1065.6"/><circle cx="456.6" cy="1215.8"/><circle cx="465.2" cy="1157.5"/><circle cx="464.3" cy="1105.6"/><circle cx="468.1" cy="1100.6"/><circle cx="465.6" cy="1098.1"/><circle cx="465.4" cy="1111.8"/><circle cx="461.1" cy="1101.6"/><circle cx="454.6" cy="1111.1"/><circle cx="464.8" cy="1182.4"/><circle cx="458.7" cy="1113.6"/><circle cx="462.3" cy="1162.1"/><circle cx="465.9" cy="1119.9"/><circle cx="459.6" cy="1126"/><circle cx="457.1" cy="1110"/><circle cx="464.1" cy="1151.8"/><circle cx="457" cy="1109.5"/><circle cx="456.4" cy="1137.3"/><circle cx="459" cy="1128.9"/><circle cx="457" cy="1074.3"/><circle cx="453.1" cy="1125.9"/><circle cx="465.1" cy="1108.7"/><circle cx="458.5" cy="1079.6"/><circle cx="460.9" cy="1114"/><circle cx="458.4" cy="1155.2"/><circle cx="455.1" cy="1087.1"/><circle cx="462.6" cy="1156.5"/><circle cx="468.4" cy="1122.8"/><circle cx="454.5" cy="1105.8"/><circle cx="469.2" cy="1131.7"/><circle cx="455.6" cy="1173.8"/><circle cx="467.4" cy="1111.2"/><circle cx="464.8" cy="1100.8"/><circle cx="467.7" cy="1143.1"/><circle cx="466.4" cy="1097.7"/><circle cx="465.7" cy="1089.2"/><circle cx="453.3" cy="1123.1"/><circle cx="467.1" cy="1098"/><circle cx="456.6" cy="1061.7"/><circle cx="457" cy="1106.8"/><circle cx="469.7" cy="1101.2"/><circle cx="459.8" cy="1124.9"/><circle cx="455" cy="1129.2"/><circle cx="456.5" cy="1128.1"/><circle cx="460.4" cy="1129.6"/><circle cx="459.8" cy="1067.4"/><circle cx="465.6" cy="1110.8"/><circle cx="469.1" cy="1221.7"/><circle cx="468.3" cy="1078.9"/><circle cx="466.5" cy="1116.2"/><circle cx="453.9" cy="1116.9"/><circle cx="466.6" cy="1113.1"/><circle cx="470.8" cy="1073.1"/><circle cx="469.4" cy="1099.4"/><circle cx="460.7" cy="1080.4"/><circle cx="456.9" cy="1083.3"/><circle cx="458.4" cy="1067.6"/><circle cx="470.7" cy="1083.8"/><circle cx="455.7" cy="1109.4"/><circle cx="469.8" cy="1060.9"/><circle cx="459.9" cy="1085.7"/><circle cx="464.7" cy="1110.3"/><circle cx="464.8" cy="1100.7"/><circle cx="467" cy="1148.9"/><circle cx="463.8" cy="1119.1"/><circle cx="463.4" cy="1118.7"/><circle cx="454.2" cy="1143.3"/><circle cx="463.3" cy="1112.3"/><circle cx="464.8" cy="1121.6"/><circle cx="465.1" cy="1087.6"/><circle cx="464.2" cy="1064.7"/><circle cx="465.1" cy="1090.5"/><circle cx="468.3" cy="1202.3"/><circle cx="460.1" cy="1099.6"/><circle cx="462.8" cy="1078.4"/><circle cx="470.9" cy="1084.9"/><circle cx="468.2" cy="1169.4"/><circle cx="459" cy="1104.5"/><circle cx="464.9" cy="1210.3"/><circle cx="468.8" cy="1141.3"/><circle cx="462.7" cy="1086.7"/><circle cx="460.2" cy="1086.3"/><circle cx="469.9" cy="1099.5"/><circle cx="455.5" cy="1140.9"/><circle cx="467.7" cy="1101.4"/><circle cx="459.8" cy="1098.7"/><circle cx="469.6" cy="1102.9"/><circle cx="459.3" cy="1184.4"/><circle cx="458.5" cy="1218.8"/><circle cx="455.7" cy="1084.3"/><circle cx="456.3" cy="1090.2"/><circle cx="462" cy="1075.4"/><circle cx="460.4" cy="1096.9"/><circle cx="458.3" cy="1066"/><circle cx="460.3" cy="1124.2"/><circle cx="469.8" cy="1088.7"/><circle cx="462.4" cy="1125.5"/><circle cx="466.6" cy="1119.8"/><circle cx="463.3" cy="1123.8"/><circle cx="468.7" cy="1100.1"/><circle cx="453.5" cy="1111.5"/><circle cx="462.2" cy="1104.8"/><circle cx="467.3" cy="1061.9"/><circle cx="465.8" cy="1134"/><circle cx="461.9" cy="1125.4"/><circle cx="466.9" cy="1122.7"/><circle cx="465.3" cy="1114.3"/><circle cx="469.8" cy="1076.1"/><circle cx="456" cy="1114.4"/><circle cx="453.6" cy="1109.7"/><circle cx="457" cy="1109.2"/><circle cx="465.5" cy="1105.9"/><circle cx="462.8" cy="1132.7"/><circle cx="463.8" cy="1104.4"/><circle cx="455.5" cy="1220.9"/><circle cx="464.7" cy="1075.6"/><circle cx="469.4" cy="1060.4"/><circle cx="469.1" cy="1127.4"/><circle cx="460.2" cy="1115.8"/><circle cx="460.8" cy="1118.4"/><circle cx="468.8" cy="1073"/><circle cx="465.4" cy="1366.5"/><circle cx="464.1" cy="1110.7"/><circle cx="463.8" cy="1082.6"/><circle cx="467.1" cy="1128.1"/><circle cx="456.6" cy="1164.9"/><circle cx="456.9" cy="1106.9"/><circle cx="465.6" cy="1096.1"/><circle cx="459.5" cy="1089.6"/><circle cx="463.5" cy="1081"/><circle cx="462.7" cy="1070.6"/><circle cx="456.9" cy="1109.3"/><circle cx="466.5" cy="1150.4"/><circle cx="458.3" cy="1118.3"/><circle cx="459.3" cy="1113.5"/><circle cx="470.9" cy="1120.1"/><circle cx="462" cy="1098.8"/><circle cx="460.7" cy="1107"/><circle cx="466.1" cy="1119.7"/><circle cx="462.5" cy="1142.4"/><circle cx="454.8" cy="1063.4"/><circle cx="469.9" cy="1069.9"/><circle cx="458.4" cy="1098.6"/><circle cx="458.6" cy="1098.4"/><circle cx="466.7" cy="1110"/><circle cx="470.6" cy="1119.7"/><circle cx="464.7" cy="1062.3"/><circle cx="467.8" cy="1150.2"/><circle cx="470.3" cy="1121.2"/><circle cx="458.8" cy="1106.6"/><circle cx="453.5" cy="1089"/><circle cx="457" cy="1125.5"/><circle cx="466.9" cy="1061.5"/><circle cx="453.2" cy="1145.6"/><circle cx="466" cy="1126.6"/><circle cx="456.4" cy="1117"/><circle cx="460.1" cy="1083.8"/><circle cx="460.3" cy="1120.6"/><circle cx="454.8" cy="1120.8"/><circle cx="461.1" cy="1131.3"/><circle cx="467.8" cy="1077.6"/><circle cx="470.8" cy="1144.4"/><circle cx="465.7" cy="1096.2"/><circle cx="464.4" cy="1206.6"/><circle cx="455" cy="1130.9"/><circle cx="468.6" cy="1125.3"/><circle cx="461" cy="1120.4"/><circle cx="462.4" cy="1109.1"/><circle cx="453.4" cy="1188.9"/><circle cx="466.7" cy="1107.2"/><circle cx="456.1" cy="1098.2"/><circle cx="454.6" cy="1114.9"/><circle cx="457.1" cy="1135.3"/><circle cx="454.9" cy="1124"/><circle cx="458.7" cy="1114.8"/><circle cx="469" cy="1117.3"/><circle cx="462.4" cy="1197.9"/><circle cx="463.9" cy="1118.1"/><circle cx="465.1" cy="1075.8"/><circle cx="457" cy="1084.6"/><circle cx="460.4" cy="1162.5"/><circle cx="459.3" cy="1135.6"/><circle cx="454.3" cy="1181.5"/><circle cx="464.9" cy="1147.3"/><circle cx="460.3" cy="1133"/><circle cx="467.4" cy="1061.3"/><circle cx="463.2" cy="1119.4"/><circle cx="456.4" cy="1138.7"/><circle cx="462.3" cy="1126.8"/><circle cx="464.4" cy="1127"/><circle cx="458.9" cy="1103.1"/><circle cx="464.2" cy="1122.1"/><circle cx="455.2" cy="1099.9"/><circle cx="461.5" cy="1081.2"/><circle cx="470.6" cy="1092.9"/><circle cx="455.5" cy="1096.4"/><circle cx="464.5" cy="1113.9"/><circle cx="461.1" cy="1208"/><circle cx="459.9" cy="1085.2"/><circle cx="464" cy="1068.6"/><circle cx="468.2" cy="1115"/><circle cx="460.4" cy="1107.7"/><circle cx="466.3" cy="1172"/><circle cx="457" cy="1104.6"/><circle cx="458.2" cy="1111.6"/><circle cx="464.1" cy="1092.3"/><circle cx="466.4" cy="1139.3"/><circle cx="462.2" cy="1191"/><circle cx="459.2" cy="1107.5"/><circle cx="457.8" cy="1108.6"/><circle cx="458" cy="1099.9"/><circle cx="467" cy="1107.6"/><circle cx="454.2" cy="1076.4"/><circle cx="463.3" cy="1067.1"/></g><g class="p" fill="#b02070"><circle cx="525.9" cy="1181.8"/><circle cx="523.7" cy="1106.2"/><circle cx="521.8" cy="1243.8"/><circle cx="529.6" cy="1236.3"/><circle cx="515.9" cy="1138.7"/><circle cx="527.4" cy="1038.8"/><circle cx="521" cy="1028.4"/><circle cx="529.5" cy="1103.3"/><circle cx="520.2" cy="1067"/><circle cx="529.3" cy="1122.2"/><circle cx="522.6" cy="1215.4"/><circle cx="516.1" cy="1114.6"/><circle cx="527.6" cy="1219"/><circle cx="531.8" cy="1118.1"/><circle cx="519.1" cy="1135.1"/><circle cx="529.1" cy="1208.1"/><circle cx="528.3" cy="1087.3"/><circle cx="524.4" cy="1147.1"/><circle cx="522.8" cy="1185.3"/><circle cx="526.6" cy="1038.5"/><circle cx="518" cy="1057.5"/><circle cx="521.1" cy="1145.9"/><circle cx="516.6" cy="1230.3"/><circle cx="518.5" cy="1045.6"/><circle cx="533.4" cy="1120.9"/><circle cx="533.7" cy="1186.1"/><circle cx="525.7" cy="1132.9"/><circle cx="528.5" cy="1070.5"/><circle cx="518.3" cy="1044"/><circle cx="527.1" cy="1027.5"/><circle cx="526.5" cy="1052.1"/><circle cx="531.3" cy="1097.7"/><circle cx="527.6" cy="1165.4"/><circle cx="532.2" cy="1062.8"/><circle cx="525.2" cy="1166.8"/><circle cx="521.7" cy="1095.6"/><circle cx="520.8" cy="1149.6"/><circle cx="533.2" cy="1093.1"/><circle cx="526.7" cy="1223.2"/><circle cx="520.6" cy="1320.2"/><circle cx="531" cy="1259.5"/><circle cx="516.2" cy="1109"/><circle cx="526.3" cy="1054.4"/><circle cx="517.5" cy="1044.9"/><circle cx="523.2" cy="1214.1"/><circle cx="529.7" cy="1151.2"/><circle cx="532.9" cy="1106.7"/><circle cx="529.2" cy="1049.2"/><circle cx="524.5" cy="1052.7"/><circle cx="530.8" cy="1229.5"/><circle cx="530.4" cy="1204"/><circle cx="531.3" cy="1158.1"/><circle cx="521.1" cy="1091.3"/><circle cx="531" cy="1167.5"/><circle cx="523.7" cy="1287.2"/><circle cx="518.4" cy="1072.1"/><circle cx="532.8" cy="1042.3"/><circle cx="522.2" cy="1123.4"/><circle cx="529.6" cy="1107.8"/><circle cx="524" cy="1053.8"/><circle cx="531.6" cy="1057"/><circle cx="520.3" cy="1209.6"/><circle cx="524.7" cy="1073.3"/><circle cx="532.8" cy="1064.2"/><circle cx="517.4" cy="1040.2"/><circle cx="523.8" cy="1055.3"/><circle cx="521.7" cy="1100.1"/><circle cx="525.6" cy="1041.5"/><circle cx="529" cy="1176.9"/><circle cx="529.6" cy="1056.3"/><circle cx="532.6" cy="1051.1"/><circle cx="523.7" cy="1100.5"/><circle cx="522.9" cy="1263.7"/><circle cx="533.1" cy="1098.5"/><circle cx="529.9" cy="1047.2"/><circle cx="532.3" cy="1072.7"/><circle cx="527.8" cy="1083.7"/><circle cx="526.7" cy="1147.9"/><circle cx="527.6" cy="1068.4"/><circle cx="527.3" cy="1048.6"/><circle cx="519" cy="1212.6"/><circle cx="522.5" cy="1126.2"/><circle cx="530.9" cy="1131.3"/><circle cx="521.2" cy="1089.9"/><circle cx="527.7" cy="1030.9"/><circle cx="526.7" cy="1040.8"/><circle cx="533.8" cy="1137"/><circle cx="520.1" cy="1189.9"/><circle cx="526" cy="1099.7"/><circle cx="516.7" cy="1131.9"/><circle cx="530" cy="1273.3"/><circle cx="520.9" cy="1101.5"/><circle cx="517.1" cy="1076.8"/><circle cx="530.2" cy="1300.4"/><circle cx="529.8" cy="1086.6"/><circle cx="528.4" cy="1172.3"/><circle cx="527.7" cy="1068.1"/><circle cx="525.5" cy="1092.5"/><circle cx="519" cy="1128.4"/><circle cx="520.4" cy="1073.9"/><circle cx="523.5" cy="1060.6"/><circle cx="529.4" cy="1161.3"/><circle cx="516.3" cy="1089.2"/><circle cx="519.3" cy="1097.9"/><circle cx="530.6" cy="1151.6"/><circle cx="531.1" cy="1081.5"/><circle cx="522.7" cy="1253.2"/><circle cx="533.7" cy="1085"/><circle cx="516.9" cy="1154.5"/><circle cx="521.8" cy="1113.2"/><circle cx="523.7" cy="1066.7"/><circle cx="516.2" cy="1028.9"/><circle cx="516.2" cy="1036.9"/><circle cx="522.2" cy="1077.2"/><circle cx="526.6" cy="1086.3"/><circle cx="528.1" cy="1279.2"/><circle cx="517.6" cy="1088.4"/><circle cx="524.7" cy="1080.9"/><circle cx="533.3" cy="1090.7"/><circle cx="523.7" cy="1091.7"/><circle cx="525.5" cy="1124.4"/><circle cx="524.9" cy="1037.1"/><circle cx="531.2" cy="1035.1"/><circle cx="520.9" cy="1144.6"/><circle cx="532.1" cy="1201.4"/><circle cx="523.8" cy="1058.2"/><circle cx="521.9" cy="1096.9"/><circle cx="530" cy="1296.6"/><circle cx="517.9" cy="1047.8"/><circle cx="517.9" cy="1059.1"/><circle cx="518.3" cy="1155.3"/><circle cx="526.3" cy="1283.3"/><circle cx="531" cy="1075.8"/><circle cx="518" cy="1082.7"/><circle cx="526.3" cy="1050.2"/><circle cx="524.4" cy="1135.6"/><circle cx="529.7" cy="1071.3"/><circle cx="524.8" cy="1069.7"/><circle cx="528.6" cy="1157.9"/><circle cx="517.4" cy="1280.4"/><circle cx="529.7" cy="1045.9"/><circle cx="530.8" cy="1104.5"/><circle cx="520.1" cy="1240"/><circle cx="518.4" cy="1140.4"/><circle cx="516" cy="1077.6"/><circle cx="533" cy="1118.8"/><circle cx="526.9" cy="1032.7"/><circle cx="529.5" cy="1193.9"/><circle cx="522.7" cy="1183.9"/><circle cx="532" cy="1248.6"/><circle cx="519.5" cy="1199.2"/><circle cx="530.2" cy="1062.5"/><circle cx="533.2" cy="1163.9"/><circle cx="533.2" cy="1245"/><circle cx="528.7" cy="1065.1"/><circle cx="519.7" cy="1292.3"/><circle cx="533.7" cy="1084.3"/><circle cx="528" cy="1078.9"/><circle cx="532.9" cy="1126.1"/><circle cx="530" cy="1085.5"/><circle cx="528.6" cy="1065.9"/><circle cx="531.5" cy="1191.6"/><circle cx="518.1" cy="1061.7"/><circle cx="521.5" cy="1255.5"/><circle cx="524.6" cy="1194.8"/><circle cx="517.4" cy="1074.3"/><circle cx="530.2" cy="1075.1"/><circle cx="524.5" cy="1227"/><circle cx="523" cy="1034"/><circle cx="523.4" cy="1160"/><circle cx="522.7" cy="1269.2"/><circle cx="525.8" cy="1206.1"/><circle cx="532.9" cy="1094.1"/><circle cx="520.8" cy="1116.4"/><circle cx="532.2" cy="1079.9"/><circle cx="518.8" cy="1060.2"/><circle cx="529.6" cy="1082.1"/><circle cx="524.3" cy="1111.9"/><circle cx="515.9" cy="1096.3"/><circle cx="519.6" cy="1162"/><circle cx="525.7" cy="1094.8"/><circle cx="520.7" cy="1070.4"/><circle cx="521.8" cy="1141.5"/><circle cx="531.1" cy="1153.3"/><circle cx="517.8" cy="1087.8"/><circle cx="523.8" cy="1093.9"/><circle cx="533.8" cy="1035.6"/><circle cx="520.8" cy="1268.9"/><circle cx="516.7" cy="1030.2"/><circle cx="529" cy="1080.4"/><circle cx="520" cy="1224.5"/><circle cx="523.6" cy="1142.8"/><circle cx="517.1" cy="1078.1"/><circle cx="522.1" cy="1220.5"/><circle cx="519.6" cy="1111"/><circle cx="516.2" cy="1197.7"/><circle cx="532.4" cy="1129.2"/><circle cx="526.8" cy="1174.7"/><circle cx="531.4" cy="1171.1"/><circle cx="520.6" cy="1329"/><circle cx="531.1" cy="1179.1"/><circle cx="528.8" cy="1031.8"/></g><g class="p" fill="#5446a8"><circle cx="580.4" cy="1105.7"/><circle cx="579.4" cy="1076.4"/><circle cx="592.2" cy="1106.4"/><circle cx="587.5" cy="1130"/><circle cx="592.9" cy="1108.5"/><circle cx="579.6" cy="1099.8"/><circle cx="594.9" cy="1133.9"/><circle cx="589.3" cy="1135.1"/><circle cx="592.1" cy="1113.6"/><circle cx="586.4" cy="1075.1"/><circle cx="594.2" cy="1096.8"/><circle cx="586.2" cy="1083.8"/><circle cx="582.5" cy="1139.1"/><circle cx="592.7" cy="1092.3"/><circle cx="592" cy="1110.9"/><circle cx="589.2" cy="1137.3"/><circle cx="588.9" cy="1085.2"/><circle cx="592.9" cy="1114.7"/><circle cx="589.5" cy="1073"/><circle cx="585.4" cy="1127.7"/><circle cx="587.3" cy="1082"/><circle cx="591.3" cy="1082.1"/><circle cx="588.2" cy="1097.6"/><circle cx="584.3" cy="1099.3"/><circle cx="581.5" cy="1060"/><circle cx="581.9" cy="1100.7"/><circle cx="589.9" cy="1120.6"/><circle cx="579.7" cy="1112.9"/><circle cx="586.5" cy="1116"/><circle cx="592.2" cy="1109"/><circle cx="585.8" cy="1094.1"/><circle cx="585.2" cy="1117"/><circle cx="595.7" cy="1071.1"/><circle cx="595.9" cy="1093.9"/><circle cx="595.1" cy="1077.2"/><circle cx="596.1" cy="1090.2"/><circle cx="591.7" cy="1132"/><circle cx="585.4" cy="1100.7"/><circle cx="580.6" cy="1079.4"/><circle cx="579.3" cy="1095"/><circle cx="583.6" cy="1062.4"/><circle cx="583.1" cy="1095.3"/><circle cx="590" cy="1077.7"/><circle cx="596.6" cy="1103.8"/><circle cx="583.4" cy="1087.5"/><circle cx="584.4" cy="1098.4"/><circle cx="588.8" cy="1109.6"/><circle cx="580.7" cy="1088.9"/><circle cx="596.1" cy="1102.1"/><circle cx="595.7" cy="1124.8"/><circle cx="579.2" cy="1096.8"/><circle cx="580.5" cy="1091.1"/><circle cx="582.6" cy="1118.2"/><circle cx="592.1" cy="1093"/><circle cx="584.5" cy="1129.4"/><circle cx="589.6" cy="1070.4"/><circle cx="579.5" cy="1106.8"/><circle cx="587.4" cy="1105.3"/><circle cx="585" cy="1104.4"/><circle cx="578.7" cy="1068.3"/><circle cx="580.2" cy="1086.2"/><circle cx="594.5" cy="1108.2"/><circle cx="587.3" cy="1087.7"/><circle cx="579.5" cy="1123.7"/><circle cx="589" cy="1111.2"/><circle cx="596.1" cy="1092.1"/><circle cx="587.2" cy="1111.9"/><circle cx="591.1" cy="1096.1"/><circle cx="585.5" cy="1110.3"/><circle cx="583.6" cy="1064.8"/><circle cx="589.5" cy="1102.6"/><circle cx="585.5" cy="1125.8"/><circle cx="578.9" cy="1098.9"/><circle cx="581.8" cy="1107.8"/><circle cx="594.4" cy="1104.5"/><circle cx="586.3" cy="1089.9"/><circle cx="579.8" cy="1073.3"/><circle cx="593.5" cy="1091.7"/><circle cx="596.3" cy="1080"/><circle cx="589.7" cy="1122.4"/><circle cx="580.1" cy="1121.8"/><circle cx="596.1" cy="1128.1"/><circle cx="595.9" cy="1101.5"/><circle cx="583.3" cy="1103.2"/><circle cx="593.9" cy="1119.2"/></g><g stroke="#333" stroke-width="2.2" fill="none" stroke-opacity="0.9"><line x1="148" x2="148" y1="1279" y2="1326.8"/><line x1="148" x2="148" y1="1358.8" y2="1391"/><rect x="124.4" y="1326.8" width="47.1" height="32"/><line x1="210.8" x2="210.8" y1="1262" y2="1303.6"/><line x1="210.8" x2="210.8" y1="1335.6" y2="1374"/><rect x="187.3" y="1303.6" width="47.1" height="32"/><line x1="273.6" x2="273.6" y1="1090" y2="1130.3"/><line x1="273.6" x2="273.6" y1="1157.9" y2="1185"/><rect x="250.1" y="1130.3" width="47.1" height="27.6"/><line x1="336.4" x2="336.4" y1="1091.7" y2="1112.7"/><line x1="336.4" x2="336.4" y1="1149.1" y2="1167.8"/><rect x="312.9" y="1112.7" width="47.1" height="36.4"/><line x1="399.2" x2="399.2" y1="1107.1" y2="1110"/><line x1="399.2" x2="399.2" y1="1140.2" y2="1178.9"/><rect x="375.7" y="1110" width="47.1" height="30.2"/><line x1="462.1" x2="462.1" y1="1051" y2="1096.1"/><line x1="462.1" x2="462.1" y1="1128.8" y2="1178"/><rect x="438.5" y="1096.1" width="47.1" height="32.7"/><line x1="524.9" x2="524.9" y1="1026.6" y2="1069.2"/><line x1="524.9" x2="524.9" y1="1167.2" y2="1301.4"/><rect x="501.3" y="1069.2" width="47.1" height="98"/><line x1="587.7" x2="587.7" y1="1060" y2="1089"/><line x1="587.7" x2="587.7" y1="1112.6" y2="1141"/><rect x="564.1" y="1089" width="47.1" height="23.6"/></g><g stroke="#333" stroke-width="6" stroke-opacity="0.9"><line x1="123.3" x2="172.7" y1="1342.2" y2="1342.2"/><line x1="186.2" x2="235.5" y1="1320.2" y2="1320.2"/><line x1="249" x2="298.3" y1="1142.5" y2="1142.5"/><line x1="311.8" x2="361.1" y1="1125.2" y2="1125.2"/><line x1="374.6" x2="423.9" y1="1123.7" y2="1123.7"/><line x1="437.4" x2="486.7" y1="1111.5" y2="1111.5"/><line x1="500.2" x2="549.5" y1="1101" y2="1101"/><line x1="563" x2="612.3" y1="1101" y2="1101"/></g><rect x="111.4" y="1010.7" width="513.6" height="397.6" fill="none" stroke="#111" stroke-width="3.2"/><g stroke="#111" stroke-width="3"><line x1="99.9" x2="111.4" y1="1022" y2="1022"/><line x1="99.9" x2="111.4" y1="1140.2" y2="1140.2"/><line x1="99.9" x2="111.4" y1="1258.5" y2="1258.5"/><line x1="99.9" x2="111.4" y1="1376.8" y2="1376.8"/><line x1="148" x2="148" y1="1408.3" y2="1418.8"/><line x1="210.8" x2="210.8" y1="1408.3" y2="1418.8"/><line x1="273.6" x2="273.6" y1="1408.3" y2="1418.8"/><line x1="336.4" x2="336.4" y1="1408.3" y2="1418.8"/><line x1="399.2" x2="399.2" y1="1408.3" y2="1418.8"/><line x1="462.1" x2="462.1" y1="1408.3" y2="1418.8"/><line x1="524.9" x2="524.9" y1="1408.3" y2="1418.8"/><line x1="587.7" x2="587.7" y1="1408.3" y2="1418.8"/></g><g font-size="32" fill="#363636" text-anchor="end"><text transform="translate(96.5 1033.2) scale(0.9 1)">10</text><text transform="translate(96.5 1151.5) scale(0.9 1)">5</text><text transform="translate(96.5 1269.7) scale(0.9 1)">0</text><text transform="translate(96.5 1388) scale(0.9 1)">−5</text></g><g font-size="29" fill="#363636" text-anchor="end"><text transform="translate(158.5 1425.3) rotate(-90)">Muscle Skeletal</text><text transform="translate(221.3 1425.3) rotate(-90)">Brain Cortex</text><text transform="translate(284.1 1425.3) rotate(-90)">Liver</text><text transform="translate(346.9 1425.3) rotate(-90)">Liver (Controls)</text><text transform="translate(409.7 1425.3) rotate(-90)">Liver (COVID−19)</text><text transform="translate(472.6 1425.3) rotate(-90)">Lung</text><text transform="translate(535.4 1425.3) rotate(-90)">Small Intestine/Terminal Ileum</text><text transform="translate(598.2 1425.3) rotate(-90)">Kidney Cortex</text></g><text transform="translate(45.5 1209.5) rotate(-90)" font-size="35" font-weight="bold" text-anchor="middle" fill="#000">TPM (log2)</text><text transform="translate(680 951.2) scale(0.95 1)" font-size="38" font-weight="bold" fill="#000">D</text><text transform="translate(772.2 974.5) scale(0.965 1)" font-size="44" fill="#000">RAB7A</text><g stroke="#e6e6e6" stroke-width="3.5"><line x1="773.3" x2="1303.3" y1="1057.9" y2="1057.9" stroke-width="3" stroke="#f0f0f0"/><line x1="773.3" x2="1303.3" y1="1178.7" y2="1178.7" stroke-width="3" stroke="#f0f0f0"/><line x1="773.3" x2="1303.3" y1="1299.5" y2="1299.5" stroke-width="3" stroke="#f0f0f0"/><line x1="773.3" x2="1303.3" y1="1118.3" y2="1118.3"/><line x1="773.3" x2="1303.3" y1="1239.1" y2="1239.1"/><line x1="773.3" x2="1303.3" y1="1359.9" y2="1359.9"/><line x1="811.9" x2="811.9" y1="1001.5" y2="1399.5"/><line x1="876.7" x2="876.7" y1="1001.5" y2="1399.5"/><line x1="941.5" x2="941.5" y1="1001.5" y2="1399.5"/><line x1="1006.4" x2="1006.4" y1="1001.5" y2="1399.5"/><line x1="1071.2" x2="1071.2" y1="1001.5" y2="1399.5"/><line x1="1136" x2="1136" y1="1001.5" y2="1399.5"/><line x1="1200.8" x2="1200.8" y1="1001.5" y2="1399.5"/><line x1="1265.6" x2="1265.6" y1="1001.5" y2="1399.5"/></g><rect x="787.6" y="1308" width="48.6" height="37.5" fill="#fbfdf0"/><rect x="852.4" y="1279.2" width="48.6" height="38.7" fill="#e2f5f2"/><rect x="917.2" y="1269.3" width="48.6" height="42" fill="#e5e5f8"/><rect x="982.1" y="1198.7" width="48.6" height="32.6" fill="#f8e5f0"/><rect x="1046.9" y="1189.4" width="48.6" height="32" fill="#eeecf6"/><rect x="1111.7" y="1157.8" width="48.6" height="66.3" fill="#fdf4f4"/><rect x="1176.5" y="1157.8" width="48.6" height="36.5" fill="#f3f7f3"/><rect x="1241.3" y="1165.1" width="48.6" height="20.3" fill="#fbf4f5"/><g class="p" fill="#c4ec48"><circle cx="808.9" cy="1358.4"/><circle cx="808.9" cy="1345"/><circle cx="804.4" cy="1339.8"/><circle cx="811.8" cy="1321.2"/><circle cx="802.9" cy="1256.3"/><circle cx="812.9" cy="1335"/><circle cx="815.8" cy="1318.7"/><circle cx="819.9" cy="1320.8"/><circle cx="805.1" cy="1310.6"/><circle cx="806.9" cy="1313.3"/><circle cx="806.5" cy="1384.5"/><circle cx="805.9" cy="1337.8"/><circle cx="809.9" cy="1361.6"/><circle cx="812.7" cy="1321.7"/><circle cx="813.7" cy="1327.2"/><circle cx="819.1" cy="1312.6"/><circle cx="803.1" cy="1288.9"/><circle cx="819.6" cy="1328.7"/><circle cx="817.2" cy="1346.7"/><circle cx="819.9" cy="1370.5"/><circle cx="807.6" cy="1327.5"/><circle cx="816.7" cy="1280.5"/><circle cx="820.1" cy="1328.2"/><circle cx="817.6" cy="1320.9"/><circle cx="813.6" cy="1336.9"/><circle cx="816.2" cy="1278.1"/><circle cx="816.3" cy="1290.2"/><circle cx="819.6" cy="1316.2"/><circle cx="804.5" cy="1275.6"/><circle cx="807.7" cy="1325.4"/><circle cx="806.3" cy="1296.8"/><circle cx="808.3" cy="1319.9"/><circle cx="803.2" cy="1335.5"/><circle cx="809.3" cy="1353.3"/><circle cx="817" cy="1298"/><circle cx="811.3" cy="1348.5"/><circle cx="805.7" cy="1281.7"/><circle cx="809.9" cy="1382.2"/><circle cx="804.3" cy="1309.4"/><circle cx="813.1" cy="1314.8"/><circle cx="806" cy="1307.9"/><circle cx="816.7" cy="1332.5"/><circle cx="815.5" cy="1271.6"/><circle cx="805.2" cy="1350"/><circle cx="815.6" cy="1312.6"/><circle cx="816.2" cy="1273.3"/><circle cx="807.8" cy="1268.9"/><circle cx="808.1" cy="1232.9"/><circle cx="816.9" cy="1357.4"/><circle cx="810.4" cy="1317.5"/><circle cx="807.8" cy="1342.2"/><circle cx="819.9" cy="1344.7"/><circle cx="811.4" cy="1334.5"/><circle cx="804.4" cy="1270.7"/><circle cx="818.8" cy="1303.5"/><circle cx="815.8" cy="1267.6"/><circle cx="804.9" cy="1300"/><circle cx="819" cy="1356.3"/><circle cx="812.9" cy="1285"/><circle cx="806.6" cy="1296.2"/><circle cx="819.9" cy="1372.1"/><circle cx="811.4" cy="1341.8"/><circle cx="820.8" cy="1287.5"/><circle cx="804.9" cy="1287.9"/><circle cx="814" cy="1308.6"/><circle cx="806.1" cy="1263.4"/><circle cx="811.6" cy="1320.5"/><circle cx="809.1" cy="1346.1"/><circle cx="817.9" cy="1255.1"/><circle cx="807" cy="1310.8"/><circle cx="805.8" cy="1329.1"/><circle cx="813.2" cy="1364.9"/><circle cx="817.9" cy="1372.8"/><circle cx="818.7" cy="1333.5"/><circle cx="804.1" cy="1344.1"/><circle cx="808" cy="1318.1"/><circle cx="810.9" cy="1316.7"/><circle cx="806.1" cy="1269.8"/><circle cx="806.2" cy="1380.9"/><circle cx="811.2" cy="1352.6"/><circle cx="811.7" cy="1330.1"/><circle cx="814.3" cy="1325.8"/><circle cx="810.4" cy="1329.7"/><circle cx="810.5" cy="1323.9"/><circle cx="816.4" cy="1377.2"/><circle cx="820.7" cy="1337.6"/><circle cx="819.2" cy="1338.5"/><circle cx="812.6" cy="1304.4"/><circle cx="815.5" cy="1340.9"/><circle cx="805.8" cy="1265.4"/><circle cx="805.2" cy="1351.4"/><circle cx="820.7" cy="1365.5"/><circle cx="809.9" cy="1325.3"/><circle cx="803.2" cy="1313.8"/><circle cx="804.3" cy="1294.5"/><circle cx="809.7" cy="1313.2"/><circle cx="807.4" cy="1314.6"/><circle cx="813.4" cy="1355.8"/><circle cx="809.2" cy="1360.9"/><circle cx="811.3" cy="1314.5"/><circle cx="805" cy="1310.2"/><circle cx="810.7" cy="1272.6"/><circle cx="811" cy="1330.8"/><circle cx="804.4" cy="1318.4"/><circle cx="809.9" cy="1334.2"/><circle cx="815.6" cy="1309.6"/><circle cx="813.3" cy="1284.9"/><circle cx="812.8" cy="1311.4"/><circle cx="814.4" cy="1291.6"/><circle cx="805.6" cy="1333.8"/><circle cx="803.9" cy="1343.2"/><circle cx="803.1" cy="1363.1"/><circle cx="819.6" cy="1257.9"/><circle cx="817.3" cy="1294.7"/><circle cx="803.5" cy="1355.2"/><circle cx="820.3" cy="1185.4"/><circle cx="813.8" cy="1290.8"/><circle cx="810.7" cy="1376.4"/><circle cx="817.4" cy="1302.1"/><circle cx="815.7" cy="1324.8"/><circle cx="819.1" cy="1333"/><circle cx="816.9" cy="1360.2"/><circle cx="820.3" cy="1348.7"/><circle cx="816.2" cy="1297.4"/><circle cx="816.1" cy="1315.5"/><circle cx="811.8" cy="1259"/><circle cx="816" cy="1309"/><circle cx="803.6" cy="1350.8"/><circle cx="811.8" cy="1366.7"/><circle cx="817.6" cy="1324.3"/><circle cx="806.8" cy="1315.2"/><circle cx="808.1" cy="1209.3"/><circle cx="815.2" cy="1284"/><circle cx="805.8" cy="1339.6"/><circle cx="805.5" cy="1383.4"/><circle cx="807.8" cy="1378.6"/><circle cx="819.3" cy="1328.4"/><circle cx="809.4" cy="1307.4"/><circle cx="815.1" cy="1332.1"/><circle cx="805.5" cy="1282.8"/><circle cx="806.8" cy="1299.6"/><circle cx="814.7" cy="1338.8"/><circle cx="805.4" cy="1329.5"/><circle cx="809.7" cy="1330.4"/><circle cx="809.2" cy="1292.1"/><circle cx="820.1" cy="1319.5"/><circle cx="810.3" cy="1323.4"/><circle cx="819.6" cy="1322.2"/><circle cx="808" cy="1380"/><circle cx="820.5" cy="1362.5"/><circle cx="816.1" cy="1322.5"/><circle cx="813.4" cy="1293.2"/><circle cx="803.6" cy="1273.8"/><circle cx="817.4" cy="1371.5"/><circle cx="816.3" cy="1277.4"/><circle cx="807.2" cy="1286.6"/><circle cx="820.7" cy="1251.5"/><circle cx="815" cy="1279"/><circle cx="815.4" cy="1276.4"/><circle cx="803.1" cy="1358.8"/><circle cx="812.7" cy="1341.4"/><circle cx="812" cy="1331.1"/><circle cx="816.5" cy="1326.7"/><circle cx="810" cy="1313.9"/><circle cx="807.8" cy="1369.1"/><circle cx="803.3" cy="1353.6"/><circle cx="810.9" cy="1326"/><circle cx="804" cy="1309.9"/><circle cx="818.8" cy="1367.6"/><circle cx="818.5" cy="1354.6"/><circle cx="808.8" cy="1326.4"/><circle cx="816" cy="1357"/><circle cx="819.3" cy="1323.7"/><circle cx="820.4" cy="1317.8"/><circle cx="817.5" cy="1300.8"/><circle cx="804.9" cy="1340.2"/><circle cx="811.6" cy="1343.8"/><circle cx="810.2" cy="1344.5"/><circle cx="817.5" cy="1370.7"/><circle cx="820.1" cy="1324.4"/><circle cx="813.8" cy="1368.3"/><circle cx="809.3" cy="1364.6"/><circle cx="811.9" cy="1335"/><circle cx="820.4" cy="1343.5"/><circle cx="820.6" cy="1369.9"/><circle cx="807.6" cy="1342.4"/><circle cx="805.3" cy="1323"/><circle cx="810.5" cy="1320.1"/><circle cx="812.1" cy="1364"/><circle cx="811.1" cy="1362.9"/><circle cx="810.2" cy="1317.1"/><circle cx="813.5" cy="1339.1"/><circle cx="819.3" cy="1336.6"/><circle cx="804.5" cy="1336.3"/><circle cx="812.6" cy="1306.4"/><circle cx="812.7" cy="1347.8"/><circle cx="805" cy="1302.9"/><circle cx="816.2" cy="1253.8"/><circle cx="804.6" cy="1367.8"/><circle cx="811" cy="1345.7"/><circle cx="807.5" cy="1349.5"/><circle cx="810.4" cy="1311.3"/><circle cx="817.7" cy="1308.4"/><circle cx="819.4" cy="1274.9"/><circle cx="807" cy="1315.9"/><circle cx="816.9" cy="1331.5"/><circle cx="820.1" cy="1312.3"/><circle cx="814.8" cy="1354.2"/><circle cx="805.8" cy="1327.7"/><circle cx="805.3" cy="1340.5"/><circle cx="813" cy="1319.2"/><circle cx="813.4" cy="1280.9"/><circle cx="810.3" cy="1366.3"/><circle cx="810.9" cy="1374.9"/><circle cx="805.9" cy="1317.3"/><circle cx="808.9" cy="1351.9"/><circle cx="812.9" cy="1338.3"/><circle cx="807.8" cy="1373.9"/><circle cx="810.3" cy="1311.7"/><circle cx="806.5" cy="1342.8"/><circle cx="809.2" cy="1337.1"/><circle cx="815.1" cy="1347.2"/><circle cx="811.1" cy="1341.1"/><circle cx="813.6" cy="1335.7"/><circle cx="813.5" cy="1332.7"/><circle cx="813.3" cy="1360"/><circle cx="810.1" cy="1260.2"/><circle cx="818.3" cy="1305.1"/><circle cx="805.7" cy="1266.5"/><circle cx="809.2" cy="1359.2"/><circle cx="808" cy="1262.3"/><circle cx="808.5" cy="1321.9"/><circle cx="815.2" cy="1331.8"/></g><g class="p" fill="#62bcaa"><circle cx="868.8" cy="1332.2"/><circle cx="875.4" cy="1311.3"/><circle cx="885.4" cy="1255.6"/><circle cx="876.5" cy="1380.8"/><circle cx="875.4" cy="1291.4"/><circle cx="875.4" cy="1234"/><circle cx="876.5" cy="1266.7"/><circle cx="873.2" cy="1304.6"/><circle cx="884.3" cy="1324.5"/></g><g class="p" fill="#7474d0"><circle cx="933.9" cy="1248.3"/><circle cx="947.2" cy="1263.8"/><circle cx="932.8" cy="1308"/><circle cx="942.8" cy="1277"/><circle cx="945" cy="1314.6"/><circle cx="947.2" cy="1365.3"/></g><g class="p" fill="#b02070"><circle cx="999.6" cy="1227.6"/><circle cx="1014" cy="1277.7"/><circle cx="1006.8" cy="1168.8"/><circle cx="1007.7" cy="1233.9"/><circle cx="1010.2" cy="1208.9"/><circle cx="1010.5" cy="1190.1"/><circle cx="1012.9" cy="1232.9"/><circle cx="1009.1" cy="1238.3"/><circle cx="1013.9" cy="1206.1"/><circle cx="998.3" cy="1213.4"/><circle cx="1015.3" cy="1229.8"/><circle cx="1004.4" cy="1201.7"/><circle cx="1015.3" cy="1171.1"/><circle cx="1004.9" cy="1205.4"/><circle cx="1002.1" cy="1230.5"/><circle cx="999" cy="1215.6"/><circle cx="1008.9" cy="1176.8"/><circle cx="1011" cy="1204.4"/><circle cx="1006.9" cy="1256.1"/><circle cx="1012.3" cy="1198.3"/><circle cx="1000.1" cy="1176"/><circle cx="1000.5" cy="1203.9"/><circle cx="1005.6" cy="1230.2"/><circle cx="1001.4" cy="1211.6"/><circle cx="1004.2" cy="1264.3"/><circle cx="1013.7" cy="1229.3"/><circle cx="1007.4" cy="1208.3"/><circle cx="1001.8" cy="1217.4"/><circle cx="1013.6" cy="1190.8"/><circle cx="997.4" cy="1200.4"/><circle cx="1012.4" cy="1209.7"/><circle cx="1009.7" cy="1251"/><circle cx="1002.2" cy="1162.8"/><circle cx="1014.3" cy="1199.6"/><circle cx="1000.6" cy="1177.7"/><circle cx="1009.3" cy="1224"/><circle cx="998.7" cy="1226.7"/><circle cx="1004.1" cy="1165.4"/><circle cx="997.8" cy="1175.9"/><circle cx="997.9" cy="1282.6"/><circle cx="1012.1" cy="1209.2"/><circle cx="1010.3" cy="1260"/><circle cx="1006.8" cy="1203"/><circle cx="1008.8" cy="1235.3"/><circle cx="1000.4" cy="1218.5"/><circle cx="1003" cy="1170.6"/><circle cx="998.6" cy="1216.6"/><circle cx="1014.1" cy="1283.8"/><circle cx="998.2" cy="1224.3"/><circle cx="999" cy="1223.6"/><circle cx="1013.2" cy="1206.4"/><circle cx="1011.1" cy="1183.1"/><circle cx="1000.3" cy="1203.6"/><circle cx="998.4" cy="1208.5"/><circle cx="1013.7" cy="1258.7"/><circle cx="1001.4" cy="1223.5"/><circle cx="1005.1" cy="1220.1"/><circle cx="1003.5" cy="1186.4"/><circle cx="1001.5" cy="1207.3"/><circle cx="1005.9" cy="1227.4"/><circle cx="1011.4" cy="1164.2"/><circle cx="1004.6" cy="1212.9"/><circle cx="1004.3" cy="1225"/><circle cx="999.2" cy="1210.3"/><circle cx="1014.2" cy="1217.1"/><circle cx="1015.2" cy="1216.2"/><circle cx="999.8" cy="1254.5"/><circle cx="1003.5" cy="1241.3"/><circle cx="1013.2" cy="1161.6"/><circle cx="1010.1" cy="1204.3"/><circle cx="1013.9" cy="1205.7"/><circle cx="999.5" cy="1270.9"/><circle cx="1006.4" cy="1156.5"/><circle cx="1007.5" cy="1228.3"/><circle cx="1012.8" cy="1276.3"/><circle cx="1004.8" cy="1198.9"/><circle cx="1013.8" cy="1174.2"/><circle cx="1003.4" cy="1261.9"/><circle cx="1003" cy="1194.2"/><circle cx="1009.3" cy="1225.5"/><circle cx="1006" cy="1242.2"/><circle cx="1012.8" cy="1243.9"/><circle cx="1007.9" cy="1228"/><circle cx="998.3" cy="1230.9"/><circle cx="1014.5" cy="1232"/><circle cx="1006.2" cy="1197.8"/><circle cx="1008.6" cy="1221.4"/><circle cx="1002" cy="1220.5"/><circle cx="1003.1" cy="1209.4"/><circle cx="999.9" cy="1193.4"/><circle cx="1007.3" cy="1233.5"/><circle cx="1001.6" cy="1182.2"/><circle cx="1014.5" cy="1294.7"/><circle cx="1009.8" cy="1221.8"/><circle cx="1012.4" cy="1179"/><circle cx="999.1" cy="1251.7"/><circle cx="1003.9" cy="1246.3"/><circle cx="1002.9" cy="1166.9"/><circle cx="1012.5" cy="1158.5"/><circle cx="1011.2" cy="1184.3"/><circle cx="1004.3" cy="1160.5"/><circle cx="1006.5" cy="1249.5"/><circle cx="1000" cy="1253"/><circle cx="1005.6" cy="1200"/><circle cx="1006.3" cy="1221.2"/><circle cx="1010" cy="1213.6"/><circle cx="1011.7" cy="1212.8"/><circle cx="1006" cy="1228.8"/><circle cx="1008" cy="1254"/><circle cx="1014.9" cy="1174.5"/><circle cx="1004.8" cy="1263.3"/><circle cx="1000.4" cy="1228.6"/><circle cx="1004" cy="1155.3"/><circle cx="1000.4" cy="1199.2"/><circle cx="1000.5" cy="1225.9"/><circle cx="1001.3" cy="1206.9"/><circle cx="1009.9" cy="1239.3"/><circle cx="1014.4" cy="1218"/><circle cx="1004.2" cy="1226.1"/><circle cx="1002.4" cy="1188.3"/><circle cx="1012.3" cy="1218.1"/><circle cx="1004.5" cy="1257.7"/><circle cx="998.7" cy="1192"/><circle cx="1009.7" cy="1166.4"/><circle cx="1004.9" cy="1247"/><circle cx="1003.4" cy="1194.6"/><circle cx="1000" cy="1244.9"/><circle cx="1003.6" cy="1204.7"/><circle cx="1006.7" cy="1239.8"/><circle cx="1013.6" cy="1212.3"/><circle cx="1005.6" cy="1255"/><circle cx="1009.7" cy="1220.8"/><circle cx="1013.2" cy="1236.3"/><circle cx="1013.8" cy="1248.5"/><circle cx="1000.3" cy="1225.8"/><circle cx="999.2" cy="1196.6"/><circle cx="1003.4" cy="1219"/><circle cx="1003.3" cy="1219.5"/><circle cx="1015.1" cy="1222.5"/><circle cx="1000.5" cy="1215.4"/><circle cx="1005.1" cy="1262.9"/><circle cx="1002.5" cy="1236.4"/><circle cx="1007.6" cy="1171.9"/><circle cx="999.7" cy="1211.1"/><circle cx="1014.6" cy="1242.8"/><circle cx="1006" cy="1201.5"/><circle cx="1013" cy="1200.2"/><circle cx="999" cy="1261.3"/><circle cx="1008.6" cy="1214.4"/><circle cx="1011.4" cy="1216.1"/><circle cx="1004.5" cy="1224.6"/><circle cx="1006.8" cy="1163.7"/><circle cx="1014.6" cy="1173"/><circle cx="1006.5" cy="1237.7"/><circle cx="1001.7" cy="1211.3"/><circle cx="1012.6" cy="1210.1"/><circle cx="1013.6" cy="1185.3"/><circle cx="1001" cy="1219.7"/><circle cx="1014.6" cy="1202.4"/><circle cx="1013.7" cy="1167.7"/><circle cx="1003.6" cy="1215.2"/><circle cx="1009.5" cy="1219.2"/><circle cx="1013" cy="1201.1"/><circle cx="1007.5" cy="1187.3"/><circle cx="1010.9" cy="1231.1"/><circle cx="998.6" cy="1202.2"/><circle cx="999.4" cy="1248"/><circle cx="998.7" cy="1266.6"/><circle cx="1011.6" cy="1205"/><circle cx="1012.2" cy="1222.7"/><circle cx="999" cy="1281.4"/><circle cx="1000.5" cy="1181.6"/><circle cx="1012.3" cy="1159.7"/><circle cx="1010.5" cy="1195.7"/><circle cx="1013.9" cy="1268.9"/><circle cx="1014.8" cy="1180.6"/><circle cx="1014.9" cy="1214.8"/><circle cx="1002.8" cy="1207.4"/><circle cx="1013.1" cy="1214.2"/><circle cx="999.2" cy="1244.7"/><circle cx="1009.3" cy="1189"/><circle cx="1000.2" cy="1300.2"/><circle cx="999.6" cy="1200.8"/><circle cx="999.5" cy="1222.1"/><circle cx="999.9" cy="1259.3"/><circle cx="1013" cy="1272.6"/><circle cx="998.9" cy="1191.3"/><circle cx="998.6" cy="1179.4"/><circle cx="1001.4" cy="1207.9"/><circle cx="1000.9" cy="1279"/><circle cx="999" cy="1257.1"/><circle cx="1008.3" cy="1250.4"/><circle cx="1001.2" cy="1170"/><circle cx="1004.2" cy="1223"/><circle cx="1005.3" cy="1157"/><circle cx="1012.5" cy="1210.8"/><circle cx="1003.2" cy="1212"/><circle cx="1012.3" cy="1217.6"/><circle cx="1010.2" cy="1229.7"/><circle cx="1002.2" cy="1202.9"/><circle cx="1010.9" cy="1227"/><circle cx="1013.2" cy="1184.5"/><circle cx="1006" cy="1273.8"/></g><g class="p" fill="#5446a8"><circle cx="1079" cy="1160.9"/><circle cx="1069.2" cy="1232.5"/><circle cx="1077.4" cy="1219.7"/><circle cx="1064.3" cy="1194.5"/><circle cx="1072.3" cy="1224.4"/><circle cx="1070.5" cy="1181.6"/><circle cx="1070.7" cy="1218.6"/><circle cx="1074.3" cy="1203.5"/><circle cx="1065.5" cy="1254.7"/><circle cx="1067.1" cy="1198.7"/><circle cx="1079.5" cy="1205.3"/><circle cx="1063.2" cy="1190.3"/><circle cx="1071.9" cy="1208.9"/><circle cx="1073.4" cy="1165.1"/><circle cx="1079.8" cy="1213.3"/><circle cx="1068.3" cy="1196"/><circle cx="1068.5" cy="1240.4"/><circle cx="1068.6" cy="1166.8"/><circle cx="1063" cy="1211.8"/><circle cx="1063.1" cy="1238.7"/><circle cx="1075.1" cy="1214.5"/><circle cx="1072.8" cy="1202.3"/><circle cx="1073.9" cy="1191.2"/><circle cx="1067.6" cy="1209.7"/><circle cx="1065.4" cy="1248.4"/><circle cx="1071.2" cy="1156.9"/><circle cx="1078.7" cy="1152.7"/><circle cx="1064.5" cy="1193.5"/><circle cx="1073.9" cy="1234.2"/><circle cx="1068.3" cy="1210.3"/><circle cx="1068.3" cy="1236.4"/><circle cx="1075.7" cy="1222.3"/><circle cx="1071.2" cy="1207.5"/><circle cx="1079.5" cy="1215.3"/><circle cx="1071.5" cy="1172.1"/><circle cx="1071.5" cy="1175.1"/><circle cx="1067.4" cy="1186.8"/><circle cx="1066.7" cy="1196.9"/><circle cx="1069" cy="1253.7"/><circle cx="1076.2" cy="1192.1"/><circle cx="1070.5" cy="1189.4"/><circle cx="1071.1" cy="1204.5"/><circle cx="1065.5" cy="1249.1"/><circle cx="1065.7" cy="1170.6"/><circle cx="1062.2" cy="1199.4"/><circle cx="1079.8" cy="1213.5"/><circle cx="1078" cy="1221.2"/><circle cx="1070.3" cy="1197.3"/><circle cx="1064.2" cy="1185.4"/><circle cx="1072.3" cy="1230.1"/><circle cx="1071.3" cy="1211.1"/><circle cx="1065.5" cy="1200.7"/><circle cx="1064" cy="1177.7"/><circle cx="1072.6" cy="1220.2"/><circle cx="1064.3" cy="1203.1"/><circle cx="1068.1" cy="1220.9"/><circle cx="1078.1" cy="1188.1"/><circle cx="1072" cy="1200.4"/><circle cx="1068" cy="1163.6"/><circle cx="1075.9" cy="1208.2"/><circle cx="1070.1" cy="1218.3"/><circle cx="1078.9" cy="1231"/><circle cx="1077.6" cy="1227.5"/><circle cx="1072.7" cy="1212.3"/><circle cx="1071.6" cy="1225.9"/><circle cx="1075.3" cy="1206.2"/><circle cx="1078.9" cy="1226.3"/><circle cx="1068.6" cy="1161.9"/><circle cx="1074.7" cy="1242.2"/><circle cx="1078.1" cy="1150"/><circle cx="1065.4" cy="1154.1"/><circle cx="1078.3" cy="1243.5"/><circle cx="1065.5" cy="1194.3"/><circle cx="1074.9" cy="1169.1"/><circle cx="1072.2" cy="1210.6"/><circle cx="1066" cy="1237.7"/><circle cx="1069.9" cy="1182.1"/><circle cx="1073.9" cy="1244.4"/><circle cx="1063.1" cy="1216.6"/><circle cx="1065.9" cy="1235"/><circle cx="1070.1" cy="1179.1"/><circle cx="1071.9" cy="1217.4"/><circle cx="1067.4" cy="1176.8"/><circle cx="1072.6" cy="1216.2"/><circle cx="1068.3" cy="1215.4"/></g><g class="p" fill="#d44a46"><circle cx="1127.7" cy="1256.5"/><circle cx="1131.6" cy="1202.3"/><circle cx="1133.8" cy="1101.5"/><circle cx="1134.6" cy="1180.3"/><circle cx="1129.6" cy="1177.7"/><circle cx="1145" cy="1110.7"/><circle cx="1128.9" cy="1244.5"/><circle cx="1135.1" cy="1223.8"/><circle cx="1144.6" cy="1139.9"/><circle cx="1134" cy="1223.8"/><circle cx="1135.9" cy="1099.9"/><circle cx="1129.4" cy="1084.6"/><circle cx="1137.4" cy="1251.2"/><circle cx="1139.9" cy="1172.2"/><circle cx="1132.3" cy="1101.8"/><circle cx="1134.7" cy="1194.8"/><circle cx="1144.7" cy="1211.4"/><circle cx="1136.8" cy="1105.3"/><circle cx="1129.5" cy="1174.8"/><circle cx="1138.1" cy="1213.9"/><circle cx="1127.8" cy="1157.2"/><circle cx="1134" cy="1201.6"/><circle cx="1133.2" cy="1218.6"/><circle cx="1144.3" cy="1275.3"/><circle cx="1132.9" cy="1104.3"/><circle cx="1131.9" cy="1201.4"/><circle cx="1133.7" cy="1096.7"/><circle cx="1144.3" cy="1234.6"/><circle cx="1130.9" cy="1191.7"/><circle cx="1141.2" cy="1093.2"/><circle cx="1140.5" cy="1195.9"/><circle cx="1136.1" cy="1203.3"/><circle cx="1136.9" cy="1086.3"/><circle cx="1127.1" cy="1239.7"/><circle cx="1139.7" cy="1189.1"/><circle cx="1143.8" cy="1234.3"/><circle cx="1133.3" cy="1162.3"/><circle cx="1137.8" cy="1173.3"/><circle cx="1131.7" cy="1216.7"/><circle cx="1135.7" cy="1127"/><circle cx="1134" cy="1106.7"/><circle cx="1134.8" cy="1179.7"/><circle cx="1128.6" cy="1296.8"/><circle cx="1144.1" cy="1175.6"/><circle cx="1130" cy="1251.6"/><circle cx="1142.1" cy="1094.2"/><circle cx="1136.6" cy="1122.2"/><circle cx="1130.8" cy="1163.3"/><circle cx="1142.6" cy="1156.8"/><circle cx="1131.2" cy="1211"/><circle cx="1140.4" cy="1225"/><circle cx="1131.9" cy="1237.5"/><circle cx="1141.3" cy="1211.9"/><circle cx="1138.2" cy="1169.5"/><circle cx="1142.5" cy="1181.3"/><circle cx="1142.8" cy="1232.1"/><circle cx="1143.1" cy="1192.2"/><circle cx="1128.4" cy="1189.6"/><circle cx="1136.1" cy="1198.2"/><circle cx="1131.9" cy="1174.2"/><circle cx="1132.2" cy="1218.9"/><circle cx="1132.8" cy="1181.8"/><circle cx="1141.6" cy="1116.6"/><circle cx="1140.7" cy="1180.6"/><circle cx="1135.7" cy="1176.9"/><circle cx="1129.3" cy="1161.8"/><circle cx="1141" cy="1200.3"/><circle cx="1131.4" cy="1302.8"/><circle cx="1127.5" cy="1077.8"/><circle cx="1136.5" cy="1204.8"/><circle cx="1129.1" cy="1229.1"/><circle cx="1135.2" cy="1189.7"/><circle cx="1138.8" cy="1078.9"/><circle cx="1131.5" cy="1186.8"/><circle cx="1129.2" cy="1253.8"/><circle cx="1128.8" cy="1242.8"/><circle cx="1132.6" cy="1178"/><circle cx="1131.7" cy="1124.4"/><circle cx="1133.4" cy="1107.6"/><circle cx="1140.2" cy="1259.8"/><circle cx="1127.4" cy="1110.2"/><circle cx="1141.1" cy="1276.8"/><circle cx="1136.3" cy="1199.8"/><circle cx="1129.8" cy="1187.2"/><circle cx="1134.1" cy="1208.4"/><circle cx="1136.5" cy="1218.2"/><circle cx="1131.2" cy="1162.6"/><circle cx="1140.4" cy="1078.5"/><circle cx="1138.5" cy="1256.4"/><circle cx="1133" cy="1215.5"/><circle cx="1131" cy="1119.1"/><circle cx="1142.3" cy="1184.4"/><circle cx="1142.3" cy="1209.8"/><circle cx="1131.8" cy="1176.4"/><circle cx="1139" cy="1210.2"/><circle cx="1137.5" cy="1156"/><circle cx="1139.1" cy="1149.5"/><circle cx="1130.2" cy="1233.3"/><circle cx="1130.3" cy="1183"/><circle cx="1144.2" cy="1235.8"/><circle cx="1128.1" cy="1200.9"/><circle cx="1143" cy="1139"/><circle cx="1132.2" cy="1083.1"/><circle cx="1133" cy="1176.5"/><circle cx="1139.6" cy="1202.7"/><circle cx="1139.1" cy="1158.7"/><circle cx="1137.2" cy="1208.3"/><circle cx="1132.5" cy="1114.3"/><circle cx="1142.5" cy="1216.8"/><circle cx="1141.3" cy="1215.9"/><circle cx="1141.4" cy="1274.2"/><circle cx="1127.1" cy="1204.6"/><circle cx="1127.9" cy="1121.4"/><circle cx="1137.5" cy="1277.5"/><circle cx="1144" cy="1176.2"/><circle cx="1135.5" cy="1226.8"/><circle cx="1143.4" cy="1065.6"/><circle cx="1133.4" cy="1128.9"/><circle cx="1141.2" cy="1111.6"/><circle cx="1127.1" cy="1240"/><circle cx="1133.3" cy="1235.2"/><circle cx="1142" cy="1178.4"/><circle cx="1130.8" cy="1253"/><circle cx="1138.9" cy="1243.2"/><circle cx="1127.6" cy="1101"/><circle cx="1143.1" cy="1259.5"/><circle cx="1142.2" cy="1219.5"/><circle cx="1130.9" cy="1138"/><circle cx="1127.1" cy="1168.4"/><circle cx="1127.4" cy="1086.7"/><circle cx="1128.6" cy="1101.9"/><circle cx="1128.6" cy="1228.8"/><circle cx="1128.9" cy="1205.2"/><circle cx="1142.6" cy="1125.4"/><circle cx="1139.6" cy="1204.7"/><circle cx="1140.2" cy="1181.1"/><circle cx="1135.3" cy="1184.8"/><circle cx="1132" cy="1278"/><circle cx="1134.5" cy="1120.2"/><circle cx="1137.1" cy="1195.6"/><circle cx="1135.3" cy="1078"/><circle cx="1134.6" cy="1213.1"/><circle cx="1140.3" cy="1103.7"/><circle cx="1132.1" cy="1214"/><circle cx="1141.7" cy="1215.6"/><circle cx="1130.2" cy="1229.5"/><circle cx="1131.9" cy="1201.9"/><circle cx="1140.2" cy="1181.5"/><circle cx="1133.2" cy="1206"/><circle cx="1127.8" cy="1194.4"/><circle cx="1139.8" cy="1132.4"/><circle cx="1130.7" cy="1230.2"/><circle cx="1141.6" cy="1244.3"/><circle cx="1127.5" cy="1244.7"/><circle cx="1131.8" cy="1210.6"/><circle cx="1141.2" cy="1195.9"/><circle cx="1144.1" cy="1195.5"/><circle cx="1131.7" cy="1079.3"/><circle cx="1134.1" cy="1183.2"/><circle cx="1128.5" cy="1177"/><circle cx="1141.2" cy="1169.7"/><circle cx="1132.1" cy="1172.8"/><circle cx="1134.6" cy="1260.5"/><circle cx="1128.2" cy="1109.1"/><circle cx="1142.4" cy="1237.4"/><circle cx="1140.6" cy="1217"/><circle cx="1144" cy="1185.9"/><circle cx="1130.3" cy="1148.1"/><circle cx="1137" cy="1223.3"/><circle cx="1144.2" cy="1179.8"/><circle cx="1144.5" cy="1209.9"/><circle cx="1128.5" cy="1164.5"/><circle cx="1130.5" cy="1194.5"/><circle cx="1137.8" cy="1122.4"/><circle cx="1135.8" cy="1248.6"/><circle cx="1140.4" cy="1131.6"/><circle cx="1144.4" cy="1187.6"/><circle cx="1141.8" cy="1121"/><circle cx="1140.7" cy="1195.2"/><circle cx="1141.2" cy="1206.6"/><circle cx="1128.7" cy="1196.2"/><circle cx="1129.8" cy="1115.7"/><circle cx="1140.5" cy="1200"/><circle cx="1137.1" cy="1213.7"/><circle cx="1136.1" cy="1116.7"/><circle cx="1135.9" cy="1254.4"/><circle cx="1142.3" cy="1184.6"/><circle cx="1136.6" cy="1158.8"/><circle cx="1134.3" cy="1136.6"/><circle cx="1133" cy="1105.2"/><circle cx="1133.4" cy="1197.8"/><circle cx="1132.1" cy="1259.2"/><circle cx="1128.2" cy="1161.1"/><circle cx="1132.3" cy="1208.2"/><circle cx="1140.4" cy="1083.9"/><circle cx="1143.7" cy="1075.9"/><circle cx="1140.2" cy="1082.7"/><circle cx="1138.2" cy="1180.1"/><circle cx="1144.1" cy="1135.9"/><circle cx="1137.5" cy="1191.2"/><circle cx="1137.3" cy="1272.7"/><circle cx="1144" cy="1239"/><circle cx="1140.7" cy="1163.1"/><circle cx="1127.9" cy="1171.7"/><circle cx="1136" cy="1255.4"/><circle cx="1139.2" cy="1267.4"/><circle cx="1134" cy="1174.9"/><circle cx="1139.5" cy="1067.4"/><circle cx="1138.1" cy="1193.5"/><circle cx="1143" cy="1210.1"/><circle cx="1144" cy="1159.2"/><circle cx="1129.2" cy="1275.5"/><circle cx="1136.8" cy="1081.1"/><circle cx="1136.1" cy="1194.2"/><circle cx="1129.6" cy="1268.3"/><circle cx="1138.7" cy="1220.9"/><circle cx="1135.6" cy="1238.5"/><circle cx="1130.8" cy="1240.6"/><circle cx="1137.4" cy="1225.9"/><circle cx="1141.5" cy="1091.6"/><circle cx="1133.6" cy="1218.5"/><circle cx="1135.9" cy="1272.2"/><circle cx="1131.4" cy="1232.9"/><circle cx="1135.3" cy="1241.3"/><circle cx="1127.5" cy="1128.1"/><circle cx="1132.7" cy="1207"/><circle cx="1144" cy="1207.6"/><circle cx="1142.9" cy="1179.9"/><circle cx="1132" cy="1169.2"/><circle cx="1128.9" cy="1231.5"/><circle cx="1131.8" cy="1220.1"/><circle cx="1130.2" cy="1133.8"/><circle cx="1143.3" cy="1194.8"/><circle cx="1128.8" cy="1263.2"/><circle cx="1135.5" cy="1092.7"/><circle cx="1134" cy="1066.3"/><circle cx="1144.2" cy="1109.6"/><circle cx="1135.5" cy="1196.5"/><circle cx="1144.8" cy="1182"/><circle cx="1138.3" cy="1154.1"/><circle cx="1143.6" cy="1216.3"/><circle cx="1140.1" cy="1188.6"/><circle cx="1140.4" cy="1229.8"/><circle cx="1137.6" cy="1130.2"/><circle cx="1133.3" cy="1089.6"/><circle cx="1135.9" cy="1086.9"/><circle cx="1131.4" cy="1208.5"/><circle cx="1143.9" cy="1268.6"/><circle cx="1137.1" cy="1160.6"/><circle cx="1135.2" cy="1217.8"/><circle cx="1142.5" cy="1223.2"/><circle cx="1144.7" cy="1198.2"/><circle cx="1143.6" cy="1079.8"/><circle cx="1134.4" cy="1146.8"/><circle cx="1135.3" cy="1161.7"/><circle cx="1136.9" cy="1198.7"/><circle cx="1128.9" cy="1197.9"/><circle cx="1138.6" cy="1161.1"/><circle cx="1143" cy="1151.4"/><circle cx="1136.1" cy="1165.3"/><circle cx="1139.3" cy="1149.8"/><circle cx="1140.4" cy="1221.4"/><circle cx="1127.9" cy="1222.5"/><circle cx="1130.9" cy="1174.2"/><circle cx="1139.9" cy="1075.7"/><circle cx="1143.9" cy="1222.8"/><circle cx="1128.7" cy="1140.3"/><circle cx="1134.7" cy="1249.5"/><circle cx="1139.8" cy="1223"/><circle cx="1141.6" cy="1226.1"/><circle cx="1127.4" cy="1206.3"/><circle cx="1141.9" cy="1217.3"/><circle cx="1132.5" cy="1286.6"/><circle cx="1130" cy="1141.4"/><circle cx="1133.9" cy="1275.7"/><circle cx="1131.9" cy="1267.8"/><circle cx="1143.7" cy="1208.8"/><circle cx="1136.1" cy="1205.3"/><circle cx="1142.1" cy="1277.1"/><circle cx="1134.6" cy="1196.8"/><circle cx="1136.3" cy="1179.1"/><circle cx="1139" cy="1221.1"/><circle cx="1137.5" cy="1178"/><circle cx="1136.3" cy="1249.2"/><circle cx="1136.5" cy="1256.7"/><circle cx="1140.1" cy="1247.1"/><circle cx="1131.1" cy="1120.8"/><circle cx="1135.3" cy="1195.7"/><circle cx="1133.5" cy="1202.1"/><circle cx="1130.8" cy="1166"/><circle cx="1136.7" cy="1192.8"/><circle cx="1130.8" cy="1069.3"/><circle cx="1135.2" cy="1201"/><circle cx="1140.4" cy="1118.9"/><circle cx="1144" cy="1266.4"/><circle cx="1144.4" cy="1186.5"/><circle cx="1132.9" cy="1183.9"/><circle cx="1132" cy="1085.2"/><circle cx="1142.3" cy="1088.4"/><circle cx="1133.2" cy="1201.5"/><circle cx="1131.3" cy="1171.9"/><circle cx="1133.2" cy="1209.7"/><circle cx="1129.8" cy="1154.8"/><circle cx="1139.7" cy="1202.6"/><circle cx="1134" cy="1221.3"/><circle cx="1141.9" cy="1266"/><circle cx="1139.6" cy="1157.8"/><circle cx="1143.9" cy="1212.7"/><circle cx="1137.8" cy="1179.2"/><circle cx="1127.7" cy="1202.6"/><circle cx="1144.6" cy="1203.3"/><circle cx="1132.9" cy="1114.5"/><circle cx="1130.5" cy="1198.9"/><circle cx="1132.2" cy="1255.6"/><circle cx="1129.3" cy="1173.7"/><circle cx="1135.9" cy="1159.6"/><circle cx="1133.9" cy="1195"/><circle cx="1137.3" cy="1182.3"/><circle cx="1135.8" cy="1147.5"/><circle cx="1136.7" cy="1203"/><circle cx="1138.7" cy="1191.5"/><circle cx="1140.4" cy="1217.1"/><circle cx="1143" cy="1214.8"/><circle cx="1140.4" cy="1050.8"/><circle cx="1127.9" cy="1276.1"/><circle cx="1133.5" cy="1132.1"/><circle cx="1133.3" cy="1205.7"/><circle cx="1140.9" cy="1191.5"/><circle cx="1136.4" cy="1081.8"/><circle cx="1132.1" cy="1266.6"/><circle cx="1133.8" cy="1242"/><circle cx="1133.1" cy="1076.5"/><circle cx="1135.2" cy="1120"/><circle cx="1138.6" cy="1179.4"/><circle cx="1142.8" cy="1199.5"/><circle cx="1128" cy="1232.8"/><circle cx="1138.4" cy="1212.4"/><circle cx="1138.5" cy="1197.1"/><circle cx="1140.3" cy="1271.2"/><circle cx="1136.8" cy="1253.5"/><circle cx="1143.3" cy="1220.6"/><circle cx="1127.1" cy="1174.7"/><circle cx="1143.7" cy="1187.5"/><circle cx="1133.5" cy="1192.7"/><circle cx="1137.5" cy="1248.4"/><circle cx="1129" cy="1223.4"/><circle cx="1135.6" cy="1169.9"/><circle cx="1143.2" cy="1224"/><circle cx="1140.7" cy="1149"/><circle cx="1129" cy="1218.7"/><circle cx="1132.5" cy="1193.2"/><circle cx="1133.4" cy="1241.7"/><circle cx="1133.5" cy="1096.4"/><circle cx="1127.2" cy="1246.6"/><circle cx="1141.6" cy="1243.9"/><circle cx="1143.6" cy="1212.2"/><circle cx="1135.6" cy="1177.2"/><circle cx="1133.9" cy="1145.6"/><circle cx="1138.5" cy="1134.9"/><circle cx="1144.4" cy="1098.6"/><circle cx="1138.3" cy="1202.4"/><circle cx="1140.9" cy="1264.5"/><circle cx="1129" cy="1210.3"/><circle cx="1127.2" cy="1160.3"/><circle cx="1143.6" cy="1097.2"/><circle cx="1140.2" cy="1187.3"/><circle cx="1141.3" cy="1141"/><circle cx="1129.4" cy="1137.2"/><circle cx="1132.5" cy="1166.1"/><circle cx="1144.9" cy="1203.5"/><circle cx="1133.5" cy="1185"/><circle cx="1143.7" cy="1198.4"/><circle cx="1133.1" cy="1274.4"/><circle cx="1143.7" cy="1090.2"/><circle cx="1132.9" cy="1211"/><circle cx="1133.1" cy="1231.1"/><circle cx="1128.3" cy="1271.8"/><circle cx="1135.6" cy="1189.2"/><circle cx="1144.9" cy="1160.9"/><circle cx="1130.6" cy="1195.1"/><circle cx="1132.5" cy="1099.2"/><circle cx="1132.4" cy="1174.4"/><circle cx="1136.7" cy="1210.5"/><circle cx="1129.7" cy="1215.7"/><circle cx="1140.7" cy="1170.3"/><circle cx="1140.3" cy="1238.1"/><circle cx="1144.4" cy="1136.9"/><circle cx="1144.4" cy="1231.1"/><circle cx="1130.5" cy="1150.6"/><circle cx="1133.3" cy="1172.7"/><circle cx="1129.2" cy="1204.6"/><circle cx="1130.7" cy="1233.5"/><circle cx="1129.1" cy="1097.8"/><circle cx="1135.2" cy="1219.8"/><circle cx="1128.6" cy="1264.7"/><circle cx="1138.9" cy="1074.8"/><circle cx="1129.2" cy="1159.3"/><circle cx="1144.1" cy="1134.4"/><circle cx="1130.2" cy="1185.8"/><circle cx="1128.8" cy="1273.8"/><circle cx="1142.8" cy="1300.4"/><circle cx="1144.4" cy="1277.3"/><circle cx="1142.9" cy="1104"/><circle cx="1127.7" cy="1121.8"/><circle cx="1136.9" cy="1207.4"/><circle cx="1129.8" cy="1187"/><circle cx="1134.6" cy="1262.7"/><circle cx="1140.7" cy="1148.5"/><circle cx="1131.8" cy="1199.7"/><circle cx="1136.7" cy="1247.9"/><circle cx="1140.3" cy="1206.5"/><circle cx="1138.4" cy="1169.7"/><circle cx="1137" cy="1246.3"/><circle cx="1142.8" cy="1183.3"/><circle cx="1142.5" cy="1269.9"/><circle cx="1134.3" cy="1177.7"/><circle cx="1141.9" cy="1145.9"/><circle cx="1130.7" cy="1088.8"/><circle cx="1140.2" cy="1214.1"/><circle cx="1134.3" cy="1115.3"/><circle cx="1131.7" cy="1166.5"/><circle cx="1137.8" cy="1209.1"/><circle cx="1136.1" cy="1258.8"/><circle cx="1133.7" cy="1236.5"/><circle cx="1134.4" cy="1189.4"/><circle cx="1131.6" cy="1261.2"/><circle cx="1136.7" cy="1106.1"/><circle cx="1135.5" cy="1224.4"/><circle cx="1130.5" cy="1211.2"/><circle cx="1135.6" cy="1070.5"/><circle cx="1144.2" cy="1214.5"/><circle cx="1141" cy="1212.4"/><circle cx="1129.5" cy="1202.2"/><circle cx="1137.8" cy="1157"/><circle cx="1131.1" cy="1270.1"/><circle cx="1144" cy="1156.2"/><circle cx="1130.5" cy="1186.3"/><circle cx="1140" cy="1220.8"/><circle cx="1128" cy="1289.5"/><circle cx="1141.4" cy="1279.7"/><circle cx="1142.2" cy="1103.2"/><circle cx="1140.4" cy="1167.7"/><circle cx="1131.9" cy="1262.6"/><circle cx="1130.1" cy="1261.6"/><circle cx="1141" cy="1206.2"/><circle cx="1140.9" cy="1163.7"/><circle cx="1133.9" cy="1243.9"/><circle cx="1130.3" cy="1124.8"/><circle cx="1131.1" cy="1158.1"/><circle cx="1130.5" cy="1100.2"/><circle cx="1143.5" cy="1154.5"/><circle cx="1138.4" cy="1214.7"/><circle cx="1139.9" cy="1256"/><circle cx="1145" cy="1165.5"/><circle cx="1142.9" cy="1182"/><circle cx="1133.8" cy="1199.6"/><circle cx="1137.6" cy="1255"/><circle cx="1143.1" cy="1259.8"/><circle cx="1142.6" cy="1225.4"/><circle cx="1127.3" cy="1227.8"/><circle cx="1138.9" cy="1237.8"/><circle cx="1143" cy="1166.5"/><circle cx="1128.5" cy="1221.8"/><circle cx="1136.9" cy="1150.9"/><circle cx="1144.4" cy="1219.4"/><circle cx="1134.8" cy="1273.2"/><circle cx="1142.6" cy="1213.1"/><circle cx="1144" cy="1187.8"/><circle cx="1127.6" cy="1260.9"/><circle cx="1139.2" cy="1187.9"/><circle cx="1132.5" cy="1203.8"/><circle cx="1127.1" cy="1282.9"/><circle cx="1131" cy="1189.9"/><circle cx="1130.3" cy="1170.2"/><circle cx="1143.5" cy="1161.3"/><circle cx="1130.7" cy="1113.2"/><circle cx="1142.6" cy="1222.3"/><circle cx="1137.6" cy="1236.9"/><circle cx="1142.6" cy="1102.9"/><circle cx="1140.9" cy="1168.8"/><circle cx="1142.8" cy="1265.2"/><circle cx="1133.2" cy="1144.3"/><circle cx="1131.4" cy="1080.9"/><circle cx="1139.2" cy="1263.5"/><circle cx="1130.5" cy="1170.6"/><circle cx="1127.7" cy="1209.6"/><circle cx="1127.3" cy="1093.2"/><circle cx="1137" cy="1129.3"/><circle cx="1128.1" cy="1222.9"/><circle cx="1134.1" cy="1234.8"/><circle cx="1141.8" cy="1086"/><circle cx="1139.7" cy="1090.7"/><circle cx="1139.8" cy="1172.3"/><circle cx="1129.1" cy="1165.8"/><circle cx="1144.3" cy="1211.3"/><circle cx="1141.4" cy="1167.1"/><circle cx="1139.5" cy="1064.4"/><circle cx="1143.3" cy="1237.2"/><circle cx="1132.4" cy="1188.8"/><circle cx="1129.6" cy="1088"/><circle cx="1131.6" cy="1172.4"/><circle cx="1137" cy="1210.5"/><circle cx="1142.3" cy="1262.3"/><circle cx="1142.5" cy="1102.4"/><circle cx="1139.8" cy="1071.5"/><circle cx="1132.3" cy="1220.4"/><circle cx="1138" cy="1238.8"/><circle cx="1130.1" cy="1174.6"/><circle cx="1128.9" cy="1226.5"/><circle cx="1134.3" cy="1155.6"/><circle cx="1127.2" cy="1200.6"/><circle cx="1142.7" cy="1196.6"/><circle cx="1143.2" cy="1211.8"/><circle cx="1132.1" cy="1145.3"/><circle cx="1132.3" cy="1301.5"/><circle cx="1141" cy="1178.8"/><circle cx="1129.9" cy="1229.1"/><circle cx="1140" cy="1189.2"/><circle cx="1140.8" cy="1092"/><circle cx="1138.7" cy="1273.9"/><circle cx="1137.3" cy="1276.5"/><circle cx="1129.7" cy="1206.4"/><circle cx="1134" cy="1190.8"/><circle cx="1137.1" cy="1204.3"/><circle cx="1134" cy="1218"/><circle cx="1133.4" cy="1277.9"/><circle cx="1144.7" cy="1218"/><circle cx="1141.3" cy="1246"/><circle cx="1141.3" cy="1236.1"/><circle cx="1128.2" cy="1216.1"/><circle cx="1132.8" cy="1239.1"/><circle cx="1130" cy="1163.5"/><circle cx="1135.4" cy="1225.5"/><circle cx="1142.1" cy="1208"/><circle cx="1143" cy="1077.6"/><circle cx="1127.6" cy="1119.5"/><circle cx="1139.5" cy="1080.3"/><circle cx="1139.8" cy="1167.9"/><circle cx="1139.3" cy="1137.7"/><circle cx="1134.7" cy="1270.5"/><circle cx="1134.6" cy="1158.3"/><circle cx="1139.5" cy="1260.1"/><circle cx="1135.4" cy="1073.5"/><circle cx="1137.9" cy="1245.4"/><circle cx="1131.2" cy="1257.9"/><circle cx="1142.2" cy="1278.7"/><circle cx="1142.7" cy="1173.5"/><circle cx="1144.6" cy="1257.5"/><circle cx="1137.3" cy="1220.2"/><circle cx="1135.1" cy="1164.4"/><circle cx="1130.5" cy="1068.1"/><circle cx="1132.3" cy="1142.5"/><circle cx="1129.8" cy="1275"/><circle cx="1142.8" cy="1266.9"/><circle cx="1135.5" cy="1276.3"/><circle cx="1136.4" cy="1221.5"/><circle cx="1129.7" cy="1254.4"/><circle cx="1134.7" cy="1160.4"/><circle cx="1141.3" cy="1264.1"/><circle cx="1139.3" cy="1231.7"/><circle cx="1142.7" cy="1100.5"/><circle cx="1143.6" cy="1185.6"/><circle cx="1135.4" cy="1180.8"/><circle cx="1128.3" cy="1236.7"/><circle cx="1127.5" cy="1209.2"/><circle cx="1142.3" cy="1138.3"/><circle cx="1143.2" cy="1221.2"/><circle cx="1133.4" cy="1223.6"/><circle cx="1127.8" cy="1171.1"/><circle cx="1134.3" cy="1087.3"/><circle cx="1141.2" cy="1252.5"/><circle cx="1134.1" cy="1243.4"/><circle cx="1139.9" cy="1143.3"/><circle cx="1143.5" cy="1221.9"/><circle cx="1135.1" cy="1174"/><circle cx="1139.3" cy="1200.1"/><circle cx="1140" cy="1142.7"/><circle cx="1144.2" cy="1131"/><circle cx="1132.5" cy="1164"/><circle cx="1131.7" cy="1267.6"/><circle cx="1142.6" cy="1172.5"/><circle cx="1134.5" cy="1188.3"/><circle cx="1133.4" cy="1200.4"/><circle cx="1143.2" cy="1230.7"/><circle cx="1131.7" cy="1126.7"/><circle cx="1135.1" cy="1207.1"/><circle cx="1140.3" cy="1272.6"/><circle cx="1134.9" cy="1184.8"/><circle cx="1137" cy="1220"/><circle cx="1136.2" cy="1241"/><circle cx="1131.4" cy="1193"/><circle cx="1137.4" cy="1117.4"/><circle cx="1143.8" cy="1091.1"/><circle cx="1143.5" cy="1198"/><circle cx="1136.5" cy="1227.2"/><circle cx="1142.8" cy="1159"/><circle cx="1132.5" cy="1216.5"/><circle cx="1141" cy="1254.9"/><circle cx="1132.3" cy="1240.1"/><circle cx="1141.9" cy="1128.7"/><circle cx="1135.9" cy="1232.2"/><circle cx="1144.9" cy="1128"/><circle cx="1131.3" cy="1063.2"/><circle cx="1144.1" cy="1155"/><circle cx="1137.3" cy="1139.7"/><circle cx="1128.9" cy="1169"/><circle cx="1135.1" cy="1170.3"/><circle cx="1128.3" cy="1201.3"/><circle cx="1131.7" cy="1139.1"/><circle cx="1138.3" cy="1254"/><circle cx="1130" cy="1182.5"/><circle cx="1141.6" cy="1278.9"/><circle cx="1143" cy="1224.1"/><circle cx="1138.1" cy="1271.3"/><circle cx="1130.4" cy="1202.9"/><circle cx="1128.2" cy="1129.8"/><circle cx="1141.5" cy="1188.2"/><circle cx="1131" cy="1064"/><circle cx="1137.3" cy="1207.8"/><circle cx="1134.7" cy="1215"/><circle cx="1133.4" cy="1159.4"/><circle cx="1143.1" cy="1257.4"/><circle cx="1135.4" cy="1147.2"/><circle cx="1132.2" cy="1193.9"/><circle cx="1142" cy="1112.6"/><circle cx="1138.2" cy="1264.4"/><circle cx="1129.9" cy="1194.6"/><circle cx="1134.1" cy="1219.7"/><circle cx="1131.8" cy="1271.8"/><circle cx="1131.1" cy="1176"/><circle cx="1128.4" cy="1258.2"/><circle cx="1135.9" cy="1084.1"/><circle cx="1136.7" cy="1190.2"/><circle cx="1128.6" cy="1152"/><circle cx="1137.3" cy="1217.2"/><circle cx="1139.9" cy="1196.8"/><circle cx="1128.6" cy="1164.8"/><circle cx="1135.6" cy="1290"/><circle cx="1139.9" cy="1273.5"/><circle cx="1130.2" cy="1272.9"/><circle cx="1135" cy="1212.9"/><circle cx="1141.2" cy="1146.5"/><circle cx="1138.8" cy="1069.4"/><circle cx="1131.8" cy="1268.8"/><circle cx="1136.5" cy="1118.1"/><circle cx="1142.8" cy="1190"/><circle cx="1133.5" cy="1175.1"/><circle cx="1135.6" cy="1224.6"/><circle cx="1134.6" cy="1208"/><circle cx="1144.6" cy="1197"/><circle cx="1142.1" cy="1268.2"/><circle cx="1137.4" cy="1112.1"/><circle cx="1131.2" cy="1162"/><circle cx="1130.4" cy="1152.8"/><circle cx="1133.1" cy="1109"/><circle cx="1138.7" cy="1114.9"/><circle cx="1137.3" cy="1164.2"/><circle cx="1137.5" cy="1212.9"/><circle cx="1129" cy="1269"/><circle cx="1130.6" cy="1195.3"/><circle cx="1128.1" cy="1222.6"/><circle cx="1129" cy="1104.6"/><circle cx="1127.5" cy="1250.7"/><circle cx="1133.1" cy="1279.2"/><circle cx="1139.7" cy="1203.6"/><circle cx="1136.2" cy="1083.5"/><circle cx="1134.7" cy="1185.5"/><circle cx="1138.6" cy="1133.4"/><circle cx="1128.7" cy="1184"/><circle cx="1137.6" cy="1190.4"/><circle cx="1139.6" cy="1285.3"/><circle cx="1137.1" cy="1204.4"/><circle cx="1138.7" cy="1143.7"/><circle cx="1132" cy="1056"/><circle cx="1144.4" cy="1233.8"/><circle cx="1132.3" cy="1171.4"/><circle cx="1128.3" cy="1089.8"/><circle cx="1141.3" cy="1235.6"/><circle cx="1130.1" cy="1193.8"/><circle cx="1141.1" cy="1205"/><circle cx="1132.1" cy="1165.2"/><circle cx="1136.2" cy="1252.9"/><circle cx="1143.5" cy="1099.6"/><circle cx="1131.6" cy="1186"/><circle cx="1133" cy="1181"/><circle cx="1135.4" cy="1108.4"/><circle cx="1135" cy="1175.5"/><circle cx="1141.8" cy="1196.1"/><circle cx="1130.4" cy="1176.1"/><circle cx="1132.9" cy="1133.1"/><circle cx="1140.1" cy="1278.3"/><circle cx="1134.9" cy="1269.7"/><circle cx="1129.3" cy="1177.2"/><circle cx="1141.3" cy="1074.2"/><circle cx="1139.3" cy="1261.6"/><circle cx="1130.6" cy="1175.8"/><circle cx="1141.2" cy="1203.9"/><circle cx="1128.8" cy="1153.8"/><circle cx="1136.2" cy="1089.2"/><circle cx="1128.2" cy="1209.4"/><circle cx="1142.1" cy="1235.4"/><circle cx="1128.3" cy="1150"/><circle cx="1129.8" cy="1221.7"/><circle cx="1132.8" cy="1287.4"/><circle cx="1140" cy="1245.5"/><circle cx="1137" cy="1213.4"/><circle cx="1136.1" cy="1214.5"/><circle cx="1133.9" cy="1270.7"/><circle cx="1137.1" cy="1239.3"/><circle cx="1135.6" cy="1199.3"/><circle cx="1138.2" cy="1076.7"/><circle cx="1128.3" cy="1095.9"/><circle cx="1140.9" cy="1127.5"/><circle cx="1139.6" cy="1219.1"/><circle cx="1131.4" cy="1162.7"/><circle cx="1134.8" cy="1192"/><circle cx="1130.2" cy="1217.6"/><circle cx="1135" cy="1160.7"/><circle cx="1128.1" cy="1201.1"/><circle cx="1130.6" cy="1107.8"/><circle cx="1139.8" cy="1258.6"/><circle cx="1140.1" cy="1065.1"/><circle cx="1138" cy="1263.7"/><circle cx="1134.5" cy="1171.5"/><circle cx="1136.7" cy="1158.4"/><circle cx="1133.3" cy="1243.1"/><circle cx="1133.4" cy="1251"/><circle cx="1143.9" cy="1249.9"/><circle cx="1141.8" cy="1178.6"/><circle cx="1128.6" cy="1106.2"/><circle cx="1133.8" cy="1170.8"/><circle cx="1136.7" cy="1123.1"/><circle cx="1145" cy="1228"/><circle cx="1134.9" cy="1279.1"/><circle cx="1142.7" cy="1215.1"/><circle cx="1128.1" cy="1126.1"/><circle cx="1139.8" cy="1204.1"/><circle cx="1139.8" cy="1197.7"/><circle cx="1138.9" cy="1135.3"/><circle cx="1131.5" cy="1087.7"/><circle cx="1132.4" cy="1217.8"/><circle cx="1141.3" cy="1299.6"/><circle cx="1136.2" cy="1263.1"/><circle cx="1136" cy="1215.1"/><circle cx="1134.7" cy="1207.3"/><circle cx="1131.7" cy="1185.3"/><circle cx="1137" cy="1130.7"/><circle cx="1138.5" cy="1258.4"/><circle cx="1130.1" cy="1250.4"/><circle cx="1139.4" cy="1250.3"/><circle cx="1143.1" cy="1247.4"/><circle cx="1143.9" cy="1269.3"/><circle cx="1137.7" cy="1110.5"/><circle cx="1130.2" cy="1270.8"/><circle cx="1128.1" cy="1131.1"/><circle cx="1132.4" cy="1265.1"/><circle cx="1128" cy="1228.4"/><circle cx="1138.2" cy="1018.8"/><circle cx="1138.6" cy="1249.8"/><circle cx="1141.4" cy="1166.9"/><circle cx="1128" cy="1265.9"/><circle cx="1144.2" cy="1141.7"/><circle cx="1143.4" cy="1242.3"/><circle cx="1140.9" cy="1163"/><circle cx="1131.7" cy="1181.5"/><circle cx="1143.8" cy="1267.1"/><circle cx="1142.7" cy="1165.7"/><circle cx="1132.1" cy="1197.2"/><circle cx="1141.9" cy="1094.8"/><circle cx="1133.7" cy="1211.6"/><circle cx="1129.1" cy="1218.3"/><circle cx="1131.5" cy="1201.8"/><circle cx="1142.2" cy="1261.9"/><circle cx="1144.5" cy="1196.4"/><circle cx="1141" cy="1168.2"/><circle cx="1128.6" cy="1117.7"/><circle cx="1132.3" cy="1112.3"/><circle cx="1138.9" cy="1222.3"/><circle cx="1131.4" cy="1097.7"/><circle cx="1129.7" cy="1067.5"/><circle cx="1138.1" cy="1140.9"/><circle cx="1138.2" cy="1247.6"/><circle cx="1144.3" cy="1242.5"/><circle cx="1143.2" cy="1071.1"/><circle cx="1138.3" cy="1197.5"/><circle cx="1143.6" cy="1126.4"/><circle cx="1132.8" cy="1171"/><circle cx="1129.3" cy="1234.1"/><circle cx="1137.4" cy="1232.5"/><circle cx="1128.2" cy="1212"/><circle cx="1138.4" cy="1192.3"/><circle cx="1144" cy="1098.4"/><circle cx="1142.2" cy="1223.4"/><circle cx="1140.7" cy="1118.4"/><circle cx="1142.3" cy="1077"/><circle cx="1137.9" cy="1134.5"/><circle cx="1139.5" cy="1116.2"/><circle cx="1133.1" cy="1107.1"/><circle cx="1133.7" cy="1168.5"/><circle cx="1130.5" cy="1162.4"/><circle cx="1142.8" cy="1183.6"/><circle cx="1139.7" cy="1212.6"/><circle cx="1132.2" cy="1193.6"/><circle cx="1144.8" cy="1292.5"/><circle cx="1142.1" cy="1230.5"/><circle cx="1144.2" cy="1161.5"/><circle cx="1141.3" cy="1191"/><circle cx="1139.9" cy="1144.9"/><circle cx="1132" cy="1144.5"/><circle cx="1130.9" cy="1304.9"/><circle cx="1140.2" cy="1178.8"/><circle cx="1138.6" cy="1160"/><circle cx="1137.7" cy="1213.3"/><circle cx="1135.2" cy="1294.8"/><circle cx="1133.3" cy="1166.3"/><circle cx="1136.9" cy="1173.8"/><circle cx="1130.7" cy="1169.3"/><circle cx="1128.1" cy="1080.5"/><circle cx="1135.8" cy="1204.2"/><circle cx="1137.5" cy="1143"/><circle cx="1136.6" cy="1179.3"/><circle cx="1143.2" cy="1162.2"/><circle cx="1133.7" cy="1123.6"/><circle cx="1131.1" cy="1241.4"/><circle cx="1133.6" cy="1251.9"/><circle cx="1143.4" cy="1166.8"/><circle cx="1139.7" cy="1184.2"/><circle cx="1144.5" cy="1217.5"/><circle cx="1140.6" cy="1176.6"/><circle cx="1130.4" cy="1208.9"/><circle cx="1144.3" cy="1132.7"/><circle cx="1141.5" cy="1108"/><circle cx="1142.9" cy="1124.1"/><circle cx="1141.1" cy="1095.5"/><circle cx="1142.6" cy="1036.4"/><circle cx="1142" cy="1199"/><circle cx="1137.4" cy="1182.9"/><circle cx="1133.2" cy="1194.1"/><circle cx="1133.7" cy="1198.6"/><circle cx="1142.6" cy="1228.1"/><circle cx="1128.1" cy="1093.8"/><circle cx="1135.4" cy="1219.4"/><circle cx="1137" cy="1197.4"/><circle cx="1144.5" cy="1123.1"/><circle cx="1141.3" cy="1190.7"/><circle cx="1128.4" cy="1171.7"/><circle cx="1128.9" cy="1160.2"/><circle cx="1138.5" cy="1193.3"/><circle cx="1133.3" cy="1151.8"/><circle cx="1133.4" cy="1113.3"/><circle cx="1137.7" cy="1164.9"/><circle cx="1136.5" cy="1215.8"/><circle cx="1143.6" cy="1188.8"/><circle cx="1143.2" cy="1245.2"/><circle cx="1127.1" cy="1177.4"/><circle cx="1140.6" cy="1159.7"/><circle cx="1135.4" cy="1227.4"/><circle cx="1141.2" cy="1200.7"/><circle cx="1140.3" cy="1210.8"/><circle cx="1129.1" cy="1274.8"/><circle cx="1133.7" cy="1167.4"/><circle cx="1135.4" cy="1180.7"/><circle cx="1138.3" cy="1162.9"/><circle cx="1143.3" cy="1225.1"/><circle cx="1135.8" cy="1306.2"/><circle cx="1129.6" cy="1158.5"/><circle cx="1141.9" cy="1208.7"/><circle cx="1136.6" cy="1218.9"/><circle cx="1139.8" cy="1211.7"/><circle cx="1133.1" cy="1182.7"/><circle cx="1143" cy="1094.5"/><circle cx="1127.1" cy="1206.8"/><circle cx="1133.8" cy="1247"/><circle cx="1134.5" cy="1203.2"/><circle cx="1142.7" cy="1165.1"/><circle cx="1135.4" cy="1186.6"/><circle cx="1130.1" cy="1163.8"/><circle cx="1141.1" cy="1173.2"/><circle cx="1139.5" cy="1190.5"/><circle cx="1127.8" cy="1081.5"/><circle cx="1141.8" cy="1157.9"/><circle cx="1131.5" cy="1192"/><circle cx="1139.8" cy="1148.7"/><circle cx="1142.3" cy="1209.3"/><circle cx="1127.5" cy="1205.4"/><circle cx="1141" cy="1265.6"/><circle cx="1133.5" cy="1136.3"/><circle cx="1133.7" cy="1215.3"/><circle cx="1128.5" cy="1085.1"/><circle cx="1136.3" cy="1167.1"/><circle cx="1129.9" cy="1248.1"/><circle cx="1144.7" cy="1113.7"/><circle cx="1137.6" cy="1092.1"/><circle cx="1140.3" cy="1205.9"/><circle cx="1142.5" cy="1280.2"/><circle cx="1130.7" cy="1152.4"/><circle cx="1140.9" cy="1214"/><circle cx="1137.3" cy="1298.3"/><circle cx="1139.7" cy="1216.2"/><circle cx="1127.8" cy="1191.3"/><circle cx="1138.1" cy="1207.7"/><circle cx="1142.4" cy="1183.4"/><circle cx="1140.2" cy="1281.9"/><circle cx="1132.9" cy="1252.2"/><circle cx="1132.8" cy="1257"/><circle cx="1129.7" cy="1245.9"/><circle cx="1130.9" cy="1260.6"/><circle cx="1130.2" cy="1178.2"/><circle cx="1136.9" cy="1248.9"/><circle cx="1131.4" cy="1226.9"/><circle cx="1134.1" cy="1216.5"/><circle cx="1129.9" cy="1170.8"/><circle cx="1143.3" cy="1279.8"/><circle cx="1140.1" cy="1167.4"/><circle cx="1127.3" cy="1075.3"/><circle cx="1130.6" cy="1220.5"/><circle cx="1141.4" cy="1220.7"/><circle cx="1144.9" cy="1199.2"/><circle cx="1127.6" cy="1175.4"/><circle cx="1131.8" cy="1072.1"/><circle cx="1130.4" cy="1213.6"/><circle cx="1128.3" cy="1082.5"/><circle cx="1137.4" cy="1186.4"/><circle cx="1128.8" cy="1205.7"/><circle cx="1142.3" cy="1185.2"/><circle cx="1144.5" cy="1200.5"/><circle cx="1127.2" cy="1182.4"/><circle cx="1139.7" cy="1253.4"/><circle cx="1128.6" cy="1207"/><circle cx="1136.4" cy="1173"/><circle cx="1130.6" cy="1214.4"/><circle cx="1129.4" cy="1240.5"/><circle cx="1141.5" cy="1230.1"/><circle cx="1129.3" cy="1188.1"/><circle cx="1142.6" cy="1219.2"/><circle cx="1129.3" cy="1164"/><circle cx="1133.7" cy="1168.8"/><circle cx="1131.6" cy="1168.1"/><circle cx="1128.8" cy="1205.5"/><circle cx="1130.8" cy="1199.4"/><circle cx="1127.9" cy="1125.4"/><circle cx="1137" cy="1111.1"/><circle cx="1140.4" cy="1153.3"/><circle cx="1128.5" cy="1072.7"/><circle cx="1135.7" cy="1222.1"/><circle cx="1139.6" cy="1251.4"/><circle cx="1127.8" cy="1192.5"/><circle cx="1141.7" cy="1183.7"/><circle cx="1129.1" cy="1292.8"/><circle cx="1136.5" cy="1198.4"/><circle cx="1130.3" cy="1167.8"/><circle cx="1142.6" cy="1180.4"/><circle cx="1136" cy="1255.8"/><circle cx="1128.3" cy="1095.1"/></g><g class="p" fill="#167020"><circle cx="1201.3" cy="1192.9"/><circle cx="1192" cy="1177.1"/><circle cx="1197.1" cy="1168.4"/><circle cx="1202.3" cy="1191"/><circle cx="1196.8" cy="1189.2"/><circle cx="1202.9" cy="1213.2"/><circle cx="1207" cy="1142"/><circle cx="1196.7" cy="1179.7"/><circle cx="1201.1" cy="1215.3"/><circle cx="1205.5" cy="1158.4"/><circle cx="1206.1" cy="1191.9"/><circle cx="1192.4" cy="1167.9"/><circle cx="1199.7" cy="1164.3"/><circle cx="1194" cy="1168"/><circle cx="1200.4" cy="1163.3"/><circle cx="1200.8" cy="1237.9"/><circle cx="1195.5" cy="1187.9"/><circle cx="1207.8" cy="1172.4"/><circle cx="1205.9" cy="1180.7"/><circle cx="1201.7" cy="1162.2"/><circle cx="1197.9" cy="1191.8"/><circle cx="1196.4" cy="1147.9"/><circle cx="1204.5" cy="1142.8"/><circle cx="1200" cy="1183.2"/><circle cx="1201.1" cy="1146.4"/><circle cx="1196.4" cy="1209.7"/><circle cx="1205.5" cy="1168.2"/><circle cx="1196.8" cy="1216.3"/><circle cx="1199.6" cy="1196.5"/><circle cx="1204.1" cy="1160.9"/><circle cx="1203.7" cy="1180.3"/><circle cx="1205.5" cy="1121.3"/><circle cx="1200.6" cy="1132.1"/><circle cx="1196.5" cy="1175.3"/><circle cx="1205.9" cy="1123"/><circle cx="1208" cy="1224.1"/><circle cx="1208.8" cy="1203.2"/><circle cx="1196" cy="1185.9"/><circle cx="1194.9" cy="1187.9"/><circle cx="1194.8" cy="1169.8"/><circle cx="1192.2" cy="1193.6"/><circle cx="1193.8" cy="1124.1"/><circle cx="1207.1" cy="1183.5"/><circle cx="1205.9" cy="1167.6"/><circle cx="1208" cy="1148.4"/><circle cx="1194.2" cy="1218.9"/><circle cx="1194.8" cy="1239.2"/><circle cx="1209.1" cy="1171.5"/><circle cx="1205.5" cy="1143"/><circle cx="1209.8" cy="1186.1"/><circle cx="1197.4" cy="1168"/><circle cx="1199.8" cy="1164.9"/><circle cx="1208.5" cy="1144.6"/><circle cx="1206.8" cy="1204.1"/><circle cx="1193.4" cy="1156.3"/><circle cx="1206.4" cy="1231.6"/><circle cx="1199.9" cy="1192.8"/><circle cx="1196" cy="1175.8"/><circle cx="1201" cy="1208.7"/><circle cx="1206.7" cy="1197.1"/><circle cx="1202.4" cy="1212.7"/><circle cx="1208.4" cy="1186.6"/><circle cx="1195.8" cy="1190.7"/><circle cx="1195.4" cy="1191.8"/><circle cx="1194.5" cy="1219.5"/><circle cx="1191.9" cy="1186.9"/><circle cx="1202.1" cy="1144.4"/><circle cx="1198.3" cy="1229.2"/><circle cx="1208.7" cy="1160.6"/><circle cx="1200.3" cy="1167.8"/><circle cx="1193.1" cy="1210.3"/><circle cx="1193.6" cy="1232.9"/><circle cx="1195" cy="1163.9"/><circle cx="1193.9" cy="1235.9"/><circle cx="1208" cy="1141.9"/><circle cx="1205.8" cy="1180.3"/><circle cx="1202.3" cy="1169.9"/><circle cx="1198.9" cy="1178.6"/><circle cx="1202.4" cy="1125.1"/><circle cx="1192.4" cy="1218.5"/><circle cx="1199.3" cy="1133.5"/><circle cx="1208.4" cy="1232.6"/><circle cx="1209.2" cy="1159.9"/><circle cx="1207.8" cy="1193.9"/><circle cx="1206.3" cy="1155.3"/><circle cx="1202.6" cy="1171"/><circle cx="1202.2" cy="1156.7"/><circle cx="1206.8" cy="1166"/><circle cx="1200.5" cy="1193.4"/><circle cx="1192.2" cy="1117.7"/><circle cx="1207.6" cy="1176.8"/><circle cx="1196.1" cy="1192.1"/><circle cx="1194.9" cy="1191.5"/><circle cx="1205.7" cy="1122.6"/><circle cx="1193.2" cy="1170.8"/><circle cx="1193" cy="1181.6"/><circle cx="1193.1" cy="1167.1"/><circle cx="1197.4" cy="1131.5"/><circle cx="1194.5" cy="1200.8"/><circle cx="1200.9" cy="1179.4"/><circle cx="1200.5" cy="1182.2"/><circle cx="1197.3" cy="1220.6"/><circle cx="1194.7" cy="1130.4"/><circle cx="1209.7" cy="1119.2"/><circle cx="1194.2" cy="1162"/><circle cx="1205.3" cy="1129.6"/><circle cx="1195.2" cy="1163.5"/><circle cx="1196.3" cy="1163.1"/><circle cx="1192.4" cy="1211.3"/><circle cx="1208.3" cy="1165.3"/><circle cx="1206.4" cy="1171.3"/><circle cx="1202" cy="1123.6"/><circle cx="1196.4" cy="1131.8"/><circle cx="1207.5" cy="1179.9"/><circle cx="1197.7" cy="1128.5"/><circle cx="1205.2" cy="1125.3"/><circle cx="1203.1" cy="1184.5"/><circle cx="1208.8" cy="1201.6"/><circle cx="1203.5" cy="1207"/><circle cx="1204" cy="1179.6"/><circle cx="1202.2" cy="1158.9"/><circle cx="1204.3" cy="1210.7"/><circle cx="1198.3" cy="1116.9"/><circle cx="1196.6" cy="1151.3"/><circle cx="1206.6" cy="1181.9"/><circle cx="1200.4" cy="1173.8"/><circle cx="1209" cy="1181.1"/><circle cx="1196.8" cy="1168.9"/><circle cx="1199.9" cy="1180.9"/><circle cx="1200.5" cy="1211.1"/><circle cx="1206.6" cy="1147"/><circle cx="1196.5" cy="1219.2"/><circle cx="1199.8" cy="1202.5"/><circle cx="1192.9" cy="1172.7"/><circle cx="1195.9" cy="1127.1"/><circle cx="1200.1" cy="1165.6"/><circle cx="1203.1" cy="1202.4"/><circle cx="1204.8" cy="1166.7"/><circle cx="1205.6" cy="1164.8"/><circle cx="1198.2" cy="1167.4"/><circle cx="1207.6" cy="1164.8"/><circle cx="1208.6" cy="1176.6"/><circle cx="1208.8" cy="1193.3"/><circle cx="1197.7" cy="1169"/><circle cx="1206.7" cy="1237.6"/><circle cx="1209.7" cy="1170.5"/><circle cx="1203.8" cy="1192.3"/><circle cx="1199.9" cy="1185.5"/><circle cx="1198.9" cy="1124.8"/><circle cx="1201.9" cy="1151.2"/><circle cx="1202.1" cy="1192.2"/><circle cx="1206.1" cy="1201.8"/><circle cx="1206.8" cy="1171"/><circle cx="1208.4" cy="1170.1"/><circle cx="1207.2" cy="1188.7"/><circle cx="1198.3" cy="1128.3"/><circle cx="1194.6" cy="1172.9"/><circle cx="1205.2" cy="1200"/><circle cx="1200" cy="1120.3"/><circle cx="1208.8" cy="1175"/><circle cx="1200.3" cy="1165.7"/><circle cx="1202.7" cy="1130.1"/><circle cx="1200.4" cy="1190.5"/><circle cx="1194" cy="1133.3"/><circle cx="1199.4" cy="1210.5"/><circle cx="1198.7" cy="1221.7"/><circle cx="1196.3" cy="1230.2"/><circle cx="1202.2" cy="1175.6"/><circle cx="1199.6" cy="1181.3"/><circle cx="1200.1" cy="1146.3"/><circle cx="1197.3" cy="1188.1"/><circle cx="1195.2" cy="1220.8"/><circle cx="1202.6" cy="1176"/><circle cx="1192.7" cy="1160.1"/><circle cx="1207.5" cy="1167.5"/><circle cx="1206.4" cy="1179.5"/><circle cx="1209.6" cy="1145.2"/><circle cx="1201" cy="1161.1"/><circle cx="1194.6" cy="1221.8"/><circle cx="1195" cy="1217.3"/><circle cx="1206.2" cy="1152.9"/><circle cx="1192.9" cy="1191.6"/><circle cx="1193.9" cy="1178.7"/><circle cx="1203.7" cy="1172.6"/><circle cx="1201.1" cy="1138.8"/><circle cx="1206.4" cy="1174.4"/><circle cx="1196.7" cy="1174.7"/><circle cx="1197.8" cy="1176.8"/><circle cx="1199.1" cy="1172.8"/><circle cx="1201.3" cy="1183.6"/><circle cx="1201.3" cy="1152.3"/><circle cx="1200.3" cy="1241"/><circle cx="1202.8" cy="1166.6"/><circle cx="1194.4" cy="1200.6"/><circle cx="1197.4" cy="1216.2"/><circle cx="1207.7" cy="1147.2"/><circle cx="1195.1" cy="1147.7"/><circle cx="1195.1" cy="1226.3"/><circle cx="1205.6" cy="1232"/><circle cx="1208.6" cy="1170.3"/><circle cx="1201.5" cy="1116"/><circle cx="1198.8" cy="1172.5"/><circle cx="1196.6" cy="1166.9"/><circle cx="1208.5" cy="1161"/><circle cx="1207.7" cy="1234.9"/><circle cx="1200" cy="1170.1"/><circle cx="1192" cy="1165.5"/><circle cx="1201.8" cy="1163.7"/><circle cx="1206.5" cy="1207.7"/><circle cx="1197.3" cy="1216.5"/><circle cx="1209.1" cy="1204.5"/><circle cx="1208.8" cy="1214.2"/><circle cx="1196.6" cy="1167.4"/><circle cx="1209.1" cy="1176.4"/><circle cx="1206.4" cy="1142.5"/><circle cx="1199.5" cy="1134.5"/><circle cx="1203.6" cy="1226"/><circle cx="1201.8" cy="1143.5"/><circle cx="1201.7" cy="1131.1"/><circle cx="1199.2" cy="1134.2"/><circle cx="1202.3" cy="1205.1"/><circle cx="1197.9" cy="1223.5"/><circle cx="1199.4" cy="1197.4"/><circle cx="1207.1" cy="1158.2"/><circle cx="1198.2" cy="1149.8"/><circle cx="1198.3" cy="1126.6"/><circle cx="1200" cy="1130.9"/><circle cx="1196.8" cy="1244.9"/><circle cx="1205.3" cy="1168.8"/><circle cx="1195.7" cy="1194.3"/><circle cx="1209.4" cy="1134"/><circle cx="1192.4" cy="1183.4"/><circle cx="1197.1" cy="1168.7"/><circle cx="1198.9" cy="1159.4"/><circle cx="1197.2" cy="1191.3"/><circle cx="1200.3" cy="1164.6"/><circle cx="1207.2" cy="1174.4"/><circle cx="1197.7" cy="1223.1"/><circle cx="1194.4" cy="1222.5"/><circle cx="1192.8" cy="1124.1"/><circle cx="1198.3" cy="1145.8"/><circle cx="1198.7" cy="1229.5"/><circle cx="1201.5" cy="1148.6"/><circle cx="1193" cy="1169.7"/><circle cx="1200.1" cy="1190.3"/><circle cx="1202.6" cy="1185.2"/><circle cx="1205.5" cy="1213.4"/><circle cx="1202.2" cy="1190.7"/><circle cx="1207.4" cy="1183.7"/><circle cx="1208.2" cy="1246.9"/><circle cx="1198.8" cy="1136.3"/><circle cx="1192.2" cy="1198.1"/><circle cx="1202.8" cy="1241.6"/><circle cx="1200.7" cy="1164"/><circle cx="1192.2" cy="1169.4"/><circle cx="1201.1" cy="1245.6"/><circle cx="1199.9" cy="1208.6"/><circle cx="1206.5" cy="1224.3"/><circle cx="1202.2" cy="1183.9"/><circle cx="1192.3" cy="1141.2"/><circle cx="1198.8" cy="1143.8"/><circle cx="1207.7" cy="1159.7"/><circle cx="1197.2" cy="1210.1"/><circle cx="1208.5" cy="1162.5"/><circle cx="1209.5" cy="1162.7"/><circle cx="1199.8" cy="1182.1"/><circle cx="1197.5" cy="1234.5"/><circle cx="1197.2" cy="1147.5"/><circle cx="1198.3" cy="1191.2"/><circle cx="1204" cy="1220.1"/><circle cx="1197.8" cy="1139.4"/><circle cx="1194.3" cy="1115.1"/><circle cx="1199.5" cy="1178.9"/><circle cx="1199.6" cy="1188.6"/><circle cx="1206.3" cy="1181.9"/><circle cx="1198.1" cy="1126.7"/><circle cx="1198.9" cy="1137.1"/><circle cx="1202.1" cy="1199.3"/><circle cx="1208.6" cy="1152.9"/><circle cx="1196.1" cy="1174.5"/><circle cx="1199.9" cy="1169.1"/><circle cx="1193.4" cy="1171.7"/><circle cx="1194.2" cy="1130.7"/><circle cx="1194.2" cy="1231.6"/><circle cx="1192.7" cy="1148.1"/><circle cx="1198.4" cy="1113.8"/><circle cx="1203.2" cy="1185"/><circle cx="1204.9" cy="1170.5"/><circle cx="1207.7" cy="1169.3"/><circle cx="1207.1" cy="1167.1"/><circle cx="1199.9" cy="1138.7"/><circle cx="1198.2" cy="1165.5"/><circle cx="1203.9" cy="1175.6"/><circle cx="1200.8" cy="1177.9"/><circle cx="1199.9" cy="1170.8"/><circle cx="1192.3" cy="1187.3"/><circle cx="1193.9" cy="1221.3"/><circle cx="1200.5" cy="1171.4"/><circle cx="1206.1" cy="1135.4"/><circle cx="1199.2" cy="1149.6"/><circle cx="1193.4" cy="1153.2"/><circle cx="1192" cy="1181.4"/><circle cx="1204.2" cy="1160.3"/><circle cx="1193.6" cy="1194.8"/><circle cx="1209.1" cy="1169.6"/><circle cx="1205.2" cy="1185.3"/><circle cx="1203.9" cy="1122.1"/><circle cx="1195.8" cy="1205.9"/><circle cx="1196.5" cy="1143.9"/><circle cx="1193.2" cy="1175.8"/><circle cx="1200.7" cy="1181.5"/><circle cx="1197.7" cy="1132.3"/><circle cx="1206.2" cy="1134.8"/><circle cx="1197.5" cy="1224.9"/><circle cx="1206.4" cy="1240.6"/><circle cx="1203.6" cy="1193.1"/><circle cx="1200" cy="1214.6"/><circle cx="1205.6" cy="1234.5"/><circle cx="1191.8" cy="1184.3"/><circle cx="1195.3" cy="1233.3"/><circle cx="1209.3" cy="1185.8"/><circle cx="1204.8" cy="1198.5"/><circle cx="1194.9" cy="1160.3"/><circle cx="1192.8" cy="1164.4"/><circle cx="1193.5" cy="1157.8"/><circle cx="1201" cy="1189.6"/><circle cx="1198.4" cy="1172.2"/><circle cx="1194.8" cy="1225.5"/><circle cx="1200.8" cy="1185.6"/><circle cx="1207.4" cy="1193.7"/><circle cx="1203.7" cy="1163.5"/><circle cx="1204.6" cy="1173.9"/><circle cx="1198.7" cy="1158"/><circle cx="1201.1" cy="1148.9"/><circle cx="1206.9" cy="1188.3"/><circle cx="1194.9" cy="1187.1"/><circle cx="1197.3" cy="1165"/><circle cx="1208.9" cy="1192.5"/><circle cx="1194.1" cy="1139.8"/><circle cx="1203.1" cy="1129.8"/><circle cx="1198.1" cy="1232.3"/><circle cx="1209.8" cy="1182.9"/><circle cx="1198.3" cy="1173.1"/><circle cx="1198.8" cy="1229"/><circle cx="1206.1" cy="1166.4"/><circle cx="1205.8" cy="1168.3"/><circle cx="1194.9" cy="1188.4"/><circle cx="1195.7" cy="1136.6"/><circle cx="1198.2" cy="1199.7"/><circle cx="1206.8" cy="1152.6"/><circle cx="1192.7" cy="1161.2"/><circle cx="1204.2" cy="1189"/><circle cx="1207" cy="1180.5"/><circle cx="1198" cy="1176.2"/><circle cx="1196.1" cy="1242.8"/><circle cx="1198.1" cy="1175.4"/><circle cx="1194.2" cy="1159.8"/><circle cx="1192.9" cy="1160"/><circle cx="1195.3" cy="1219.8"/><circle cx="1195.4" cy="1154.2"/><circle cx="1192.4" cy="1220.2"/><circle cx="1192.7" cy="1233.6"/><circle cx="1192.4" cy="1149.2"/><circle cx="1199.3" cy="1190.2"/><circle cx="1197.3" cy="1190.1"/><circle cx="1194.5" cy="1200.9"/><circle cx="1196.1" cy="1150.6"/><circle cx="1193.2" cy="1125.6"/><circle cx="1201.4" cy="1159.1"/><circle cx="1194.3" cy="1203.7"/><circle cx="1205.1" cy="1171.8"/><circle cx="1194.5" cy="1171.1"/><circle cx="1197.4" cy="1143.3"/><circle cx="1207.4" cy="1193.5"/><circle cx="1206.8" cy="1131.7"/><circle cx="1197" cy="1166.4"/><circle cx="1201" cy="1195.4"/><circle cx="1202.9" cy="1114.3"/><circle cx="1206.8" cy="1161.4"/><circle cx="1198.4" cy="1231.3"/><circle cx="1204.6" cy="1189.9"/><circle cx="1205.9" cy="1135.1"/><circle cx="1199" cy="1194.1"/><circle cx="1196.2" cy="1127.4"/><circle cx="1200.5" cy="1157.2"/><circle cx="1195.4" cy="1178.8"/><circle cx="1208.1" cy="1177"/><circle cx="1199.5" cy="1132.9"/><circle cx="1195.1" cy="1234.1"/><circle cx="1195.2" cy="1129.4"/><circle cx="1194.4" cy="1208"/><circle cx="1200" cy="1166.2"/><circle cx="1206.5" cy="1135.8"/><circle cx="1203.9" cy="1209.4"/><circle cx="1209.8" cy="1165.9"/><circle cx="1192.9" cy="1244.4"/><circle cx="1204.5" cy="1183.1"/><circle cx="1194.7" cy="1189.3"/><circle cx="1201.1" cy="1225.3"/><circle cx="1195.8" cy="1205.9"/><circle cx="1198.4" cy="1172"/><circle cx="1200.5" cy="1179.2"/><circle cx="1204.7" cy="1169.3"/><circle cx="1193.4" cy="1177.8"/><circle cx="1202.9" cy="1201.2"/><circle cx="1197.8" cy="1139.9"/><circle cx="1192.2" cy="1117.9"/><circle cx="1194.8" cy="1187.8"/><circle cx="1209.8" cy="1189.9"/><circle cx="1206" cy="1149.1"/><circle cx="1194" cy="1164.4"/><circle cx="1204.5" cy="1159"/><circle cx="1197.8" cy="1227.9"/><circle cx="1197.5" cy="1181.7"/><circle cx="1207.8" cy="1176.5"/><circle cx="1207.5" cy="1119.6"/><circle cx="1205.5" cy="1157.1"/><circle cx="1198.5" cy="1174.1"/><circle cx="1201.4" cy="1138.4"/><circle cx="1197.9" cy="1172"/><circle cx="1205.6" cy="1163.4"/><circle cx="1199.2" cy="1166"/><circle cx="1208.3" cy="1215.5"/><circle cx="1200.8" cy="1118.4"/><circle cx="1207.1" cy="1154.4"/><circle cx="1202.8" cy="1123.4"/><circle cx="1198.4" cy="1174.2"/><circle cx="1208.1" cy="1195.1"/><circle cx="1192.6" cy="1155.7"/><circle cx="1208.5" cy="1217"/><circle cx="1198.5" cy="1162.1"/><circle cx="1195.4" cy="1185.1"/><circle cx="1209.7" cy="1140.7"/><circle cx="1195.5" cy="1121.8"/><circle cx="1192.6" cy="1228.2"/><circle cx="1201.7" cy="1200.3"/><circle cx="1202.2" cy="1125.8"/><circle cx="1199.4" cy="1178.4"/><circle cx="1195" cy="1165.3"/><circle cx="1194" cy="1162.9"/><circle cx="1194.8" cy="1165.1"/><circle cx="1199.6" cy="1156.4"/><circle cx="1196" cy="1155.9"/><circle cx="1202.4" cy="1173.2"/><circle cx="1193.1" cy="1204.8"/><circle cx="1201" cy="1138"/><circle cx="1206.5" cy="1186.2"/><circle cx="1196" cy="1158.1"/><circle cx="1198.9" cy="1196.3"/><circle cx="1200.7" cy="1158.5"/><circle cx="1192.1" cy="1188.8"/><circle cx="1205.6" cy="1128.1"/><circle cx="1207.8" cy="1208.9"/><circle cx="1197.7" cy="1222.7"/><circle cx="1193.7" cy="1190.3"/><circle cx="1192.8" cy="1182.9"/><circle cx="1192.5" cy="1151.9"/><circle cx="1207.5" cy="1226.5"/><circle cx="1203.2" cy="1205.4"/><circle cx="1195.8" cy="1151.7"/><circle cx="1201.8" cy="1133.6"/><circle cx="1204.8" cy="1228.5"/><circle cx="1208.3" cy="1187.6"/><circle cx="1207.6" cy="1217.4"/><circle cx="1200" cy="1198.9"/><circle cx="1204.8" cy="1140.4"/><circle cx="1203.2" cy="1158.8"/><circle cx="1196.8" cy="1243.3"/><circle cx="1205.3" cy="1158.3"/><circle cx="1198.7" cy="1155"/><circle cx="1196.6" cy="1134.8"/><circle cx="1200.5" cy="1178.3"/><circle cx="1209.6" cy="1214.7"/><circle cx="1197.5" cy="1179.2"/><circle cx="1195.4" cy="1184.1"/><circle cx="1192.4" cy="1115"/><circle cx="1195.8" cy="1159.6"/><circle cx="1203" cy="1227.8"/><circle cx="1196" cy="1157.7"/><circle cx="1197" cy="1160"/><circle cx="1193.6" cy="1173.8"/><circle cx="1199.2" cy="1189.1"/><circle cx="1207.7" cy="1171.8"/><circle cx="1198.9" cy="1163.7"/><circle cx="1196.9" cy="1167.2"/><circle cx="1207.7" cy="1160.8"/><circle cx="1209.6" cy="1238.7"/><circle cx="1192.8" cy="1180.9"/><circle cx="1196.3" cy="1195.8"/><circle cx="1193.8" cy="1180.1"/><circle cx="1191.9" cy="1175.1"/><circle cx="1198.6" cy="1180.6"/><circle cx="1195.3" cy="1227.5"/><circle cx="1202.9" cy="1153.8"/><circle cx="1203" cy="1209.3"/><circle cx="1204" cy="1122.5"/><circle cx="1191.9" cy="1135.5"/><circle cx="1196.8" cy="1159.2"/><circle cx="1209.2" cy="1159.5"/><circle cx="1197.7" cy="1192.7"/><circle cx="1192.2" cy="1221.1"/><circle cx="1194.7" cy="1163.9"/><circle cx="1202.9" cy="1168.9"/><circle cx="1200.1" cy="1173.6"/><circle cx="1195.4" cy="1177.4"/><circle cx="1203.1" cy="1168.6"/><circle cx="1200.6" cy="1170.2"/><circle cx="1207.9" cy="1214.1"/><circle cx="1209.5" cy="1203.4"/><circle cx="1207.8" cy="1171.6"/><circle cx="1206.8" cy="1186.8"/><circle cx="1194.8" cy="1161.9"/><circle cx="1202.4" cy="1140.9"/><circle cx="1200.5" cy="1139.5"/><circle cx="1192.5" cy="1193.1"/><circle cx="1192.4" cy="1212.1"/><circle cx="1204.3" cy="1198.7"/><circle cx="1204" cy="1113.4"/><circle cx="1204.9" cy="1164.6"/><circle cx="1194.5" cy="1137.1"/><circle cx="1209.5" cy="1146.7"/><circle cx="1209.5" cy="1129.1"/><circle cx="1203.6" cy="1177.5"/><circle cx="1195.8" cy="1162.6"/><circle cx="1208.6" cy="1151"/><circle cx="1205.4" cy="1152.1"/><circle cx="1208" cy="1136.1"/><circle cx="1204.9" cy="1128.9"/><circle cx="1202.1" cy="1172.6"/><circle cx="1204.1" cy="1182.5"/><circle cx="1202.9" cy="1185.8"/><circle cx="1204.7" cy="1172.2"/><circle cx="1208.8" cy="1137.4"/><circle cx="1209.1" cy="1165.8"/><circle cx="1201.2" cy="1182.7"/><circle cx="1197" cy="1184.4"/><circle cx="1202.9" cy="1177.2"/><circle cx="1199.4" cy="1222.2"/><circle cx="1197" cy="1186.4"/><circle cx="1204.8" cy="1154"/><circle cx="1198.6" cy="1132.5"/><circle cx="1209.1" cy="1141.6"/><circle cx="1205.5" cy="1217.6"/><circle cx="1209.8" cy="1197.7"/><circle cx="1198.3" cy="1223.9"/><circle cx="1197.9" cy="1145.4"/><circle cx="1201.1" cy="1196"/><circle cx="1205.2" cy="1190.9"/><circle cx="1200.5" cy="1194.1"/><circle cx="1192.1" cy="1161.5"/><circle cx="1200.4" cy="1170"/><circle cx="1195.7" cy="1141.3"/><circle cx="1203.4" cy="1246.3"/><circle cx="1209.5" cy="1172.1"/><circle cx="1204.2" cy="1233.1"/><circle cx="1205.6" cy="1163"/><circle cx="1209.4" cy="1166.8"/><circle cx="1196.2" cy="1154.6"/><circle cx="1200.1" cy="1212.3"/><circle cx="1209.4" cy="1169.7"/><circle cx="1204.9" cy="1194.4"/><circle cx="1200.6" cy="1161.3"/><circle cx="1202.2" cy="1123.5"/><circle cx="1197.4" cy="1173"/><circle cx="1195.1" cy="1187.2"/><circle cx="1194.1" cy="1159.6"/><circle cx="1197.8" cy="1139"/><circle cx="1204.5" cy="1137.8"/><circle cx="1194" cy="1196.9"/><circle cx="1199.7" cy="1226"/><circle cx="1199.1" cy="1225.1"/><circle cx="1206.8" cy="1167.7"/><circle cx="1203.4" cy="1158.8"/><circle cx="1207.1" cy="1184"/><circle cx="1198.2" cy="1159.2"/><circle cx="1200.8" cy="1218.1"/><circle cx="1195.1" cy="1163.1"/><circle cx="1205.5" cy="1184.6"/><circle cx="1207.5" cy="1118.6"/><circle cx="1199.3" cy="1149.9"/><circle cx="1193" cy="1122.8"/><circle cx="1194.3" cy="1173.3"/><circle cx="1209.1" cy="1126"/><circle cx="1192.3" cy="1116.4"/><circle cx="1200.7" cy="1230.9"/><circle cx="1207.2" cy="1145"/><circle cx="1197.9" cy="1150.3"/><circle cx="1191.9" cy="1212.9"/><circle cx="1194.1" cy="1223"/><circle cx="1208.2" cy="1235.4"/><circle cx="1207.7" cy="1160.7"/><circle cx="1199.8" cy="1127.1"/><circle cx="1196.5" cy="1161.7"/><circle cx="1199.3" cy="1162.3"/><circle cx="1200.9" cy="1124.9"/><circle cx="1193.2" cy="1166.3"/><circle cx="1202.2" cy="1138.2"/><circle cx="1201.4" cy="1202.1"/><circle cx="1208.4" cy="1189.6"/><circle cx="1194.9" cy="1187.6"/><circle cx="1193" cy="1191.2"/><circle cx="1196" cy="1197.8"/><circle cx="1205.4" cy="1187.4"/><circle cx="1195.9" cy="1169.1"/><circle cx="1193.4" cy="1140.2"/><circle cx="1195.1" cy="1211.7"/><circle cx="1194.2" cy="1178.2"/><circle cx="1200.4" cy="1156"/><circle cx="1196.3" cy="1166.5"/><circle cx="1205.4" cy="1173.4"/><circle cx="1199.5" cy="1114.1"/><circle cx="1201.9" cy="1230.7"/><circle cx="1208.4" cy="1215"/><circle cx="1200.1" cy="1164.2"/><circle cx="1205.7" cy="1162.8"/><circle cx="1200.2" cy="1166.9"/><circle cx="1197.1" cy="1239.8"/><circle cx="1197.6" cy="1176.1"/><circle cx="1209.2" cy="1244.1"/><circle cx="1207.6" cy="1145.5"/><circle cx="1199.1" cy="1207.3"/><circle cx="1207.2" cy="1179.1"/><circle cx="1201.8" cy="1175"/><circle cx="1208.9" cy="1163.6"/><circle cx="1192.8" cy="1189.4"/><circle cx="1208.2" cy="1208.2"/><circle cx="1204.2" cy="1178.1"/><circle cx="1206.1" cy="1174.8"/><circle cx="1193" cy="1170.7"/><circle cx="1205.2" cy="1146.2"/><circle cx="1204.3" cy="1228.8"/><circle cx="1204" cy="1116"/><circle cx="1206.4" cy="1119.9"/><circle cx="1202.4" cy="1126.2"/><circle cx="1192.2" cy="1242.4"/><circle cx="1192.2" cy="1237.1"/><circle cx="1204.3" cy="1224.5"/><circle cx="1202.1" cy="1158.5"/><circle cx="1206.7" cy="1188.5"/><circle cx="1200.3" cy="1130.2"/><circle cx="1195.8" cy="1144.1"/><circle cx="1202.6" cy="1128"/><circle cx="1203.1" cy="1182.3"/><circle cx="1209.2" cy="1161.6"/><circle cx="1201.5" cy="1153.5"/><circle cx="1205.1" cy="1186.6"/><circle cx="1209.8" cy="1127.7"/><circle cx="1205.1" cy="1161.5"/><circle cx="1193" cy="1184.8"/><circle cx="1194" cy="1161.1"/><circle cx="1204" cy="1199.3"/><circle cx="1194.5" cy="1213.8"/><circle cx="1198.4" cy="1133.1"/><circle cx="1207.8" cy="1206.9"/><circle cx="1208.2" cy="1205.4"/><circle cx="1193.8" cy="1158.6"/><circle cx="1199.1" cy="1227"/><circle cx="1196.3" cy="1173.5"/><circle cx="1206.5" cy="1168.1"/><circle cx="1208.8" cy="1179.8"/><circle cx="1194.7" cy="1124.5"/><circle cx="1196.7" cy="1096"/><circle cx="1202.1" cy="1203"/><circle cx="1204.4" cy="1142.5"/><circle cx="1198.4" cy="1206.7"/><circle cx="1200.3" cy="1160.5"/><circle cx="1201.2" cy="1158"/><circle cx="1204.7" cy="1236.5"/><circle cx="1192.4" cy="1218.1"/><circle cx="1196.9" cy="1162.4"/><circle cx="1205.8" cy="1171.3"/><circle cx="1202.6" cy="1204"/><circle cx="1203.6" cy="1150.8"/><circle cx="1199.5" cy="1181.2"/><circle cx="1196.2" cy="1233.7"/><circle cx="1201.3" cy="1192.6"/><circle cx="1199" cy="1177.6"/><circle cx="1197.9" cy="1177.3"/><circle cx="1196.1" cy="1218.8"/><circle cx="1209.6" cy="1227.2"/><circle cx="1202.4" cy="1162.4"/><circle cx="1202.6" cy="1154.9"/><circle cx="1205.5" cy="1206.2"/><circle cx="1199.5" cy="1230"/><circle cx="1200.1" cy="1161.8"/><circle cx="1205.3" cy="1164.3"/><circle cx="1192.6" cy="1168.5"/><circle cx="1192.5" cy="1136.8"/><circle cx="1206.7" cy="1165.2"/><circle cx="1194" cy="1212"/><circle cx="1196.8" cy="1183.8"/><circle cx="1208.7" cy="1170.6"/><circle cx="1196.8" cy="1194.9"/><circle cx="1209.1" cy="1230.5"/><circle cx="1195.3" cy="1215.8"/><circle cx="1205.7" cy="1160.4"/><circle cx="1207.8" cy="1184.7"/><circle cx="1202.2" cy="1182.6"/><circle cx="1201.8" cy="1157.3"/><circle cx="1200.2" cy="1121.1"/><circle cx="1201.7" cy="1186.4"/></g><g class="p" fill="#9a2a3c"><circle cx="1271.3" cy="1181.1"/><circle cx="1271.2" cy="1192.9"/><circle cx="1271.1" cy="1180.7"/><circle cx="1257.8" cy="1184.9"/><circle cx="1270.7" cy="1204.2"/><circle cx="1266.4" cy="1140.4"/><circle cx="1261.3" cy="1172"/><circle cx="1264.1" cy="1173"/><circle cx="1269.6" cy="1166.9"/><circle cx="1271" cy="1161.6"/><circle cx="1270.1" cy="1175.6"/><circle cx="1258.8" cy="1169.2"/><circle cx="1273" cy="1171"/><circle cx="1271.5" cy="1137.9"/><circle cx="1259.4" cy="1155.9"/><circle cx="1273.1" cy="1167"/><circle cx="1269.3" cy="1193.3"/><circle cx="1271.3" cy="1162.4"/><circle cx="1272.8" cy="1178.1"/><circle cx="1258.3" cy="1157.6"/><circle cx="1258.8" cy="1196.1"/><circle cx="1267.6" cy="1179.8"/><circle cx="1273.5" cy="1181.4"/><circle cx="1273.6" cy="1162.6"/><circle cx="1259.7" cy="1209.6"/><circle cx="1260.1" cy="1165.5"/><circle cx="1258.6" cy="1189.3"/><circle cx="1273.6" cy="1157.2"/><circle cx="1259.1" cy="1172.7"/><circle cx="1274.6" cy="1176"/><circle cx="1265.4" cy="1188.7"/><circle cx="1271" cy="1160.6"/><circle cx="1260.4" cy="1166.4"/><circle cx="1264.5" cy="1168.5"/><circle cx="1271.1" cy="1168.7"/><circle cx="1262.2" cy="1197.6"/><circle cx="1268.4" cy="1180.2"/><circle cx="1261.6" cy="1184.1"/><circle cx="1262" cy="1176.9"/><circle cx="1262.7" cy="1184.8"/><circle cx="1271" cy="1173.1"/><circle cx="1257.4" cy="1185.6"/><circle cx="1269.1" cy="1144"/><circle cx="1270.4" cy="1147.1"/><circle cx="1264.3" cy="1181.5"/><circle cx="1257.7" cy="1172.8"/><circle cx="1274.1" cy="1166"/><circle cx="1257.5" cy="1199.7"/><circle cx="1273.6" cy="1188"/><circle cx="1267.2" cy="1198"/><circle cx="1271.4" cy="1184.7"/><circle cx="1274" cy="1168"/><circle cx="1266.5" cy="1177"/><circle cx="1270.1" cy="1181.1"/><circle cx="1257.9" cy="1189.7"/><circle cx="1273.2" cy="1206.9"/><circle cx="1261.2" cy="1213.3"/><circle cx="1267.7" cy="1167.8"/><circle cx="1268.7" cy="1170.2"/><circle cx="1270.9" cy="1171.4"/><circle cx="1274" cy="1148.7"/><circle cx="1269" cy="1178.8"/><circle cx="1267.2" cy="1179.2"/><circle cx="1257.5" cy="1180.6"/><circle cx="1261.1" cy="1212.7"/><circle cx="1273.8" cy="1164.6"/><circle cx="1261.2" cy="1163.5"/><circle cx="1269.6" cy="1205"/><circle cx="1274.4" cy="1185.9"/><circle cx="1272.1" cy="1174.4"/><circle cx="1257.7" cy="1200.5"/><circle cx="1273.6" cy="1194.2"/><circle cx="1258.9" cy="1180"/><circle cx="1267.2" cy="1167.9"/><circle cx="1267.2" cy="1181.4"/><circle cx="1263.3" cy="1160.8"/><circle cx="1266" cy="1202.1"/><circle cx="1260.2" cy="1153.7"/><circle cx="1268.3" cy="1168.6"/><circle cx="1274.1" cy="1141.6"/><circle cx="1258.9" cy="1175.2"/><circle cx="1261.2" cy="1155.2"/><circle cx="1264.9" cy="1146.7"/><circle cx="1266.9" cy="1165.1"/><circle cx="1258.4" cy="1183"/><circle cx="1259.7" cy="1145.8"/><circle cx="1269" cy="1179.1"/><circle cx="1272.6" cy="1164"/><circle cx="1266" cy="1211.2"/><circle cx="1263.4" cy="1158"/><circle cx="1259.7" cy="1198.8"/><circle cx="1266.8" cy="1165.4"/><circle cx="1265.2" cy="1158.5"/><circle cx="1266.3" cy="1174.5"/><circle cx="1269.5" cy="1172.2"/><circle cx="1263.2" cy="1151.7"/><circle cx="1263.4" cy="1179.7"/><circle cx="1265.8" cy="1154.8"/><circle cx="1271.7" cy="1144.8"/><circle cx="1272.1" cy="1180.4"/><circle cx="1266.1" cy="1155.4"/><circle cx="1268.9" cy="1149.4"/><circle cx="1270.1" cy="1175.7"/><circle cx="1273.5" cy="1176.7"/><circle cx="1272.3" cy="1156.4"/><circle cx="1273.3" cy="1159.5"/><circle cx="1271.3" cy="1215.1"/><circle cx="1268" cy="1217.5"/><circle cx="1262" cy="1159.9"/><circle cx="1262.3" cy="1166.7"/><circle cx="1272.7" cy="1142.8"/><circle cx="1264.4" cy="1167.3"/><circle cx="1271" cy="1175"/><circle cx="1273.2" cy="1169.5"/><circle cx="1271" cy="1146.2"/><circle cx="1268.9" cy="1153"/><circle cx="1261.9" cy="1199.3"/><circle cx="1265.4" cy="1177.6"/><circle cx="1269.6" cy="1206.6"/><circle cx="1267.1" cy="1178.5"/><circle cx="1257.7" cy="1176.4"/><circle cx="1272.6" cy="1177.8"/><circle cx="1257.2" cy="1151.3"/><circle cx="1260.9" cy="1222.9"/><circle cx="1264.2" cy="1135.7"/><circle cx="1267.5" cy="1191.2"/><circle cx="1267.3" cy="1170.9"/><circle cx="1273.9" cy="1174.8"/><circle cx="1262.3" cy="1176.2"/><circle cx="1265.4" cy="1202.4"/><circle cx="1257.5" cy="1195.7"/><circle cx="1271.5" cy="1160.3"/><circle cx="1263.6" cy="1166.5"/><circle cx="1256.7" cy="1163.1"/><circle cx="1269.3" cy="1170.7"/><circle cx="1273.2" cy="1169.8"/><circle cx="1272.7" cy="1152.7"/><circle cx="1261.2" cy="1170.3"/><circle cx="1271.3" cy="1198.1"/><circle cx="1264.1" cy="1144.2"/><circle cx="1256.6" cy="1171"/><circle cx="1265.8" cy="1190.2"/><circle cx="1265.8" cy="1172.6"/><circle cx="1263.1" cy="1177.9"/><circle cx="1261.7" cy="1161"/><circle cx="1271.9" cy="1220.6"/><circle cx="1257.1" cy="1172.1"/><circle cx="1257.5" cy="1169.7"/><circle cx="1266.2" cy="1156.8"/><circle cx="1260.4" cy="1175.1"/><circle cx="1266.5" cy="1200.1"/><circle cx="1258.8" cy="1203.9"/><circle cx="1257.3" cy="1169.3"/><circle cx="1262.2" cy="1163.4"/><circle cx="1271.8" cy="1256.1"/><circle cx="1265.6" cy="1173.5"/><circle cx="1264.9" cy="1176.1"/><circle cx="1259.8" cy="1170.7"/><circle cx="1259.2" cy="1171.9"/><circle cx="1258.5" cy="1169.8"/><circle cx="1258.4" cy="1174.3"/><circle cx="1258.6" cy="1203"/><circle cx="1265.2" cy="1197.4"/><circle cx="1259" cy="1166.6"/><circle cx="1262.9" cy="1187.2"/><circle cx="1272.6" cy="1220.9"/><circle cx="1269.5" cy="1218.6"/><circle cx="1264.3" cy="1172.4"/><circle cx="1257.8" cy="1159.3"/><circle cx="1272.6" cy="1188.4"/><circle cx="1273.2" cy="1150.2"/><circle cx="1267.9" cy="1203.7"/><circle cx="1273.3" cy="1146.7"/><circle cx="1272.7" cy="1195"/><circle cx="1258.8" cy="1168.9"/><circle cx="1266.6" cy="1174.6"/><circle cx="1271.8" cy="1167.7"/><circle cx="1265.5" cy="1158.6"/><circle cx="1268.9" cy="1137"/><circle cx="1267.9" cy="1159.2"/><circle cx="1266.8" cy="1167.3"/><circle cx="1268.7" cy="1166.8"/><circle cx="1274.3" cy="1168.7"/><circle cx="1256.8" cy="1182.3"/><circle cx="1259.3" cy="1153.2"/><circle cx="1273.4" cy="1204.3"/><circle cx="1258.4" cy="1173.2"/><circle cx="1257.9" cy="1142.3"/><circle cx="1259.5" cy="1165.9"/><circle cx="1264.1" cy="1168.3"/><circle cx="1262.1" cy="1196.4"/><circle cx="1261" cy="1148.1"/><circle cx="1263.3" cy="1171.9"/><circle cx="1274" cy="1210.6"/><circle cx="1268.8" cy="1150.5"/><circle cx="1264.4" cy="1145.3"/><circle cx="1261" cy="1183.2"/><circle cx="1267.3" cy="1165.8"/><circle cx="1271.7" cy="1156.2"/><circle cx="1269.3" cy="1201.3"/><circle cx="1271.4" cy="1187.7"/><circle cx="1263.9" cy="1169"/><circle cx="1261.1" cy="1183.5"/><circle cx="1262" cy="1170.6"/><circle cx="1264.6" cy="1136.1"/><circle cx="1271.1" cy="1193.2"/><circle cx="1272.9" cy="1175.5"/><circle cx="1270.6" cy="1184"/><circle cx="1268.1" cy="1150.9"/><circle cx="1260.5" cy="1166.3"/><circle cx="1268.2" cy="1154.2"/><circle cx="1262.5" cy="1182.9"/><circle cx="1261.2" cy="1192.6"/><circle cx="1257" cy="1166.1"/><circle cx="1258" cy="1157.8"/><circle cx="1272.3" cy="1182.5"/><circle cx="1265.5" cy="1183.7"/><circle cx="1271.8" cy="1151"/><circle cx="1268" cy="1198.9"/><circle cx="1260.2" cy="1194"/><circle cx="1259.9" cy="1167.6"/><circle cx="1269.6" cy="1184.3"/><circle cx="1262.7" cy="1178.7"/><circle cx="1273.6" cy="1190.7"/><circle cx="1268.9" cy="1138.6"/><circle cx="1263.2" cy="1155.7"/><circle cx="1258.8" cy="1165.3"/><circle cx="1269.9" cy="1204.6"/><circle cx="1260" cy="1196.9"/><circle cx="1272.9" cy="1099.3"/><circle cx="1260.5" cy="1168.1"/><circle cx="1257.1" cy="1173.8"/><circle cx="1269.9" cy="1169.6"/><circle cx="1272.2" cy="1165.5"/><circle cx="1274.4" cy="1148.9"/><circle cx="1260.9" cy="1152.1"/><circle cx="1257.9" cy="1177.4"/><circle cx="1270.2" cy="1171.5"/><circle cx="1267.1" cy="1167.5"/><circle cx="1266" cy="1179.6"/><circle cx="1272.1" cy="1194.5"/><circle cx="1258.1" cy="1147.6"/><circle cx="1262.6" cy="1186.9"/><circle cx="1272.2" cy="1168.1"/><circle cx="1271.6" cy="1201.1"/><circle cx="1263.9" cy="1195.4"/><circle cx="1262.6" cy="1172.5"/><circle cx="1266.6" cy="1167.2"/><circle cx="1264.1" cy="1161.6"/><circle cx="1262" cy="1145.5"/><circle cx="1270.5" cy="1181.9"/><circle cx="1274.6" cy="1164.7"/><circle cx="1257.8" cy="1175.9"/><circle cx="1263.1" cy="1170.5"/><circle cx="1257.4" cy="1114.8"/><circle cx="1262.1" cy="1177.6"/><circle cx="1263.6" cy="1183.8"/><circle cx="1271.5" cy="1184.5"/><circle cx="1270.6" cy="1147.6"/><circle cx="1270.6" cy="1191.1"/><circle cx="1266.3" cy="1240.6"/><circle cx="1272.8" cy="1180.9"/><circle cx="1270.7" cy="1170"/><circle cx="1271.5" cy="1152.3"/><circle cx="1264.2" cy="1138.9"/><circle cx="1265.7" cy="1182.1"/><circle cx="1258.6" cy="1141"/><circle cx="1269.7" cy="1190.4"/><circle cx="1262.6" cy="1177.2"/><circle cx="1272.9" cy="1270.4"/><circle cx="1272.7" cy="1181.8"/><circle cx="1272.3" cy="1176.7"/><circle cx="1267.9" cy="1179"/><circle cx="1270.2" cy="1202.6"/><circle cx="1258" cy="1188.9"/><circle cx="1258.7" cy="1167.1"/><circle cx="1259.5" cy="1173"/><circle cx="1263.5" cy="1174"/><circle cx="1270.6" cy="1170"/><circle cx="1257.6" cy="1200.9"/><circle cx="1270.3" cy="1171.7"/><circle cx="1259.1" cy="1185.2"/><circle cx="1258.1" cy="1164.2"/><circle cx="1256.9" cy="1169.4"/><circle cx="1265.9" cy="1134.5"/><circle cx="1270.7" cy="1149.7"/><circle cx="1267.1" cy="1196.8"/><circle cx="1272.1" cy="1149.5"/><circle cx="1268.3" cy="1186.4"/><circle cx="1270.9" cy="1192"/><circle cx="1262.1" cy="1191.6"/><circle cx="1267.2" cy="1174.1"/><circle cx="1263.4" cy="1185.1"/><circle cx="1264" cy="1168.4"/><circle cx="1270.8" cy="1148.4"/><circle cx="1272.8" cy="1203.2"/><circle cx="1274" cy="1219.3"/><circle cx="1271.4" cy="1173.3"/><circle cx="1264.2" cy="1154.5"/><circle cx="1274.1" cy="1201.6"/><circle cx="1273" cy="1215.7"/><circle cx="1267.9" cy="1179.4"/><circle cx="1262" cy="1139.4"/><circle cx="1265.1" cy="1187.4"/><circle cx="1268.5" cy="1184.4"/><circle cx="1262.5" cy="1165.2"/><circle cx="1256.8" cy="1171.5"/><circle cx="1273.5" cy="1182.6"/><circle cx="1267.4" cy="1170.2"/><circle cx="1264.5" cy="1186.3"/><circle cx="1261" cy="1182.2"/><circle cx="1270.6" cy="1171.2"/><circle cx="1273.8" cy="1178.3"/><circle cx="1269.2" cy="1189.5"/><circle cx="1272.5" cy="1180.2"/><circle cx="1265" cy="1192.1"/><circle cx="1263.6" cy="1183.3"/><circle cx="1271.7" cy="1135.3"/><circle cx="1267.8" cy="1178.4"/><circle cx="1259.4" cy="1172.8"/><circle cx="1267.9" cy="1162"/><circle cx="1261" cy="1193.6"/><circle cx="1271.4" cy="1185.5"/><circle cx="1262.2" cy="1207.9"/><circle cx="1258.8" cy="1198.3"/><circle cx="1271.3" cy="1182.7"/><circle cx="1262" cy="1171.1"/><circle cx="1274.2" cy="1169.1"/><circle cx="1261.9" cy="1200.2"/><circle cx="1259.4" cy="1153.5"/><circle cx="1262.4" cy="1173.7"/><circle cx="1261" cy="1165.7"/><circle cx="1270.6" cy="1171.6"/><circle cx="1264.4" cy="1195.2"/><circle cx="1265.8" cy="1166.2"/></g><g stroke="#333" stroke-width="2.2" fill="none" stroke-opacity="0.9"><line x1="811.9" x2="811.9" y1="1251" y2="1308"/><line x1="811.9" x2="811.9" y1="1345.5" y2="1385"/><rect x="787.6" y="1308" width="48.6" height="37.5"/><line x1="876.7" x2="876.7" y1="1234" y2="1279.2"/><line x1="876.7" x2="876.7" y1="1317.9" y2="1334.4"/><rect x="852.4" y="1279.2" width="48.6" height="38.7"/><line x1="941.5" x2="941.5" y1="1248.3" y2="1269.3"/><line x1="941.5" x2="941.5" y1="1311.3" y2="1365.3"/><rect x="917.2" y="1269.3" width="48.6" height="42"/><line x1="1006.4" x2="1006.4" y1="1155" y2="1198.7"/><line x1="1006.4" x2="1006.4" y1="1231.3" y2="1285"/><rect x="982.1" y="1198.7" width="48.6" height="32.6"/><line x1="1071.2" x2="1071.2" y1="1147" y2="1189.4"/><line x1="1071.2" x2="1071.2" y1="1221.4" y2="1257"/><rect x="1046.9" y="1189.4" width="48.6" height="32"/><line x1="1136" x2="1136" y1="1063" y2="1157.8"/><line x1="1136" x2="1136" y1="1224.1" y2="1307"/><rect x="1111.7" y="1157.8" width="48.6" height="66.3"/><line x1="1200.8" x2="1200.8" y1="1113" y2="1157.8"/><line x1="1200.8" x2="1200.8" y1="1194.3" y2="1247"/><rect x="1176.5" y="1157.8" width="48.6" height="36.5"/><line x1="1265.6" x2="1265.6" y1="1135" y2="1165.1"/><line x1="1265.6" x2="1265.6" y1="1185.4" y2="1215"/><rect x="1241.3" y="1165.1" width="48.6" height="20.3"/></g><g stroke="#333" stroke-width="6" stroke-opacity="0.9"><line x1="786.5" x2="837.3" y1="1326.3" y2="1326.3"/><line x1="851.3" x2="902.1" y1="1302" y2="1302"/><line x1="916.1" x2="966.9" y1="1277" y2="1277"/><line x1="981" x2="1031.8" y1="1215.2" y2="1215.2"/><line x1="1045.8" x2="1096.6" y1="1208.2" y2="1208.2"/><line x1="1110.6" x2="1161.4" y1="1194.3" y2="1194.3"/><line x1="1175.4" x2="1226.2" y1="1173.3" y2="1173.3"/><line x1="1240.2" x2="1291" y1="1173.3" y2="1173.3"/></g><rect x="773.3" y="1001.5" width="530" height="398" fill="none" stroke="#111" stroke-width="3.2"/><g stroke="#111" stroke-width="3"><line x1="761.8" x2="773.3" y1="1118.3" y2="1118.3"/><line x1="761.8" x2="773.3" y1="1239.1" y2="1239.1"/><line x1="761.8" x2="773.3" y1="1359.9" y2="1359.9"/><line x1="811.9" x2="811.9" y1="1399.5" y2="1410"/><line x1="876.7" x2="876.7" y1="1399.5" y2="1410"/><line x1="941.5" x2="941.5" y1="1399.5" y2="1410"/><line x1="1006.4" x2="1006.4" y1="1399.5" y2="1410"/><line x1="1071.2" x2="1071.2" y1="1399.5" y2="1410"/><line x1="1136" x2="1136" y1="1399.5" y2="1410"/><line x1="1200.8" x2="1200.8" y1="1399.5" y2="1410"/><line x1="1265.6" x2="1265.6" y1="1399.5" y2="1410"/></g><g font-size="32" fill="#363636" text-anchor="end"><text transform="translate(757.7 1129.5) scale(0.9 1)">9</text><text transform="translate(757.7 1250.3) scale(0.9 1)">8</text><text transform="translate(757.7 1371.1) scale(0.9 1)">7</text></g><g font-size="29" fill="#363636" text-anchor="end"><text transform="translate(822.4 1416.5) rotate(-90)">Liver</text><text transform="translate(887.2 1416.5) rotate(-90)">Liver (COVID−19)</text><text transform="translate(952 1416.5) rotate(-90)">Liver (Controls)</text><text transform="translate(1016.9 1416.5) rotate(-90)">Small Intestine/Terminal Ileum</text><text transform="translate(1081.7 1416.5) rotate(-90)">Kidney Cortex</text><text transform="translate(1146.5 1416.5) rotate(-90)">Muscle Skeletal</text><text transform="translate(1211.3 1416.5) rotate(-90)">Lung</text><text transform="translate(1276.1 1416.5) rotate(-90)">Brain Cortex</text></g><text transform="translate(723.1 1200.5) rotate(-90)" font-size="35" font-weight="bold" text-anchor="middle" fill="#000">TPM (log2)</text></g></svg></body></html>
